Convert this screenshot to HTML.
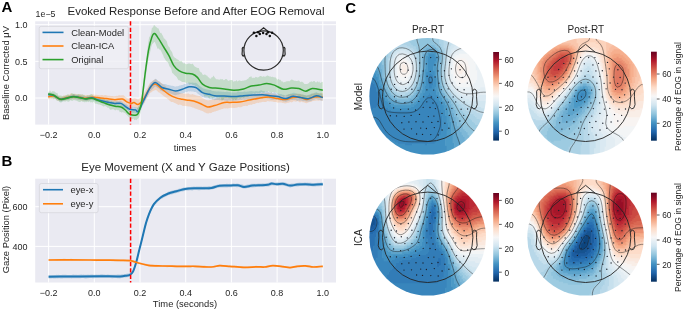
<!DOCTYPE html>
<html><head><meta charset="utf-8"><style>
html,body{margin:0;padding:0;background:#fff;width:685px;height:311px;overflow:hidden;position:relative}
svg text{font-family:"Liberation Sans", sans-serif}
</style></head><body>
<svg width="685" height="311" viewBox="0 0 685 311" style="position:absolute;left:0;top:0;will-change:transform;filter:blur(0.35px)">
<rect width="685" height="311" fill="#fff"/>
<rect x="35.2" y="21.3" width="300.8" height="103.3" fill="#EAEAF2"/>
<line x1="48.60" y1="21.3" x2="48.60" y2="124.6" stroke="#fff" stroke-width="1"/>
<line x1="94.30" y1="21.3" x2="94.30" y2="124.6" stroke="#fff" stroke-width="1"/>
<line x1="140.00" y1="21.3" x2="140.00" y2="124.6" stroke="#fff" stroke-width="1"/>
<line x1="185.70" y1="21.3" x2="185.70" y2="124.6" stroke="#fff" stroke-width="1"/>
<line x1="231.40" y1="21.3" x2="231.40" y2="124.6" stroke="#fff" stroke-width="1"/>
<line x1="277.10" y1="21.3" x2="277.10" y2="124.6" stroke="#fff" stroke-width="1"/>
<line x1="322.80" y1="21.3" x2="322.80" y2="124.6" stroke="#fff" stroke-width="1"/>
<line x1="35.2" y1="98.00" x2="336.0" y2="98.00" stroke="#fff" stroke-width="1"/>
<line x1="35.2" y1="61.35" x2="336.0" y2="61.35" stroke="#fff" stroke-width="1"/>
<line x1="35.2" y1="24.70" x2="336.0" y2="24.70" stroke="#fff" stroke-width="1"/>
<path d="M48.2,94.5 L49.1,94.3 L50.0,94.5 L51.0,94.4 L51.9,94.2 L52.8,93.9 L53.7,93.8 L54.6,94.2 L55.5,94.4 L56.5,94.9 L57.4,95.3 L58.3,95.9 L59.2,96.3 L60.1,96.4 L61.1,96.7 L62.0,96.4 L62.9,96.1 L63.8,95.7 L64.7,95.4 L65.6,95.3 L66.6,95.2 L67.5,94.9 L68.4,94.5 L69.3,94.7 L70.2,93.7 L71.2,93.2 L72.1,93.7 L73.0,94.1 L73.9,94.1 L74.8,93.6 L75.8,94.0 L76.7,94.3 L77.6,94.4 L78.5,94.0 L79.4,93.9 L80.3,94.7 L81.3,94.6 L82.2,94.6 L83.1,95.0 L84.0,95.2 L84.9,95.1 L85.9,95.2 L86.8,95.1 L87.7,95.1 L88.6,95.0 L89.5,95.1 L90.4,94.8 L91.4,94.7 L92.3,94.5 L93.2,94.3 L94.1,94.7 L95.0,94.8 L96.0,94.8 L96.9,94.7 L97.8,94.9 L98.7,94.9 L99.6,95.2 L100.5,95.2 L101.5,94.9 L102.4,95.0 L103.3,95.4 L104.2,95.3 L105.1,95.1 L106.1,95.2 L107.0,95.4 L107.9,95.8 L108.8,95.8 L109.7,95.8 L110.7,95.9 L111.6,96.1 L112.5,95.9 L113.4,96.3 L114.3,96.3 L115.2,96.3 L116.2,95.7 L117.1,95.9 L118.0,95.7 L118.9,95.3 L119.8,95.2 L120.8,95.5 L121.7,95.3 L122.6,95.3 L123.5,95.3 L124.4,96.1 L125.3,97.1 L126.3,97.5 L127.2,98.2 L128.1,98.4 L129.0,98.5 L129.9,98.5 L130.9,98.9 L131.8,98.9 L132.7,98.8 L133.6,98.4 L134.5,98.2 L135.4,98.6 L136.4,98.7 L137.3,99.2 L138.2,99.7 L139.1,98.8 L140.0,98.2 L141.0,97.3 L141.9,96.0 L142.8,94.9 L143.7,93.6 L144.6,92.4 L145.5,90.4 L146.5,89.1 L147.4,87.7 L148.3,85.8 L149.2,84.3 L150.1,82.6 L151.1,81.9 L152.0,81.3 L152.9,80.6 L153.8,80.0 L154.7,79.5 L155.7,79.0 L156.6,80.0 L157.5,80.4 L158.4,81.2 L159.3,81.4 L160.2,81.8 L161.2,83.2 L162.1,83.5 L163.0,84.6 L163.9,84.9 L164.8,85.6 L165.8,86.5 L166.7,86.9 L167.6,87.9 L168.5,88.6 L169.4,89.0 L170.3,89.5 L171.3,89.8 L172.2,90.1 L173.1,90.3 L174.0,90.9 L174.9,91.1 L175.9,91.4 L176.8,92.0 L177.7,92.3 L178.6,92.2 L179.5,92.7 L180.4,93.0 L181.4,93.2 L182.3,93.3 L183.2,93.4 L184.1,93.5 L185.0,93.7 L186.0,93.6 L186.9,93.7 L187.8,93.4 L188.7,93.5 L189.6,94.2 L190.6,94.4 L191.5,94.4 L192.4,93.9 L193.3,94.4 L194.2,94.7 L195.1,95.1 L196.1,95.4 L197.0,95.6 L197.9,96.1 L198.8,96.1 L199.7,96.0 L200.7,96.6 L201.6,97.3 L202.5,98.1 L203.4,98.4 L204.3,99.1 L205.2,99.6 L206.2,100.0 L207.1,100.1 L208.0,100.5 L208.9,100.2 L209.8,100.1 L210.8,99.9 L211.7,99.9 L212.6,99.2 L213.5,99.2 L214.4,99.5 L215.3,98.8 L216.3,98.3 L217.2,98.1 L218.1,98.3 L219.0,97.9 L219.9,97.5 L220.9,97.5 L221.8,97.1 L222.7,97.1 L223.6,96.6 L224.5,96.8 L225.5,96.5 L226.4,95.8 L227.3,96.8 L228.2,96.9 L229.1,96.5 L230.0,96.9 L231.0,96.7 L231.9,96.3 L232.8,96.3 L233.7,96.7 L234.6,96.6 L235.6,96.9 L236.5,96.5 L237.4,96.8 L238.3,96.9 L239.2,96.8 L240.1,96.7 L241.1,96.7 L242.0,96.5 L242.9,96.1 L243.8,96.1 L244.7,95.7 L245.7,95.6 L246.6,95.4 L247.5,95.5 L248.4,95.5 L249.3,95.3 L250.2,95.2 L251.2,95.1 L252.1,94.9 L253.0,94.6 L253.9,94.4 L254.8,93.9 L255.8,94.1 L256.7,93.8 L257.6,93.8 L258.5,93.6 L259.4,93.9 L260.3,93.7 L261.3,93.2 L262.2,93.1 L263.1,93.2 L264.0,93.3 L264.9,93.3 L265.9,93.0 L266.8,93.0 L267.7,92.7 L268.6,92.8 L269.5,93.2 L270.5,93.0 L271.4,93.6 L272.3,93.8 L273.2,94.0 L274.1,93.8 L275.0,94.1 L276.0,94.5 L276.9,94.7 L277.8,95.0 L278.7,95.1 L279.6,95.2 L280.6,95.4 L281.5,95.4 L282.4,95.5 L283.3,95.4 L284.2,95.8 L285.1,95.9 L286.1,95.7 L287.0,95.5 L287.9,94.8 L288.8,94.6 L289.7,94.2 L290.7,94.1 L291.6,94.1 L292.5,93.9 L293.4,93.9 L294.3,94.1 L295.2,93.9 L296.2,93.8 L297.1,93.4 L298.0,93.8 L298.9,94.1 L299.8,93.7 L300.8,93.9 L301.7,94.3 L302.6,94.4 L303.5,94.7 L304.4,95.2 L305.4,95.3 L306.3,95.9 L307.2,95.7 L308.1,95.3 L309.0,95.2 L309.9,94.9 L310.9,94.6 L311.8,93.8 L312.7,93.4 L313.6,93.1 L314.5,93.5 L315.5,93.4 L316.4,93.0 L317.3,93.2 L318.2,93.2 L319.1,93.4 L320.0,93.5 L321.0,93.1 L321.9,92.9 L322.8,93.1 L322.8,100.8 L321.9,100.9 L321.0,100.5 L320.0,100.5 L319.1,100.5 L318.2,100.7 L317.3,100.6 L316.4,100.6 L315.5,100.8 L314.5,100.7 L313.6,101.0 L312.7,101.1 L311.8,101.4 L310.9,102.0 L309.9,101.9 L309.0,102.3 L308.1,102.6 L307.2,103.1 L306.3,103.2 L305.4,102.9 L304.4,102.4 L303.5,102.2 L302.6,102.2 L301.7,101.5 L300.8,102.1 L299.8,102.4 L298.9,101.8 L298.0,101.2 L297.1,101.1 L296.2,101.8 L295.2,101.4 L294.3,101.3 L293.4,101.2 L292.5,101.9 L291.6,102.4 L290.7,101.9 L289.7,102.3 L288.8,102.7 L287.9,102.7 L287.0,102.9 L286.1,103.3 L285.1,103.5 L284.2,103.3 L283.3,103.1 L282.4,102.9 L281.5,102.5 L280.6,102.5 L279.6,102.4 L278.7,102.5 L277.8,102.7 L276.9,102.2 L276.0,102.0 L275.0,102.0 L274.1,102.0 L273.2,101.7 L272.3,101.6 L271.4,101.4 L270.5,101.3 L269.5,101.5 L268.6,101.3 L267.7,101.1 L266.8,101.4 L265.9,101.9 L264.9,102.0 L264.0,102.0 L263.1,101.8 L262.2,102.1 L261.3,102.3 L260.3,102.4 L259.4,102.5 L258.5,102.9 L257.6,102.8 L256.7,103.1 L255.8,103.3 L254.8,104.0 L253.9,103.9 L253.0,104.1 L252.1,104.6 L251.2,104.9 L250.2,104.6 L249.3,104.9 L248.4,105.1 L247.5,105.9 L246.6,105.9 L245.7,105.7 L244.7,106.1 L243.8,106.1 L242.9,106.3 L242.0,106.7 L241.1,107.2 L240.1,107.3 L239.2,107.3 L238.3,107.1 L237.4,107.4 L236.5,107.7 L235.6,107.7 L234.6,108.0 L233.7,107.9 L232.8,107.8 L231.9,108.1 L231.0,107.8 L230.0,107.8 L229.1,108.2 L228.2,108.3 L227.3,108.5 L226.4,108.2 L225.5,108.6 L224.5,108.2 L223.6,108.4 L222.7,108.9 L221.8,109.1 L220.9,109.5 L219.9,109.8 L219.0,110.1 L218.1,110.5 L217.2,110.7 L216.3,110.9 L215.3,111.5 L214.4,111.5 L213.5,112.0 L212.6,112.1 L211.7,112.8 L210.8,113.3 L209.8,112.8 L208.9,113.5 L208.0,113.2 L207.1,113.4 L206.2,113.0 L205.2,112.4 L204.3,112.2 L203.4,111.5 L202.5,111.1 L201.6,110.7 L200.7,110.4 L199.7,110.1 L198.8,109.8 L197.9,109.6 L197.0,108.9 L196.1,108.7 L195.1,108.5 L194.2,107.9 L193.3,107.5 L192.4,107.6 L191.5,107.1 L190.6,106.8 L189.6,106.6 L188.7,106.4 L187.8,106.3 L186.9,106.2 L186.0,105.9 L185.0,105.9 L184.1,105.7 L183.2,106.0 L182.3,105.8 L181.4,105.0 L180.4,104.7 L179.5,104.6 L178.6,105.0 L177.7,104.4 L176.8,104.0 L175.9,103.5 L174.9,103.0 L174.0,102.7 L173.1,102.1 L172.2,101.9 L171.3,101.9 L170.3,101.3 L169.4,100.5 L168.5,99.6 L167.6,99.0 L166.7,98.1 L165.8,97.4 L164.8,96.7 L163.9,96.3 L163.0,95.4 L162.1,94.8 L161.2,94.0 L160.2,93.3 L159.3,92.5 L158.4,92.2 L157.5,91.3 L156.6,90.2 L155.7,89.9 L154.7,90.2 L153.8,90.7 L152.9,90.9 L152.0,91.7 L151.1,92.4 L150.1,92.8 L149.2,94.5 L148.3,95.8 L147.4,97.5 L146.5,98.8 L145.5,100.6 L144.6,102.9 L143.7,103.4 L142.8,104.5 L141.9,105.8 L141.0,106.3 L140.0,107.5 L139.1,108.8 L138.2,109.4 L137.3,108.6 L136.4,108.2 L135.4,107.5 L134.5,107.5 L133.6,107.0 L132.7,107.2 L131.8,107.4 L130.9,107.6 L129.9,107.1 L129.0,106.7 L128.1,106.7 L127.2,106.2 L126.3,105.9 L125.3,105.2 L124.4,104.6 L123.5,103.7 L122.6,102.9 L121.7,102.8 L120.8,102.9 L119.8,102.8 L118.9,102.9 L118.0,103.2 L117.1,103.3 L116.2,103.6 L115.2,103.3 L114.3,103.4 L113.4,103.1 L112.5,103.0 L111.6,102.4 L110.7,102.4 L109.7,102.7 L108.8,102.5 L107.9,102.1 L107.0,101.8 L106.1,101.6 L105.1,101.6 L104.2,101.4 L103.3,101.4 L102.4,101.1 L101.5,100.7 L100.5,101.0 L99.6,100.5 L98.7,100.4 L97.8,100.3 L96.9,100.5 L96.0,100.4 L95.0,100.1 L94.1,100.0 L93.2,99.8 L92.3,99.8 L91.4,99.9 L90.4,100.0 L89.5,100.2 L88.6,100.4 L87.7,100.7 L86.8,100.6 L85.9,100.7 L84.9,100.6 L84.0,100.4 L83.1,100.7 L82.2,100.5 L81.3,100.5 L80.3,100.3 L79.4,99.8 L78.5,99.7 L77.6,99.5 L76.7,99.1 L75.8,99.2 L74.8,99.2 L73.9,99.5 L73.0,99.0 L72.1,98.9 L71.2,99.5 L70.2,99.4 L69.3,99.4 L68.4,99.7 L67.5,99.9 L66.6,99.9 L65.6,100.3 L64.7,100.2 L63.8,100.4 L62.9,100.8 L62.0,100.8 L61.1,101.1 L60.1,101.1 L59.2,101.1 L58.3,100.8 L57.4,100.4 L56.5,99.4 L55.5,99.0 L54.6,99.0 L53.7,98.4 L52.8,98.5 L51.9,98.4 L51.0,98.5 L50.0,99.0 L49.1,99.3 L48.2,99.2Z" fill="#ff7f0e" fill-opacity="0.2"/>
<path d="M48.2,92.9 L49.1,93.0 L50.0,92.6 L51.0,93.2 L51.9,93.5 L52.8,93.2 L53.7,93.5 L54.6,94.2 L55.5,94.8 L56.5,95.3 L57.4,95.9 L58.3,96.4 L59.2,96.7 L60.1,97.4 L61.1,97.4 L62.0,97.1 L62.9,97.1 L63.8,96.9 L64.7,96.5 L65.6,96.5 L66.6,96.3 L67.5,95.9 L68.4,95.8 L69.3,95.7 L70.2,95.5 L71.2,94.9 L72.1,94.8 L73.0,94.6 L73.9,93.8 L74.8,94.5 L75.8,95.0 L76.7,94.8 L77.6,95.0 L78.5,95.1 L79.4,95.4 L80.3,95.7 L81.3,95.8 L82.2,96.1 L83.1,96.2 L84.0,96.3 L84.9,96.4 L85.9,96.7 L86.8,96.8 L87.7,96.2 L88.6,96.4 L89.5,96.3 L90.4,95.8 L91.4,95.9 L92.3,96.0 L93.2,96.4 L94.1,96.6 L95.0,97.0 L96.0,97.3 L96.9,97.3 L97.8,97.4 L98.7,97.4 L99.6,97.6 L100.5,98.1 L101.5,98.6 L102.4,98.9 L103.3,99.2 L104.2,99.4 L105.1,99.6 L106.1,99.8 L107.0,100.0 L107.9,99.9 L108.8,99.5 L109.7,100.1 L110.7,100.5 L111.6,100.3 L112.5,100.7 L113.4,100.9 L114.3,101.2 L115.2,101.2 L116.2,101.1 L117.1,100.8 L118.0,101.2 L118.9,101.0 L119.8,100.7 L120.8,101.1 L121.7,101.6 L122.6,102.3 L123.5,102.9 L124.4,103.5 L125.3,103.9 L126.3,104.3 L127.2,105.1 L128.1,105.8 L129.0,106.4 L129.9,106.6 L130.9,107.0 L131.8,106.9 L132.7,106.8 L133.6,107.0 L134.5,107.0 L135.4,107.1 L136.4,107.4 L137.3,107.7 L138.2,108.1 L139.1,106.4 L140.0,104.6 L141.0,102.8 L141.9,100.9 L142.8,98.8 L143.7,96.5 L144.6,94.7 L145.5,93.0 L146.5,91.3 L147.4,89.7 L148.3,87.5 L149.2,85.8 L150.1,84.0 L151.1,82.6 L152.0,82.0 L152.9,81.0 L153.8,80.3 L154.7,79.3 L155.7,78.8 L156.6,79.3 L157.5,80.4 L158.4,81.0 L159.3,81.6 L160.2,82.4 L161.2,82.9 L162.1,83.7 L163.0,84.0 L163.9,83.9 L164.8,84.0 L165.8,84.2 L166.7,84.5 L167.6,85.1 L168.5,84.9 L169.4,85.3 L170.3,85.6 L171.3,85.8 L172.2,85.8 L173.1,86.1 L174.0,86.1 L174.9,86.8 L175.9,86.6 L176.8,86.3 L177.7,86.2 L178.6,86.1 L179.5,85.6 L180.4,85.6 L181.4,85.1 L182.3,84.9 L183.2,84.7 L184.1,84.0 L185.0,84.0 L186.0,83.8 L186.9,83.1 L187.8,82.9 L188.7,82.5 L189.6,82.6 L190.6,82.8 L191.5,82.8 L192.4,82.6 L193.3,82.8 L194.2,83.0 L195.1,82.8 L196.1,83.0 L197.0,83.5 L197.9,84.5 L198.8,85.2 L199.7,86.1 L200.7,86.8 L201.6,87.3 L202.5,88.0 L203.4,88.5 L204.3,88.7 L205.2,89.0 L206.2,89.2 L207.1,89.4 L208.0,89.6 L208.9,89.9 L209.8,90.0 L210.8,89.9 L211.7,90.8 L212.6,90.9 L213.5,91.1 L214.4,91.3 L215.3,91.2 L216.3,91.5 L217.2,91.4 L218.1,91.3 L219.0,91.4 L219.9,91.6 L220.9,91.5 L221.8,91.7 L222.7,91.8 L223.6,91.8 L224.5,92.0 L225.5,92.0 L226.4,91.8 L227.3,91.7 L228.2,92.1 L229.1,92.3 L230.0,92.1 L231.0,92.5 L231.9,92.2 L232.8,92.5 L233.7,92.6 L234.6,92.4 L235.6,92.4 L236.5,92.5 L237.4,91.8 L238.3,91.6 L239.2,92.1 L240.1,92.0 L241.1,91.9 L242.0,92.1 L242.9,91.9 L243.8,91.8 L244.7,91.6 L245.7,91.8 L246.6,91.7 L247.5,91.5 L248.4,91.5 L249.3,91.3 L250.2,91.3 L251.2,91.1 L252.1,91.3 L253.0,91.2 L253.9,91.4 L254.8,91.4 L255.8,91.1 L256.7,91.2 L257.6,91.2 L258.5,91.4 L259.4,91.1 L260.3,90.5 L261.3,90.2 L262.2,90.8 L263.1,91.2 L264.0,91.1 L264.9,91.4 L265.9,91.3 L266.8,91.6 L267.7,91.4 L268.6,91.8 L269.5,92.2 L270.5,92.4 L271.4,92.5 L272.3,92.8 L273.2,92.7 L274.1,92.3 L275.0,92.5 L276.0,93.0 L276.9,93.4 L277.8,93.3 L278.7,93.7 L279.6,93.9 L280.6,93.9 L281.5,94.1 L282.4,94.8 L283.3,94.8 L284.2,94.9 L285.1,95.4 L286.1,95.1 L287.0,94.7 L287.9,94.6 L288.8,94.1 L289.7,94.1 L290.7,93.5 L291.6,93.4 L292.5,92.9 L293.4,92.7 L294.3,92.7 L295.2,93.0 L296.2,93.4 L297.1,93.8 L298.0,93.9 L298.9,93.8 L299.8,94.0 L300.8,94.3 L301.7,94.7 L302.6,94.5 L303.5,94.7 L304.4,94.9 L305.4,95.2 L306.3,95.3 L307.2,95.2 L308.1,95.0 L309.0,94.7 L309.9,94.5 L310.9,94.1 L311.8,93.6 L312.7,93.8 L313.6,93.7 L314.5,92.7 L315.5,92.5 L316.4,92.0 L317.3,92.8 L318.2,93.0 L319.1,93.4 L320.0,93.2 L321.0,93.3 L321.9,93.9 L322.8,94.6 L322.8,100.7 L321.9,100.5 L321.0,100.7 L320.0,100.0 L319.1,99.6 L318.2,99.8 L317.3,99.3 L316.4,98.9 L315.5,99.1 L314.5,99.5 L313.6,99.7 L312.7,100.1 L311.8,100.7 L310.9,100.9 L309.9,101.2 L309.0,101.6 L308.1,101.6 L307.2,101.4 L306.3,101.6 L305.4,101.2 L304.4,101.1 L303.5,101.2 L302.6,101.0 L301.7,100.8 L300.8,100.6 L299.8,100.8 L298.9,100.5 L298.0,100.4 L297.1,100.9 L296.2,100.3 L295.2,99.8 L294.3,99.9 L293.4,99.7 L292.5,99.9 L291.6,100.0 L290.7,100.1 L289.7,100.5 L288.8,100.7 L287.9,101.0 L287.0,101.4 L286.1,101.7 L285.1,101.8 L284.2,101.3 L283.3,101.5 L282.4,101.0 L281.5,100.6 L280.6,100.8 L279.6,100.3 L278.7,100.0 L277.8,99.7 L276.9,99.7 L276.0,99.5 L275.0,99.4 L274.1,99.6 L273.2,99.7 L272.3,99.8 L271.4,99.8 L270.5,99.4 L269.5,99.0 L268.6,98.8 L267.7,98.7 L266.8,98.6 L265.9,98.5 L264.9,98.4 L264.0,98.3 L263.1,98.5 L262.2,99.1 L261.3,98.7 L260.3,98.4 L259.4,98.8 L258.5,98.6 L257.6,98.5 L256.7,98.5 L255.8,98.5 L254.8,98.7 L253.9,99.0 L253.0,98.7 L252.1,99.0 L251.2,99.3 L250.2,99.0 L249.3,99.1 L248.4,99.0 L247.5,99.1 L246.6,99.2 L245.7,99.5 L244.7,99.7 L243.8,99.6 L242.9,99.6 L242.0,99.7 L241.1,100.1 L240.1,99.8 L239.2,100.1 L238.3,100.3 L237.4,100.3 L236.5,100.4 L235.6,100.4 L234.6,100.6 L233.7,100.8 L232.8,100.9 L231.9,101.0 L231.0,100.9 L230.0,100.6 L229.1,100.4 L228.2,100.6 L227.3,100.9 L226.4,100.8 L225.5,100.5 L224.5,100.4 L223.6,100.1 L222.7,100.3 L221.8,100.2 L220.9,100.0 L219.9,100.4 L219.0,100.0 L218.1,100.1 L217.2,99.9 L216.3,100.0 L215.3,100.1 L214.4,100.3 L213.5,99.6 L212.6,99.5 L211.7,99.3 L210.8,99.0 L209.8,98.9 L208.9,98.6 L208.0,98.3 L207.1,98.3 L206.2,98.2 L205.2,98.0 L204.3,97.7 L203.4,97.1 L202.5,97.2 L201.6,96.4 L200.7,95.7 L199.7,94.9 L198.8,94.5 L197.9,93.7 L197.0,93.2 L196.1,92.0 L195.1,91.9 L194.2,91.9 L193.3,91.6 L192.4,91.4 L191.5,91.5 L190.6,91.2 L189.6,91.4 L188.7,91.3 L187.8,91.4 L186.9,92.2 L186.0,92.1 L185.0,92.3 L184.1,93.0 L183.2,93.1 L182.3,93.5 L181.4,93.6 L180.4,93.7 L179.5,94.0 L178.6,94.4 L177.7,94.6 L176.8,94.7 L175.9,95.2 L174.9,95.1 L174.0,95.0 L173.1,94.5 L172.2,94.2 L171.3,93.7 L170.3,93.5 L169.4,93.4 L168.5,93.3 L167.6,92.7 L166.7,92.5 L165.8,92.3 L164.8,92.0 L163.9,91.8 L163.0,91.6 L162.1,91.3 L161.2,90.8 L160.2,90.4 L159.3,89.1 L158.4,88.5 L157.5,87.9 L156.6,87.2 L155.7,86.6 L154.7,86.7 L153.8,87.7 L152.9,88.8 L152.0,89.6 L151.1,90.4 L150.1,91.5 L149.2,93.1 L148.3,94.8 L147.4,96.6 L146.5,98.2 L145.5,100.0 L144.6,102.1 L143.7,104.0 L142.8,105.5 L141.9,107.3 L141.0,109.3 L140.0,110.9 L139.1,113.1 L138.2,114.3 L137.3,113.7 L136.4,113.3 L135.4,112.7 L134.5,112.4 L133.6,112.9 L132.7,112.8 L131.8,112.1 L130.9,111.9 L129.9,111.8 L129.0,111.0 L128.1,110.5 L127.2,110.0 L126.3,109.5 L125.3,108.6 L124.4,108.0 L123.5,107.6 L122.6,107.0 L121.7,106.6 L120.8,105.9 L119.8,106.1 L118.9,105.9 L118.0,105.9 L117.1,105.7 L116.2,105.6 L115.2,105.9 L114.3,105.7 L113.4,105.5 L112.5,105.1 L111.6,105.3 L110.7,105.7 L109.7,105.9 L108.8,105.0 L107.9,104.5 L107.0,104.5 L106.1,104.1 L105.1,104.2 L104.2,103.7 L103.3,103.8 L102.4,103.3 L101.5,102.8 L100.5,102.5 L99.6,102.3 L98.7,101.9 L97.8,101.9 L96.9,102.1 L96.0,101.7 L95.0,101.0 L94.1,100.5 L93.2,100.4 L92.3,100.0 L91.4,99.9 L90.4,100.3 L89.5,100.5 L88.6,100.2 L87.7,100.6 L86.8,100.9 L85.9,100.7 L84.9,100.7 L84.0,100.6 L83.1,100.2 L82.2,100.2 L81.3,99.8 L80.3,99.9 L79.4,99.6 L78.5,99.6 L77.6,99.6 L76.7,99.5 L75.8,99.3 L74.8,98.8 L73.9,98.5 L73.0,98.6 L72.1,99.0 L71.2,99.2 L70.2,99.2 L69.3,99.2 L68.4,99.7 L67.5,99.8 L66.6,99.9 L65.6,100.0 L64.7,100.2 L63.8,100.5 L62.9,101.0 L62.0,101.4 L61.1,101.5 L60.1,101.6 L59.2,101.1 L58.3,100.1 L57.4,99.3 L56.5,99.4 L55.5,98.7 L54.6,98.3 L53.7,97.3 L52.8,97.3 L51.9,97.0 L51.0,97.2 L50.0,97.3 L49.1,96.7 L48.2,96.2Z" fill="#1f77b4" fill-opacity="0.2"/>
<path d="M48.2,91.4 L49.1,91.9 L50.0,90.3 L51.0,92.0 L51.9,91.8 L52.8,91.0 L53.7,91.4 L54.6,91.5 L55.5,92.6 L56.5,92.9 L57.4,93.1 L58.3,95.5 L59.2,95.5 L60.1,95.6 L61.1,95.5 L62.0,96.1 L62.9,96.5 L63.8,95.6 L64.7,95.9 L65.6,95.6 L66.6,95.0 L67.5,94.3 L68.4,94.5 L69.3,95.2 L70.2,95.0 L71.2,93.4 L72.1,93.2 L73.0,93.6 L73.9,94.1 L74.8,94.5 L75.8,94.6 L76.7,94.7 L77.6,94.2 L78.5,94.1 L79.4,94.4 L80.3,94.0 L81.3,94.8 L82.2,93.9 L83.1,94.9 L84.0,94.6 L84.9,95.9 L85.9,96.1 L86.8,95.8 L87.7,95.3 L88.6,95.4 L89.5,95.1 L90.4,94.4 L91.4,94.1 L92.3,94.5 L93.2,95.5 L94.1,96.5 L95.0,96.5 L96.0,97.1 L96.9,96.9 L97.8,97.6 L98.7,97.7 L99.6,96.5 L100.5,97.9 L101.5,98.4 L102.4,99.3 L103.3,99.2 L104.2,98.5 L105.1,100.5 L106.1,99.4 L107.0,99.8 L107.9,100.1 L108.8,101.2 L109.7,101.9 L110.7,101.4 L111.6,101.0 L112.5,102.3 L113.4,102.1 L114.3,103.1 L115.2,102.9 L116.2,102.3 L117.1,103.1 L118.0,103.5 L118.9,103.1 L119.8,102.5 L120.8,103.7 L121.7,104.0 L122.6,103.0 L123.5,103.9 L124.4,104.8 L125.3,106.4 L126.3,107.1 L127.2,107.2 L128.1,109.4 L129.0,109.9 L129.9,110.7 L130.9,109.4 L131.8,110.4 L132.7,110.4 L133.6,110.3 L134.5,108.9 L135.4,108.4 L136.4,109.9 L137.3,108.3 L138.2,106.3 L139.1,105.4 L140.0,102.7 L141.0,98.9 L141.9,94.4 L142.8,87.1 L143.7,79.5 L144.6,71.4 L145.5,64.4 L146.5,57.8 L147.4,49.4 L148.3,42.2 L149.2,37.0 L150.1,36.2 L151.1,32.4 L152.0,27.4 L152.9,27.8 L153.8,25.2 L154.7,25.3 L155.7,26.8 L156.6,27.3 L157.5,28.3 L158.4,28.2 L159.3,30.5 L160.2,33.1 L161.2,32.8 L162.1,34.5 L163.0,35.9 L163.9,38.6 L164.8,38.8 L165.8,40.3 L166.7,41.0 L167.6,44.4 L168.5,46.5 L169.4,46.9 L170.3,49.8 L171.3,51.1 L172.2,52.6 L173.1,55.6 L174.0,57.1 L174.9,57.7 L175.9,58.3 L176.8,59.2 L177.7,59.5 L178.6,59.9 L179.5,61.1 L180.4,61.2 L181.4,60.8 L182.3,61.9 L183.2,63.6 L184.1,63.0 L185.0,63.5 L186.0,64.2 L186.9,64.2 L187.8,63.8 L188.7,63.5 L189.6,63.5 L190.6,64.1 L191.5,64.2 L192.4,63.6 L193.3,64.5 L194.2,66.0 L195.1,66.7 L196.1,67.2 L197.0,67.8 L197.9,68.0 L198.8,68.0 L199.7,71.1 L200.7,72.2 L201.6,72.6 L202.5,74.6 L203.4,75.1 L204.3,74.6 L205.2,74.5 L206.2,75.4 L207.1,75.5 L208.0,76.9 L208.9,77.6 L209.8,78.4 L210.8,78.7 L211.7,77.3 L212.6,77.2 L213.5,75.5 L214.4,77.1 L215.3,78.2 L216.3,79.3 L217.2,79.2 L218.1,79.5 L219.0,79.4 L219.9,79.7 L220.9,78.7 L221.8,79.5 L222.7,78.9 L223.6,80.2 L224.5,80.1 L225.5,79.1 L226.4,78.9 L227.3,79.8 L228.2,81.1 L229.1,80.4 L230.0,80.2 L231.0,80.0 L231.9,80.1 L232.8,80.5 L233.7,82.0 L234.6,80.9 L235.6,81.2 L236.5,80.1 L237.4,81.5 L238.3,80.9 L239.2,80.3 L240.1,80.7 L241.1,81.1 L242.0,80.9 L242.9,80.4 L243.8,80.7 L244.7,80.2 L245.7,80.2 L246.6,79.8 L247.5,78.9 L248.4,78.6 L249.3,77.0 L250.2,77.1 L251.2,76.1 L252.1,78.2 L253.0,77.5 L253.9,77.9 L254.8,77.8 L255.8,76.8 L256.7,77.3 L257.6,77.5 L258.5,77.2 L259.4,76.6 L260.3,75.9 L261.3,76.0 L262.2,77.1 L263.1,76.3 L264.0,76.6 L264.9,76.7 L265.9,76.5 L266.8,75.8 L267.7,75.5 L268.6,76.1 L269.5,76.5 L270.5,76.5 L271.4,77.0 L272.3,76.8 L273.2,76.9 L274.1,77.4 L275.0,77.3 L276.0,77.7 L276.9,79.3 L277.8,79.7 L278.7,78.7 L279.6,79.9 L280.6,79.8 L281.5,81.6 L282.4,81.3 L283.3,82.4 L284.2,81.9 L285.1,82.2 L286.1,81.2 L287.0,81.5 L287.9,81.0 L288.8,81.2 L289.7,81.2 L290.7,80.1 L291.6,79.6 L292.5,79.8 L293.4,80.3 L294.3,80.7 L295.2,80.8 L296.2,80.9 L297.1,81.1 L298.0,80.7 L298.9,80.5 L299.8,81.6 L300.8,82.3 L301.7,81.6 L302.6,81.9 L303.5,82.8 L304.4,83.9 L305.4,83.9 L306.3,84.0 L307.2,83.9 L308.1,83.5 L309.0,82.9 L309.9,81.7 L310.9,81.8 L311.8,81.3 L312.7,81.9 L313.6,81.0 L314.5,81.1 L315.5,82.3 L316.4,82.4 L317.3,81.0 L318.2,82.4 L319.1,81.3 L320.0,82.7 L321.0,82.7 L321.9,81.8 L322.8,81.9 L322.8,97.1 L321.9,96.7 L321.0,98.3 L320.0,96.7 L319.1,97.0 L318.2,97.8 L317.3,97.5 L316.4,97.8 L315.5,97.0 L314.5,97.2 L313.6,97.3 L312.7,95.3 L311.8,96.1 L310.9,97.0 L309.9,97.4 L309.0,97.0 L308.1,96.8 L307.2,97.9 L306.3,97.8 L305.4,98.1 L304.4,98.1 L303.5,98.2 L302.6,97.5 L301.7,96.2 L300.8,95.8 L299.8,96.9 L298.9,96.5 L298.0,95.9 L297.1,95.2 L296.2,94.9 L295.2,94.9 L294.3,94.9 L293.4,95.4 L292.5,95.6 L291.6,95.4 L290.7,96.0 L289.7,95.5 L288.8,96.7 L287.9,96.1 L287.0,96.8 L286.1,95.8 L285.1,95.9 L284.2,96.2 L283.3,96.7 L282.4,96.0 L281.5,95.8 L280.6,95.8 L279.6,95.6 L278.7,95.0 L277.8,94.0 L276.9,92.9 L276.0,92.8 L275.0,92.2 L274.1,92.4 L273.2,91.9 L272.3,92.0 L271.4,93.3 L270.5,92.2 L269.5,91.9 L268.6,91.1 L267.7,91.4 L266.8,92.2 L265.9,90.8 L264.9,92.4 L264.0,92.6 L263.1,92.9 L262.2,92.2 L261.3,92.0 L260.3,93.1 L259.4,93.8 L258.5,93.0 L257.6,93.5 L256.7,92.9 L255.8,93.4 L254.8,94.3 L253.9,93.6 L253.0,93.5 L252.1,94.1 L251.2,95.0 L250.2,94.3 L249.3,94.9 L248.4,96.9 L247.5,96.9 L246.6,97.0 L245.7,96.5 L244.7,97.0 L243.8,98.2 L242.9,97.0 L242.0,97.7 L241.1,97.7 L240.1,99.0 L239.2,98.0 L238.3,98.0 L237.4,98.2 L236.5,99.6 L235.6,100.2 L234.6,98.7 L233.7,99.8 L232.8,99.8 L231.9,98.7 L231.0,98.3 L230.0,98.2 L229.1,98.5 L228.2,98.0 L227.3,97.8 L226.4,98.1 L225.5,97.9 L224.5,97.8 L223.6,99.5 L222.7,100.1 L221.8,100.9 L220.9,97.8 L219.9,97.7 L219.0,99.0 L218.1,97.3 L217.2,98.5 L216.3,97.2 L215.3,96.8 L214.4,97.4 L213.5,97.5 L212.6,98.7 L211.7,97.7 L210.8,96.6 L209.8,98.3 L208.9,97.9 L208.0,97.6 L207.1,95.9 L206.2,96.7 L205.2,96.3 L204.3,96.7 L203.4,94.3 L202.5,93.3 L201.6,93.4 L200.7,91.2 L199.7,90.6 L198.8,89.7 L197.9,87.3 L197.0,86.4 L196.1,86.0 L195.1,85.7 L194.2,85.1 L193.3,85.0 L192.4,84.8 L191.5,84.0 L190.6,84.1 L189.6,84.7 L188.7,83.8 L187.8,82.4 L186.9,83.2 L186.0,83.0 L185.0,82.2 L184.1,81.9 L183.2,81.9 L182.3,81.9 L181.4,81.5 L180.4,80.7 L179.5,80.3 L178.6,80.3 L177.7,79.1 L176.8,77.3 L175.9,76.2 L174.9,75.4 L174.0,74.5 L173.1,73.5 L172.2,72.9 L171.3,69.0 L170.3,67.3 L169.4,66.2 L168.5,63.6 L167.6,62.1 L166.7,61.6 L165.8,60.6 L164.8,58.7 L163.9,57.5 L163.0,55.0 L162.1,53.3 L161.2,51.2 L160.2,49.5 L159.3,49.5 L158.4,48.2 L157.5,48.8 L156.6,46.2 L155.7,44.0 L154.7,41.8 L153.8,42.6 L152.9,43.4 L152.0,44.5 L151.1,47.6 L150.1,52.2 L149.2,55.0 L148.3,59.7 L147.4,64.8 L146.5,71.2 L145.5,78.5 L144.6,85.7 L143.7,92.3 L142.8,98.5 L141.9,106.7 L141.0,110.8 L140.0,114.6 L139.1,117.3 L138.2,118.6 L137.3,118.9 L136.4,120.2 L135.4,119.6 L134.5,120.3 L133.6,118.6 L132.7,118.9 L131.8,119.1 L130.9,118.4 L129.9,117.7 L129.0,117.2 L128.1,116.6 L127.2,115.2 L126.3,114.5 L125.3,113.3 L124.4,112.7 L123.5,112.6 L122.6,112.0 L121.7,112.7 L120.8,111.7 L119.8,112.2 L118.9,109.9 L118.0,110.4 L117.1,109.8 L116.2,109.7 L115.2,110.5 L114.3,109.7 L113.4,109.2 L112.5,109.2 L111.6,109.4 L110.7,109.7 L109.7,109.2 L108.8,107.6 L107.9,107.9 L107.0,107.0 L106.1,106.4 L105.1,106.1 L104.2,106.3 L103.3,106.5 L102.4,105.7 L101.5,105.2 L100.5,105.1 L99.6,104.4 L98.7,104.5 L97.8,104.3 L96.9,103.7 L96.0,103.7 L95.0,103.5 L94.1,102.0 L93.2,101.7 L92.3,102.8 L91.4,101.9 L90.4,102.6 L89.5,101.3 L88.6,102.2 L87.7,101.5 L86.8,102.2 L85.9,101.8 L84.9,102.4 L84.0,101.8 L83.1,102.0 L82.2,101.4 L81.3,101.1 L80.3,101.9 L79.4,102.1 L78.5,101.8 L77.6,101.2 L76.7,100.8 L75.8,100.5 L74.8,100.3 L73.9,100.1 L73.0,100.6 L72.1,101.0 L71.2,100.5 L70.2,100.3 L69.3,101.6 L68.4,101.8 L67.5,101.5 L66.6,100.9 L65.6,101.4 L64.7,101.4 L63.8,101.2 L62.9,101.4 L62.0,101.8 L61.1,102.7 L60.1,102.3 L59.2,101.9 L58.3,100.5 L57.4,101.0 L56.5,100.5 L55.5,98.8 L54.6,98.3 L53.7,99.4 L52.8,97.9 L51.9,98.9 L51.0,97.4 L50.0,97.4 L49.1,98.2 L48.2,98.0Z" fill="#2ca02c" fill-opacity="0.2"/>
<path d="M48.2,96.8 C49.1,96.7 51.8,95.6 53.8,96.0 C55.8,96.4 58.1,98.8 60.3,99.0 C62.5,99.2 64.7,97.9 66.9,97.5 C69.1,97.1 71.3,96.5 73.5,96.4 C75.7,96.4 77.9,96.9 80.0,97.2 C82.1,97.5 84.0,98.2 85.9,98.2 C87.9,98.2 89.8,97.3 91.7,97.2 C93.7,97.1 95.6,97.4 97.6,97.6 C99.5,97.8 101.5,98.0 103.4,98.2 C105.3,98.4 107.3,98.8 109.2,99.0 C111.1,99.2 112.8,99.7 115.0,99.7 C117.2,99.7 120.4,98.6 122.4,99.0 C124.4,99.4 125.3,101.2 126.8,101.9 C128.2,102.6 129.9,103.3 131.1,103.4 C132.3,103.5 132.8,102.4 134.0,102.6 C135.2,102.8 136.8,105.0 138.4,104.4 C140.0,103.9 141.4,102.1 143.4,99.3 C145.4,96.5 148.2,90.0 150.2,87.5 C152.2,85.0 153.3,83.8 155.3,84.1 C157.3,84.4 159.8,87.5 162.0,89.2 C164.2,90.9 166.6,92.9 168.8,94.3 C171.1,95.7 173.2,96.8 175.5,97.6 C177.8,98.4 180.1,98.8 182.3,99.3 C184.6,99.8 186.8,99.9 189.0,100.3 C191.2,100.7 193.6,101.0 195.8,101.7 C198.1,102.4 200.5,103.7 202.5,104.6 C204.5,105.5 205.6,106.8 207.6,107.0 C209.6,107.2 211.8,106.2 214.6,105.5 C217.4,104.8 221.7,103.0 224.3,102.5 C226.9,102.0 227.4,102.5 230.0,102.4 C232.6,102.3 236.5,102.4 239.7,102.0 C242.9,101.6 246.1,100.7 249.3,100.1 C252.5,99.5 255.8,98.7 259.0,98.2 C262.2,97.7 265.5,96.9 268.6,97.0 C271.7,97.1 274.9,98.2 277.7,98.6 C280.5,99.0 282.8,99.7 285.4,99.5 C288.0,99.3 290.5,97.9 293.1,97.6 C295.7,97.3 298.6,97.3 300.9,97.6 C303.1,97.9 304.4,99.6 306.6,99.5 C308.9,99.4 311.7,97.4 314.4,97.0 C317.1,96.6 321.4,97.0 322.8,97.0" fill="none" stroke="#ff7f0e" stroke-width="1.5" stroke-linejoin="round"/>
<path d="M48.2,94.6 C49.1,94.8 51.8,94.7 53.8,95.5 C55.8,96.3 58.1,98.9 60.3,99.3 C62.5,99.7 64.7,98.5 66.9,98.0 C69.1,97.5 71.3,96.6 73.5,96.5 C75.7,96.4 77.9,97.1 80.0,97.5 C82.1,97.9 84.0,98.8 85.9,98.8 C87.9,98.8 89.8,97.6 91.7,97.8 C93.7,98.0 95.6,99.1 97.6,99.7 C99.5,100.3 101.5,100.7 103.4,101.2 C105.3,101.7 107.3,102.2 109.2,102.6 C111.1,103.0 113.0,103.3 115.0,103.4 C117.0,103.5 119.2,102.9 120.9,103.4 C122.6,103.9 123.8,105.3 125.3,106.3 C126.8,107.3 128.0,108.6 129.7,109.2 C131.4,109.8 134.1,109.5 135.5,109.9 C136.9,110.3 137.1,112.9 138.4,111.4 C139.7,109.9 141.4,105.0 143.4,101.0 C145.4,97.0 148.2,90.6 150.2,87.5 C152.2,84.4 153.3,82.4 155.3,82.4 C157.3,82.4 159.8,86.4 162.0,87.5 C164.2,88.6 166.6,88.6 168.8,89.2 C171.1,89.8 173.2,90.9 175.5,90.9 C177.8,90.9 180.1,89.9 182.3,89.2 C184.6,88.5 186.8,87.1 189.0,86.8 C191.2,86.5 193.6,86.5 195.8,87.5 C198.1,88.5 200.2,91.5 202.5,92.6 C204.8,93.7 207.3,93.8 209.3,94.3 C211.3,94.8 212.1,95.4 214.6,95.7 C217.1,96.0 221.1,95.8 224.3,96.0 C227.5,96.2 230.7,96.6 233.9,96.6 C237.1,96.5 240.4,96.0 243.6,95.7 C246.8,95.5 250.0,95.3 253.2,95.1 C256.4,94.9 260.0,94.6 262.8,94.7 C265.6,94.8 267.5,95.4 270.0,95.7 C272.5,96.0 275.1,96.1 277.7,96.6 C280.3,97.1 282.8,98.6 285.4,98.6 C288.0,98.5 290.5,96.5 293.1,96.3 C295.7,96.1 298.3,97.2 300.9,97.6 C303.5,98.0 306.0,98.9 308.6,98.6 C311.2,98.3 313.9,95.9 316.3,95.7 C318.7,95.5 321.7,97.3 322.8,97.6" fill="none" stroke="#1f77b4" stroke-width="1.5" stroke-linejoin="round"/>
<path d="M48.2,93.9 C49.1,94.1 51.8,94.4 53.8,95.3 C55.8,96.2 58.1,98.8 60.3,99.3 C62.5,99.8 64.7,98.6 66.9,98.2 C69.1,97.8 71.3,96.9 73.5,96.8 C75.7,96.7 77.9,97.4 80.0,97.8 C82.1,98.2 84.0,98.9 85.9,99.0 C87.9,99.1 89.8,98.0 91.7,98.2 C93.7,98.4 95.6,99.7 97.6,100.4 C99.5,101.1 101.5,101.9 103.4,102.6 C105.3,103.3 107.3,104.2 109.2,104.8 C111.1,105.4 113.0,105.9 115.0,106.3 C117.0,106.7 119.2,106.4 120.9,107.0 C122.6,107.6 123.8,108.8 125.3,110.0 C126.8,111.2 127.7,113.5 129.7,114.3 C131.6,115.1 135.4,115.4 137.0,114.7 C138.6,114.0 138.7,112.3 139.5,110.0 C140.3,107.7 140.9,107.0 141.8,101.0 C142.7,95.0 144.0,82.4 145.1,74.0 C146.2,65.6 147.4,56.6 148.5,50.4 C149.6,44.2 150.9,39.7 151.9,36.9 C152.9,34.1 153.5,33.2 154.6,33.5 C155.7,33.8 157.1,36.4 158.6,38.6 C160.1,40.9 162.0,44.2 163.7,47.0 C165.4,49.8 167.1,52.3 168.8,55.4 C170.5,58.5 172.1,63.1 173.8,65.6 C175.5,68.1 176.9,69.3 178.9,70.6 C180.9,71.9 183.3,72.7 185.6,73.3 C187.8,73.9 190.4,73.3 192.4,74.0 C194.4,74.7 195.7,75.7 197.4,77.4 C199.1,79.1 200.5,82.4 202.5,84.1 C204.5,85.8 207.3,86.8 209.3,87.5 C211.3,88.2 212.1,87.8 214.6,88.0 C217.1,88.2 221.1,88.5 224.3,88.9 C227.5,89.3 230.7,90.3 233.9,90.3 C237.1,90.3 240.7,89.6 243.6,88.9 C246.5,88.2 248.7,86.6 251.3,86.0 C253.9,85.4 256.4,85.5 259.0,85.1 C261.6,84.7 264.1,83.5 266.7,83.5 C269.3,83.5 271.6,84.1 274.4,85.1 C277.2,86.1 280.7,88.8 283.5,89.3 C286.3,89.8 288.6,88.1 291.2,88.0 C293.8,87.9 296.5,88.0 298.9,88.5 C301.3,89.0 303.4,91.2 305.7,91.2 C307.9,91.2 309.5,88.7 312.4,88.5 C315.2,88.3 321.1,90.0 322.8,90.3" fill="none" stroke="#2ca02c" stroke-width="1.5" stroke-linejoin="round"/>
<line x1="130.5" y1="21.3" x2="130.5" y2="124.6" stroke="#ff0000" stroke-width="1.5" stroke-dasharray="4.3 2.1"/>
<rect x="39.2" y="26.4" width="89.2" height="42.3" rx="2" fill="#EEEEF4" fill-opacity="0.85" stroke="#D5D5DC" stroke-width="0.8"/>
<line x1="42.5" y1="32.4" x2="63.5" y2="32.4" stroke="#1f77b4" stroke-width="1.6"/>
<text x="71.2" y="35.699999999999996" font-size="9.35" fill="#262626">Clean-Model</text>
<line x1="42.5" y1="46.0" x2="63.5" y2="46.0" stroke="#ff7f0e" stroke-width="1.6"/>
<text x="71.2" y="49.3" font-size="9.35" fill="#262626">Clean-ICA</text>
<line x1="42.5" y1="59.599999999999994" x2="63.5" y2="59.599999999999994" stroke="#2ca02c" stroke-width="1.6"/>
<text x="71.2" y="62.89999999999999" font-size="9.35" fill="#262626">Original</text>
<g fill="none" stroke="#2a2a2a" stroke-width="1.2">
<circle cx="263.6" cy="50.5" r="19.7"/>
<path d="M259.47,31.24 L263.60,27.85 L267.73,31.24 M244.02,48.31 L243.51,47.45 L243.19,47.41 L242.72,47.56 L242.25,48.31 L242.32,50.72 L242.05,54.17 L242.64,55.67 L243.51,55.95 L244.33,55.22 M283.18,48.31 L283.69,47.45 L284.01,47.41 L284.48,47.56 L284.95,48.31 L284.88,50.72 L285.15,54.17 L284.56,55.67 L283.69,55.95 L282.87,55.22"/>
</g>
<circle cx="253.9" cy="32.7" r="1.25" fill="#111"/>
<circle cx="256.4" cy="36.1" r="1.25" fill="#111"/>
<circle cx="258.2" cy="32.2" r="1.25" fill="#111"/>
<circle cx="259.8" cy="34.0" r="1.25" fill="#111"/>
<circle cx="263.1" cy="33.0" r="1.25" fill="#111"/>
<circle cx="266.5" cy="34.0" r="1.25" fill="#111"/>
<circle cx="268.0" cy="32.2" r="1.25" fill="#111"/>
<circle cx="269.8" cy="36.1" r="1.25" fill="#111"/>
<circle cx="272.1" cy="32.7" r="1.25" fill="#111"/>
<rect x="35.2" y="178.7" width="300.8" height="103.8" fill="#EAEAF2"/>
<line x1="48.60" y1="178.7" x2="48.60" y2="282.5" stroke="#fff" stroke-width="1"/>
<line x1="94.30" y1="178.7" x2="94.30" y2="282.5" stroke="#fff" stroke-width="1"/>
<line x1="140.00" y1="178.7" x2="140.00" y2="282.5" stroke="#fff" stroke-width="1"/>
<line x1="185.70" y1="178.7" x2="185.70" y2="282.5" stroke="#fff" stroke-width="1"/>
<line x1="231.40" y1="178.7" x2="231.40" y2="282.5" stroke="#fff" stroke-width="1"/>
<line x1="277.10" y1="178.7" x2="277.10" y2="282.5" stroke="#fff" stroke-width="1"/>
<line x1="322.80" y1="178.7" x2="322.80" y2="282.5" stroke="#fff" stroke-width="1"/>
<line x1="35.2" y1="246.40" x2="336.0" y2="246.40" stroke="#fff" stroke-width="1"/>
<line x1="35.2" y1="206.70" x2="336.0" y2="206.70" stroke="#fff" stroke-width="1"/>
<path d="M48.6,275.0 L49.5,274.9 L50.4,275.1 L51.4,275.0 L52.3,275.0 L53.2,275.1 L54.1,275.0 L55.0,275.0 L55.9,274.9 L56.9,274.8 L57.8,275.0 L58.7,274.8 L59.6,274.9 L60.5,274.9 L61.4,275.0 L62.4,274.8 L63.3,274.7 L64.2,274.8 L65.1,274.7 L66.0,274.8 L66.9,274.9 L67.9,274.9 L68.8,274.9 L69.7,274.9 L70.6,274.9 L71.5,274.9 L72.4,274.8 L73.4,274.6 L74.3,274.8 L75.2,274.7 L76.1,274.8 L77.0,274.8 L77.9,274.9 L78.9,274.8 L79.8,274.7 L80.7,274.6 L81.6,274.6 L82.5,274.7 L83.4,274.6 L84.4,274.8 L85.3,274.8 L86.2,274.8 L87.1,274.7 L88.0,274.5 L89.0,274.7 L89.9,274.7 L90.8,274.6 L91.7,274.6 L92.6,274.5 L93.5,274.7 L94.5,274.7 L95.4,274.7 L96.3,274.6 L97.2,274.7 L98.1,274.5 L99.0,274.7 L100.0,274.6 L100.9,274.3 L101.8,274.3 L102.7,274.3 L103.6,274.5 L104.5,274.6 L105.5,274.7 L106.4,274.7 L107.3,274.6 L108.2,274.6 L109.1,274.7 L110.0,274.7 L111.0,274.7 L111.9,274.8 L112.8,274.7 L113.7,274.7 L114.6,274.7 L115.5,274.8 L116.5,274.7 L117.4,274.6 L118.3,274.4 L119.2,274.6 L120.1,274.7 L121.0,274.6 L122.0,274.3 L122.9,274.3 L123.8,274.2 L124.7,274.0 L125.6,273.9 L126.5,273.7 L127.5,273.6 L128.4,273.4 L129.3,273.3 L130.2,272.8 L131.1,271.8 L132.1,270.9 L133.0,270.0 L133.9,267.1 L134.8,264.4 L135.7,261.8 L136.6,259.0 L137.6,255.3 L138.5,251.6 L139.4,247.8 L140.3,244.1 L141.2,240.5 L142.1,236.9 L143.1,233.2 L144.0,229.4 L144.9,225.6 L145.8,222.1 L146.7,219.3 L147.6,216.5 L148.6,213.7 L149.5,211.4 L150.4,209.6 L151.3,207.7 L152.2,205.8 L153.1,203.8 L154.1,202.2 L155.0,201.4 L155.9,200.5 L156.8,199.5 L157.7,198.5 L158.6,197.7 L159.6,196.8 L160.5,195.9 L161.4,195.5 L162.3,194.9 L163.2,194.4 L164.1,194.1 L165.1,193.6 L166.0,193.2 L166.9,192.7 L167.8,192.1 L168.7,191.6 L169.7,191.4 L170.6,191.1 L171.5,190.8 L172.4,190.5 L173.3,190.3 L174.2,190.1 L175.2,190.0 L176.1,189.7 L177.0,189.5 L177.9,189.2 L178.8,188.8 L179.7,188.6 L180.7,188.6 L181.6,188.3 L182.5,187.9 L183.4,187.6 L184.3,187.5 L185.2,187.4 L186.2,187.3 L187.1,187.0 L188.0,186.9 L188.9,187.1 L189.8,187.0 L190.7,186.9 L191.7,186.8 L192.6,186.8 L193.5,186.6 L194.4,186.6 L195.3,186.7 L196.2,186.5 L197.2,186.6 L198.1,186.6 L199.0,186.5 L199.9,186.5 L200.8,186.6 L201.7,186.4 L202.7,186.7 L203.6,186.6 L204.5,186.4 L205.4,186.5 L206.3,186.4 L207.3,186.5 L208.2,186.3 L209.1,186.1 L210.0,186.3 L210.9,186.3 L211.8,186.2 L212.8,185.9 L213.7,185.6 L214.6,185.1 L215.5,184.9 L216.4,184.9 L217.3,184.6 L218.3,184.4 L219.2,184.2 L220.1,184.0 L221.0,184.2 L221.9,184.0 L222.8,183.9 L223.8,184.1 L224.7,184.1 L225.6,184.1 L226.5,183.8 L227.4,183.8 L228.3,184.0 L229.3,183.8 L230.2,183.9 L231.1,183.9 L232.0,183.8 L232.9,183.5 L233.8,183.5 L234.8,183.7 L235.7,183.7 L236.6,183.6 L237.5,183.6 L238.4,183.7 L239.3,184.0 L240.3,184.2 L241.2,184.2 L242.1,184.3 L243.0,184.7 L243.9,185.0 L244.9,185.0 L245.8,184.9 L246.7,184.8 L247.6,184.6 L248.5,184.5 L249.4,184.2 L250.4,184.0 L251.3,183.8 L252.2,183.8 L253.1,183.7 L254.0,183.7 L254.9,183.7 L255.9,183.7 L256.8,183.7 L257.7,183.6 L258.6,183.4 L259.5,183.4 L260.4,183.6 L261.4,183.5 L262.3,183.3 L263.2,183.2 L264.1,183.4 L265.0,183.3 L265.9,183.2 L266.9,183.2 L267.8,183.0 L268.7,182.8 L269.6,182.4 L270.5,182.1 L271.4,182.0 L272.4,182.0 L273.3,182.0 L274.2,182.2 L275.1,182.4 L276.0,182.5 L276.9,182.3 L277.9,182.3 L278.8,182.3 L279.7,182.3 L280.6,182.2 L281.5,182.2 L282.4,182.2 L283.4,182.2 L284.3,182.3 L285.2,182.5 L286.1,182.7 L287.0,183.1 L288.0,183.4 L288.9,183.7 L289.8,183.9 L290.7,183.8 L291.6,183.6 L292.5,183.6 L293.5,183.4 L294.4,183.3 L295.3,183.2 L296.2,182.9 L297.1,183.0 L298.0,182.8 L299.0,182.8 L299.9,182.6 L300.8,182.8 L301.7,182.7 L302.6,182.7 L303.5,182.7 L304.5,182.5 L305.4,182.6 L306.3,182.7 L307.2,182.6 L308.1,182.8 L309.0,182.7 L310.0,182.8 L310.9,182.8 L311.8,183.1 L312.7,183.1 L313.6,183.1 L314.5,183.1 L315.5,183.0 L316.4,182.9 L317.3,182.7 L318.2,182.7 L319.1,182.8 L320.0,182.7 L321.0,182.6 L321.9,182.6 L322.8,182.6 L322.8,186.0 L321.9,186.1 L321.0,186.0 L320.0,186.1 L319.1,186.2 L318.2,186.2 L317.3,186.3 L316.4,186.3 L315.5,186.4 L314.5,186.6 L313.6,186.5 L312.7,186.5 L311.8,186.3 L310.9,186.3 L310.0,186.1 L309.0,186.2 L308.1,186.3 L307.2,186.1 L306.3,186.1 L305.4,186.0 L304.5,185.9 L303.5,185.9 L302.6,185.9 L301.7,186.0 L300.8,186.1 L299.9,186.1 L299.0,186.2 L298.0,186.4 L297.1,186.4 L296.2,186.6 L295.3,186.6 L294.4,186.7 L293.5,186.8 L292.5,187.0 L291.6,187.1 L290.7,187.4 L289.8,187.4 L288.9,187.1 L288.0,186.9 L287.0,186.5 L286.1,186.3 L285.2,186.0 L284.3,185.9 L283.4,185.8 L282.4,185.5 L281.5,185.6 L280.6,185.7 L279.7,185.8 L278.8,185.9 L277.9,185.8 L276.9,185.8 L276.0,185.8 L275.1,185.8 L274.2,185.6 L273.3,185.6 L272.4,185.3 L271.4,185.4 L270.5,186.0 L269.6,186.2 L268.7,186.5 L267.8,186.6 L266.9,186.5 L265.9,186.5 L265.0,186.6 L264.1,186.7 L263.2,186.8 L262.3,186.7 L261.4,186.8 L260.4,186.8 L259.5,186.9 L258.6,186.9 L257.7,187.0 L256.8,187.0 L255.9,187.0 L254.9,187.2 L254.0,187.3 L253.1,187.5 L252.2,187.4 L251.3,187.4 L250.4,187.5 L249.4,187.9 L248.5,188.0 L247.6,188.1 L246.7,188.3 L245.8,188.4 L244.9,188.6 L243.9,188.6 L243.0,188.4 L242.1,188.0 L241.2,187.8 L240.3,187.5 L239.3,187.3 L238.4,187.0 L237.5,187.2 L236.6,187.2 L235.7,187.1 L234.8,187.0 L233.8,187.1 L232.9,187.1 L232.0,187.3 L231.1,187.3 L230.2,187.3 L229.3,187.3 L228.3,187.2 L227.4,187.4 L226.5,187.5 L225.6,187.4 L224.7,187.4 L223.8,187.4 L222.8,187.4 L221.9,187.4 L221.0,187.4 L220.1,187.4 L219.2,187.6 L218.3,187.9 L217.3,188.1 L216.4,188.2 L215.5,188.5 L214.6,188.8 L213.7,189.1 L212.8,189.3 L211.8,189.5 L210.9,189.6 L210.0,189.7 L209.1,189.9 L208.2,189.9 L207.3,189.8 L206.3,189.8 L205.4,189.8 L204.5,189.9 L203.6,190.0 L202.7,190.1 L201.7,190.1 L200.8,190.1 L199.9,190.2 L199.0,190.2 L198.1,190.2 L197.2,190.0 L196.2,189.9 L195.3,190.0 L194.4,190.0 L193.5,190.1 L192.6,190.4 L191.7,190.4 L190.7,190.2 L189.8,190.3 L188.9,190.5 L188.0,190.6 L187.1,190.6 L186.2,190.6 L185.2,190.6 L184.3,191.0 L183.4,191.3 L182.5,191.4 L181.6,191.6 L180.7,191.8 L179.7,192.1 L178.8,192.4 L177.9,192.7 L177.0,192.9 L176.1,193.0 L175.2,193.4 L174.2,193.6 L173.3,193.9 L172.4,194.2 L171.5,194.4 L170.6,194.6 L169.7,195.1 L168.7,195.0 L167.8,195.5 L166.9,196.1 L166.0,196.5 L165.1,197.0 L164.1,197.3 L163.2,198.0 L162.3,198.6 L161.4,198.8 L160.5,199.3 L159.6,200.2 L158.6,201.1 L157.7,202.1 L156.8,203.2 L155.9,204.1 L155.0,204.7 L154.1,205.7 L153.1,207.3 L152.2,209.2 L151.3,211.1 L150.4,212.8 L149.5,214.8 L148.6,217.2 L147.6,219.8 L146.7,222.5 L145.8,225.4 L144.9,229.3 L144.0,233.0 L143.1,236.5 L142.1,240.4 L141.2,243.9 L140.3,247.5 L139.4,251.3 L138.5,255.2 L137.6,258.8 L136.6,262.3 L135.7,265.3 L134.8,268.0 L133.9,270.7 L133.0,273.3 L132.1,274.2 L131.1,275.2 L130.2,276.4 L129.3,277.0 L128.4,277.1 L127.5,277.2 L126.5,277.2 L125.6,277.4 L124.7,277.5 L123.8,277.6 L122.9,277.7 L122.0,278.0 L121.0,278.1 L120.1,278.4 L119.2,278.2 L118.3,278.2 L117.4,278.2 L116.5,278.1 L115.5,278.1 L114.6,278.1 L113.7,278.1 L112.8,278.2 L111.9,278.2 L111.0,278.0 L110.0,278.0 L109.1,278.1 L108.2,278.1 L107.3,278.0 L106.4,278.0 L105.5,278.0 L104.5,278.0 L103.6,278.0 L102.7,278.0 L101.8,278.1 L100.9,278.1 L100.0,278.0 L99.0,278.0 L98.1,278.1 L97.2,278.1 L96.3,277.9 L95.4,278.0 L94.5,278.2 L93.5,278.2 L92.6,278.2 L91.7,278.0 L90.8,278.1 L89.9,278.0 L89.0,278.0 L88.0,278.2 L87.1,278.2 L86.2,278.4 L85.3,278.4 L84.4,278.2 L83.4,278.1 L82.5,278.1 L81.6,278.1 L80.7,278.2 L79.8,278.2 L78.9,278.2 L77.9,278.3 L77.0,278.3 L76.1,278.2 L75.2,278.3 L74.3,278.2 L73.4,278.2 L72.4,278.3 L71.5,278.4 L70.6,278.2 L69.7,278.2 L68.8,278.2 L67.9,278.2 L66.9,278.3 L66.0,278.2 L65.1,278.2 L64.2,278.3 L63.3,278.2 L62.4,278.4 L61.4,278.4 L60.5,278.4 L59.6,278.2 L58.7,278.3 L57.8,278.4 L56.9,278.3 L55.9,278.4 L55.0,278.4 L54.1,278.5 L53.2,278.5 L52.3,278.3 L51.4,278.4 L50.4,278.5 L49.5,278.5 L48.6,278.4Z" fill="#1f77b4" fill-opacity="0.25"/>
<path d="M48.6,259.0 L49.5,259.2 L50.4,259.1 L51.4,259.1 L52.3,259.0 L53.2,259.0 L54.1,258.9 L55.0,259.0 L55.9,259.0 L56.9,259.1 L57.8,259.1 L58.7,259.0 L59.6,259.0 L60.5,259.0 L61.4,259.0 L62.4,258.9 L63.3,258.8 L64.2,258.8 L65.1,258.8 L66.0,259.0 L66.9,259.0 L67.9,258.9 L68.8,259.0 L69.7,258.9 L70.6,258.8 L71.5,258.8 L72.4,258.9 L73.4,259.0 L74.3,259.0 L75.2,258.9 L76.1,259.0 L77.0,259.0 L77.9,259.0 L78.9,259.0 L79.8,259.1 L80.7,259.1 L81.6,259.0 L82.5,259.1 L83.4,259.1 L84.4,259.1 L85.3,259.1 L86.2,259.1 L87.1,259.1 L88.0,259.2 L89.0,259.1 L89.9,259.1 L90.8,259.1 L91.7,259.2 L92.6,259.2 L93.5,259.2 L94.5,259.2 L95.4,259.1 L96.3,259.2 L97.2,259.2 L98.1,259.1 L99.0,259.1 L100.0,259.2 L100.9,259.3 L101.8,259.3 L102.7,259.3 L103.6,259.2 L104.5,259.2 L105.5,259.2 L106.4,259.3 L107.3,259.3 L108.2,259.2 L109.1,259.3 L110.0,259.3 L111.0,259.4 L111.9,259.3 L112.8,259.3 L113.7,259.3 L114.6,259.4 L115.5,259.4 L116.5,259.4 L117.4,259.4 L118.3,259.4 L119.2,259.4 L120.1,259.5 L121.0,259.5 L122.0,259.5 L122.9,259.6 L123.8,259.6 L124.7,259.6 L125.6,259.6 L126.5,259.7 L127.5,259.7 L128.4,259.8 L129.3,259.8 L130.2,259.9 L131.1,259.9 L132.1,260.3 L133.0,260.5 L133.9,260.8 L134.8,261.1 L135.7,261.2 L136.6,261.5 L137.6,261.9 L138.5,262.2 L139.4,262.4 L140.3,262.5 L141.2,262.8 L142.1,262.9 L143.1,263.2 L144.0,263.3 L144.9,263.4 L145.8,263.7 L146.7,263.8 L147.6,264.0 L148.6,264.2 L149.5,264.3 L150.4,264.4 L151.3,264.6 L152.2,264.5 L153.1,264.6 L154.1,264.7 L155.0,264.7 L155.9,264.8 L156.8,264.8 L157.7,265.0 L158.6,265.0 L159.6,265.0 L160.5,265.0 L161.4,264.9 L162.3,265.2 L163.2,265.1 L164.1,265.0 L165.1,265.1 L166.0,265.3 L166.9,265.3 L167.8,265.3 L168.7,265.2 L169.7,265.2 L170.6,265.2 L171.5,265.4 L172.4,265.3 L173.3,265.4 L174.2,265.3 L175.2,265.4 L176.1,265.3 L177.0,265.4 L177.9,265.4 L178.8,265.5 L179.7,265.5 L180.7,265.4 L181.6,265.4 L182.5,265.4 L183.4,265.4 L184.3,265.4 L185.2,265.5 L186.2,265.4 L187.1,265.4 L188.0,265.4 L188.9,265.3 L189.8,265.4 L190.7,265.4 L191.7,265.4 L192.6,265.3 L193.5,265.3 L194.4,265.4 L195.3,265.4 L196.2,265.4 L197.2,265.4 L198.1,265.6 L199.0,265.6 L199.9,265.7 L200.8,265.7 L201.7,265.7 L202.7,265.8 L203.6,265.6 L204.5,265.6 L205.4,265.7 L206.3,265.9 L207.3,266.0 L208.2,266.0 L209.1,266.0 L210.0,266.1 L210.9,266.2 L211.8,266.1 L212.8,265.9 L213.7,265.7 L214.6,265.5 L215.5,265.4 L216.4,265.2 L217.3,265.1 L218.3,265.0 L219.2,264.8 L220.1,264.8 L221.0,264.8 L221.9,264.9 L222.8,265.0 L223.8,265.0 L224.7,265.0 L225.6,265.1 L226.5,265.2 L227.4,265.2 L228.3,265.4 L229.3,265.4 L230.2,265.5 L231.1,265.5 L232.0,265.6 L232.9,265.6 L233.8,265.8 L234.8,265.8 L235.7,265.9 L236.6,265.8 L237.5,266.1 L238.4,266.1 L239.3,266.0 L240.3,266.0 L241.2,266.1 L242.1,266.2 L243.0,266.5 L243.9,266.6 L244.9,266.5 L245.8,266.5 L246.7,266.4 L247.6,266.4 L248.5,266.3 L249.4,266.3 L250.4,266.3 L251.3,266.2 L252.2,266.2 L253.1,266.1 L254.0,266.0 L254.9,265.9 L255.9,265.7 L256.8,265.8 L257.7,266.0 L258.6,266.0 L259.5,266.0 L260.4,266.0 L261.4,266.0 L262.3,266.1 L263.2,266.2 L264.1,266.1 L265.0,266.1 L265.9,266.0 L266.9,265.8 L267.8,265.6 L268.7,265.4 L269.6,265.4 L270.5,265.1 L271.4,265.0 L272.4,264.9 L273.3,264.9 L274.2,264.9 L275.1,264.8 L276.0,264.9 L276.9,265.2 L277.9,265.1 L278.8,265.2 L279.7,265.4 L280.6,265.5 L281.5,265.6 L282.4,265.7 L283.4,265.8 L284.3,266.0 L285.2,266.1 L286.1,266.2 L287.0,266.3 L288.0,266.4 L288.9,266.5 L289.8,266.7 L290.7,266.7 L291.6,266.4 L292.5,266.3 L293.5,266.1 L294.4,266.0 L295.3,265.8 L296.2,265.5 L297.1,265.5 L298.0,265.4 L299.0,265.3 L299.9,265.3 L300.8,265.3 L301.7,265.3 L302.6,265.1 L303.5,265.0 L304.5,265.0 L305.4,265.0 L306.3,265.2 L307.2,265.2 L308.1,265.4 L309.0,265.5 L310.0,265.7 L310.9,265.7 L311.8,265.9 L312.7,266.0 L313.6,265.9 L314.5,265.8 L315.5,265.9 L316.4,265.9 L317.3,265.9 L318.2,265.8 L319.1,265.7 L320.0,265.6 L321.0,265.5 L321.9,265.5 L322.8,265.4 L322.8,267.3 L321.9,267.2 L321.0,267.3 L320.0,267.4 L319.1,267.5 L318.2,267.6 L317.3,267.7 L316.4,267.7 L315.5,267.8 L314.5,267.8 L313.6,267.8 L312.7,267.8 L311.8,267.7 L310.9,267.5 L310.0,267.4 L309.0,267.3 L308.1,267.4 L307.2,267.2 L306.3,267.0 L305.4,266.7 L304.5,266.8 L303.5,266.9 L302.6,266.9 L301.7,267.0 L300.8,267.1 L299.9,267.2 L299.0,267.2 L298.0,267.1 L297.1,267.2 L296.2,267.4 L295.3,267.5 L294.4,267.7 L293.5,267.8 L292.5,268.1 L291.6,268.1 L290.7,268.3 L289.8,268.5 L288.9,268.3 L288.0,268.1 L287.0,268.0 L286.1,267.9 L285.2,267.8 L284.3,267.7 L283.4,267.5 L282.4,267.5 L281.5,267.3 L280.6,267.2 L279.7,267.1 L278.8,267.0 L277.9,266.9 L276.9,266.8 L276.0,266.9 L275.1,266.7 L274.2,266.7 L273.3,266.7 L272.4,266.8 L271.4,266.8 L270.5,266.9 L269.6,267.0 L268.7,267.2 L267.8,267.4 L266.9,267.5 L265.9,267.7 L265.0,267.8 L264.1,267.9 L263.2,267.9 L262.3,267.8 L261.4,267.8 L260.4,267.7 L259.5,267.8 L258.6,267.8 L257.7,267.7 L256.8,267.6 L255.9,267.7 L254.9,267.7 L254.0,267.8 L253.1,267.8 L252.2,267.9 L251.3,267.9 L250.4,267.9 L249.4,268.0 L248.5,268.0 L247.6,268.0 L246.7,268.1 L245.8,268.2 L244.9,268.2 L243.9,268.3 L243.0,268.1 L242.1,268.1 L241.2,268.0 L240.3,268.0 L239.3,267.9 L238.4,267.9 L237.5,267.7 L236.6,267.7 L235.7,267.8 L234.8,267.6 L233.8,267.5 L232.9,267.4 L232.0,267.3 L231.1,267.3 L230.2,267.2 L229.3,267.2 L228.3,267.1 L227.4,267.1 L226.5,267.2 L225.6,267.1 L224.7,267.1 L223.8,267.1 L222.8,267.0 L221.9,266.9 L221.0,266.7 L220.1,266.6 L219.2,266.8 L218.3,266.8 L217.3,266.9 L216.4,267.1 L215.5,267.2 L214.6,267.4 L213.7,267.4 L212.8,267.6 L211.8,267.8 L210.9,267.9 L210.0,267.9 L209.1,267.7 L208.2,267.8 L207.3,267.8 L206.3,267.7 L205.4,267.6 L204.5,267.5 L203.6,267.5 L202.7,267.5 L201.7,267.5 L200.8,267.5 L199.9,267.3 L199.0,267.4 L198.1,267.3 L197.2,267.4 L196.2,267.3 L195.3,267.3 L194.4,267.2 L193.5,267.2 L192.6,267.1 L191.7,267.1 L190.7,267.2 L189.8,267.2 L188.9,267.2 L188.0,267.2 L187.1,267.2 L186.2,267.1 L185.2,267.2 L184.3,267.2 L183.4,267.2 L182.5,267.3 L181.6,267.2 L180.7,267.2 L179.7,267.2 L178.8,267.3 L177.9,267.3 L177.0,267.2 L176.1,267.2 L175.2,267.2 L174.2,267.2 L173.3,267.1 L172.4,267.0 L171.5,267.0 L170.6,267.0 L169.7,267.0 L168.7,267.0 L167.8,267.2 L166.9,267.2 L166.0,267.1 L165.1,266.9 L164.1,266.9 L163.2,266.9 L162.3,266.9 L161.4,266.8 L160.5,266.7 L159.6,266.7 L158.6,266.6 L157.7,266.7 L156.8,266.7 L155.9,266.7 L155.0,266.6 L154.1,266.6 L153.1,266.4 L152.2,266.4 L151.3,266.4 L150.4,266.4 L149.5,266.3 L148.6,266.2 L147.6,266.1 L146.7,265.9 L145.8,265.7 L144.9,265.4 L144.0,265.2 L143.1,264.9 L142.1,264.7 L141.2,264.5 L140.3,264.3 L139.4,264.0 L138.5,263.9 L137.6,263.6 L136.6,263.4 L135.7,263.1 L134.8,263.0 L133.9,262.5 L133.0,262.3 L132.1,262.2 L131.1,262.0 L130.2,261.8 L129.3,261.7 L128.4,261.4 L127.5,261.4 L126.5,261.4 L125.6,261.3 L124.7,261.4 L123.8,261.3 L122.9,261.2 L122.0,261.2 L121.0,261.2 L120.1,261.2 L119.2,261.1 L118.3,261.2 L117.4,261.2 L116.5,261.3 L115.5,261.3 L114.6,261.3 L113.7,261.1 L112.8,261.1 L111.9,261.1 L111.0,261.1 L110.0,261.1 L109.1,261.0 L108.2,261.0 L107.3,261.1 L106.4,261.0 L105.5,261.0 L104.5,261.0 L103.6,261.0 L102.7,261.0 L101.8,260.9 L100.9,261.0 L100.0,261.0 L99.0,260.9 L98.1,260.9 L97.2,261.0 L96.3,261.2 L95.4,261.1 L94.5,260.9 L93.5,261.0 L92.6,261.0 L91.7,260.9 L90.8,260.8 L89.9,260.8 L89.0,260.9 L88.0,260.8 L87.1,260.8 L86.2,260.8 L85.3,260.8 L84.4,260.8 L83.4,260.8 L82.5,260.9 L81.6,260.8 L80.7,260.7 L79.8,260.9 L78.9,260.7 L77.9,260.7 L77.0,260.7 L76.1,260.7 L75.2,260.8 L74.3,260.7 L73.4,260.7 L72.4,260.8 L71.5,260.7 L70.6,260.6 L69.7,260.6 L68.8,260.7 L67.9,260.8 L66.9,260.7 L66.0,260.7 L65.1,260.7 L64.2,260.8 L63.3,260.7 L62.4,260.7 L61.4,260.7 L60.5,260.9 L59.6,260.8 L58.7,260.8 L57.8,261.0 L56.9,261.1 L55.9,260.9 L55.0,260.8 L54.1,260.8 L53.2,260.8 L52.3,260.8 L51.4,260.9 L50.4,260.9 L49.5,260.8 L48.6,260.9Z" fill="#ff7f0e" fill-opacity="0.25"/>
<path d="M48.6,276.8 C50.5,276.8 54.8,276.7 60.0,276.6 C65.2,276.6 73.3,276.6 80.0,276.5 C86.7,276.4 93.3,276.3 100.0,276.3 C106.7,276.3 115.8,276.5 120.0,276.4 C124.2,276.3 123.4,276.1 125.0,275.8 C126.6,275.6 128.5,275.6 129.8,274.9 C131.1,274.2 131.9,273.8 133.0,271.6 C134.1,269.5 135.2,265.8 136.3,262.0 C137.4,258.2 138.4,253.4 139.5,249.1 C140.6,244.8 141.6,240.6 142.7,236.3 C143.8,232.0 144.8,227.2 145.9,223.4 C147.0,219.7 147.8,217.0 149.1,213.8 C150.4,210.6 152.0,206.8 153.9,204.1 C155.8,201.4 158.0,199.5 160.4,197.7 C162.8,195.9 165.7,194.6 168.4,193.5 C171.1,192.4 173.6,192.1 176.4,191.3 C179.2,190.6 182.0,189.5 185.1,189.0 C188.2,188.5 192.0,188.4 195.0,188.3 C198.0,188.2 200.5,188.4 203.2,188.3 C205.9,188.2 208.7,188.3 211.4,187.9 C214.1,187.5 216.4,186.2 219.5,185.8 C222.6,185.4 226.6,185.7 229.7,185.6 C232.8,185.5 235.5,185.0 237.9,185.2 C240.3,185.4 241.6,186.8 244.0,186.9 C246.4,187.0 249.5,185.9 252.2,185.6 C254.9,185.3 257.8,185.3 260.4,185.2 C263.0,185.1 265.7,185.1 267.6,184.8 C269.5,184.5 270.1,183.7 271.6,183.6 C273.1,183.5 274.8,184.2 276.7,184.2 C278.6,184.2 280.7,183.6 282.9,183.8 C285.1,184.0 287.6,185.5 290.0,185.6 C292.4,185.7 294.6,184.8 297.2,184.6 C299.8,184.4 302.7,184.2 305.4,184.2 C308.1,184.2 310.6,184.8 313.5,184.8 C316.4,184.8 321.2,184.3 322.8,184.2" fill="none" stroke="#1f77b4" stroke-width="2.0" stroke-linejoin="round"/>
<path d="M48.6,260.0 C52.2,260.0 63.1,259.8 70.0,259.8 C76.9,259.8 83.3,259.9 90.0,260.0 C96.7,260.1 105.0,260.1 110.0,260.2 C115.0,260.2 116.6,260.2 120.0,260.3 C123.4,260.4 127.6,260.3 130.6,260.7 C133.5,261.1 134.8,262.0 137.7,262.8 C140.6,263.6 144.2,264.8 148.3,265.3 C152.4,265.8 157.8,265.8 162.5,266.0 C167.2,266.2 171.9,266.2 176.6,266.3 C181.3,266.4 187.7,266.3 190.8,266.3 C193.9,266.3 191.6,266.2 195.0,266.3 C198.4,266.4 207.3,267.1 211.4,267.0 C215.5,266.9 216.4,265.8 219.5,265.7 C222.6,265.6 225.6,266.0 229.7,266.3 C233.8,266.6 239.6,267.3 244.0,267.4 C248.4,267.5 252.9,266.9 256.3,266.8 C259.7,266.7 261.8,267.2 264.5,267.0 C267.2,266.8 270.0,265.8 272.7,265.7 C275.4,265.6 277.9,266.0 280.8,266.3 C283.7,266.6 287.3,267.6 290.0,267.6 C292.7,267.6 294.6,266.6 297.2,266.3 C299.8,266.0 302.7,265.8 305.4,265.9 C308.1,266.0 310.6,266.9 313.5,267.0 C316.4,267.1 321.2,266.4 322.8,266.3" fill="none" stroke="#ff7f0e" stroke-width="1.7" stroke-linejoin="round"/>
<line x1="130.6" y1="178.7" x2="130.6" y2="282.5" stroke="#ff0000" stroke-width="1.5" stroke-dasharray="4.3 2.1"/>
<rect x="39.4" y="183.5" width="58.7" height="29.2" rx="2" fill="#EEEEF4" fill-opacity="0.85" stroke="#D5D5DC" stroke-width="0.8"/>
<line x1="43" y1="189.7" x2="63" y2="189.7" stroke="#1f77b4" stroke-width="1.6"/>
<text x="70.5" y="193.0" font-size="9.35" fill="#262626">eye-x</text>
<line x1="43" y1="203.79999999999998" x2="63" y2="203.79999999999998" stroke="#ff7f0e" stroke-width="1.6"/>
<text x="70.5" y="207.1" font-size="9.35" fill="#262626">eye-y</text>
<text x="1.6" y="12.2" font-size="15" text-anchor="start" font-weight="bold" fill="#000">A</text>
<text x="1.4" y="165.7" font-size="15" text-anchor="start" font-weight="bold" fill="#000">B</text>
<text x="345.2" y="13.2" font-size="15" text-anchor="start" font-weight="bold" fill="#000">C</text>
<text x="196" y="15.2" font-size="11.5" text-anchor="middle" font-weight="normal" fill="#262626">Evoked Response Before and After EOG Removal</text>
<text x="185.6" y="171.4" font-size="11.5" text-anchor="middle" font-weight="normal" fill="#262626">Eye Movement (X and Y Gaze Positions)</text>
<text x="35.6" y="17.2" font-size="8.8" text-anchor="start" font-weight="normal" fill="#262626">1e−5</text>
<text x="48.6" y="138.1" font-size="9" text-anchor="middle" font-weight="normal" fill="#262626">−0.2</text>
<text x="48.6" y="296" font-size="9" text-anchor="middle" font-weight="normal" fill="#262626">−0.2</text>
<text x="94.3" y="138.1" font-size="9" text-anchor="middle" font-weight="normal" fill="#262626">0.0</text>
<text x="94.3" y="296" font-size="9" text-anchor="middle" font-weight="normal" fill="#262626">0.0</text>
<text x="140.0" y="138.1" font-size="9" text-anchor="middle" font-weight="normal" fill="#262626">0.2</text>
<text x="140.0" y="296" font-size="9" text-anchor="middle" font-weight="normal" fill="#262626">0.2</text>
<text x="185.7" y="138.1" font-size="9" text-anchor="middle" font-weight="normal" fill="#262626">0.4</text>
<text x="185.7" y="296" font-size="9" text-anchor="middle" font-weight="normal" fill="#262626">0.4</text>
<text x="231.4" y="138.1" font-size="9" text-anchor="middle" font-weight="normal" fill="#262626">0.6</text>
<text x="231.4" y="296" font-size="9" text-anchor="middle" font-weight="normal" fill="#262626">0.6</text>
<text x="277.1" y="138.1" font-size="9" text-anchor="middle" font-weight="normal" fill="#262626">0.8</text>
<text x="277.1" y="296" font-size="9" text-anchor="middle" font-weight="normal" fill="#262626">0.8</text>
<text x="322.8" y="138.1" font-size="9" text-anchor="middle" font-weight="normal" fill="#262626">1.0</text>
<text x="322.8" y="296" font-size="9" text-anchor="middle" font-weight="normal" fill="#262626">1.0</text>
<text x="185" y="150.7" font-size="9.4" text-anchor="middle" font-weight="normal" fill="#262626">times</text>
<text x="185" y="307.3" font-size="9.4" text-anchor="middle" font-weight="normal" fill="#262626">Time (seconds)</text>
<text x="27.6" y="101.2" font-size="9" text-anchor="end" font-weight="normal" fill="#262626">0.0</text>
<text x="27.6" y="64.5" font-size="9" text-anchor="end" font-weight="normal" fill="#262626">0.5</text>
<text x="27.6" y="27.9" font-size="9" text-anchor="end" font-weight="normal" fill="#262626">1.0</text>
<text x="27.6" y="249.6" font-size="9" text-anchor="end" font-weight="normal" fill="#262626">400</text>
<text x="27.6" y="209.9" font-size="9" text-anchor="end" font-weight="normal" fill="#262626">600</text>
<text x="9.0" y="73.1" font-size="9.4" text-anchor="middle" font-weight="normal" fill="#262626" transform="rotate(-90 9.0 73.1)">Baseline Corrected μV</text>
<text x="9.0" y="229.6" font-size="9.4" text-anchor="middle" font-weight="normal" fill="#262626" transform="rotate(-90 9.0 229.6)">Gaze Position (Pixel)</text>
<defs>
<clipPath id="cp0"><circle cx="427.7" cy="96.3" r="58.3"/></clipPath>
<clipPath id="cp1"><circle cx="585.6" cy="96.3" r="58.3"/></clipPath>
<clipPath id="cp2"><circle cx="427.7" cy="237.3" r="58.3"/></clipPath>
<clipPath id="cp3"><circle cx="585.6" cy="237.3" r="58.3"/></clipPath>
<filter id="tb" x="-5%" y="-5%" width="110%" height="110%"><feGaussianBlur stdDeviation="0.6"/></filter>
</defs>
<g clip-path="url(#cp0)"><g filter="url(#tb)">
<path fill="#327cb7" d="M367.1 82.2h6.6v2.1h-6.6zM367.1 83.8h8.1v2.1h-8.1zM367.1 85.2h8.1v2.1h-8.1zM367.1 86.8h9.6v2.1h-9.6zM367.1 88.2h9.6v2.1h-9.6zM367.1 89.8h9.6v2.1h-9.6zM367.1 91.2h11.1v2.1h-11.1zM367.1 92.8h11.1v2.1h-11.1zM367.1 94.2h11.1v2.1h-11.1zM367.1 95.8h11.1v2.1h-11.1zM367.1 97.2h11.1v2.1h-11.1zM367.1 98.8h11.1v2.1h-11.1zM367.1 100.2h11.1v2.1h-11.1zM367.1 101.8h11.1v2.1h-11.1zM367.1 103.2h11.1v2.1h-11.1zM367.1 104.8h11.1v2.1h-11.1zM367.1 106.2h9.6v2.1h-9.6zM367.1 107.8h6.6v2.1h-6.6z"/>
<path fill="#3885bc" d="M428.6 73.2h3.6v2.1h-3.6zM428.6 74.8h5.1v2.1h-5.1zM367.1 76.2h6.6v2.1h-6.6zM428.6 76.2h5.1v2.1h-5.1zM367.1 77.8h8.1v2.1h-8.1zM427.1 77.8h6.6v2.1h-6.6zM367.1 79.2h9.6v2.1h-9.6zM427.1 79.2h6.6v2.1h-6.6zM367.1 80.8h9.6v2.1h-9.6zM427.1 80.8h6.6v2.1h-6.6zM373.1 82.2h5.1v2.1h-5.1zM427.1 82.2h6.6v2.1h-6.6zM374.6 83.8h3.6v2.1h-3.6zM428.6 83.8h5.1v2.1h-5.1zM374.6 85.2h3.6v2.1h-3.6zM428.6 85.2h3.6v2.1h-3.6zM376.1 86.8h3.6v2.1h-3.6zM428.6 86.8h3.6v2.1h-3.6zM376.1 88.2h3.6v2.1h-3.6zM376.1 89.8h3.6v2.1h-3.6zM377.6 91.2h3.6v2.1h-3.6zM377.6 92.8h3.6v2.1h-3.6zM428.6 92.8h2.1v2.1h-2.1zM377.6 94.2h3.6v2.1h-3.6zM427.1 94.2h5.1v2.1h-5.1zM377.6 95.8h3.6v2.1h-3.6zM425.6 95.8h8.1v2.1h-8.1zM377.6 97.2h5.1v2.1h-5.1zM424.1 97.2h11.1v2.1h-11.1zM377.6 98.8h5.1v2.1h-5.1zM424.1 98.8h11.1v2.1h-11.1zM377.6 100.2h5.1v2.1h-5.1zM422.6 100.2h14.1v2.1h-14.1zM377.6 101.8h6.6v2.1h-6.6zM421.1 101.8h17.1v2.1h-17.1zM377.6 103.2h6.6v2.1h-6.6zM421.1 103.2h17.1v2.1h-17.1zM377.6 104.8h8.1v2.1h-8.1zM419.6 104.8h20.1v2.1h-20.1zM376.1 106.2h9.6v2.1h-9.6zM418.1 106.2h21.6v2.1h-21.6zM373.1 107.8h15.6v2.1h-15.6zM416.6 107.8h23.1v2.1h-23.1zM367.1 109.2h24.6v2.1h-24.6zM413.6 109.2h27.6v2.1h-27.6zM367.1 110.8h74.1v2.1h-74.1zM367.1 112.2h74.1v2.1h-74.1zM367.1 113.8h74.1v2.1h-74.1zM367.1 115.2h75.6v2.1h-75.6zM367.1 116.8h75.6v2.1h-75.6zM367.1 118.2h75.6v2.1h-75.6zM367.1 119.8h75.6v2.1h-75.6zM367.1 121.2h75.6v2.1h-75.6zM367.1 122.8h75.6v2.1h-75.6zM367.1 124.2h75.6v2.1h-75.6zM374.6 125.8h68.1v2.1h-68.1zM376.1 127.2h66.6v2.1h-66.6zM377.6 128.8h65.1v2.1h-65.1zM379.1 130.2h62.1v2.1h-62.1zM380.6 131.8h60.6v2.1h-60.6zM382.1 133.2h59.1v2.1h-59.1zM383.6 134.8h56.1v2.1h-56.1zM385.1 136.2h54.6v2.1h-54.6zM388.1 137.8h50.1v2.1h-50.1zM391.1 139.2h47.1v2.1h-47.1zM394.1 140.8h42.6v2.1h-42.6zM397.1 142.2h38.1v2.1h-38.1zM404.6 143.8h8.1v2.1h-8.1zM424.1 143.8h3.6v2.1h-3.6z"/>
<path fill="#408fc1" d="M428.6 53.8h6.6v2.1h-6.6zM428.6 55.2h6.6v2.1h-6.6zM427.1 56.8h9.6v2.1h-9.6zM427.1 58.2h9.6v2.1h-9.6zM427.1 59.8h9.6v2.1h-9.6zM427.1 61.2h8.1v2.1h-8.1zM427.1 62.8h8.1v2.1h-8.1zM427.1 64.2h8.1v2.1h-8.1zM427.1 65.8h6.6v2.1h-6.6zM427.1 67.2h6.6v2.1h-6.6zM427.1 68.8h6.6v2.1h-6.6zM427.1 70.2h8.1v2.1h-8.1zM367.1 71.8h8.1v2.1h-8.1zM425.6 71.8h9.6v2.1h-9.6zM367.1 73.2h9.6v2.1h-9.6zM425.6 73.2h3.6v2.1h-3.6zM431.6 73.2h3.6v2.1h-3.6zM367.1 74.8h9.6v2.1h-9.6zM425.6 74.8h3.6v2.1h-3.6zM433.1 74.8h2.1v2.1h-2.1zM373.1 76.2h5.1v2.1h-5.1zM425.6 76.2h3.6v2.1h-3.6zM433.1 76.2h2.1v2.1h-2.1zM374.6 77.8h3.6v2.1h-3.6zM425.6 77.8h2.1v2.1h-2.1zM433.1 77.8h3.6v2.1h-3.6zM376.1 79.2h2.1v2.1h-2.1zM425.6 79.2h2.1v2.1h-2.1zM433.1 79.2h3.6v2.1h-3.6zM376.1 80.8h3.6v2.1h-3.6zM425.6 80.8h2.1v2.1h-2.1zM433.1 80.8h3.6v2.1h-3.6zM377.6 82.2h2.1v2.1h-2.1zM425.6 82.2h2.1v2.1h-2.1zM433.1 82.2h3.6v2.1h-3.6zM377.6 83.8h2.1v2.1h-2.1zM425.6 83.8h3.6v2.1h-3.6zM433.1 83.8h3.6v2.1h-3.6zM377.6 85.2h3.6v2.1h-3.6zM424.1 85.2h5.1v2.1h-5.1zM431.6 85.2h5.1v2.1h-5.1zM379.1 86.8h2.1v2.1h-2.1zM424.1 86.8h5.1v2.1h-5.1zM431.6 86.8h3.6v2.1h-3.6zM379.1 88.2h2.1v2.1h-2.1zM424.1 88.2h11.1v2.1h-11.1zM379.1 89.8h3.6v2.1h-3.6zM424.1 89.8h12.6v2.1h-12.6zM380.6 91.2h2.1v2.1h-2.1zM424.1 91.2h12.6v2.1h-12.6zM380.6 92.8h2.1v2.1h-2.1zM422.6 92.8h6.6v2.1h-6.6zM430.1 92.8h6.6v2.1h-6.6zM380.6 94.2h3.6v2.1h-3.6zM422.6 94.2h5.1v2.1h-5.1zM431.6 94.2h6.6v2.1h-6.6zM380.6 95.8h3.6v2.1h-3.6zM421.1 95.8h5.1v2.1h-5.1zM433.1 95.8h5.1v2.1h-5.1zM382.1 97.2h3.6v2.1h-3.6zM419.6 97.2h5.1v2.1h-5.1zM434.6 97.2h5.1v2.1h-5.1zM382.1 98.8h3.6v2.1h-3.6zM419.6 98.8h5.1v2.1h-5.1zM434.6 98.8h5.1v2.1h-5.1zM382.1 100.2h5.1v2.1h-5.1zM418.1 100.2h5.1v2.1h-5.1zM436.1 100.2h5.1v2.1h-5.1zM383.6 101.8h5.1v2.1h-5.1zM416.6 101.8h5.1v2.1h-5.1zM437.6 101.8h5.1v2.1h-5.1zM383.6 103.2h6.6v2.1h-6.6zM415.1 103.2h6.6v2.1h-6.6zM437.6 103.2h5.1v2.1h-5.1zM385.1 104.8h6.6v2.1h-6.6zM413.6 104.8h6.6v2.1h-6.6zM439.1 104.8h5.1v2.1h-5.1zM385.1 106.2h11.1v2.1h-11.1zM410.6 106.2h8.1v2.1h-8.1zM439.1 106.2h5.1v2.1h-5.1zM388.1 107.8h29.1v2.1h-29.1zM439.1 107.8h5.1v2.1h-5.1zM391.1 109.2h23.1v2.1h-23.1zM440.6 109.2h5.1v2.1h-5.1zM440.6 110.8h5.1v2.1h-5.1zM440.6 112.2h5.1v2.1h-5.1zM440.6 113.8h5.1v2.1h-5.1zM442.1 115.2h5.1v2.1h-5.1zM442.1 116.8h5.1v2.1h-5.1zM442.1 118.2h5.1v2.1h-5.1zM442.1 119.8h5.1v2.1h-5.1zM442.1 121.2h5.1v2.1h-5.1zM442.1 122.8h6.6v2.1h-6.6zM442.1 124.2h6.6v2.1h-6.6zM367.1 125.8h8.1v2.1h-8.1zM442.1 125.8h6.6v2.1h-6.6zM367.1 127.2h9.6v2.1h-9.6zM442.1 127.2h6.6v2.1h-6.6zM367.1 128.8h11.1v2.1h-11.1zM442.1 128.8h6.6v2.1h-6.6zM367.1 130.2h12.6v2.1h-12.6zM440.6 130.2h6.6v2.1h-6.6zM367.1 131.8h14.1v2.1h-14.1zM440.6 131.8h6.6v2.1h-6.6zM367.1 133.2h15.6v2.1h-15.6zM440.6 133.2h6.6v2.1h-6.6zM367.1 134.8h17.1v2.1h-17.1zM439.1 134.8h8.1v2.1h-8.1zM367.1 136.2h18.6v2.1h-18.6zM439.1 136.2h8.1v2.1h-8.1zM367.1 137.8h21.6v2.1h-21.6zM437.6 137.8h8.1v2.1h-8.1zM367.1 139.2h24.6v2.1h-24.6zM437.6 139.2h8.1v2.1h-8.1zM367.1 140.8h27.6v2.1h-27.6zM436.1 140.8h9.6v2.1h-9.6zM367.1 142.2h30.6v2.1h-30.6zM434.6 142.2h11.1v2.1h-11.1zM367.1 143.8h38.1v2.1h-38.1zM412.1 143.8h12.6v2.1h-12.6zM427.1 143.8h18.6v2.1h-18.6zM367.1 145.2h80.1v2.1h-80.1zM367.1 146.8h80.1v2.1h-80.1zM367.1 148.2h80.1v2.1h-80.1zM367.1 149.8h80.1v2.1h-80.1zM367.1 151.2h14.1v2.1h-14.1zM385.1 151.2h62.1v2.1h-62.1zM367.1 152.8h14.1v2.1h-14.1zM385.1 152.8h62.1v2.1h-62.1zM367.1 154.2h14.1v2.1h-14.1zM385.1 154.2h62.1v2.1h-62.1z"/>
<path fill="#4c99c6" d="M430.1 50.8h3.6v2.1h-3.6zM427.1 52.2h9.6v2.1h-9.6zM427.1 53.8h2.1v2.1h-2.1zM434.6 53.8h2.1v2.1h-2.1zM425.6 55.2h3.6v2.1h-3.6zM434.6 55.2h3.6v2.1h-3.6zM425.6 56.8h2.1v2.1h-2.1zM436.1 56.8h2.1v2.1h-2.1zM425.6 58.2h2.1v2.1h-2.1zM436.1 58.2h2.1v2.1h-2.1zM425.6 59.8h2.1v2.1h-2.1zM436.1 59.8h2.1v2.1h-2.1zM425.6 61.2h2.1v2.1h-2.1zM434.6 61.2h3.6v2.1h-3.6zM425.6 62.8h2.1v2.1h-2.1zM434.6 62.8h2.1v2.1h-2.1zM425.6 64.2h2.1v2.1h-2.1zM434.6 64.2h2.1v2.1h-2.1zM425.6 65.8h2.1v2.1h-2.1zM433.1 65.8h3.6v2.1h-3.6zM367.1 67.2h8.1v2.1h-8.1zM425.6 67.2h2.1v2.1h-2.1zM433.1 67.2h3.6v2.1h-3.6zM367.1 68.8h9.6v2.1h-9.6zM424.1 68.8h3.6v2.1h-3.6zM433.1 68.8h3.6v2.1h-3.6zM367.1 70.2h11.1v2.1h-11.1zM424.1 70.2h3.6v2.1h-3.6zM434.6 70.2h2.1v2.1h-2.1zM374.6 71.8h3.6v2.1h-3.6zM424.1 71.8h2.1v2.1h-2.1zM434.6 71.8h2.1v2.1h-2.1zM376.1 73.2h3.6v2.1h-3.6zM424.1 73.2h2.1v2.1h-2.1zM434.6 73.2h2.1v2.1h-2.1zM376.1 74.8h3.6v2.1h-3.6zM424.1 74.8h2.1v2.1h-2.1zM434.6 74.8h2.1v2.1h-2.1zM377.6 76.2h2.1v2.1h-2.1zM424.1 76.2h2.1v2.1h-2.1zM434.6 76.2h2.1v2.1h-2.1zM377.6 77.8h2.1v2.1h-2.1zM424.1 77.8h2.1v2.1h-2.1zM436.1 77.8h2.1v2.1h-2.1zM377.6 79.2h3.6v2.1h-3.6zM424.1 79.2h2.1v2.1h-2.1zM436.1 79.2h2.1v2.1h-2.1zM379.1 80.8h2.1v2.1h-2.1zM422.6 80.8h3.6v2.1h-3.6zM436.1 80.8h2.1v2.1h-2.1zM379.1 82.2h2.1v2.1h-2.1zM422.6 82.2h3.6v2.1h-3.6zM436.1 82.2h2.1v2.1h-2.1zM379.1 83.8h3.6v2.1h-3.6zM422.6 83.8h3.6v2.1h-3.6zM436.1 83.8h2.1v2.1h-2.1zM380.6 85.2h2.1v2.1h-2.1zM422.6 85.2h2.1v2.1h-2.1zM436.1 85.2h2.1v2.1h-2.1zM380.6 86.8h2.1v2.1h-2.1zM422.6 86.8h2.1v2.1h-2.1zM434.6 86.8h3.6v2.1h-3.6zM380.6 88.2h3.6v2.1h-3.6zM422.6 88.2h2.1v2.1h-2.1zM434.6 88.2h3.6v2.1h-3.6zM382.1 89.8h2.1v2.1h-2.1zM421.1 89.8h3.6v2.1h-3.6zM436.1 89.8h2.1v2.1h-2.1zM382.1 91.2h2.1v2.1h-2.1zM421.1 91.2h3.6v2.1h-3.6zM436.1 91.2h3.6v2.1h-3.6zM382.1 92.8h3.6v2.1h-3.6zM419.6 92.8h3.6v2.1h-3.6zM436.1 92.8h3.6v2.1h-3.6zM383.6 94.2h2.1v2.1h-2.1zM419.6 94.2h3.6v2.1h-3.6zM437.6 94.2h2.1v2.1h-2.1zM383.6 95.8h3.6v2.1h-3.6zM418.1 95.8h3.6v2.1h-3.6zM437.6 95.8h3.6v2.1h-3.6zM385.1 97.2h2.1v2.1h-2.1zM418.1 97.2h2.1v2.1h-2.1zM439.1 97.2h3.6v2.1h-3.6zM385.1 98.8h3.6v2.1h-3.6zM416.6 98.8h3.6v2.1h-3.6zM439.1 98.8h3.6v2.1h-3.6zM386.6 100.2h3.6v2.1h-3.6zM415.1 100.2h3.6v2.1h-3.6zM440.6 100.2h3.6v2.1h-3.6zM388.1 101.8h3.6v2.1h-3.6zM413.6 101.8h3.6v2.1h-3.6zM442.1 101.8h3.6v2.1h-3.6zM389.6 103.2h5.1v2.1h-5.1zM410.6 103.2h5.1v2.1h-5.1zM442.1 103.2h3.6v2.1h-3.6zM391.1 104.8h23.1v2.1h-23.1zM443.6 104.8h3.6v2.1h-3.6zM395.6 106.2h15.6v2.1h-15.6zM443.6 106.2h3.6v2.1h-3.6zM443.6 107.8h3.6v2.1h-3.6zM445.1 109.2h3.6v2.1h-3.6zM445.1 110.8h3.6v2.1h-3.6zM445.1 112.2h3.6v2.1h-3.6zM445.1 113.8h3.6v2.1h-3.6zM446.6 115.2h3.6v2.1h-3.6zM446.6 116.8h3.6v2.1h-3.6zM446.6 118.2h3.6v2.1h-3.6zM446.6 119.8h3.6v2.1h-3.6zM446.6 121.2h5.1v2.1h-5.1zM448.1 122.8h3.6v2.1h-3.6zM448.1 124.2h3.6v2.1h-3.6zM448.1 125.8h3.6v2.1h-3.6zM448.1 127.2h3.6v2.1h-3.6zM448.1 128.8h3.6v2.1h-3.6zM446.6 130.2h5.1v2.1h-5.1zM446.6 131.8h5.1v2.1h-5.1zM446.6 133.2h6.6v2.1h-6.6zM446.6 134.8h6.6v2.1h-6.6zM446.6 136.2h6.6v2.1h-6.6zM445.1 137.8h8.1v2.1h-8.1zM445.1 139.2h8.1v2.1h-8.1zM445.1 140.8h8.1v2.1h-8.1zM445.1 142.2h9.6v2.1h-9.6zM445.1 143.8h9.6v2.1h-9.6zM446.6 145.2h8.1v2.1h-8.1zM446.6 146.8h8.1v2.1h-8.1zM446.6 148.2h8.1v2.1h-8.1zM446.6 149.8h8.1v2.1h-8.1zM380.6 151.2h5.1v2.1h-5.1zM446.6 151.2h9.6v2.1h-9.6zM380.6 152.8h5.1v2.1h-5.1zM446.6 152.8h9.6v2.1h-9.6zM380.6 154.2h5.1v2.1h-5.1zM446.6 154.2h9.6v2.1h-9.6z"/>
<path fill="#5ca3cb" d="M428.6 49.2h6.6v2.1h-6.6zM427.1 50.8h3.6v2.1h-3.6zM433.1 50.8h3.6v2.1h-3.6zM425.6 52.2h2.1v2.1h-2.1zM436.1 52.2h2.1v2.1h-2.1zM424.1 53.8h3.6v2.1h-3.6zM436.1 53.8h2.1v2.1h-2.1zM424.1 55.2h2.1v2.1h-2.1zM437.6 55.2h2.1v2.1h-2.1zM424.1 56.8h2.1v2.1h-2.1zM437.6 56.8h2.1v2.1h-2.1zM424.1 58.2h2.1v2.1h-2.1zM437.6 58.2h2.1v2.1h-2.1zM424.1 59.8h2.1v2.1h-2.1zM437.6 59.8h2.1v2.1h-2.1zM424.1 61.2h2.1v2.1h-2.1zM367.1 62.8h8.1v2.1h-8.1zM424.1 62.8h2.1v2.1h-2.1zM436.1 62.8h2.1v2.1h-2.1zM367.1 64.2h9.6v2.1h-9.6zM424.1 64.2h2.1v2.1h-2.1zM436.1 64.2h2.1v2.1h-2.1zM367.1 65.8h11.1v2.1h-11.1zM424.1 65.8h2.1v2.1h-2.1zM436.1 65.8h2.1v2.1h-2.1zM374.6 67.2h5.1v2.1h-5.1zM424.1 67.2h2.1v2.1h-2.1zM436.1 67.2h2.1v2.1h-2.1zM376.1 68.8h3.6v2.1h-3.6zM422.6 68.8h2.1v2.1h-2.1zM436.1 68.8h2.1v2.1h-2.1zM377.6 70.2h2.1v2.1h-2.1zM422.6 70.2h2.1v2.1h-2.1zM436.1 70.2h2.1v2.1h-2.1zM377.6 71.8h3.6v2.1h-3.6zM422.6 71.8h2.1v2.1h-2.1zM436.1 71.8h2.1v2.1h-2.1zM379.1 73.2h2.1v2.1h-2.1zM422.6 73.2h2.1v2.1h-2.1zM436.1 73.2h2.1v2.1h-2.1zM379.1 74.8h2.1v2.1h-2.1zM422.6 74.8h2.1v2.1h-2.1zM436.1 74.8h2.1v2.1h-2.1zM379.1 76.2h2.1v2.1h-2.1zM422.6 76.2h2.1v2.1h-2.1zM436.1 76.2h2.1v2.1h-2.1zM379.1 77.8h3.6v2.1h-3.6zM422.6 77.8h2.1v2.1h-2.1zM380.6 79.2h2.1v2.1h-2.1zM422.6 79.2h2.1v2.1h-2.1zM380.6 80.8h2.1v2.1h-2.1zM421.1 80.8h2.1v2.1h-2.1zM437.6 80.8h2.1v2.1h-2.1zM380.6 82.2h2.1v2.1h-2.1zM421.1 82.2h2.1v2.1h-2.1zM437.6 82.2h2.1v2.1h-2.1zM382.1 83.8h2.1v2.1h-2.1zM421.1 83.8h2.1v2.1h-2.1zM437.6 83.8h2.1v2.1h-2.1zM382.1 85.2h2.1v2.1h-2.1zM421.1 85.2h2.1v2.1h-2.1zM437.6 85.2h2.1v2.1h-2.1zM382.1 86.8h2.1v2.1h-2.1zM421.1 86.8h2.1v2.1h-2.1zM437.6 86.8h2.1v2.1h-2.1zM383.6 88.2h2.1v2.1h-2.1zM419.6 88.2h3.6v2.1h-3.6zM437.6 88.2h2.1v2.1h-2.1zM383.6 89.8h2.1v2.1h-2.1zM419.6 89.8h2.1v2.1h-2.1zM437.6 89.8h3.6v2.1h-3.6zM383.6 91.2h3.6v2.1h-3.6zM418.1 91.2h3.6v2.1h-3.6zM439.1 91.2h2.1v2.1h-2.1zM385.1 92.8h2.1v2.1h-2.1zM418.1 92.8h2.1v2.1h-2.1zM439.1 92.8h3.6v2.1h-3.6zM385.1 94.2h3.6v2.1h-3.6zM416.6 94.2h3.6v2.1h-3.6zM439.1 94.2h3.6v2.1h-3.6zM386.6 95.8h2.1v2.1h-2.1zM416.6 95.8h2.1v2.1h-2.1zM440.6 95.8h3.6v2.1h-3.6zM386.6 97.2h3.6v2.1h-3.6zM415.1 97.2h3.6v2.1h-3.6zM442.1 97.2h2.1v2.1h-2.1zM388.1 98.8h3.6v2.1h-3.6zM413.6 98.8h3.6v2.1h-3.6zM442.1 98.8h3.6v2.1h-3.6zM389.6 100.2h5.1v2.1h-5.1zM410.6 100.2h5.1v2.1h-5.1zM443.6 100.2h3.6v2.1h-3.6zM391.1 101.8h6.6v2.1h-6.6zM407.6 101.8h6.6v2.1h-6.6zM445.1 101.8h2.1v2.1h-2.1zM394.1 103.2h17.1v2.1h-17.1zM445.1 103.2h3.6v2.1h-3.6zM446.6 104.8h2.1v2.1h-2.1zM446.6 106.2h3.6v2.1h-3.6zM446.6 107.8h3.6v2.1h-3.6zM448.1 109.2h2.1v2.1h-2.1zM448.1 110.8h3.6v2.1h-3.6zM448.1 112.2h3.6v2.1h-3.6zM448.1 113.8h3.6v2.1h-3.6zM449.6 115.2h2.1v2.1h-2.1zM449.6 116.8h3.6v2.1h-3.6zM449.6 118.2h3.6v2.1h-3.6zM449.6 119.8h3.6v2.1h-3.6zM451.1 121.2h3.6v2.1h-3.6zM451.1 122.8h3.6v2.1h-3.6zM451.1 124.2h3.6v2.1h-3.6zM451.1 125.8h3.6v2.1h-3.6zM451.1 127.2h5.1v2.1h-5.1zM451.1 128.8h5.1v2.1h-5.1zM451.1 130.2h5.1v2.1h-5.1zM451.1 131.8h6.6v2.1h-6.6zM452.6 133.2h5.1v2.1h-5.1zM452.6 134.8h5.1v2.1h-5.1zM452.6 136.2h6.6v2.1h-6.6zM452.6 137.8h6.6v2.1h-6.6zM452.6 139.2h6.6v2.1h-6.6zM452.6 140.8h8.1v2.1h-8.1zM454.1 142.2h6.6v2.1h-6.6zM454.1 143.8h8.1v2.1h-8.1zM454.1 145.2h8.1v2.1h-8.1zM454.1 146.8h8.1v2.1h-8.1zM454.1 148.2h8.1v2.1h-8.1zM454.1 149.8h8.1v2.1h-8.1zM455.6 151.2h6.6v2.1h-6.6zM455.6 152.8h6.6v2.1h-6.6zM455.6 154.2h6.6v2.1h-6.6z"/>
<path fill="#6eaed2" d="M367.1 35.8h12.6v2.1h-12.6zM367.1 37.2h12.6v2.1h-12.6zM367.1 38.8h12.6v2.1h-12.6zM367.1 40.2h12.6v2.1h-12.6zM367.1 41.8h12.6v2.1h-12.6zM367.1 43.2h12.6v2.1h-12.6zM367.1 44.8h11.1v2.1h-11.1zM367.1 46.2h9.6v2.1h-9.6zM367.1 47.8h8.1v2.1h-8.1zM425.6 47.8h11.1v2.1h-11.1zM424.1 49.2h5.1v2.1h-5.1zM434.6 49.2h3.6v2.1h-3.6zM424.1 50.8h3.6v2.1h-3.6zM436.1 50.8h3.6v2.1h-3.6zM424.1 52.2h2.1v2.1h-2.1zM437.6 52.2h2.1v2.1h-2.1zM422.6 53.8h2.1v2.1h-2.1zM437.6 53.8h2.1v2.1h-2.1zM422.6 55.2h2.1v2.1h-2.1zM439.1 55.2h2.1v2.1h-2.1zM367.1 56.8h8.1v2.1h-8.1zM422.6 56.8h2.1v2.1h-2.1zM439.1 56.8h2.1v2.1h-2.1zM367.1 58.2h11.1v2.1h-11.1zM422.6 58.2h2.1v2.1h-2.1zM439.1 58.2h2.1v2.1h-2.1zM367.1 59.8h11.1v2.1h-11.1zM422.6 59.8h2.1v2.1h-2.1zM367.1 61.2h12.6v2.1h-12.6zM422.6 61.2h2.1v2.1h-2.1zM437.6 61.2h2.1v2.1h-2.1zM374.6 62.8h6.6v2.1h-6.6zM422.6 62.8h2.1v2.1h-2.1zM437.6 62.8h2.1v2.1h-2.1zM376.1 64.2h5.1v2.1h-5.1zM422.6 64.2h2.1v2.1h-2.1zM437.6 64.2h2.1v2.1h-2.1zM377.6 65.8h3.6v2.1h-3.6zM422.6 65.8h2.1v2.1h-2.1zM437.6 65.8h2.1v2.1h-2.1zM379.1 67.2h2.1v2.1h-2.1zM422.6 67.2h2.1v2.1h-2.1zM437.6 67.2h2.1v2.1h-2.1zM379.1 68.8h3.6v2.1h-3.6zM437.6 68.8h2.1v2.1h-2.1zM379.1 70.2h3.6v2.1h-3.6zM421.1 70.2h2.1v2.1h-2.1zM437.6 70.2h2.1v2.1h-2.1zM380.6 71.8h2.1v2.1h-2.1zM421.1 71.8h2.1v2.1h-2.1zM437.6 71.8h2.1v2.1h-2.1zM380.6 73.2h2.1v2.1h-2.1zM421.1 73.2h2.1v2.1h-2.1zM437.6 73.2h2.1v2.1h-2.1zM380.6 74.8h2.1v2.1h-2.1zM421.1 74.8h2.1v2.1h-2.1zM437.6 74.8h2.1v2.1h-2.1zM380.6 76.2h2.1v2.1h-2.1zM421.1 76.2h2.1v2.1h-2.1zM437.6 76.2h2.1v2.1h-2.1zM382.1 77.8h2.1v2.1h-2.1zM421.1 77.8h2.1v2.1h-2.1zM437.6 77.8h2.1v2.1h-2.1zM382.1 79.2h2.1v2.1h-2.1zM421.1 79.2h2.1v2.1h-2.1zM437.6 79.2h2.1v2.1h-2.1zM382.1 80.8h2.1v2.1h-2.1zM382.1 82.2h2.1v2.1h-2.1zM419.6 82.2h2.1v2.1h-2.1zM383.6 83.8h2.1v2.1h-2.1zM419.6 83.8h2.1v2.1h-2.1zM439.1 83.8h2.1v2.1h-2.1zM383.6 85.2h2.1v2.1h-2.1zM419.6 85.2h2.1v2.1h-2.1zM439.1 85.2h2.1v2.1h-2.1zM383.6 86.8h2.1v2.1h-2.1zM418.1 86.8h3.6v2.1h-3.6zM439.1 86.8h2.1v2.1h-2.1zM385.1 88.2h2.1v2.1h-2.1zM418.1 88.2h2.1v2.1h-2.1zM439.1 88.2h2.1v2.1h-2.1zM385.1 89.8h2.1v2.1h-2.1zM418.1 89.8h2.1v2.1h-2.1zM440.6 89.8h2.1v2.1h-2.1zM386.6 91.2h2.1v2.1h-2.1zM416.6 91.2h2.1v2.1h-2.1zM440.6 91.2h2.1v2.1h-2.1zM386.6 92.8h3.6v2.1h-3.6zM415.1 92.8h3.6v2.1h-3.6zM442.1 92.8h2.1v2.1h-2.1zM388.1 94.2h2.1v2.1h-2.1zM415.1 94.2h2.1v2.1h-2.1zM442.1 94.2h2.1v2.1h-2.1zM388.1 95.8h3.6v2.1h-3.6zM413.6 95.8h3.6v2.1h-3.6zM443.6 95.8h2.1v2.1h-2.1zM389.6 97.2h3.6v2.1h-3.6zM412.1 97.2h3.6v2.1h-3.6zM443.6 97.2h3.6v2.1h-3.6zM391.1 98.8h5.1v2.1h-5.1zM409.1 98.8h5.1v2.1h-5.1zM445.1 98.8h3.6v2.1h-3.6zM394.1 100.2h6.6v2.1h-6.6zM404.6 100.2h6.6v2.1h-6.6zM446.6 100.2h2.1v2.1h-2.1zM397.1 101.8h11.1v2.1h-11.1zM446.6 101.8h3.6v2.1h-3.6zM448.1 103.2h2.1v2.1h-2.1zM448.1 104.8h3.6v2.1h-3.6zM449.6 106.2h2.1v2.1h-2.1zM449.6 107.8h3.6v2.1h-3.6zM449.6 109.2h3.6v2.1h-3.6zM451.1 110.8h2.1v2.1h-2.1zM451.1 112.2h3.6v2.1h-3.6zM451.1 113.8h3.6v2.1h-3.6zM451.1 115.2h3.6v2.1h-3.6zM452.6 116.8h3.6v2.1h-3.6zM452.6 118.2h3.6v2.1h-3.6zM452.6 119.8h3.6v2.1h-3.6zM454.1 121.2h3.6v2.1h-3.6zM454.1 122.8h3.6v2.1h-3.6zM454.1 124.2h3.6v2.1h-3.6zM454.1 125.8h5.1v2.1h-5.1zM455.6 127.2h3.6v2.1h-3.6zM455.6 128.8h5.1v2.1h-5.1zM455.6 130.2h5.1v2.1h-5.1zM457.1 131.8h5.1v2.1h-5.1zM457.1 133.2h5.1v2.1h-5.1zM457.1 134.8h6.6v2.1h-6.6zM458.6 136.2h6.6v2.1h-6.6zM458.6 137.8h6.6v2.1h-6.6zM458.6 139.2h8.1v2.1h-8.1zM460.1 140.8h8.1v2.1h-8.1zM460.1 142.2h8.1v2.1h-8.1zM461.6 143.8h8.1v2.1h-8.1zM461.6 145.2h9.6v2.1h-9.6zM461.6 146.8h11.1v2.1h-11.1zM461.6 148.2h12.6v2.1h-12.6zM461.6 149.8h12.6v2.1h-12.6zM461.6 151.2h14.1v2.1h-14.1zM461.6 152.8h14.1v2.1h-14.1zM461.6 154.2h14.1v2.1h-14.1z"/>
<path fill="#7eb8d7" d="M379.1 35.8h8.1v2.1h-8.1zM379.1 37.2h8.1v2.1h-8.1zM379.1 38.8h8.1v2.1h-8.1zM379.1 40.2h8.1v2.1h-8.1zM379.1 41.8h8.1v2.1h-8.1zM379.1 43.2h8.1v2.1h-8.1zM377.6 44.8h8.1v2.1h-8.1zM425.6 44.8h9.6v2.1h-9.6zM376.1 46.2h9.6v2.1h-9.6zM424.1 46.2h12.6v2.1h-12.6zM374.6 47.8h9.6v2.1h-9.6zM422.6 47.8h3.6v2.1h-3.6zM436.1 47.8h2.1v2.1h-2.1zM367.1 49.2h17.1v2.1h-17.1zM422.6 49.2h2.1v2.1h-2.1zM437.6 49.2h2.1v2.1h-2.1zM367.1 50.8h15.6v2.1h-15.6zM421.1 50.8h3.6v2.1h-3.6zM439.1 50.8h2.1v2.1h-2.1zM367.1 52.2h15.6v2.1h-15.6zM421.1 52.2h3.6v2.1h-3.6zM439.1 52.2h2.1v2.1h-2.1zM367.1 53.8h15.6v2.1h-15.6zM421.1 53.8h2.1v2.1h-2.1zM439.1 53.8h2.1v2.1h-2.1zM367.1 55.2h15.6v2.1h-15.6zM421.1 55.2h2.1v2.1h-2.1zM374.6 56.8h8.1v2.1h-8.1zM421.1 56.8h2.1v2.1h-2.1zM377.6 58.2h5.1v2.1h-5.1zM421.1 58.2h2.1v2.1h-2.1zM377.6 59.8h5.1v2.1h-5.1zM421.1 59.8h2.1v2.1h-2.1zM439.1 59.8h2.1v2.1h-2.1zM379.1 61.2h3.6v2.1h-3.6zM421.1 61.2h2.1v2.1h-2.1zM439.1 61.2h2.1v2.1h-2.1zM380.6 62.8h2.1v2.1h-2.1zM421.1 62.8h2.1v2.1h-2.1zM439.1 62.8h2.1v2.1h-2.1zM380.6 64.2h3.6v2.1h-3.6zM421.1 64.2h2.1v2.1h-2.1zM439.1 64.2h2.1v2.1h-2.1zM380.6 65.8h3.6v2.1h-3.6zM421.1 65.8h2.1v2.1h-2.1zM439.1 65.8h2.1v2.1h-2.1zM380.6 67.2h3.6v2.1h-3.6zM421.1 67.2h2.1v2.1h-2.1zM439.1 67.2h2.1v2.1h-2.1zM382.1 68.8h2.1v2.1h-2.1zM421.1 68.8h2.1v2.1h-2.1zM439.1 68.8h2.1v2.1h-2.1zM382.1 70.2h2.1v2.1h-2.1zM439.1 70.2h2.1v2.1h-2.1zM382.1 71.8h2.1v2.1h-2.1zM439.1 71.8h2.1v2.1h-2.1zM382.1 73.2h2.1v2.1h-2.1zM419.6 73.2h2.1v2.1h-2.1zM439.1 73.2h2.1v2.1h-2.1zM382.1 74.8h2.1v2.1h-2.1zM419.6 74.8h2.1v2.1h-2.1zM439.1 74.8h2.1v2.1h-2.1zM382.1 76.2h2.1v2.1h-2.1zM419.6 76.2h2.1v2.1h-2.1zM439.1 76.2h2.1v2.1h-2.1zM383.6 77.8h2.1v2.1h-2.1zM419.6 77.8h2.1v2.1h-2.1zM439.1 77.8h2.1v2.1h-2.1zM383.6 79.2h2.1v2.1h-2.1zM419.6 79.2h2.1v2.1h-2.1zM439.1 79.2h2.1v2.1h-2.1zM383.6 80.8h2.1v2.1h-2.1zM419.6 80.8h2.1v2.1h-2.1zM439.1 80.8h2.1v2.1h-2.1zM383.6 82.2h2.1v2.1h-2.1zM418.1 82.2h2.1v2.1h-2.1zM439.1 82.2h2.1v2.1h-2.1zM385.1 83.8h2.1v2.1h-2.1zM418.1 83.8h2.1v2.1h-2.1zM385.1 85.2h2.1v2.1h-2.1zM418.1 85.2h2.1v2.1h-2.1zM440.6 85.2h2.1v2.1h-2.1zM385.1 86.8h3.6v2.1h-3.6zM416.6 86.8h2.1v2.1h-2.1zM440.6 86.8h2.1v2.1h-2.1zM386.6 88.2h2.1v2.1h-2.1zM416.6 88.2h2.1v2.1h-2.1zM440.6 88.2h2.1v2.1h-2.1zM386.6 89.8h3.6v2.1h-3.6zM415.1 89.8h3.6v2.1h-3.6zM442.1 89.8h2.1v2.1h-2.1zM388.1 91.2h2.1v2.1h-2.1zM415.1 91.2h2.1v2.1h-2.1zM442.1 91.2h2.1v2.1h-2.1zM389.6 92.8h2.1v2.1h-2.1zM413.6 92.8h2.1v2.1h-2.1zM443.6 92.8h2.1v2.1h-2.1zM389.6 94.2h3.6v2.1h-3.6zM412.1 94.2h3.6v2.1h-3.6zM443.6 94.2h3.6v2.1h-3.6zM391.1 95.8h3.6v2.1h-3.6zM410.6 95.8h3.6v2.1h-3.6zM445.1 95.8h2.1v2.1h-2.1zM392.6 97.2h5.1v2.1h-5.1zM407.6 97.2h5.1v2.1h-5.1zM446.6 97.2h2.1v2.1h-2.1zM395.6 98.8h14.1v2.1h-14.1zM448.1 98.8h2.1v2.1h-2.1zM400.1 100.2h5.1v2.1h-5.1zM448.1 100.2h3.6v2.1h-3.6zM449.6 101.8h2.1v2.1h-2.1zM449.6 103.2h3.6v2.1h-3.6zM451.1 104.8h2.1v2.1h-2.1zM451.1 106.2h3.6v2.1h-3.6zM452.6 107.8h2.1v2.1h-2.1zM452.6 109.2h3.6v2.1h-3.6zM452.6 110.8h3.6v2.1h-3.6zM454.1 112.2h2.1v2.1h-2.1zM454.1 113.8h3.6v2.1h-3.6zM454.1 115.2h3.6v2.1h-3.6zM455.6 116.8h3.6v2.1h-3.6zM455.6 118.2h3.6v2.1h-3.6zM455.6 119.8h5.1v2.1h-5.1zM457.1 121.2h3.6v2.1h-3.6zM457.1 122.8h5.1v2.1h-5.1zM457.1 124.2h5.1v2.1h-5.1zM458.6 125.8h5.1v2.1h-5.1zM458.6 127.2h5.1v2.1h-5.1zM460.1 128.8h5.1v2.1h-5.1zM460.1 130.2h6.6v2.1h-6.6zM461.6 131.8h6.6v2.1h-6.6zM461.6 133.2h6.6v2.1h-6.6zM463.1 134.8h6.6v2.1h-6.6zM464.6 136.2h6.6v2.1h-6.6zM464.6 137.8h9.6v2.1h-9.6zM466.1 139.2h9.6v2.1h-9.6zM467.6 140.8h12.6v2.1h-12.6zM467.6 142.2h20.1v2.1h-20.1zM469.1 143.8h18.6v2.1h-18.6zM470.6 145.2h17.1v2.1h-17.1zM472.1 146.8h15.6v2.1h-15.6zM473.6 148.2h14.1v2.1h-14.1zM473.6 149.8h14.1v2.1h-14.1zM475.1 151.2h12.6v2.1h-12.6zM475.1 152.8h12.6v2.1h-12.6zM475.1 154.2h12.6v2.1h-12.6z"/>
<path fill="#90c4dd" d="M386.6 35.8h5.1v2.1h-5.1zM418.1 35.8h15.6v2.1h-15.6zM386.6 37.2h5.1v2.1h-5.1zM416.6 37.2h15.6v2.1h-15.6zM386.6 38.8h5.1v2.1h-5.1zM416.6 38.8h15.6v2.1h-15.6zM386.6 40.2h5.1v2.1h-5.1zM418.1 40.2h15.6v2.1h-15.6zM386.6 41.8h5.1v2.1h-5.1zM418.1 41.8h17.1v2.1h-17.1zM386.6 43.2h3.6v2.1h-3.6zM418.1 43.2h18.6v2.1h-18.6zM385.1 44.8h5.1v2.1h-5.1zM418.1 44.8h8.1v2.1h-8.1zM434.6 44.8h3.6v2.1h-3.6zM385.1 46.2h3.6v2.1h-3.6zM419.6 46.2h5.1v2.1h-5.1zM436.1 46.2h3.6v2.1h-3.6zM383.6 47.8h5.1v2.1h-5.1zM419.6 47.8h3.6v2.1h-3.6zM437.6 47.8h3.6v2.1h-3.6zM383.6 49.2h3.6v2.1h-3.6zM419.6 49.2h3.6v2.1h-3.6zM439.1 49.2h2.1v2.1h-2.1zM382.1 50.8h5.1v2.1h-5.1zM419.6 50.8h2.1v2.1h-2.1zM440.6 50.8h2.1v2.1h-2.1zM382.1 52.2h5.1v2.1h-5.1zM419.6 52.2h2.1v2.1h-2.1zM440.6 52.2h2.1v2.1h-2.1zM382.1 53.8h3.6v2.1h-3.6zM419.6 53.8h2.1v2.1h-2.1zM440.6 53.8h2.1v2.1h-2.1zM382.1 55.2h3.6v2.1h-3.6zM419.6 55.2h2.1v2.1h-2.1zM440.6 55.2h2.1v2.1h-2.1zM382.1 56.8h3.6v2.1h-3.6zM419.6 56.8h2.1v2.1h-2.1zM440.6 56.8h2.1v2.1h-2.1zM382.1 58.2h3.6v2.1h-3.6zM419.6 58.2h2.1v2.1h-2.1zM440.6 58.2h2.1v2.1h-2.1zM382.1 59.8h3.6v2.1h-3.6zM419.6 59.8h2.1v2.1h-2.1zM440.6 59.8h2.1v2.1h-2.1zM382.1 61.2h3.6v2.1h-3.6zM419.6 61.2h2.1v2.1h-2.1zM440.6 61.2h2.1v2.1h-2.1zM382.1 62.8h3.6v2.1h-3.6zM419.6 62.8h2.1v2.1h-2.1zM440.6 62.8h2.1v2.1h-2.1zM383.6 64.2h2.1v2.1h-2.1zM419.6 64.2h2.1v2.1h-2.1zM440.6 64.2h2.1v2.1h-2.1zM383.6 65.8h2.1v2.1h-2.1zM419.6 65.8h2.1v2.1h-2.1zM440.6 65.8h2.1v2.1h-2.1zM383.6 67.2h2.1v2.1h-2.1zM419.6 67.2h2.1v2.1h-2.1zM383.6 68.8h2.1v2.1h-2.1zM419.6 68.8h2.1v2.1h-2.1zM383.6 70.2h2.1v2.1h-2.1zM419.6 70.2h2.1v2.1h-2.1zM383.6 71.8h2.1v2.1h-2.1zM419.6 71.8h2.1v2.1h-2.1zM383.6 73.2h2.1v2.1h-2.1zM383.6 74.8h2.1v2.1h-2.1zM383.6 76.2h2.1v2.1h-2.1zM418.1 76.2h2.1v2.1h-2.1zM385.1 77.8h2.1v2.1h-2.1zM418.1 77.8h2.1v2.1h-2.1zM440.6 77.8h2.1v2.1h-2.1zM385.1 79.2h2.1v2.1h-2.1zM418.1 79.2h2.1v2.1h-2.1zM440.6 79.2h2.1v2.1h-2.1zM385.1 80.8h2.1v2.1h-2.1zM418.1 80.8h2.1v2.1h-2.1zM440.6 80.8h2.1v2.1h-2.1zM385.1 82.2h2.1v2.1h-2.1zM440.6 82.2h2.1v2.1h-2.1zM386.6 83.8h2.1v2.1h-2.1zM416.6 83.8h2.1v2.1h-2.1zM440.6 83.8h2.1v2.1h-2.1zM386.6 85.2h2.1v2.1h-2.1zM416.6 85.2h2.1v2.1h-2.1zM442.1 85.2h2.1v2.1h-2.1zM388.1 86.8h2.1v2.1h-2.1zM415.1 86.8h2.1v2.1h-2.1zM442.1 86.8h2.1v2.1h-2.1zM388.1 88.2h2.1v2.1h-2.1zM415.1 88.2h2.1v2.1h-2.1zM442.1 88.2h2.1v2.1h-2.1zM389.6 89.8h2.1v2.1h-2.1zM413.6 89.8h2.1v2.1h-2.1zM443.6 89.8h2.1v2.1h-2.1zM389.6 91.2h2.1v2.1h-2.1zM412.1 91.2h3.6v2.1h-3.6zM443.6 91.2h3.6v2.1h-3.6zM391.1 92.8h2.1v2.1h-2.1zM412.1 92.8h2.1v2.1h-2.1zM445.1 92.8h2.1v2.1h-2.1zM392.6 94.2h2.1v2.1h-2.1zM409.1 94.2h3.6v2.1h-3.6zM446.6 94.2h2.1v2.1h-2.1zM394.1 95.8h3.6v2.1h-3.6zM407.6 95.8h3.6v2.1h-3.6zM446.6 95.8h3.6v2.1h-3.6zM397.1 97.2h11.1v2.1h-11.1zM448.1 97.2h2.1v2.1h-2.1zM449.6 98.8h2.1v2.1h-2.1zM451.1 100.2h2.1v2.1h-2.1zM451.1 101.8h3.6v2.1h-3.6zM452.6 103.2h2.1v2.1h-2.1zM452.6 104.8h3.6v2.1h-3.6zM454.1 106.2h2.1v2.1h-2.1zM454.1 107.8h3.6v2.1h-3.6zM455.6 109.2h3.6v2.1h-3.6zM455.6 110.8h3.6v2.1h-3.6zM455.6 112.2h5.1v2.1h-5.1zM457.1 113.8h3.6v2.1h-3.6zM457.1 115.2h5.1v2.1h-5.1zM458.6 116.8h5.1v2.1h-5.1zM458.6 118.2h5.1v2.1h-5.1zM460.1 119.8h5.1v2.1h-5.1zM460.1 121.2h6.6v2.1h-6.6zM461.6 122.8h5.1v2.1h-5.1zM461.6 124.2h6.6v2.1h-6.6zM463.1 125.8h6.6v2.1h-6.6zM463.1 127.2h8.1v2.1h-8.1zM464.6 128.8h8.1v2.1h-8.1zM466.1 130.2h8.1v2.1h-8.1zM467.6 131.8h9.6v2.1h-9.6zM467.6 133.2h14.1v2.1h-14.1zM469.1 134.8h18.6v2.1h-18.6zM470.6 136.2h17.1v2.1h-17.1zM473.6 137.8h14.1v2.1h-14.1zM475.1 139.2h12.6v2.1h-12.6zM479.6 140.8h8.1v2.1h-8.1z"/>
<path fill="#9dcbe1" d="M391.1 35.8h6.6v2.1h-6.6zM407.6 35.8h11.1v2.1h-11.1zM433.1 35.8h6.6v2.1h-6.6zM391.1 37.2h8.1v2.1h-8.1zM406.1 37.2h11.1v2.1h-11.1zM431.6 37.2h8.1v2.1h-8.1zM391.1 38.8h8.1v2.1h-8.1zM406.1 38.8h11.1v2.1h-11.1zM431.6 38.8h8.1v2.1h-8.1zM391.1 40.2h6.6v2.1h-6.6zM407.6 40.2h11.1v2.1h-11.1zM433.1 40.2h6.6v2.1h-6.6zM391.1 41.8h5.1v2.1h-5.1zM409.1 41.8h9.6v2.1h-9.6zM434.6 41.8h5.1v2.1h-5.1zM389.6 43.2h5.1v2.1h-5.1zM410.6 43.2h8.1v2.1h-8.1zM436.1 43.2h5.1v2.1h-5.1zM389.6 44.8h3.6v2.1h-3.6zM412.1 44.8h6.6v2.1h-6.6zM437.6 44.8h3.6v2.1h-3.6zM388.1 46.2h3.6v2.1h-3.6zM415.1 46.2h5.1v2.1h-5.1zM439.1 46.2h3.6v2.1h-3.6zM388.1 47.8h3.6v2.1h-3.6zM415.1 47.8h5.1v2.1h-5.1zM440.6 47.8h2.1v2.1h-2.1zM386.6 49.2h3.6v2.1h-3.6zM416.6 49.2h3.6v2.1h-3.6zM440.6 49.2h3.6v2.1h-3.6zM386.6 50.8h3.6v2.1h-3.6zM416.6 50.8h3.6v2.1h-3.6zM442.1 50.8h2.1v2.1h-2.1zM386.6 52.2h2.1v2.1h-2.1zM418.1 52.2h2.1v2.1h-2.1zM442.1 52.2h2.1v2.1h-2.1zM385.1 53.8h3.6v2.1h-3.6zM418.1 53.8h2.1v2.1h-2.1zM442.1 53.8h2.1v2.1h-2.1zM385.1 55.2h3.6v2.1h-3.6zM418.1 55.2h2.1v2.1h-2.1zM442.1 55.2h2.1v2.1h-2.1zM385.1 56.8h2.1v2.1h-2.1zM418.1 56.8h2.1v2.1h-2.1zM442.1 56.8h2.1v2.1h-2.1zM385.1 58.2h2.1v2.1h-2.1zM418.1 58.2h2.1v2.1h-2.1zM442.1 58.2h2.1v2.1h-2.1zM385.1 59.8h2.1v2.1h-2.1zM418.1 59.8h2.1v2.1h-2.1zM442.1 59.8h2.1v2.1h-2.1zM385.1 61.2h2.1v2.1h-2.1zM418.1 61.2h2.1v2.1h-2.1zM442.1 61.2h2.1v2.1h-2.1zM385.1 62.8h2.1v2.1h-2.1zM418.1 62.8h2.1v2.1h-2.1zM442.1 62.8h2.1v2.1h-2.1zM385.1 64.2h2.1v2.1h-2.1zM418.1 64.2h2.1v2.1h-2.1zM385.1 65.8h2.1v2.1h-2.1zM418.1 65.8h2.1v2.1h-2.1zM385.1 67.2h2.1v2.1h-2.1zM418.1 67.2h2.1v2.1h-2.1zM440.6 67.2h2.1v2.1h-2.1zM385.1 68.8h2.1v2.1h-2.1zM418.1 68.8h2.1v2.1h-2.1zM440.6 68.8h2.1v2.1h-2.1zM385.1 70.2h2.1v2.1h-2.1zM418.1 70.2h2.1v2.1h-2.1zM440.6 70.2h2.1v2.1h-2.1zM385.1 71.8h2.1v2.1h-2.1zM418.1 71.8h2.1v2.1h-2.1zM440.6 71.8h2.1v2.1h-2.1zM385.1 73.2h2.1v2.1h-2.1zM418.1 73.2h2.1v2.1h-2.1zM440.6 73.2h2.1v2.1h-2.1zM385.1 74.8h2.1v2.1h-2.1zM418.1 74.8h2.1v2.1h-2.1zM440.6 74.8h2.1v2.1h-2.1zM385.1 76.2h2.1v2.1h-2.1zM440.6 76.2h2.1v2.1h-2.1zM386.6 79.2h2.1v2.1h-2.1zM416.6 79.2h2.1v2.1h-2.1zM386.6 80.8h2.1v2.1h-2.1zM416.6 80.8h2.1v2.1h-2.1zM442.1 80.8h2.1v2.1h-2.1zM386.6 82.2h2.1v2.1h-2.1zM416.6 82.2h2.1v2.1h-2.1zM442.1 82.2h2.1v2.1h-2.1zM388.1 83.8h2.1v2.1h-2.1zM415.1 83.8h2.1v2.1h-2.1zM442.1 83.8h2.1v2.1h-2.1zM388.1 85.2h2.1v2.1h-2.1zM415.1 85.2h2.1v2.1h-2.1zM443.6 85.2h2.1v2.1h-2.1zM389.6 86.8h2.1v2.1h-2.1zM413.6 86.8h2.1v2.1h-2.1zM443.6 86.8h2.1v2.1h-2.1zM389.6 88.2h2.1v2.1h-2.1zM413.6 88.2h2.1v2.1h-2.1zM443.6 88.2h2.1v2.1h-2.1zM391.1 89.8h2.1v2.1h-2.1zM412.1 89.8h2.1v2.1h-2.1zM445.1 89.8h2.1v2.1h-2.1zM391.1 91.2h3.6v2.1h-3.6zM410.6 91.2h2.1v2.1h-2.1zM446.6 91.2h2.1v2.1h-2.1zM392.6 92.8h3.6v2.1h-3.6zM409.1 92.8h3.6v2.1h-3.6zM446.6 92.8h2.1v2.1h-2.1zM394.1 94.2h5.1v2.1h-5.1zM406.1 94.2h3.6v2.1h-3.6zM448.1 94.2h2.1v2.1h-2.1zM397.1 95.8h11.1v2.1h-11.1zM449.6 95.8h2.1v2.1h-2.1zM449.6 97.2h3.6v2.1h-3.6zM451.1 98.8h3.6v2.1h-3.6zM452.6 100.2h2.1v2.1h-2.1zM454.1 101.8h2.1v2.1h-2.1zM454.1 103.2h3.6v2.1h-3.6zM455.6 104.8h3.6v2.1h-3.6zM455.6 106.2h3.6v2.1h-3.6zM457.1 107.8h3.6v2.1h-3.6zM458.6 109.2h3.6v2.1h-3.6zM458.6 110.8h5.1v2.1h-5.1zM460.1 112.2h5.1v2.1h-5.1zM460.1 113.8h6.6v2.1h-6.6zM461.6 115.2h6.6v2.1h-6.6zM463.1 116.8h6.6v2.1h-6.6zM463.1 118.2h8.1v2.1h-8.1zM464.6 119.8h8.1v2.1h-8.1zM466.1 121.2h8.1v2.1h-8.1zM466.1 122.8h9.6v2.1h-9.6zM467.6 124.2h11.1v2.1h-11.1zM469.1 125.8h18.6v2.1h-18.6zM470.6 127.2h17.1v2.1h-17.1zM472.1 128.8h15.6v2.1h-15.6zM473.6 130.2h14.1v2.1h-14.1zM476.6 131.8h11.1v2.1h-11.1zM481.1 133.2h6.6v2.1h-6.6z"/>
<path fill="#acd2e5" d="M397.1 35.8h11.1v2.1h-11.1zM439.1 35.8h5.1v2.1h-5.1zM398.6 37.2h8.1v2.1h-8.1zM439.1 37.2h5.1v2.1h-5.1zM398.6 38.8h8.1v2.1h-8.1zM439.1 38.8h5.1v2.1h-5.1zM397.1 40.2h11.1v2.1h-11.1zM439.1 40.2h5.1v2.1h-5.1zM395.6 41.8h14.1v2.1h-14.1zM439.1 41.8h5.1v2.1h-5.1zM394.1 43.2h17.1v2.1h-17.1zM440.6 43.2h3.6v2.1h-3.6zM392.6 44.8h6.6v2.1h-6.6zM406.1 44.8h6.6v2.1h-6.6zM440.6 44.8h3.6v2.1h-3.6zM391.1 46.2h5.1v2.1h-5.1zM409.1 46.2h6.6v2.1h-6.6zM442.1 46.2h2.1v2.1h-2.1zM391.1 47.8h3.6v2.1h-3.6zM412.1 47.8h3.6v2.1h-3.6zM442.1 47.8h3.6v2.1h-3.6zM389.6 49.2h3.6v2.1h-3.6zM413.6 49.2h3.6v2.1h-3.6zM443.6 49.2h2.1v2.1h-2.1zM389.6 50.8h2.1v2.1h-2.1zM415.1 50.8h2.1v2.1h-2.1zM443.6 50.8h2.1v2.1h-2.1zM388.1 52.2h3.6v2.1h-3.6zM415.1 52.2h3.6v2.1h-3.6zM443.6 52.2h2.1v2.1h-2.1zM388.1 53.8h2.1v2.1h-2.1zM416.6 53.8h2.1v2.1h-2.1zM443.6 53.8h2.1v2.1h-2.1zM388.1 55.2h2.1v2.1h-2.1zM416.6 55.2h2.1v2.1h-2.1zM443.6 55.2h2.1v2.1h-2.1zM386.6 56.8h3.6v2.1h-3.6zM416.6 56.8h2.1v2.1h-2.1zM443.6 56.8h2.1v2.1h-2.1zM386.6 58.2h2.1v2.1h-2.1zM416.6 58.2h2.1v2.1h-2.1zM443.6 58.2h2.1v2.1h-2.1zM386.6 59.8h2.1v2.1h-2.1zM416.6 59.8h2.1v2.1h-2.1zM386.6 61.2h2.1v2.1h-2.1zM386.6 62.8h2.1v2.1h-2.1zM386.6 64.2h2.1v2.1h-2.1zM442.1 64.2h2.1v2.1h-2.1zM386.6 65.8h2.1v2.1h-2.1zM442.1 65.8h2.1v2.1h-2.1zM386.6 67.2h2.1v2.1h-2.1zM442.1 67.2h2.1v2.1h-2.1zM386.6 68.8h2.1v2.1h-2.1zM442.1 68.8h2.1v2.1h-2.1zM386.6 70.2h2.1v2.1h-2.1zM442.1 70.2h2.1v2.1h-2.1zM386.6 71.8h2.1v2.1h-2.1zM416.6 71.8h2.1v2.1h-2.1zM442.1 71.8h2.1v2.1h-2.1zM386.6 73.2h2.1v2.1h-2.1zM416.6 73.2h2.1v2.1h-2.1zM442.1 73.2h2.1v2.1h-2.1zM386.6 74.8h2.1v2.1h-2.1zM416.6 74.8h2.1v2.1h-2.1zM442.1 74.8h2.1v2.1h-2.1zM386.6 76.2h2.1v2.1h-2.1zM416.6 76.2h2.1v2.1h-2.1zM442.1 76.2h2.1v2.1h-2.1zM386.6 77.8h2.1v2.1h-2.1zM416.6 77.8h2.1v2.1h-2.1zM442.1 77.8h2.1v2.1h-2.1zM388.1 79.2h2.1v2.1h-2.1zM442.1 79.2h2.1v2.1h-2.1zM388.1 80.8h2.1v2.1h-2.1zM415.1 80.8h2.1v2.1h-2.1zM388.1 82.2h2.1v2.1h-2.1zM415.1 82.2h2.1v2.1h-2.1zM443.6 82.2h2.1v2.1h-2.1zM389.6 83.8h2.1v2.1h-2.1zM413.6 83.8h2.1v2.1h-2.1zM443.6 83.8h2.1v2.1h-2.1zM389.6 85.2h2.1v2.1h-2.1zM413.6 85.2h2.1v2.1h-2.1zM391.1 86.8h2.1v2.1h-2.1zM412.1 86.8h2.1v2.1h-2.1zM445.1 86.8h2.1v2.1h-2.1zM391.1 88.2h2.1v2.1h-2.1zM410.6 88.2h3.6v2.1h-3.6zM445.1 88.2h3.6v2.1h-3.6zM392.6 89.8h2.1v2.1h-2.1zM410.6 89.8h2.1v2.1h-2.1zM446.6 89.8h2.1v2.1h-2.1zM394.1 91.2h3.6v2.1h-3.6zM407.6 91.2h3.6v2.1h-3.6zM448.1 91.2h2.1v2.1h-2.1zM395.6 92.8h5.1v2.1h-5.1zM404.6 92.8h5.1v2.1h-5.1zM448.1 92.8h3.6v2.1h-3.6zM398.6 94.2h8.1v2.1h-8.1zM449.6 94.2h2.1v2.1h-2.1zM451.1 95.8h2.1v2.1h-2.1zM452.6 97.2h2.1v2.1h-2.1zM454.1 98.8h2.1v2.1h-2.1zM454.1 100.2h3.6v2.1h-3.6zM455.6 101.8h3.6v2.1h-3.6zM457.1 103.2h3.6v2.1h-3.6zM458.6 104.8h3.6v2.1h-3.6zM458.6 106.2h5.1v2.1h-5.1zM460.1 107.8h5.1v2.1h-5.1zM461.6 109.2h5.1v2.1h-5.1zM463.1 110.8h6.6v2.1h-6.6zM464.6 112.2h6.6v2.1h-6.6zM466.1 113.8h8.1v2.1h-8.1zM467.6 115.2h8.1v2.1h-8.1zM469.1 116.8h8.1v2.1h-8.1zM470.6 118.2h9.6v2.1h-9.6zM472.1 119.8h15.6v2.1h-15.6zM473.6 121.2h14.1v2.1h-14.1zM475.1 122.8h12.6v2.1h-12.6zM478.1 124.2h9.6v2.1h-9.6z"/>
<path fill="#b8d8e9" d="M443.6 35.8h5.1v2.1h-5.1zM443.6 37.2h5.1v2.1h-5.1zM443.6 38.8h5.1v2.1h-5.1zM443.6 40.2h5.1v2.1h-5.1zM443.6 41.8h5.1v2.1h-5.1zM443.6 43.2h5.1v2.1h-5.1zM398.6 44.8h8.1v2.1h-8.1zM443.6 44.8h3.6v2.1h-3.6zM395.6 46.2h14.1v2.1h-14.1zM443.6 46.2h3.6v2.1h-3.6zM394.1 47.8h3.6v2.1h-3.6zM407.6 47.8h5.1v2.1h-5.1zM445.1 47.8h2.1v2.1h-2.1zM392.6 49.2h2.1v2.1h-2.1zM410.6 49.2h3.6v2.1h-3.6zM445.1 49.2h2.1v2.1h-2.1zM391.1 50.8h2.1v2.1h-2.1zM412.1 50.8h3.6v2.1h-3.6zM445.1 50.8h2.1v2.1h-2.1zM391.1 52.2h2.1v2.1h-2.1zM413.6 52.2h2.1v2.1h-2.1zM445.1 52.2h2.1v2.1h-2.1zM389.6 53.8h2.1v2.1h-2.1zM413.6 53.8h3.6v2.1h-3.6zM445.1 53.8h2.1v2.1h-2.1zM389.6 55.2h2.1v2.1h-2.1zM415.1 55.2h2.1v2.1h-2.1zM445.1 55.2h2.1v2.1h-2.1zM389.6 56.8h2.1v2.1h-2.1zM415.1 56.8h2.1v2.1h-2.1zM388.1 58.2h2.1v2.1h-2.1zM415.1 58.2h2.1v2.1h-2.1zM388.1 59.8h2.1v2.1h-2.1zM443.6 59.8h2.1v2.1h-2.1zM388.1 61.2h2.1v2.1h-2.1zM416.6 61.2h2.1v2.1h-2.1zM443.6 61.2h2.1v2.1h-2.1zM388.1 62.8h2.1v2.1h-2.1zM416.6 62.8h2.1v2.1h-2.1zM443.6 62.8h2.1v2.1h-2.1zM388.1 64.2h2.1v2.1h-2.1zM416.6 64.2h2.1v2.1h-2.1zM443.6 64.2h2.1v2.1h-2.1zM388.1 65.8h2.1v2.1h-2.1zM416.6 65.8h2.1v2.1h-2.1zM443.6 65.8h2.1v2.1h-2.1zM388.1 67.2h2.1v2.1h-2.1zM416.6 67.2h2.1v2.1h-2.1zM443.6 67.2h2.1v2.1h-2.1zM388.1 68.8h2.1v2.1h-2.1zM416.6 68.8h2.1v2.1h-2.1zM443.6 68.8h2.1v2.1h-2.1zM388.1 70.2h2.1v2.1h-2.1zM416.6 70.2h2.1v2.1h-2.1zM443.6 70.2h2.1v2.1h-2.1zM388.1 71.8h2.1v2.1h-2.1zM443.6 71.8h2.1v2.1h-2.1zM388.1 73.2h2.1v2.1h-2.1zM443.6 73.2h2.1v2.1h-2.1zM388.1 74.8h2.1v2.1h-2.1zM415.1 74.8h2.1v2.1h-2.1zM443.6 74.8h2.1v2.1h-2.1zM388.1 76.2h2.1v2.1h-2.1zM415.1 76.2h2.1v2.1h-2.1zM443.6 76.2h2.1v2.1h-2.1zM388.1 77.8h2.1v2.1h-2.1zM415.1 77.8h2.1v2.1h-2.1zM443.6 77.8h2.1v2.1h-2.1zM389.6 79.2h2.1v2.1h-2.1zM415.1 79.2h2.1v2.1h-2.1zM443.6 79.2h2.1v2.1h-2.1zM389.6 80.8h2.1v2.1h-2.1zM413.6 80.8h2.1v2.1h-2.1zM443.6 80.8h2.1v2.1h-2.1zM389.6 82.2h2.1v2.1h-2.1zM413.6 82.2h2.1v2.1h-2.1zM445.1 82.2h2.1v2.1h-2.1zM391.1 83.8h2.1v2.1h-2.1zM412.1 83.8h2.1v2.1h-2.1zM445.1 83.8h2.1v2.1h-2.1zM391.1 85.2h2.1v2.1h-2.1zM412.1 85.2h2.1v2.1h-2.1zM445.1 85.2h2.1v2.1h-2.1zM392.6 86.8h2.1v2.1h-2.1zM410.6 86.8h2.1v2.1h-2.1zM446.6 86.8h2.1v2.1h-2.1zM392.6 88.2h3.6v2.1h-3.6zM409.1 88.2h2.1v2.1h-2.1zM448.1 88.2h2.1v2.1h-2.1zM394.1 89.8h3.6v2.1h-3.6zM407.6 89.8h3.6v2.1h-3.6zM448.1 89.8h2.1v2.1h-2.1zM397.1 91.2h11.1v2.1h-11.1zM449.6 91.2h2.1v2.1h-2.1zM400.1 92.8h5.1v2.1h-5.1zM451.1 92.8h2.1v2.1h-2.1zM451.1 94.2h3.6v2.1h-3.6zM452.6 95.8h3.6v2.1h-3.6zM454.1 97.2h3.6v2.1h-3.6zM455.6 98.8h3.6v2.1h-3.6zM457.1 100.2h3.6v2.1h-3.6zM458.6 101.8h3.6v2.1h-3.6zM460.1 103.2h5.1v2.1h-5.1zM461.6 104.8h5.1v2.1h-5.1zM463.1 106.2h6.6v2.1h-6.6zM464.6 107.8h6.6v2.1h-6.6zM466.1 109.2h8.1v2.1h-8.1zM469.1 110.8h8.1v2.1h-8.1zM470.6 112.2h9.6v2.1h-9.6zM473.6 113.8h14.1v2.1h-14.1zM475.1 115.2h12.6v2.1h-12.6zM476.6 116.8h11.1v2.1h-11.1zM479.6 118.2h8.1v2.1h-8.1z"/>
<path fill="#c7e0ed" d="M448.1 35.8h6.6v2.1h-6.6zM448.1 37.2h6.6v2.1h-6.6zM448.1 38.8h6.6v2.1h-6.6zM448.1 40.2h6.6v2.1h-6.6zM448.1 41.8h5.1v2.1h-5.1zM448.1 43.2h5.1v2.1h-5.1zM446.6 44.8h5.1v2.1h-5.1zM446.6 46.2h3.6v2.1h-3.6zM397.1 47.8h11.1v2.1h-11.1zM446.6 47.8h3.6v2.1h-3.6zM394.1 49.2h5.1v2.1h-5.1zM406.1 49.2h5.1v2.1h-5.1zM446.6 49.2h2.1v2.1h-2.1zM392.6 50.8h3.6v2.1h-3.6zM409.1 50.8h3.6v2.1h-3.6zM446.6 50.8h2.1v2.1h-2.1zM392.6 52.2h2.1v2.1h-2.1zM410.6 52.2h3.6v2.1h-3.6zM446.6 52.2h2.1v2.1h-2.1zM391.1 53.8h2.1v2.1h-2.1zM412.1 53.8h2.1v2.1h-2.1zM446.6 53.8h2.1v2.1h-2.1zM391.1 55.2h2.1v2.1h-2.1zM413.6 55.2h2.1v2.1h-2.1zM391.1 56.8h2.1v2.1h-2.1zM413.6 56.8h2.1v2.1h-2.1zM445.1 56.8h2.1v2.1h-2.1zM389.6 58.2h2.1v2.1h-2.1zM445.1 58.2h2.1v2.1h-2.1zM389.6 59.8h2.1v2.1h-2.1zM415.1 59.8h2.1v2.1h-2.1zM445.1 59.8h2.1v2.1h-2.1zM389.6 61.2h2.1v2.1h-2.1zM415.1 61.2h2.1v2.1h-2.1zM445.1 61.2h2.1v2.1h-2.1zM389.6 62.8h2.1v2.1h-2.1zM415.1 62.8h2.1v2.1h-2.1zM445.1 62.8h2.1v2.1h-2.1zM389.6 64.2h2.1v2.1h-2.1zM415.1 64.2h2.1v2.1h-2.1zM445.1 64.2h2.1v2.1h-2.1zM389.6 65.8h2.1v2.1h-2.1zM415.1 65.8h2.1v2.1h-2.1zM445.1 65.8h2.1v2.1h-2.1zM389.6 67.2h2.1v2.1h-2.1zM415.1 67.2h2.1v2.1h-2.1zM445.1 67.2h2.1v2.1h-2.1zM389.6 68.8h2.1v2.1h-2.1zM415.1 68.8h2.1v2.1h-2.1zM389.6 70.2h2.1v2.1h-2.1zM415.1 70.2h2.1v2.1h-2.1zM389.6 71.8h2.1v2.1h-2.1zM415.1 71.8h2.1v2.1h-2.1zM389.6 73.2h2.1v2.1h-2.1zM415.1 73.2h2.1v2.1h-2.1zM389.6 74.8h2.1v2.1h-2.1zM389.6 76.2h2.1v2.1h-2.1zM389.6 77.8h2.1v2.1h-2.1zM413.6 77.8h2.1v2.1h-2.1zM445.1 77.8h2.1v2.1h-2.1zM391.1 79.2h2.1v2.1h-2.1zM413.6 79.2h2.1v2.1h-2.1zM445.1 79.2h2.1v2.1h-2.1zM391.1 80.8h2.1v2.1h-2.1zM412.1 80.8h2.1v2.1h-2.1zM445.1 80.8h2.1v2.1h-2.1zM391.1 82.2h2.1v2.1h-2.1zM412.1 82.2h2.1v2.1h-2.1zM446.6 82.2h2.1v2.1h-2.1zM392.6 83.8h2.1v2.1h-2.1zM410.6 83.8h2.1v2.1h-2.1zM446.6 83.8h2.1v2.1h-2.1zM392.6 85.2h3.6v2.1h-3.6zM409.1 85.2h3.6v2.1h-3.6zM446.6 85.2h3.6v2.1h-3.6zM394.1 86.8h3.6v2.1h-3.6zM407.6 86.8h3.6v2.1h-3.6zM448.1 86.8h2.1v2.1h-2.1zM395.6 88.2h3.6v2.1h-3.6zM406.1 88.2h3.6v2.1h-3.6zM449.6 88.2h2.1v2.1h-2.1zM397.1 89.8h11.1v2.1h-11.1zM449.6 89.8h3.6v2.1h-3.6zM451.1 91.2h2.1v2.1h-2.1zM452.6 92.8h2.1v2.1h-2.1zM454.1 94.2h2.1v2.1h-2.1zM455.6 95.8h2.1v2.1h-2.1zM457.1 97.2h3.6v2.1h-3.6zM458.6 98.8h3.6v2.1h-3.6zM460.1 100.2h5.1v2.1h-5.1zM461.6 101.8h6.6v2.1h-6.6zM464.6 103.2h6.6v2.1h-6.6zM466.1 104.8h9.6v2.1h-9.6zM469.1 106.2h12.6v2.1h-12.6zM470.6 107.8h17.1v2.1h-17.1zM473.6 109.2h14.1v2.1h-14.1zM476.6 110.8h11.1v2.1h-11.1zM479.6 112.2h8.1v2.1h-8.1z"/>
<path fill="#d2e6f0" d="M454.1 35.8h8.1v2.1h-8.1zM454.1 37.2h8.1v2.1h-8.1zM454.1 38.8h8.1v2.1h-8.1zM454.1 40.2h8.1v2.1h-8.1zM452.6 41.8h8.1v2.1h-8.1zM452.6 43.2h6.6v2.1h-6.6zM451.1 44.8h5.1v2.1h-5.1zM449.6 46.2h5.1v2.1h-5.1zM449.6 47.8h3.6v2.1h-3.6zM398.6 49.2h8.1v2.1h-8.1zM448.1 49.2h3.6v2.1h-3.6zM395.6 50.8h5.1v2.1h-5.1zM404.6 50.8h5.1v2.1h-5.1zM448.1 50.8h3.6v2.1h-3.6zM394.1 52.2h3.6v2.1h-3.6zM407.6 52.2h3.6v2.1h-3.6zM448.1 52.2h2.1v2.1h-2.1zM392.6 53.8h3.6v2.1h-3.6zM409.1 53.8h3.6v2.1h-3.6zM448.1 53.8h2.1v2.1h-2.1zM392.6 55.2h2.1v2.1h-2.1zM410.6 55.2h3.6v2.1h-3.6zM446.6 55.2h3.6v2.1h-3.6zM392.6 56.8h2.1v2.1h-2.1zM412.1 56.8h2.1v2.1h-2.1zM446.6 56.8h2.1v2.1h-2.1zM391.1 58.2h2.1v2.1h-2.1zM413.6 58.2h2.1v2.1h-2.1zM446.6 58.2h2.1v2.1h-2.1zM391.1 59.8h2.1v2.1h-2.1zM413.6 59.8h2.1v2.1h-2.1zM446.6 59.8h2.1v2.1h-2.1zM391.1 61.2h2.1v2.1h-2.1zM413.6 61.2h2.1v2.1h-2.1zM446.6 61.2h2.1v2.1h-2.1zM391.1 62.8h2.1v2.1h-2.1zM413.6 62.8h2.1v2.1h-2.1zM446.6 62.8h2.1v2.1h-2.1zM391.1 64.2h2.1v2.1h-2.1zM446.6 64.2h2.1v2.1h-2.1zM391.1 65.8h2.1v2.1h-2.1zM391.1 67.2h2.1v2.1h-2.1zM391.1 68.8h2.1v2.1h-2.1zM445.1 68.8h2.1v2.1h-2.1zM391.1 70.2h2.1v2.1h-2.1zM445.1 70.2h2.1v2.1h-2.1zM391.1 71.8h2.1v2.1h-2.1zM413.6 71.8h2.1v2.1h-2.1zM445.1 71.8h2.1v2.1h-2.1zM391.1 73.2h2.1v2.1h-2.1zM413.6 73.2h2.1v2.1h-2.1zM445.1 73.2h2.1v2.1h-2.1zM391.1 74.8h2.1v2.1h-2.1zM413.6 74.8h2.1v2.1h-2.1zM445.1 74.8h2.1v2.1h-2.1zM391.1 76.2h2.1v2.1h-2.1zM413.6 76.2h2.1v2.1h-2.1zM445.1 76.2h2.1v2.1h-2.1zM391.1 77.8h2.1v2.1h-2.1zM412.1 77.8h2.1v2.1h-2.1zM446.6 77.8h2.1v2.1h-2.1zM392.6 79.2h2.1v2.1h-2.1zM412.1 79.2h2.1v2.1h-2.1zM446.6 79.2h2.1v2.1h-2.1zM392.6 80.8h2.1v2.1h-2.1zM410.6 80.8h2.1v2.1h-2.1zM446.6 80.8h2.1v2.1h-2.1zM392.6 82.2h3.6v2.1h-3.6zM410.6 82.2h2.1v2.1h-2.1zM448.1 82.2h2.1v2.1h-2.1zM394.1 83.8h2.1v2.1h-2.1zM409.1 83.8h2.1v2.1h-2.1zM448.1 83.8h2.1v2.1h-2.1zM395.6 85.2h2.1v2.1h-2.1zM407.6 85.2h2.1v2.1h-2.1zM449.6 85.2h2.1v2.1h-2.1zM397.1 86.8h3.6v2.1h-3.6zM404.6 86.8h3.6v2.1h-3.6zM449.6 86.8h2.1v2.1h-2.1zM398.6 88.2h8.1v2.1h-8.1zM451.1 88.2h2.1v2.1h-2.1zM452.6 89.8h2.1v2.1h-2.1zM452.6 91.2h3.6v2.1h-3.6zM454.1 92.8h3.6v2.1h-3.6zM455.6 94.2h3.6v2.1h-3.6zM457.1 95.8h5.1v2.1h-5.1zM460.1 97.2h5.1v2.1h-5.1zM461.6 98.8h8.1v2.1h-8.1zM464.6 100.2h23.1v2.1h-23.1zM467.6 101.8h20.1v2.1h-20.1zM470.6 103.2h17.1v2.1h-17.1zM475.1 104.8h12.6v2.1h-12.6zM481.1 106.2h6.6v2.1h-6.6z"/>
<path fill="#dae9f2" d="M461.6 35.8h26.1v2.1h-26.1zM461.6 37.2h26.1v2.1h-26.1zM461.6 38.8h26.1v2.1h-26.1zM461.6 40.2h26.1v2.1h-26.1zM460.1 41.8h27.6v2.1h-27.6zM458.6 43.2h29.1v2.1h-29.1zM455.6 44.8h32.1v2.1h-32.1zM454.1 46.2h8.1v2.1h-8.1zM452.6 47.8h5.1v2.1h-5.1zM451.1 49.2h5.1v2.1h-5.1zM400.1 50.8h5.1v2.1h-5.1zM451.1 50.8h2.1v2.1h-2.1zM397.1 52.2h11.1v2.1h-11.1zM449.6 52.2h3.6v2.1h-3.6zM395.6 53.8h2.1v2.1h-2.1zM406.1 53.8h3.6v2.1h-3.6zM449.6 53.8h2.1v2.1h-2.1zM394.1 55.2h2.1v2.1h-2.1zM409.1 55.2h2.1v2.1h-2.1zM449.6 55.2h2.1v2.1h-2.1zM394.1 56.8h2.1v2.1h-2.1zM410.6 56.8h2.1v2.1h-2.1zM448.1 56.8h2.1v2.1h-2.1zM392.6 58.2h2.1v2.1h-2.1zM410.6 58.2h3.6v2.1h-3.6zM448.1 58.2h2.1v2.1h-2.1zM392.6 59.8h2.1v2.1h-2.1zM412.1 59.8h2.1v2.1h-2.1zM448.1 59.8h2.1v2.1h-2.1zM392.6 61.2h2.1v2.1h-2.1zM412.1 61.2h2.1v2.1h-2.1zM448.1 61.2h2.1v2.1h-2.1zM392.6 62.8h2.1v2.1h-2.1zM448.1 62.8h2.1v2.1h-2.1zM392.6 64.2h2.1v2.1h-2.1zM413.6 64.2h2.1v2.1h-2.1zM448.1 64.2h2.1v2.1h-2.1zM392.6 65.8h2.1v2.1h-2.1zM413.6 65.8h2.1v2.1h-2.1zM446.6 65.8h2.1v2.1h-2.1zM392.6 67.2h2.1v2.1h-2.1zM413.6 67.2h2.1v2.1h-2.1zM446.6 67.2h2.1v2.1h-2.1zM392.6 68.8h2.1v2.1h-2.1zM413.6 68.8h2.1v2.1h-2.1zM446.6 68.8h2.1v2.1h-2.1zM392.6 70.2h2.1v2.1h-2.1zM413.6 70.2h2.1v2.1h-2.1zM446.6 70.2h2.1v2.1h-2.1zM392.6 71.8h2.1v2.1h-2.1zM446.6 71.8h2.1v2.1h-2.1zM392.6 73.2h2.1v2.1h-2.1zM412.1 73.2h2.1v2.1h-2.1zM446.6 73.2h2.1v2.1h-2.1zM392.6 74.8h2.1v2.1h-2.1zM412.1 74.8h2.1v2.1h-2.1zM446.6 74.8h2.1v2.1h-2.1zM392.6 76.2h2.1v2.1h-2.1zM412.1 76.2h2.1v2.1h-2.1zM446.6 76.2h2.1v2.1h-2.1zM392.6 77.8h3.6v2.1h-3.6zM410.6 77.8h2.1v2.1h-2.1zM448.1 77.8h2.1v2.1h-2.1zM394.1 79.2h2.1v2.1h-2.1zM410.6 79.2h2.1v2.1h-2.1zM448.1 79.2h2.1v2.1h-2.1zM394.1 80.8h2.1v2.1h-2.1zM409.1 80.8h2.1v2.1h-2.1zM448.1 80.8h2.1v2.1h-2.1zM395.6 82.2h2.1v2.1h-2.1zM407.6 82.2h3.6v2.1h-3.6zM449.6 82.2h2.1v2.1h-2.1zM395.6 83.8h3.6v2.1h-3.6zM406.1 83.8h3.6v2.1h-3.6zM449.6 83.8h2.1v2.1h-2.1zM397.1 85.2h11.1v2.1h-11.1zM451.1 85.2h2.1v2.1h-2.1zM400.1 86.8h5.1v2.1h-5.1zM451.1 86.8h3.6v2.1h-3.6zM452.6 88.2h3.6v2.1h-3.6zM454.1 89.8h3.6v2.1h-3.6zM455.6 91.2h3.6v2.1h-3.6zM457.1 92.8h5.1v2.1h-5.1zM458.6 94.2h8.1v2.1h-8.1zM478.1 94.2h9.6v2.1h-9.6zM461.6 95.8h26.1v2.1h-26.1zM464.6 97.2h23.1v2.1h-23.1zM469.1 98.8h18.6v2.1h-18.6z"/>
<path fill="#e3edf3" d="M461.6 46.2h26.1v2.1h-26.1zM457.1 47.8h30.6v2.1h-30.6zM455.6 49.2h32.1v2.1h-32.1zM452.6 50.8h6.6v2.1h-6.6zM473.6 50.8h14.1v2.1h-14.1zM452.6 52.2h3.6v2.1h-3.6zM476.6 52.2h11.1v2.1h-11.1zM397.1 53.8h9.6v2.1h-9.6zM451.1 53.8h3.6v2.1h-3.6zM481.1 53.8h6.6v2.1h-6.6zM395.6 55.2h3.6v2.1h-3.6zM406.1 55.2h3.6v2.1h-3.6zM451.1 55.2h2.1v2.1h-2.1zM395.6 56.8h2.1v2.1h-2.1zM407.6 56.8h3.6v2.1h-3.6zM449.6 56.8h3.6v2.1h-3.6zM394.1 58.2h3.6v2.1h-3.6zM409.1 58.2h2.1v2.1h-2.1zM449.6 58.2h2.1v2.1h-2.1zM394.1 59.8h2.1v2.1h-2.1zM410.6 59.8h2.1v2.1h-2.1zM449.6 59.8h2.1v2.1h-2.1zM394.1 61.2h2.1v2.1h-2.1zM410.6 61.2h2.1v2.1h-2.1zM449.6 61.2h2.1v2.1h-2.1zM394.1 62.8h2.1v2.1h-2.1zM412.1 62.8h2.1v2.1h-2.1zM449.6 62.8h2.1v2.1h-2.1zM394.1 64.2h2.1v2.1h-2.1zM412.1 64.2h2.1v2.1h-2.1zM449.6 64.2h2.1v2.1h-2.1zM394.1 65.8h2.1v2.1h-2.1zM412.1 65.8h2.1v2.1h-2.1zM448.1 65.8h2.1v2.1h-2.1zM394.1 67.2h2.1v2.1h-2.1zM412.1 67.2h2.1v2.1h-2.1zM448.1 67.2h2.1v2.1h-2.1zM394.1 68.8h2.1v2.1h-2.1zM412.1 68.8h2.1v2.1h-2.1zM448.1 68.8h2.1v2.1h-2.1zM394.1 70.2h2.1v2.1h-2.1zM412.1 70.2h2.1v2.1h-2.1zM448.1 70.2h2.1v2.1h-2.1zM394.1 71.8h2.1v2.1h-2.1zM412.1 71.8h2.1v2.1h-2.1zM448.1 71.8h2.1v2.1h-2.1zM394.1 73.2h2.1v2.1h-2.1zM448.1 73.2h2.1v2.1h-2.1zM394.1 74.8h2.1v2.1h-2.1zM410.6 74.8h2.1v2.1h-2.1zM448.1 74.8h2.1v2.1h-2.1zM394.1 76.2h2.1v2.1h-2.1zM410.6 76.2h2.1v2.1h-2.1zM448.1 76.2h3.6v2.1h-3.6zM395.6 77.8h2.1v2.1h-2.1zM409.1 77.8h2.1v2.1h-2.1zM449.6 77.8h2.1v2.1h-2.1zM395.6 79.2h2.1v2.1h-2.1zM409.1 79.2h2.1v2.1h-2.1zM449.6 79.2h2.1v2.1h-2.1zM395.6 80.8h3.6v2.1h-3.6zM406.1 80.8h3.6v2.1h-3.6zM449.6 80.8h3.6v2.1h-3.6zM397.1 82.2h11.1v2.1h-11.1zM451.1 82.2h2.1v2.1h-2.1zM398.6 83.8h8.1v2.1h-8.1zM451.1 83.8h3.6v2.1h-3.6zM452.6 85.2h3.6v2.1h-3.6zM454.1 86.8h3.6v2.1h-3.6zM479.6 86.8h8.1v2.1h-8.1zM455.6 88.2h3.6v2.1h-3.6zM476.6 88.2h11.1v2.1h-11.1zM457.1 89.8h5.1v2.1h-5.1zM470.6 89.8h17.1v2.1h-17.1zM458.6 91.2h29.1v2.1h-29.1zM461.6 92.8h26.1v2.1h-26.1zM466.1 94.2h12.6v2.1h-12.6z"/>
<path fill="#eaf1f5" d="M458.6 50.8h15.6v2.1h-15.6zM455.6 52.2h21.6v2.1h-21.6zM454.1 53.8h5.1v2.1h-5.1zM467.6 53.8h14.1v2.1h-14.1zM398.6 55.2h8.1v2.1h-8.1zM452.6 55.2h3.6v2.1h-3.6zM470.6 55.2h17.1v2.1h-17.1zM397.1 56.8h5.1v2.1h-5.1zM403.1 56.8h5.1v2.1h-5.1zM452.6 56.8h2.1v2.1h-2.1zM472.1 56.8h15.6v2.1h-15.6zM397.1 58.2h2.1v2.1h-2.1zM406.1 58.2h3.6v2.1h-3.6zM451.1 58.2h3.6v2.1h-3.6zM472.1 58.2h15.6v2.1h-15.6zM395.6 59.8h3.6v2.1h-3.6zM407.6 59.8h3.6v2.1h-3.6zM451.1 59.8h2.1v2.1h-2.1zM473.6 59.8h14.1v2.1h-14.1zM395.6 61.2h2.1v2.1h-2.1zM409.1 61.2h2.1v2.1h-2.1zM451.1 61.2h2.1v2.1h-2.1zM473.6 61.2h14.1v2.1h-14.1zM395.6 62.8h2.1v2.1h-2.1zM410.6 62.8h2.1v2.1h-2.1zM451.1 62.8h2.1v2.1h-2.1zM475.1 62.8h12.6v2.1h-12.6zM395.6 64.2h2.1v2.1h-2.1zM410.6 64.2h2.1v2.1h-2.1zM451.1 64.2h2.1v2.1h-2.1zM475.1 64.2h12.6v2.1h-12.6zM395.6 65.8h2.1v2.1h-2.1zM410.6 65.8h2.1v2.1h-2.1zM449.6 65.8h3.6v2.1h-3.6zM475.1 65.8h12.6v2.1h-12.6zM395.6 67.2h2.1v2.1h-2.1zM410.6 67.2h2.1v2.1h-2.1zM449.6 67.2h2.1v2.1h-2.1zM475.1 67.2h12.6v2.1h-12.6zM395.6 68.8h2.1v2.1h-2.1zM410.6 68.8h2.1v2.1h-2.1zM449.6 68.8h2.1v2.1h-2.1zM475.1 68.8h12.6v2.1h-12.6zM395.6 70.2h2.1v2.1h-2.1zM410.6 70.2h2.1v2.1h-2.1zM449.6 70.2h2.1v2.1h-2.1zM476.6 70.2h11.1v2.1h-11.1zM395.6 71.8h2.1v2.1h-2.1zM410.6 71.8h2.1v2.1h-2.1zM449.6 71.8h2.1v2.1h-2.1zM476.6 71.8h11.1v2.1h-11.1zM395.6 73.2h2.1v2.1h-2.1zM410.6 73.2h2.1v2.1h-2.1zM449.6 73.2h3.6v2.1h-3.6zM476.6 73.2h11.1v2.1h-11.1zM395.6 74.8h2.1v2.1h-2.1zM409.1 74.8h2.1v2.1h-2.1zM449.6 74.8h3.6v2.1h-3.6zM476.6 74.8h11.1v2.1h-11.1zM395.6 76.2h3.6v2.1h-3.6zM407.6 76.2h3.6v2.1h-3.6zM451.1 76.2h2.1v2.1h-2.1zM476.6 76.2h11.1v2.1h-11.1zM397.1 77.8h3.6v2.1h-3.6zM407.6 77.8h2.1v2.1h-2.1zM451.1 77.8h2.1v2.1h-2.1zM476.6 77.8h11.1v2.1h-11.1zM397.1 79.2h5.1v2.1h-5.1zM404.6 79.2h5.1v2.1h-5.1zM451.1 79.2h3.6v2.1h-3.6zM475.1 79.2h12.6v2.1h-12.6zM398.6 80.8h8.1v2.1h-8.1zM452.6 80.8h3.6v2.1h-3.6zM475.1 80.8h12.6v2.1h-12.6zM452.6 82.2h3.6v2.1h-3.6zM473.6 82.2h14.1v2.1h-14.1zM454.1 83.8h3.6v2.1h-3.6zM472.1 83.8h15.6v2.1h-15.6zM455.6 85.2h5.1v2.1h-5.1zM469.1 85.2h18.6v2.1h-18.6zM457.1 86.8h23.1v2.1h-23.1zM458.6 88.2h18.6v2.1h-18.6zM461.6 89.8h9.6v2.1h-9.6z"/>
<path fill="#f3f5f6" d="M458.6 53.8h9.6v2.1h-9.6zM455.6 55.2h15.6v2.1h-15.6zM401.6 56.8h2.1v2.1h-2.1zM454.1 56.8h18.6v2.1h-18.6zM398.6 58.2h8.1v2.1h-8.1zM454.1 58.2h3.6v2.1h-3.6zM464.6 58.2h8.1v2.1h-8.1zM398.6 59.8h3.6v2.1h-3.6zM404.6 59.8h3.6v2.1h-3.6zM452.6 59.8h3.6v2.1h-3.6zM466.1 59.8h8.1v2.1h-8.1zM397.1 61.2h3.6v2.1h-3.6zM406.1 61.2h3.6v2.1h-3.6zM452.6 61.2h3.6v2.1h-3.6zM467.6 61.2h6.6v2.1h-6.6zM397.1 62.8h2.1v2.1h-2.1zM407.6 62.8h3.6v2.1h-3.6zM452.6 62.8h2.1v2.1h-2.1zM467.6 62.8h8.1v2.1h-8.1zM397.1 64.2h2.1v2.1h-2.1zM409.1 64.2h2.1v2.1h-2.1zM452.6 64.2h2.1v2.1h-2.1zM467.6 64.2h8.1v2.1h-8.1zM397.1 65.8h2.1v2.1h-2.1zM409.1 65.8h2.1v2.1h-2.1zM452.6 65.8h2.1v2.1h-2.1zM469.1 65.8h6.6v2.1h-6.6zM397.1 67.2h2.1v2.1h-2.1zM409.1 67.2h2.1v2.1h-2.1zM451.1 67.2h3.6v2.1h-3.6zM469.1 67.2h6.6v2.1h-6.6zM397.1 68.8h2.1v2.1h-2.1zM409.1 68.8h2.1v2.1h-2.1zM451.1 68.8h3.6v2.1h-3.6zM469.1 68.8h6.6v2.1h-6.6zM397.1 70.2h2.1v2.1h-2.1zM409.1 70.2h2.1v2.1h-2.1zM451.1 70.2h3.6v2.1h-3.6zM469.1 70.2h8.1v2.1h-8.1zM397.1 71.8h2.1v2.1h-2.1zM409.1 71.8h2.1v2.1h-2.1zM451.1 71.8h3.6v2.1h-3.6zM469.1 71.8h8.1v2.1h-8.1zM397.1 73.2h3.6v2.1h-3.6zM407.6 73.2h3.6v2.1h-3.6zM452.6 73.2h2.1v2.1h-2.1zM469.1 73.2h8.1v2.1h-8.1zM397.1 74.8h3.6v2.1h-3.6zM406.1 74.8h3.6v2.1h-3.6zM452.6 74.8h3.6v2.1h-3.6zM469.1 74.8h8.1v2.1h-8.1zM398.6 76.2h9.6v2.1h-9.6zM452.6 76.2h3.6v2.1h-3.6zM469.1 76.2h8.1v2.1h-8.1zM400.1 77.8h8.1v2.1h-8.1zM452.6 77.8h5.1v2.1h-5.1zM469.1 77.8h8.1v2.1h-8.1zM401.6 79.2h3.6v2.1h-3.6zM454.1 79.2h5.1v2.1h-5.1zM467.6 79.2h8.1v2.1h-8.1zM455.6 80.8h5.1v2.1h-5.1zM464.6 80.8h11.1v2.1h-11.1zM455.6 82.2h18.6v2.1h-18.6zM457.1 83.8h15.6v2.1h-15.6zM460.1 85.2h9.6v2.1h-9.6z"/>
<path fill="#f8f4f2" d="M457.1 58.2h8.1v2.1h-8.1zM401.6 59.8h3.6v2.1h-3.6zM455.6 59.8h11.1v2.1h-11.1zM400.1 61.2h6.6v2.1h-6.6zM455.6 61.2h12.6v2.1h-12.6zM398.6 62.8h9.6v2.1h-9.6zM454.1 62.8h14.1v2.1h-14.1zM398.6 64.2h3.6v2.1h-3.6zM404.6 64.2h5.1v2.1h-5.1zM454.1 64.2h5.1v2.1h-5.1zM461.6 64.2h6.6v2.1h-6.6zM398.6 65.8h3.6v2.1h-3.6zM406.1 65.8h3.6v2.1h-3.6zM454.1 65.8h3.6v2.1h-3.6zM463.1 65.8h6.6v2.1h-6.6zM398.6 67.2h3.6v2.1h-3.6zM406.1 67.2h3.6v2.1h-3.6zM454.1 67.2h3.6v2.1h-3.6zM463.1 67.2h6.6v2.1h-6.6zM398.6 68.8h3.6v2.1h-3.6zM406.1 68.8h3.6v2.1h-3.6zM454.1 68.8h3.6v2.1h-3.6zM463.1 68.8h6.6v2.1h-6.6zM398.6 70.2h3.6v2.1h-3.6zM406.1 70.2h3.6v2.1h-3.6zM454.1 70.2h5.1v2.1h-5.1zM463.1 70.2h6.6v2.1h-6.6zM398.6 71.8h11.1v2.1h-11.1zM454.1 71.8h5.1v2.1h-5.1zM461.6 71.8h8.1v2.1h-8.1zM400.1 73.2h8.1v2.1h-8.1zM454.1 73.2h15.6v2.1h-15.6zM400.1 74.8h6.6v2.1h-6.6zM455.6 74.8h14.1v2.1h-14.1zM455.6 76.2h14.1v2.1h-14.1zM457.1 77.8h12.6v2.1h-12.6zM458.6 79.2h9.6v2.1h-9.6zM460.1 80.8h5.1v2.1h-5.1z"/>
<path fill="#f9eee7" d="M401.6 64.2h3.6v2.1h-3.6zM458.6 64.2h3.6v2.1h-3.6zM401.6 65.8h5.1v2.1h-5.1zM457.1 65.8h6.6v2.1h-6.6zM401.6 67.2h5.1v2.1h-5.1zM457.1 67.2h6.6v2.1h-6.6zM401.6 68.8h5.1v2.1h-5.1zM457.1 68.8h6.6v2.1h-6.6zM401.6 70.2h5.1v2.1h-5.1zM458.6 70.2h5.1v2.1h-5.1zM458.6 71.8h3.6v2.1h-3.6z"/>
</g>
<g fill="none" stroke="#1a1a1a" stroke-width="0.55" stroke-opacity="0.85">
<path d="M431.5,83.0 L432.4,80.1 L432.4,79.9 L431.5,77.0 L429.6,77.0 L429.0,78.5 L429.0,81.5 L429.4,83.1 L431.5,83.0"/>
<path d="M367.9,117.0 L370.9,116.9 L373.9,117.2 L375.4,117.5 L378.0,119.0 L379.3,120.5 L380.3,122.0 L381.4,123.9 L382.9,126.5 L383.8,128.0 L384.8,129.5 L385.9,131.0 L387.4,132.8 L388.9,134.2 L390.6,135.5 L392.8,137.0 L394.9,138.2 L396.4,138.9 L398.9,140.0 L400.9,140.7 L403.9,141.3 L405.4,141.5 L408.4,141.7 L411.4,141.8 L414.4,141.8 L417.4,141.8 L420.4,141.7 L423.4,141.7 L426.4,141.7 L428.5,141.5 L430.9,141.0 L433.0,140.0 L434.8,138.5 L435.9,137.0 L436.9,135.3 L438.1,132.5 L438.7,131.0 L439.8,128.0 L440.2,126.5 L440.5,123.5 L440.3,120.5 L439.9,117.7 L439.5,116.0 L438.9,113.0 L438.4,110.6 L437.8,108.5 L436.9,105.7 L436.1,104.0 L435.2,102.5 L433.9,100.6 L432.4,98.9 L430.9,97.8 L427.9,97.8 L426.4,98.9 L424.9,100.5 L423.4,102.5 L422.5,104.0 L421.5,105.5 L420.4,107.0 L418.9,108.8 L417.4,110.0 L414.7,111.5 L412.9,112.1 L409.9,112.7 L406.9,112.9 L403.9,112.9 L400.9,112.9 L397.9,112.8 L394.9,112.6 L391.9,112.3 L388.9,111.8 L387.4,111.3 L385.2,110.0 L383.9,108.5 L382.9,106.3 L382.2,104.0 L381.4,101.0 L381.1,99.5 L380.3,96.5 L379.9,94.7 L379.2,92.0 L378.4,89.2 L377.8,87.5 L376.9,84.7 L376.2,83.0 L375.4,81.3 L373.9,79.2 L372.4,78.0 L369.4,77.7"/>
<path d="M461.2,155.0 L461.2,152.0 L460.9,149.0 L460.7,147.5 L459.9,144.5 L459.4,142.8 L458.4,140.0 L457.8,138.5 L456.7,135.5 L456.2,134.0 L455.4,131.0 L454.9,129.3 L454.2,126.5 L453.4,123.5 L453.0,122.0 L452.2,119.0 L451.8,117.5 L450.9,114.5 L450.4,112.4 L449.8,110.0 L448.9,107.3 L448.2,105.5 L447.4,103.8 L445.9,101.1 L444.9,99.5 L443.9,98.0 L442.9,96.5 L441.4,94.1 L440.3,92.0 L439.7,90.5 L438.9,87.5 L438.5,84.5 L438.4,83.0 L438.1,80.0 L437.8,77.0 L437.5,74.0 L437.3,71.0 L437.2,68.0 L437.6,65.0 L438.1,62.0 L438.4,60.4 L438.6,57.5 L438.4,55.8 L437.4,53.0 L436.3,51.5 L434.1,50.0 L432.4,49.5 L429.4,49.8 L427.9,50.6 L426.4,52.0 L425.1,54.5 L424.6,56.0 L424.2,59.0 L424.0,62.0 L423.9,65.0 L423.7,68.0 L423.4,70.5 L423.2,72.5 L422.8,75.5 L422.5,78.5 L422.1,81.5 L421.8,83.0 L421.2,86.0 L420.4,88.7 L419.7,90.5 L418.9,92.2 L417.4,94.9 L416.3,96.5 L415.1,98.0 L413.7,99.5 L411.8,101.0 L409.9,102.1 L408.4,102.7 L405.4,103.3 L402.4,103.5 L399.4,103.2 L396.6,102.5 L394.9,101.9 L393.2,101.0 L391.1,99.5 L389.6,98.0 L388.5,96.5 L387.4,94.9 L385.9,92.0 L385.2,90.5 L384.4,88.4 L383.5,86.0 L382.9,84.2 L382.1,81.5 L381.4,79.0 L380.9,77.0 L380.2,74.0 L379.8,72.5 L378.8,69.5 L378.2,68.0 L376.9,66.1 L375.4,64.8 L372.4,63.7 L369.4,63.6"/>
<path d="M417.1,36.5 L416.9,39.5 L417.4,41.8 L418.1,44.0 L418.9,46.6 L419.2,48.5 L419.5,51.5 L419.7,54.5 L419.8,57.5 L419.8,60.5 L419.8,63.5 L419.8,66.5 L419.6,69.5 L419.4,72.5 L419.1,75.5 L418.8,77.0 L418.3,80.0 L417.5,83.0 L417.0,84.5 L415.9,87.1 L414.9,89.0 L413.9,90.5 L412.8,92.0 L411.4,93.5 L409.6,95.0 L406.9,96.5 L405.4,96.9 L402.4,97.3 L399.4,97.0 L397.7,96.5 L394.9,95.0 L393.4,93.7 L391.9,92.1 L390.8,90.5 L389.9,89.0 L388.9,87.2 L387.7,84.5 L387.2,83.0 L386.3,80.0 L385.9,77.9 L385.5,75.5 L385.3,72.5 L385.2,69.5 L385.1,66.5 L385.0,63.5 L385.0,60.5 L385.1,57.5 L385.6,54.5 L386.0,53.0 L387.2,50.0 L387.9,48.5 L388.9,46.6 L390.4,44.1 L391.2,42.5 L391.9,39.9 L391.9,38.0 L391.7,36.5"/>
<path d="M486.4,134.2 L483.4,134.2 L481.7,134.0 L478.9,133.3 L477.0,132.5 L474.4,131.1 L472.9,130.0 L471.4,128.8 L469.9,127.3 L468.4,125.6 L466.9,123.5 L465.9,122.0 L464.9,120.5 L463.9,119.0 L462.4,116.9 L460.9,114.7 L459.8,113.0 L458.9,111.5 L457.9,109.8 L456.4,107.0 L455.6,105.5 L454.7,104.0 L453.4,102.0 L451.9,100.0 L450.4,98.0 L449.3,96.5 L448.2,95.0 L447.1,93.5 L445.9,91.7 L444.4,89.0 L443.7,87.5 L442.9,85.3 L442.3,83.0 L441.7,80.0 L441.4,77.1 L441.3,75.5 L441.2,72.5 L441.2,69.5 L441.4,66.8 L441.6,65.0 L442.0,62.0 L442.3,59.0 L442.3,56.0 L442.1,53.0 L441.4,50.5 L440.5,48.5 L439.6,47.0 L438.2,45.5 L436.5,44.0 L434.6,42.5 L433.1,41.0 L432.6,38.0"/>
<path d="M486.4,112.6 L483.4,112.5 L480.4,111.9 L478.9,111.4 L476.0,110.0 L474.4,109.2 L472.9,108.5 L470.0,107.0 L468.4,106.2 L466.9,105.3 L464.9,104.0 L462.9,102.5 L461.0,101.0 L459.4,99.7 L457.9,98.5 L456.4,97.1 L454.9,95.7 L453.4,94.1 L451.9,92.4 L450.5,90.5 L449.4,89.0 L448.5,87.5 L447.4,85.6 L446.3,83.0 L445.8,81.5 L445.1,78.5 L444.8,75.5 L444.7,72.5 L444.9,69.5 L445.1,66.5 L445.5,63.5 L445.8,60.5 L445.9,59.0 L446.3,56.0 L446.6,53.0 L447.0,50.0 L447.4,47.6 L447.9,45.5 L448.7,42.5 L448.9,41.0 L449.0,38.0"/>
<path d="M405.4,90.9 L402.4,91.5 L399.4,91.1 L397.9,90.4 L396.0,89.0 L394.6,87.5 L393.4,85.8 L391.9,83.0 L391.3,81.5 L390.5,78.5 L390.2,77.0 L389.8,74.0 L389.7,71.0 L389.8,68.0 L389.9,65.0 L390.1,62.0 L390.4,60.0 L390.9,57.5 L391.9,54.5 L392.7,53.0 L393.8,51.5 L395.3,50.0 L397.8,48.5 L399.4,48.0 L402.4,47.8 L405.4,48.3 L406.9,48.8 L409.3,50.0 L411.4,51.5 L412.8,53.0 L413.8,54.5 L414.6,56.0 L415.6,59.0 L415.9,60.5 L416.3,63.5 L416.4,66.5 L416.4,69.5 L416.1,72.5 L415.9,74.2 L415.3,77.0 L414.5,80.0 L413.9,81.5 L412.9,83.6 L411.4,86.0 L410.2,87.5 L408.6,89.0 L406.9,90.2 L405.4,90.9"/>
<path d="M486.4,92.2 L483.4,92.2 L480.4,92.4 L477.4,92.9 L474.4,93.4 L472.9,93.6 L469.9,93.8 L466.9,93.7 L465.2,93.5 L462.4,92.8 L460.4,92.0 L457.9,90.6 L456.4,89.3 L454.9,87.7 L453.6,86.0 L452.5,84.5 L451.6,83.0 L450.4,80.6 L449.7,78.5 L449.1,75.5 L448.9,72.5 L449.0,69.5 L449.3,66.5 L449.7,63.5 L450.2,60.5 L450.5,59.0 L451.5,56.0 L452.2,54.5 L453.4,52.8 L454.9,51.4 L457.0,50.0 L459.4,48.9 L460.9,48.5 L463.9,47.8 L466.9,47.5 L469.9,47.6 L472.9,47.9 L475.9,48.5 L477.4,48.8 L480.4,49.4 L483.4,49.8 L486.4,49.8"/>
<path d="M402.4,84.6 L400.9,84.3 L398.6,83.0 L397.3,81.5 L396.3,80.0 L395.1,77.0 L394.7,75.5 L394.3,72.5 L394.1,69.5 L394.2,66.5 L394.4,63.5 L394.9,60.7 L395.4,59.0 L396.4,57.0 L397.9,55.3 L399.4,54.3 L402.4,53.9 L405.2,54.5 L406.9,55.3 L408.4,56.4 L409.9,57.9 L411.4,60.3 L412.1,62.0 L412.8,65.0 L413.0,66.5 L413.0,69.5 L412.9,71.0 L412.3,74.0 L411.4,76.9 L410.6,78.5 L409.8,80.0 L408.4,81.8 L406.9,83.1 L403.9,84.5 L402.4,84.6"/>
<path d="M463.9,77.3 L460.9,77.7 L459.3,77.0 L457.6,75.5 L456.4,73.5 L455.7,71.0 L455.5,68.0 L456.0,65.0 L456.5,63.5 L457.9,61.5 L459.6,60.5 L461.6,60.5 L463.9,62.0 L464.8,63.5 L465.4,65.1 L466.0,68.0 L466.3,71.0 L466.0,74.0 L465.4,75.8 L463.9,77.3"/>
<path d="M405.4,74.2 L402.4,74.2 L400.9,72.5 L400.4,71.0 L399.9,68.0 L400.3,65.0 L400.9,63.5 L403.9,62.2 L406.1,63.5 L407.2,65.0 L408.0,68.0 L407.6,71.0 L406.9,72.6 L405.4,74.2"/>
</g></g>
<g fill="none" stroke="#222" stroke-width="0.9">
<circle cx="427.7" cy="96.3" r="45.2"/>
<path d="M418.24,52.10 L427.70,44.32 L437.16,52.10 M382.77,91.28 L381.60,89.29 L380.87,89.22 L379.80,89.56 L378.71,91.28 L378.88,96.80 L378.25,104.73 L379.61,108.17 L381.60,108.81 L383.49,107.14 M472.63,91.28 L473.80,89.29 L474.53,89.22 L475.60,89.56 L476.69,91.28 L476.52,96.80 L477.15,104.73 L475.79,108.17 L473.80,108.81 L471.91,107.14"/>
</g>
<path fill="none" stroke="#1a1f2a" stroke-width="1.35" stroke-linecap="round" d="M415.8 58.2h.01M422.7 57.4h.01M430.7 57.6h.01M437.0 57.6h.01M405.9 63.4h.01M412.3 63.6h.01M419.6 63.0h.01M426.4 63.8h.01M435.0 64.9h.01M440.6 63.3h.01M449.6 62.4h.01M400.8 69.5h.01M408.4 70.1h.01M416.7 70.9h.01M423.2 70.9h.01M430.3 71.3h.01M438.0 70.9h.01M444.4 70.7h.01M451.4 68.8h.01M460.0 69.7h.01M390.1 77.2h.01M397.2 76.7h.01M405.3 77.3h.01M411.3 76.8h.01M419.5 76.0h.01M427.1 76.2h.01M435.1 77.0h.01M441.8 76.4h.01M449.0 75.3h.01M455.6 77.1h.01M462.2 77.5h.01M394.6 84.4h.01M400.9 83.1h.01M408.3 82.5h.01M416.7 82.9h.01M423.2 82.7h.01M430.1 82.3h.01M439.0 83.2h.01M446.2 83.3h.01M452.2 83.0h.01M459.8 83.3h.01M467.3 83.1h.01M391.2 89.2h.01M396.5 90.0h.01M405.8 88.6h.01M411.9 89.2h.01M418.1 90.3h.01M426.9 89.8h.01M433.7 90.1h.01M441.3 89.6h.01M448.2 88.8h.01M457.6 89.3h.01M464.1 89.7h.01M386.1 96.2h.01M394.5 96.7h.01M401.3 95.7h.01M407.3 96.9h.01M416.6 96.1h.01M423.6 96.8h.01M431.3 96.9h.01M437.6 97.4h.01M444.4 96.9h.01M453.2 96.9h.01M461.7 97.4h.01M466.7 94.8h.01M389.9 103.3h.01M396.0 100.9h.01M404.9 102.6h.01M411.9 102.6h.01M418.8 101.4h.01M426.8 101.8h.01M433.0 103.0h.01M441.7 102.9h.01M448.3 102.1h.01M455.7 101.9h.01M464.1 102.0h.01M393.6 107.9h.01M400.6 109.6h.01M408.3 109.1h.01M415.6 110.0h.01M423.2 107.3h.01M430.0 107.5h.01M435.4 108.6h.01M446.5 109.1h.01M451.9 108.3h.01M461.1 109.2h.01M467.6 109.0h.01M390.3 115.7h.01M396.5 115.9h.01M404.2 116.4h.01M411.1 115.4h.01M419.5 114.4h.01M428.3 116.6h.01M433.9 116.1h.01M442.0 113.4h.01M449.3 115.4h.01M456.6 114.6h.01M463.7 115.3h.01M401.8 122.7h.01M408.9 122.0h.01M416.0 121.7h.01M423.0 122.0h.01M431.8 122.4h.01M438.0 121.5h.01M444.9 123.2h.01M453.2 122.0h.01M459.9 121.0h.01M404.0 129.1h.01M411.5 128.8h.01M420.7 128.1h.01M426.4 128.5h.01M434.3 127.6h.01M442.1 130.0h.01M448.9 128.2h.01M416.6 134.0h.01M422.5 134.4h.01M430.8 134.6h.01M438.2 135.0h.01"/>
<g clip-path="url(#cp1)"><g filter="url(#tb)">
<path fill="#3885bc" d="M580.6 92.8h3.6v2.1h-3.6zM579.1 94.2h5.1v2.1h-5.1zM579.1 95.8h3.6v2.1h-3.6z"/>
<path fill="#408fc1" d="M579.1 89.8h8.1v2.1h-8.1zM579.1 91.2h8.1v2.1h-8.1zM577.6 92.8h3.6v2.1h-3.6zM583.6 92.8h3.6v2.1h-3.6zM577.6 94.2h2.1v2.1h-2.1zM583.6 94.2h3.6v2.1h-3.6zM576.1 95.8h3.6v2.1h-3.6zM582.1 95.8h5.1v2.1h-5.1zM576.1 97.2h9.6v2.1h-9.6zM576.1 98.8h8.1v2.1h-8.1zM576.1 100.2h6.6v2.1h-6.6zM577.6 101.8h2.1v2.1h-2.1z"/>
<path fill="#4c99c6" d="M582.1 86.8h3.6v2.1h-3.6zM579.1 88.2h9.6v2.1h-9.6zM577.6 89.8h2.1v2.1h-2.1zM586.6 89.8h2.1v2.1h-2.1zM576.1 91.2h3.6v2.1h-3.6zM586.6 91.2h3.6v2.1h-3.6zM576.1 92.8h2.1v2.1h-2.1zM586.6 92.8h3.6v2.1h-3.6zM574.6 94.2h3.6v2.1h-3.6zM586.6 94.2h2.1v2.1h-2.1zM574.6 95.8h2.1v2.1h-2.1zM586.6 95.8h2.1v2.1h-2.1zM574.6 97.2h2.1v2.1h-2.1zM585.1 97.2h3.6v2.1h-3.6zM573.1 98.8h3.6v2.1h-3.6zM583.6 98.8h3.6v2.1h-3.6zM573.1 100.2h3.6v2.1h-3.6zM582.1 100.2h3.6v2.1h-3.6zM573.1 101.8h5.1v2.1h-5.1zM579.1 101.8h5.1v2.1h-5.1zM573.1 103.2h9.6v2.1h-9.6zM573.1 104.8h8.1v2.1h-8.1zM573.1 106.2h5.1v2.1h-5.1z"/>
<path fill="#5ca3cb" d="M582.1 85.2h5.1v2.1h-5.1zM579.1 86.8h3.6v2.1h-3.6zM585.1 86.8h3.6v2.1h-3.6zM577.6 88.2h2.1v2.1h-2.1zM588.1 88.2h2.1v2.1h-2.1zM576.1 89.8h2.1v2.1h-2.1zM588.1 89.8h2.1v2.1h-2.1zM574.6 91.2h2.1v2.1h-2.1zM589.6 91.2h2.1v2.1h-2.1zM574.6 92.8h2.1v2.1h-2.1zM589.6 92.8h2.1v2.1h-2.1zM573.1 94.2h2.1v2.1h-2.1zM588.1 94.2h2.1v2.1h-2.1zM573.1 95.8h2.1v2.1h-2.1zM588.1 95.8h2.1v2.1h-2.1zM571.6 97.2h3.6v2.1h-3.6zM588.1 97.2h2.1v2.1h-2.1zM571.6 98.8h2.1v2.1h-2.1zM586.6 98.8h2.1v2.1h-2.1zM571.6 100.2h2.1v2.1h-2.1zM585.1 100.2h3.6v2.1h-3.6zM570.1 101.8h3.6v2.1h-3.6zM583.6 101.8h3.6v2.1h-3.6zM570.1 103.2h3.6v2.1h-3.6zM582.1 103.2h3.6v2.1h-3.6zM568.6 104.8h5.1v2.1h-5.1zM580.6 104.8h3.6v2.1h-3.6zM568.6 106.2h5.1v2.1h-5.1zM577.6 106.2h5.1v2.1h-5.1zM567.1 107.8h14.1v2.1h-14.1zM567.1 109.2h12.6v2.1h-12.6zM567.1 110.8h11.1v2.1h-11.1zM565.6 112.2h9.6v2.1h-9.6zM567.1 113.8h6.6v2.1h-6.6z"/>
<path fill="#6eaed2" d="M582.1 83.8h5.1v2.1h-5.1zM579.1 85.2h3.6v2.1h-3.6zM586.6 85.2h3.6v2.1h-3.6zM577.6 86.8h2.1v2.1h-2.1zM588.1 86.8h3.6v2.1h-3.6zM576.1 88.2h2.1v2.1h-2.1zM589.6 88.2h2.1v2.1h-2.1zM574.6 89.8h2.1v2.1h-2.1zM589.6 89.8h2.1v2.1h-2.1zM591.1 91.2h2.1v2.1h-2.1zM573.1 92.8h2.1v2.1h-2.1zM591.1 92.8h2.1v2.1h-2.1zM571.6 94.2h2.1v2.1h-2.1zM589.6 94.2h2.1v2.1h-2.1zM571.6 95.8h2.1v2.1h-2.1zM589.6 95.8h2.1v2.1h-2.1zM570.1 97.2h2.1v2.1h-2.1zM589.6 97.2h2.1v2.1h-2.1zM570.1 98.8h2.1v2.1h-2.1zM588.1 98.8h2.1v2.1h-2.1zM568.6 100.2h3.6v2.1h-3.6zM588.1 100.2h2.1v2.1h-2.1zM568.6 101.8h2.1v2.1h-2.1zM586.6 101.8h2.1v2.1h-2.1zM567.1 103.2h3.6v2.1h-3.6zM585.1 103.2h3.6v2.1h-3.6zM567.1 104.8h2.1v2.1h-2.1zM583.6 104.8h3.6v2.1h-3.6zM565.6 106.2h3.6v2.1h-3.6zM582.1 106.2h3.6v2.1h-3.6zM564.1 107.8h3.6v2.1h-3.6zM580.6 107.8h3.6v2.1h-3.6zM564.1 109.2h3.6v2.1h-3.6zM579.1 109.2h3.6v2.1h-3.6zM562.6 110.8h5.1v2.1h-5.1zM577.6 110.8h5.1v2.1h-5.1zM562.6 112.2h3.6v2.1h-3.6zM574.6 112.2h6.6v2.1h-6.6zM561.1 113.8h6.6v2.1h-6.6zM573.1 113.8h6.6v2.1h-6.6zM561.1 115.2h17.1v2.1h-17.1zM561.1 116.8h15.6v2.1h-15.6zM561.1 118.2h12.6v2.1h-12.6zM561.1 119.8h11.1v2.1h-11.1zM561.1 121.2h8.1v2.1h-8.1z"/>
<path fill="#7eb8d7" d="M582.1 82.2h5.1v2.1h-5.1zM579.1 83.8h3.6v2.1h-3.6zM586.6 83.8h3.6v2.1h-3.6zM577.6 85.2h2.1v2.1h-2.1zM589.6 85.2h2.1v2.1h-2.1zM576.1 86.8h2.1v2.1h-2.1zM591.1 86.8h2.1v2.1h-2.1zM574.6 88.2h2.1v2.1h-2.1zM591.1 88.2h2.1v2.1h-2.1zM573.1 89.8h2.1v2.1h-2.1zM591.1 89.8h2.1v2.1h-2.1zM573.1 91.2h2.1v2.1h-2.1zM571.6 92.8h2.1v2.1h-2.1zM591.1 94.2h2.1v2.1h-2.1zM570.1 95.8h2.1v2.1h-2.1zM591.1 95.8h2.1v2.1h-2.1zM568.6 97.2h2.1v2.1h-2.1zM591.1 97.2h2.1v2.1h-2.1zM568.6 98.8h2.1v2.1h-2.1zM589.6 98.8h2.1v2.1h-2.1zM567.1 100.2h2.1v2.1h-2.1zM589.6 100.2h2.1v2.1h-2.1zM567.1 101.8h2.1v2.1h-2.1zM588.1 101.8h2.1v2.1h-2.1zM565.6 103.2h2.1v2.1h-2.1zM588.1 103.2h2.1v2.1h-2.1zM564.1 104.8h3.6v2.1h-3.6zM586.6 104.8h2.1v2.1h-2.1zM562.6 106.2h3.6v2.1h-3.6zM585.1 106.2h3.6v2.1h-3.6zM562.6 107.8h2.1v2.1h-2.1zM583.6 107.8h3.6v2.1h-3.6zM561.1 109.2h3.6v2.1h-3.6zM582.1 109.2h3.6v2.1h-3.6zM559.6 110.8h3.6v2.1h-3.6zM582.1 110.8h3.6v2.1h-3.6zM559.6 112.2h3.6v2.1h-3.6zM580.6 112.2h3.6v2.1h-3.6zM558.1 113.8h3.6v2.1h-3.6zM579.1 113.8h3.6v2.1h-3.6zM558.1 115.2h3.6v2.1h-3.6zM577.6 115.2h3.6v2.1h-3.6zM556.6 116.8h5.1v2.1h-5.1zM576.1 116.8h3.6v2.1h-3.6zM556.6 118.2h5.1v2.1h-5.1zM573.1 118.2h5.1v2.1h-5.1zM555.1 119.8h6.6v2.1h-6.6zM571.6 119.8h6.6v2.1h-6.6zM555.1 121.2h6.6v2.1h-6.6zM568.6 121.2h8.1v2.1h-8.1zM555.1 122.8h20.1v2.1h-20.1zM555.1 124.2h17.1v2.1h-17.1zM553.6 125.8h17.1v2.1h-17.1zM553.6 127.2h14.1v2.1h-14.1zM555.1 128.8h11.1v2.1h-11.1zM555.1 130.2h8.1v2.1h-8.1z"/>
<path fill="#90c4dd" d="M582.1 80.8h5.1v2.1h-5.1zM579.1 82.2h3.6v2.1h-3.6zM586.6 82.2h3.6v2.1h-3.6zM577.6 83.8h2.1v2.1h-2.1zM589.6 83.8h2.1v2.1h-2.1zM576.1 85.2h2.1v2.1h-2.1zM591.1 85.2h2.1v2.1h-2.1zM574.6 86.8h2.1v2.1h-2.1zM592.6 86.8h2.1v2.1h-2.1zM573.1 88.2h2.1v2.1h-2.1zM592.6 88.2h2.1v2.1h-2.1zM592.6 89.8h2.1v2.1h-2.1zM571.6 91.2h2.1v2.1h-2.1zM592.6 91.2h2.1v2.1h-2.1zM570.1 92.8h2.1v2.1h-2.1zM592.6 92.8h2.1v2.1h-2.1zM570.1 94.2h2.1v2.1h-2.1zM592.6 94.2h2.1v2.1h-2.1zM568.6 95.8h2.1v2.1h-2.1zM592.6 95.8h2.1v2.1h-2.1zM567.1 97.2h2.1v2.1h-2.1zM592.6 97.2h2.1v2.1h-2.1zM567.1 98.8h2.1v2.1h-2.1zM591.1 98.8h2.1v2.1h-2.1zM565.6 100.2h2.1v2.1h-2.1zM591.1 100.2h2.1v2.1h-2.1zM564.1 101.8h3.6v2.1h-3.6zM589.6 101.8h3.6v2.1h-3.6zM564.1 103.2h2.1v2.1h-2.1zM589.6 103.2h2.1v2.1h-2.1zM562.6 104.8h2.1v2.1h-2.1zM588.1 104.8h3.6v2.1h-3.6zM561.1 106.2h2.1v2.1h-2.1zM588.1 106.2h2.1v2.1h-2.1zM559.6 107.8h3.6v2.1h-3.6zM586.6 107.8h3.6v2.1h-3.6zM559.6 109.2h2.1v2.1h-2.1zM585.1 109.2h3.6v2.1h-3.6zM558.1 110.8h2.1v2.1h-2.1zM585.1 110.8h2.1v2.1h-2.1zM556.6 112.2h3.6v2.1h-3.6zM583.6 112.2h3.6v2.1h-3.6zM556.6 113.8h2.1v2.1h-2.1zM582.1 113.8h3.6v2.1h-3.6zM555.1 115.2h3.6v2.1h-3.6zM580.6 115.2h3.6v2.1h-3.6zM555.1 116.8h2.1v2.1h-2.1zM579.1 116.8h3.6v2.1h-3.6zM553.6 118.2h3.6v2.1h-3.6zM577.6 118.2h5.1v2.1h-5.1zM552.1 119.8h3.6v2.1h-3.6zM577.6 119.8h3.6v2.1h-3.6zM552.1 121.2h3.6v2.1h-3.6zM576.1 121.2h3.6v2.1h-3.6zM550.6 122.8h5.1v2.1h-5.1zM574.6 122.8h5.1v2.1h-5.1zM549.1 124.2h6.6v2.1h-6.6zM571.6 124.2h6.6v2.1h-6.6zM549.1 125.8h5.1v2.1h-5.1zM570.1 125.8h8.1v2.1h-8.1zM547.6 127.2h6.6v2.1h-6.6zM567.1 127.2h9.6v2.1h-9.6zM547.6 128.8h8.1v2.1h-8.1zM565.6 128.8h9.6v2.1h-9.6zM546.1 130.2h9.6v2.1h-9.6zM562.6 130.2h11.1v2.1h-11.1zM546.1 131.8h26.1v2.1h-26.1zM546.1 133.2h24.6v2.1h-24.6zM544.6 134.8h24.6v2.1h-24.6zM546.1 136.2h21.6v2.1h-21.6zM546.1 137.8h20.1v2.1h-20.1zM547.6 139.2h14.1v2.1h-14.1zM550.6 140.8h3.6v2.1h-3.6z"/>
<path fill="#9dcbe1" d="M582.1 79.2h6.6v2.1h-6.6zM580.6 80.8h2.1v2.1h-2.1zM586.6 80.8h5.1v2.1h-5.1zM577.6 82.2h2.1v2.1h-2.1zM589.6 82.2h3.6v2.1h-3.6zM576.1 83.8h2.1v2.1h-2.1zM591.1 83.8h3.6v2.1h-3.6zM574.6 85.2h2.1v2.1h-2.1zM592.6 85.2h2.1v2.1h-2.1zM573.1 86.8h2.1v2.1h-2.1zM594.1 88.2h2.1v2.1h-2.1zM571.6 89.8h2.1v2.1h-2.1zM594.1 89.8h2.1v2.1h-2.1zM570.1 91.2h2.1v2.1h-2.1zM594.1 91.2h2.1v2.1h-2.1zM594.1 92.8h2.1v2.1h-2.1zM568.6 94.2h2.1v2.1h-2.1zM594.1 94.2h2.1v2.1h-2.1zM567.1 95.8h2.1v2.1h-2.1zM594.1 95.8h2.1v2.1h-2.1zM594.1 97.2h2.1v2.1h-2.1zM565.6 98.8h2.1v2.1h-2.1zM592.6 98.8h2.1v2.1h-2.1zM564.1 100.2h2.1v2.1h-2.1zM592.6 100.2h2.1v2.1h-2.1zM562.6 101.8h2.1v2.1h-2.1zM592.6 101.8h2.1v2.1h-2.1zM561.1 103.2h3.6v2.1h-3.6zM591.1 103.2h2.1v2.1h-2.1zM561.1 104.8h2.1v2.1h-2.1zM591.1 104.8h2.1v2.1h-2.1zM559.6 106.2h2.1v2.1h-2.1zM589.6 106.2h2.1v2.1h-2.1zM558.1 107.8h2.1v2.1h-2.1zM589.6 107.8h2.1v2.1h-2.1zM556.6 109.2h3.6v2.1h-3.6zM588.1 109.2h2.1v2.1h-2.1zM556.6 110.8h2.1v2.1h-2.1zM586.6 110.8h3.6v2.1h-3.6zM555.1 112.2h2.1v2.1h-2.1zM586.6 112.2h2.1v2.1h-2.1zM553.6 113.8h3.6v2.1h-3.6zM585.1 113.8h3.6v2.1h-3.6zM553.6 115.2h2.1v2.1h-2.1zM583.6 115.2h3.6v2.1h-3.6zM552.1 116.8h3.6v2.1h-3.6zM582.1 116.8h3.6v2.1h-3.6zM550.6 118.2h3.6v2.1h-3.6zM582.1 118.2h3.6v2.1h-3.6zM549.1 119.8h3.6v2.1h-3.6zM580.6 119.8h3.6v2.1h-3.6zM549.1 121.2h3.6v2.1h-3.6zM579.1 121.2h5.1v2.1h-5.1zM547.6 122.8h3.6v2.1h-3.6zM579.1 122.8h3.6v2.1h-3.6zM546.1 124.2h3.6v2.1h-3.6zM577.6 124.2h5.1v2.1h-5.1zM543.1 125.8h6.6v2.1h-6.6zM577.6 125.8h3.6v2.1h-3.6zM543.1 127.2h5.1v2.1h-5.1zM576.1 127.2h5.1v2.1h-5.1zM541.6 128.8h6.6v2.1h-6.6zM574.6 128.8h6.6v2.1h-6.6zM540.1 130.2h6.6v2.1h-6.6zM573.1 130.2h6.6v2.1h-6.6zM540.1 131.8h6.6v2.1h-6.6zM571.6 131.8h8.1v2.1h-8.1zM538.6 133.2h8.1v2.1h-8.1zM570.1 133.2h8.1v2.1h-8.1zM538.6 134.8h6.6v2.1h-6.6zM568.6 134.8h9.6v2.1h-9.6zM537.1 136.2h9.6v2.1h-9.6zM567.1 136.2h9.6v2.1h-9.6zM537.1 137.8h9.6v2.1h-9.6zM565.6 137.8h11.1v2.1h-11.1zM537.1 139.2h11.1v2.1h-11.1zM561.1 139.2h14.1v2.1h-14.1zM535.6 140.8h15.6v2.1h-15.6zM553.6 140.8h20.1v2.1h-20.1zM535.6 142.2h38.1v2.1h-38.1zM535.6 143.8h36.6v2.1h-36.6zM534.1 145.2h36.6v2.1h-36.6zM534.1 146.8h35.1v2.1h-35.1zM532.6 148.2h36.6v2.1h-36.6zM532.6 149.8h35.1v2.1h-35.1zM532.6 151.2h35.1v2.1h-35.1zM532.6 152.8h35.1v2.1h-35.1zM532.6 154.2h35.1v2.1h-35.1z"/>
<path fill="#acd2e5" d="M582.1 77.8h8.1v2.1h-8.1zM580.6 79.2h2.1v2.1h-2.1zM588.1 79.2h3.6v2.1h-3.6zM577.6 80.8h3.6v2.1h-3.6zM591.1 80.8h2.1v2.1h-2.1zM576.1 82.2h2.1v2.1h-2.1zM592.6 82.2h2.1v2.1h-2.1zM574.6 83.8h2.1v2.1h-2.1zM594.1 83.8h2.1v2.1h-2.1zM594.1 85.2h2.1v2.1h-2.1zM594.1 86.8h2.1v2.1h-2.1zM571.6 88.2h2.1v2.1h-2.1zM570.1 89.8h2.1v2.1h-2.1zM595.6 89.8h2.1v2.1h-2.1zM595.6 91.2h2.1v2.1h-2.1zM568.6 92.8h2.1v2.1h-2.1zM595.6 92.8h2.1v2.1h-2.1zM567.1 94.2h2.1v2.1h-2.1zM595.6 94.2h2.1v2.1h-2.1zM565.6 95.8h2.1v2.1h-2.1zM595.6 95.8h2.1v2.1h-2.1zM565.6 97.2h2.1v2.1h-2.1zM564.1 98.8h2.1v2.1h-2.1zM594.1 98.8h2.1v2.1h-2.1zM562.6 100.2h2.1v2.1h-2.1zM594.1 100.2h2.1v2.1h-2.1zM561.1 101.8h2.1v2.1h-2.1zM594.1 101.8h2.1v2.1h-2.1zM559.6 103.2h2.1v2.1h-2.1zM592.6 103.2h3.6v2.1h-3.6zM559.6 104.8h2.1v2.1h-2.1zM592.6 104.8h2.1v2.1h-2.1zM558.1 106.2h2.1v2.1h-2.1zM591.1 106.2h3.6v2.1h-3.6zM556.6 107.8h2.1v2.1h-2.1zM591.1 107.8h2.1v2.1h-2.1zM555.1 109.2h2.1v2.1h-2.1zM589.6 109.2h3.6v2.1h-3.6zM555.1 110.8h2.1v2.1h-2.1zM589.6 110.8h2.1v2.1h-2.1zM553.6 112.2h2.1v2.1h-2.1zM588.1 112.2h3.6v2.1h-3.6zM552.1 113.8h2.1v2.1h-2.1zM588.1 113.8h2.1v2.1h-2.1zM550.6 115.2h3.6v2.1h-3.6zM586.6 115.2h3.6v2.1h-3.6zM549.1 116.8h3.6v2.1h-3.6zM585.1 116.8h3.6v2.1h-3.6zM547.6 118.2h3.6v2.1h-3.6zM585.1 118.2h2.1v2.1h-2.1zM546.1 119.8h3.6v2.1h-3.6zM583.6 119.8h3.6v2.1h-3.6zM544.6 121.2h5.1v2.1h-5.1zM583.6 121.2h2.1v2.1h-2.1zM541.6 122.8h6.6v2.1h-6.6zM582.1 122.8h3.6v2.1h-3.6zM538.6 124.2h8.1v2.1h-8.1zM582.1 124.2h3.6v2.1h-3.6zM537.1 125.8h6.6v2.1h-6.6zM580.6 125.8h5.1v2.1h-5.1zM535.6 127.2h8.1v2.1h-8.1zM580.6 127.2h3.6v2.1h-3.6zM534.1 128.8h8.1v2.1h-8.1zM580.6 128.8h3.6v2.1h-3.6zM532.6 130.2h8.1v2.1h-8.1zM579.1 130.2h5.1v2.1h-5.1zM525.1 131.8h3.6v2.1h-3.6zM529.6 131.8h11.1v2.1h-11.1zM579.1 131.8h5.1v2.1h-5.1zM525.1 133.2h14.1v2.1h-14.1zM577.6 133.2h6.6v2.1h-6.6zM525.1 134.8h14.1v2.1h-14.1zM577.6 134.8h6.6v2.1h-6.6zM525.1 136.2h12.6v2.1h-12.6zM576.1 136.2h8.1v2.1h-8.1zM525.1 137.8h12.6v2.1h-12.6zM576.1 137.8h8.1v2.1h-8.1zM525.1 139.2h12.6v2.1h-12.6zM574.6 139.2h9.6v2.1h-9.6zM525.1 140.8h11.1v2.1h-11.1zM573.1 140.8h9.6v2.1h-9.6zM525.1 142.2h11.1v2.1h-11.1zM573.1 142.2h9.6v2.1h-9.6zM525.1 143.8h11.1v2.1h-11.1zM571.6 143.8h11.1v2.1h-11.1zM525.1 145.2h9.6v2.1h-9.6zM570.1 145.2h11.1v2.1h-11.1zM525.1 146.8h9.6v2.1h-9.6zM568.6 146.8h12.6v2.1h-12.6zM525.1 148.2h8.1v2.1h-8.1zM568.6 148.2h12.6v2.1h-12.6zM525.1 149.8h8.1v2.1h-8.1zM567.1 149.8h14.1v2.1h-14.1zM525.1 151.2h8.1v2.1h-8.1zM567.1 151.2h14.1v2.1h-14.1zM525.1 152.8h8.1v2.1h-8.1zM567.1 152.8h14.1v2.1h-14.1zM525.1 154.2h8.1v2.1h-8.1zM567.1 154.2h14.1v2.1h-14.1z"/>
<path fill="#b8d8e9" d="M585.1 73.2h5.1v2.1h-5.1zM583.6 74.8h8.1v2.1h-8.1zM582.1 76.2h9.6v2.1h-9.6zM580.6 77.8h2.1v2.1h-2.1zM589.6 77.8h3.6v2.1h-3.6zM579.1 79.2h2.1v2.1h-2.1zM591.1 79.2h3.6v2.1h-3.6zM592.6 80.8h3.6v2.1h-3.6zM594.1 82.2h2.1v2.1h-2.1zM573.1 85.2h2.1v2.1h-2.1zM595.6 85.2h2.1v2.1h-2.1zM571.6 86.8h2.1v2.1h-2.1zM595.6 86.8h2.1v2.1h-2.1zM570.1 88.2h2.1v2.1h-2.1zM595.6 88.2h2.1v2.1h-2.1zM568.6 91.2h2.1v2.1h-2.1zM567.1 92.8h2.1v2.1h-2.1zM565.6 94.2h2.1v2.1h-2.1zM564.1 97.2h2.1v2.1h-2.1zM595.6 97.2h2.1v2.1h-2.1zM562.6 98.8h2.1v2.1h-2.1zM595.6 98.8h2.1v2.1h-2.1zM561.1 100.2h2.1v2.1h-2.1zM595.6 100.2h2.1v2.1h-2.1zM559.6 101.8h2.1v2.1h-2.1zM595.6 101.8h2.1v2.1h-2.1zM558.1 103.2h2.1v2.1h-2.1zM595.6 103.2h2.1v2.1h-2.1zM558.1 104.8h2.1v2.1h-2.1zM594.1 104.8h2.1v2.1h-2.1zM556.6 106.2h2.1v2.1h-2.1zM594.1 106.2h2.1v2.1h-2.1zM555.1 107.8h2.1v2.1h-2.1zM592.6 107.8h3.6v2.1h-3.6zM553.6 109.2h2.1v2.1h-2.1zM592.6 109.2h2.1v2.1h-2.1zM553.6 110.8h2.1v2.1h-2.1zM591.1 110.8h3.6v2.1h-3.6zM552.1 112.2h2.1v2.1h-2.1zM591.1 112.2h3.6v2.1h-3.6zM528.1 113.8h2.1v2.1h-2.1zM550.6 113.8h2.1v2.1h-2.1zM589.6 113.8h3.6v2.1h-3.6zM525.1 115.2h6.6v2.1h-6.6zM549.1 115.2h2.1v2.1h-2.1zM589.6 115.2h2.1v2.1h-2.1zM525.1 116.8h8.1v2.1h-8.1zM547.6 116.8h2.1v2.1h-2.1zM588.1 116.8h3.6v2.1h-3.6zM525.1 118.2h11.1v2.1h-11.1zM544.6 118.2h3.6v2.1h-3.6zM586.6 118.2h3.6v2.1h-3.6zM525.1 119.8h21.6v2.1h-21.6zM586.6 119.8h3.6v2.1h-3.6zM525.1 121.2h20.1v2.1h-20.1zM585.1 121.2h3.6v2.1h-3.6zM525.1 122.8h17.1v2.1h-17.1zM585.1 122.8h3.6v2.1h-3.6zM525.1 124.2h14.1v2.1h-14.1zM585.1 124.2h3.6v2.1h-3.6zM525.1 125.8h12.6v2.1h-12.6zM585.1 125.8h3.6v2.1h-3.6zM525.1 127.2h11.1v2.1h-11.1zM583.6 127.2h5.1v2.1h-5.1zM525.1 128.8h9.6v2.1h-9.6zM583.6 128.8h5.1v2.1h-5.1zM525.1 130.2h8.1v2.1h-8.1zM583.6 130.2h5.1v2.1h-5.1zM528.1 131.8h2.1v2.1h-2.1zM583.6 131.8h5.1v2.1h-5.1zM583.6 133.2h5.1v2.1h-5.1zM583.6 134.8h6.6v2.1h-6.6zM583.6 136.2h6.6v2.1h-6.6zM583.6 137.8h6.6v2.1h-6.6zM583.6 139.2h6.6v2.1h-6.6zM582.1 140.8h8.1v2.1h-8.1zM582.1 142.2h8.1v2.1h-8.1zM582.1 143.8h8.1v2.1h-8.1zM580.6 145.2h9.6v2.1h-9.6zM580.6 146.8h9.6v2.1h-9.6zM580.6 148.2h9.6v2.1h-9.6zM580.6 149.8h9.6v2.1h-9.6zM580.6 151.2h9.6v2.1h-9.6zM580.6 152.8h9.6v2.1h-9.6zM580.6 154.2h9.6v2.1h-9.6z"/>
<path fill="#c7e0ed" d="M586.6 65.8h3.6v2.1h-3.6zM585.1 67.2h6.6v2.1h-6.6zM583.6 68.8h8.1v2.1h-8.1zM583.6 70.2h9.6v2.1h-9.6zM582.1 71.8h11.1v2.1h-11.1zM582.1 73.2h3.6v2.1h-3.6zM589.6 73.2h3.6v2.1h-3.6zM580.6 74.8h3.6v2.1h-3.6zM591.1 74.8h3.6v2.1h-3.6zM579.1 76.2h3.6v2.1h-3.6zM591.1 76.2h3.6v2.1h-3.6zM577.6 77.8h3.6v2.1h-3.6zM592.6 77.8h3.6v2.1h-3.6zM577.6 79.2h2.1v2.1h-2.1zM594.1 79.2h2.1v2.1h-2.1zM576.1 80.8h2.1v2.1h-2.1zM595.6 80.8h2.1v2.1h-2.1zM574.6 82.2h2.1v2.1h-2.1zM595.6 82.2h2.1v2.1h-2.1zM573.1 83.8h2.1v2.1h-2.1zM595.6 83.8h2.1v2.1h-2.1zM571.6 85.2h2.1v2.1h-2.1zM597.1 85.2h2.1v2.1h-2.1zM570.1 86.8h2.1v2.1h-2.1zM597.1 86.8h2.1v2.1h-2.1zM597.1 88.2h2.1v2.1h-2.1zM568.6 89.8h2.1v2.1h-2.1zM597.1 89.8h2.1v2.1h-2.1zM567.1 91.2h2.1v2.1h-2.1zM597.1 91.2h2.1v2.1h-2.1zM565.6 92.8h2.1v2.1h-2.1zM597.1 92.8h2.1v2.1h-2.1zM597.1 94.2h2.1v2.1h-2.1zM564.1 95.8h2.1v2.1h-2.1zM597.1 95.8h2.1v2.1h-2.1zM562.6 97.2h2.1v2.1h-2.1zM597.1 97.2h2.1v2.1h-2.1zM561.1 98.8h2.1v2.1h-2.1zM597.1 98.8h2.1v2.1h-2.1zM559.6 100.2h2.1v2.1h-2.1zM597.1 100.2h2.1v2.1h-2.1zM558.1 101.8h2.1v2.1h-2.1zM597.1 101.8h2.1v2.1h-2.1zM556.6 103.2h2.1v2.1h-2.1zM597.1 103.2h2.1v2.1h-2.1zM556.6 104.8h2.1v2.1h-2.1zM595.6 104.8h3.6v2.1h-3.6zM555.1 106.2h2.1v2.1h-2.1zM595.6 106.2h2.1v2.1h-2.1zM525.1 107.8h6.6v2.1h-6.6zM553.6 107.8h2.1v2.1h-2.1zM595.6 107.8h2.1v2.1h-2.1zM525.1 109.2h8.1v2.1h-8.1zM552.1 109.2h2.1v2.1h-2.1zM594.1 109.2h3.6v2.1h-3.6zM525.1 110.8h9.6v2.1h-9.6zM550.6 110.8h3.6v2.1h-3.6zM594.1 110.8h3.6v2.1h-3.6zM525.1 112.2h11.1v2.1h-11.1zM549.1 112.2h3.6v2.1h-3.6zM594.1 112.2h2.1v2.1h-2.1zM525.1 113.8h3.6v2.1h-3.6zM529.6 113.8h8.1v2.1h-8.1zM547.6 113.8h3.6v2.1h-3.6zM592.6 113.8h3.6v2.1h-3.6zM531.1 115.2h8.1v2.1h-8.1zM546.1 115.2h3.6v2.1h-3.6zM591.1 115.2h3.6v2.1h-3.6zM532.6 116.8h15.6v2.1h-15.6zM591.1 116.8h3.6v2.1h-3.6zM535.6 118.2h9.6v2.1h-9.6zM589.6 118.2h3.6v2.1h-3.6zM589.6 119.8h3.6v2.1h-3.6zM588.1 121.2h3.6v2.1h-3.6zM588.1 122.8h3.6v2.1h-3.6zM588.1 124.2h3.6v2.1h-3.6zM588.1 125.8h3.6v2.1h-3.6zM588.1 127.2h3.6v2.1h-3.6zM588.1 128.8h3.6v2.1h-3.6zM588.1 130.2h3.6v2.1h-3.6zM588.1 131.8h5.1v2.1h-5.1zM588.1 133.2h5.1v2.1h-5.1zM589.6 134.8h5.1v2.1h-5.1zM589.6 136.2h5.1v2.1h-5.1zM589.6 137.8h6.6v2.1h-6.6zM589.6 139.2h6.6v2.1h-6.6zM589.6 140.8h6.6v2.1h-6.6zM589.6 142.2h6.6v2.1h-6.6zM589.6 143.8h6.6v2.1h-6.6zM589.6 145.2h6.6v2.1h-6.6zM589.6 146.8h6.6v2.1h-6.6zM589.6 148.2h5.1v2.1h-5.1zM589.6 149.8h5.1v2.1h-5.1zM589.6 151.2h5.1v2.1h-5.1zM589.6 152.8h5.1v2.1h-5.1zM589.6 154.2h5.1v2.1h-5.1z"/>
<path fill="#d2e6f0" d="M585.1 62.8h6.6v2.1h-6.6zM583.6 64.2h9.6v2.1h-9.6zM583.6 65.8h3.6v2.1h-3.6zM589.6 65.8h3.6v2.1h-3.6zM582.1 67.2h3.6v2.1h-3.6zM591.1 67.2h3.6v2.1h-3.6zM582.1 68.8h2.1v2.1h-2.1zM591.1 68.8h3.6v2.1h-3.6zM580.6 70.2h3.6v2.1h-3.6zM592.6 70.2h2.1v2.1h-2.1zM580.6 71.8h2.1v2.1h-2.1zM592.6 71.8h3.6v2.1h-3.6zM580.6 73.2h2.1v2.1h-2.1zM592.6 73.2h3.6v2.1h-3.6zM579.1 74.8h2.1v2.1h-2.1zM594.1 74.8h2.1v2.1h-2.1zM577.6 76.2h2.1v2.1h-2.1zM594.1 76.2h2.1v2.1h-2.1zM595.6 77.8h2.1v2.1h-2.1zM576.1 79.2h2.1v2.1h-2.1zM595.6 79.2h2.1v2.1h-2.1zM574.6 80.8h2.1v2.1h-2.1zM597.1 80.8h2.1v2.1h-2.1zM573.1 82.2h2.1v2.1h-2.1zM597.1 82.2h2.1v2.1h-2.1zM571.6 83.8h2.1v2.1h-2.1zM597.1 83.8h2.1v2.1h-2.1zM568.6 88.2h2.1v2.1h-2.1zM598.6 88.2h2.1v2.1h-2.1zM567.1 89.8h2.1v2.1h-2.1zM598.6 89.8h2.1v2.1h-2.1zM565.6 91.2h2.1v2.1h-2.1zM598.6 91.2h2.1v2.1h-2.1zM598.6 92.8h2.1v2.1h-2.1zM564.1 94.2h2.1v2.1h-2.1zM598.6 94.2h2.1v2.1h-2.1zM562.6 95.8h2.1v2.1h-2.1zM598.6 95.8h2.1v2.1h-2.1zM561.1 97.2h2.1v2.1h-2.1zM598.6 97.2h2.1v2.1h-2.1zM559.6 98.8h2.1v2.1h-2.1zM598.6 98.8h2.1v2.1h-2.1zM558.1 100.2h2.1v2.1h-2.1zM598.6 100.2h2.1v2.1h-2.1zM526.6 101.8h3.6v2.1h-3.6zM556.6 101.8h2.1v2.1h-2.1zM598.6 101.8h2.1v2.1h-2.1zM525.1 103.2h6.6v2.1h-6.6zM598.6 103.2h2.1v2.1h-2.1zM525.1 104.8h8.1v2.1h-8.1zM555.1 104.8h2.1v2.1h-2.1zM598.6 104.8h2.1v2.1h-2.1zM525.1 106.2h9.6v2.1h-9.6zM553.6 106.2h2.1v2.1h-2.1zM597.1 106.2h3.6v2.1h-3.6zM531.1 107.8h5.1v2.1h-5.1zM552.1 107.8h2.1v2.1h-2.1zM597.1 107.8h3.6v2.1h-3.6zM532.6 109.2h3.6v2.1h-3.6zM550.6 109.2h2.1v2.1h-2.1zM597.1 109.2h3.6v2.1h-3.6zM534.1 110.8h3.6v2.1h-3.6zM549.1 110.8h2.1v2.1h-2.1zM597.1 110.8h2.1v2.1h-2.1zM535.6 112.2h3.6v2.1h-3.6zM547.6 112.2h2.1v2.1h-2.1zM595.6 112.2h3.6v2.1h-3.6zM537.1 113.8h11.1v2.1h-11.1zM595.6 113.8h3.6v2.1h-3.6zM538.6 115.2h8.1v2.1h-8.1zM594.1 115.2h3.6v2.1h-3.6zM594.1 116.8h3.6v2.1h-3.6zM592.6 118.2h3.6v2.1h-3.6zM592.6 119.8h3.6v2.1h-3.6zM591.1 121.2h3.6v2.1h-3.6zM591.1 122.8h3.6v2.1h-3.6zM591.1 124.2h3.6v2.1h-3.6zM591.1 125.8h3.6v2.1h-3.6zM591.1 127.2h3.6v2.1h-3.6zM591.1 128.8h5.1v2.1h-5.1zM591.1 130.2h5.1v2.1h-5.1zM592.6 131.8h5.1v2.1h-5.1zM592.6 133.2h5.1v2.1h-5.1zM594.1 134.8h5.1v2.1h-5.1zM594.1 136.2h5.1v2.1h-5.1zM595.6 137.8h5.1v2.1h-5.1zM595.6 139.2h5.1v2.1h-5.1zM595.6 140.8h5.1v2.1h-5.1zM595.6 142.2h5.1v2.1h-5.1zM595.6 143.8h5.1v2.1h-5.1zM595.6 145.2h5.1v2.1h-5.1zM595.6 146.8h5.1v2.1h-5.1zM594.1 148.2h6.6v2.1h-6.6zM594.1 149.8h6.6v2.1h-6.6zM594.1 151.2h6.6v2.1h-6.6zM594.1 152.8h6.6v2.1h-6.6zM594.1 154.2h6.6v2.1h-6.6z"/>
<path fill="#dae9f2" d="M586.6 59.8h5.1v2.1h-5.1zM583.6 61.2h9.6v2.1h-9.6zM583.6 62.8h2.1v2.1h-2.1zM591.1 62.8h3.6v2.1h-3.6zM582.1 64.2h2.1v2.1h-2.1zM592.6 64.2h2.1v2.1h-2.1zM582.1 65.8h2.1v2.1h-2.1zM592.6 65.8h3.6v2.1h-3.6zM580.6 67.2h2.1v2.1h-2.1zM594.1 67.2h2.1v2.1h-2.1zM580.6 68.8h2.1v2.1h-2.1zM594.1 68.8h2.1v2.1h-2.1zM579.1 70.2h2.1v2.1h-2.1zM594.1 70.2h3.6v2.1h-3.6zM579.1 71.8h2.1v2.1h-2.1zM595.6 71.8h2.1v2.1h-2.1zM579.1 73.2h2.1v2.1h-2.1zM595.6 73.2h2.1v2.1h-2.1zM577.6 74.8h2.1v2.1h-2.1zM595.6 74.8h2.1v2.1h-2.1zM595.6 76.2h3.6v2.1h-3.6zM576.1 77.8h2.1v2.1h-2.1zM597.1 77.8h2.1v2.1h-2.1zM574.6 79.2h2.1v2.1h-2.1zM597.1 79.2h2.1v2.1h-2.1zM573.1 80.8h2.1v2.1h-2.1zM598.6 82.2h2.1v2.1h-2.1zM598.6 83.8h2.1v2.1h-2.1zM570.1 85.2h2.1v2.1h-2.1zM598.6 85.2h2.1v2.1h-2.1zM568.6 86.8h2.1v2.1h-2.1zM598.6 86.8h2.1v2.1h-2.1zM567.1 88.2h2.1v2.1h-2.1zM565.6 89.8h2.1v2.1h-2.1zM564.1 92.8h2.1v2.1h-2.1zM562.6 94.2h2.1v2.1h-2.1zM600.1 94.2h2.1v2.1h-2.1zM561.1 95.8h2.1v2.1h-2.1zM600.1 95.8h2.1v2.1h-2.1zM526.6 97.2h3.6v2.1h-3.6zM559.6 97.2h2.1v2.1h-2.1zM600.1 97.2h2.1v2.1h-2.1zM525.1 98.8h6.6v2.1h-6.6zM558.1 98.8h2.1v2.1h-2.1zM600.1 98.8h2.1v2.1h-2.1zM525.1 100.2h8.1v2.1h-8.1zM556.6 100.2h2.1v2.1h-2.1zM600.1 100.2h2.1v2.1h-2.1zM525.1 101.8h2.1v2.1h-2.1zM529.6 101.8h5.1v2.1h-5.1zM555.1 101.8h2.1v2.1h-2.1zM600.1 101.8h2.1v2.1h-2.1zM531.1 103.2h3.6v2.1h-3.6zM555.1 103.2h2.1v2.1h-2.1zM600.1 103.2h2.1v2.1h-2.1zM532.6 104.8h3.6v2.1h-3.6zM553.6 104.8h2.1v2.1h-2.1zM600.1 104.8h2.1v2.1h-2.1zM534.1 106.2h3.6v2.1h-3.6zM552.1 106.2h2.1v2.1h-2.1zM600.1 106.2h2.1v2.1h-2.1zM535.6 107.8h2.1v2.1h-2.1zM550.6 107.8h2.1v2.1h-2.1zM600.1 107.8h2.1v2.1h-2.1zM535.6 109.2h3.6v2.1h-3.6zM549.1 109.2h2.1v2.1h-2.1zM600.1 109.2h2.1v2.1h-2.1zM537.1 110.8h3.6v2.1h-3.6zM546.1 110.8h3.6v2.1h-3.6zM598.6 110.8h3.6v2.1h-3.6zM538.6 112.2h9.6v2.1h-9.6zM598.6 112.2h3.6v2.1h-3.6zM598.6 113.8h3.6v2.1h-3.6zM597.1 115.2h3.6v2.1h-3.6zM597.1 116.8h3.6v2.1h-3.6zM595.6 118.2h5.1v2.1h-5.1zM595.6 119.8h3.6v2.1h-3.6zM594.1 121.2h5.1v2.1h-5.1zM594.1 122.8h5.1v2.1h-5.1zM594.1 124.2h5.1v2.1h-5.1zM594.1 125.8h5.1v2.1h-5.1zM594.1 127.2h5.1v2.1h-5.1zM595.6 128.8h5.1v2.1h-5.1zM595.6 130.2h5.1v2.1h-5.1zM597.1 131.8h5.1v2.1h-5.1zM597.1 133.2h6.6v2.1h-6.6zM598.6 134.8h5.1v2.1h-5.1zM598.6 136.2h6.6v2.1h-6.6zM600.1 137.8h6.6v2.1h-6.6zM600.1 139.2h6.6v2.1h-6.6zM600.1 140.8h6.6v2.1h-6.6zM600.1 142.2h6.6v2.1h-6.6zM600.1 143.8h6.6v2.1h-6.6zM600.1 145.2h6.6v2.1h-6.6zM600.1 146.8h5.1v2.1h-5.1zM600.1 148.2h5.1v2.1h-5.1zM600.1 149.8h5.1v2.1h-5.1zM600.1 151.2h5.1v2.1h-5.1zM600.1 152.8h5.1v2.1h-5.1zM600.1 154.2h5.1v2.1h-5.1z"/>
<path fill="#e3edf3" d="M586.6 56.8h5.1v2.1h-5.1zM585.1 58.2h8.1v2.1h-8.1zM583.6 59.8h3.6v2.1h-3.6zM591.1 59.8h3.6v2.1h-3.6zM582.1 61.2h2.1v2.1h-2.1zM592.6 61.2h3.6v2.1h-3.6zM582.1 62.8h2.1v2.1h-2.1zM594.1 62.8h2.1v2.1h-2.1zM580.6 64.2h2.1v2.1h-2.1zM594.1 64.2h3.6v2.1h-3.6zM580.6 65.8h2.1v2.1h-2.1zM595.6 65.8h2.1v2.1h-2.1zM579.1 67.2h2.1v2.1h-2.1zM595.6 67.2h2.1v2.1h-2.1zM579.1 68.8h2.1v2.1h-2.1zM595.6 68.8h2.1v2.1h-2.1zM597.1 70.2h2.1v2.1h-2.1zM577.6 71.8h2.1v2.1h-2.1zM597.1 71.8h2.1v2.1h-2.1zM577.6 73.2h2.1v2.1h-2.1zM597.1 73.2h2.1v2.1h-2.1zM576.1 74.8h2.1v2.1h-2.1zM597.1 74.8h2.1v2.1h-2.1zM576.1 76.2h2.1v2.1h-2.1zM598.6 76.2h2.1v2.1h-2.1zM574.6 77.8h2.1v2.1h-2.1zM598.6 77.8h2.1v2.1h-2.1zM573.1 79.2h2.1v2.1h-2.1zM598.6 79.2h2.1v2.1h-2.1zM598.6 80.8h2.1v2.1h-2.1zM571.6 82.2h2.1v2.1h-2.1zM570.1 83.8h2.1v2.1h-2.1zM568.6 85.2h2.1v2.1h-2.1zM600.1 85.2h2.1v2.1h-2.1zM567.1 86.8h2.1v2.1h-2.1zM600.1 86.8h2.1v2.1h-2.1zM600.1 88.2h2.1v2.1h-2.1zM600.1 89.8h2.1v2.1h-2.1zM564.1 91.2h2.1v2.1h-2.1zM600.1 91.2h2.1v2.1h-2.1zM562.6 92.8h2.1v2.1h-2.1zM600.1 92.8h2.1v2.1h-2.1zM525.1 94.2h6.6v2.1h-6.6zM561.1 94.2h2.1v2.1h-2.1zM525.1 95.8h8.1v2.1h-8.1zM559.6 95.8h2.1v2.1h-2.1zM525.1 97.2h2.1v2.1h-2.1zM529.6 97.2h5.1v2.1h-5.1zM558.1 97.2h2.1v2.1h-2.1zM531.1 98.8h3.6v2.1h-3.6zM556.6 98.8h2.1v2.1h-2.1zM601.6 98.8h2.1v2.1h-2.1zM532.6 100.2h3.6v2.1h-3.6zM555.1 100.2h2.1v2.1h-2.1zM601.6 100.2h2.1v2.1h-2.1zM534.1 101.8h2.1v2.1h-2.1zM601.6 101.8h2.1v2.1h-2.1zM534.1 103.2h3.6v2.1h-3.6zM553.6 103.2h2.1v2.1h-2.1zM601.6 103.2h2.1v2.1h-2.1zM535.6 104.8h2.1v2.1h-2.1zM552.1 104.8h2.1v2.1h-2.1zM601.6 104.8h2.1v2.1h-2.1zM537.1 106.2h2.1v2.1h-2.1zM550.6 106.2h2.1v2.1h-2.1zM601.6 106.2h3.6v2.1h-3.6zM537.1 107.8h3.6v2.1h-3.6zM549.1 107.8h2.1v2.1h-2.1zM601.6 107.8h3.6v2.1h-3.6zM538.6 109.2h3.6v2.1h-3.6zM546.1 109.2h3.6v2.1h-3.6zM601.6 109.2h3.6v2.1h-3.6zM540.1 110.8h6.6v2.1h-6.6zM601.6 110.8h3.6v2.1h-3.6zM601.6 112.2h3.6v2.1h-3.6zM601.6 113.8h3.6v2.1h-3.6zM600.1 115.2h5.1v2.1h-5.1zM600.1 116.8h3.6v2.1h-3.6zM600.1 118.2h3.6v2.1h-3.6zM598.6 119.8h5.1v2.1h-5.1zM598.6 121.2h5.1v2.1h-5.1zM598.6 122.8h5.1v2.1h-5.1zM598.6 124.2h5.1v2.1h-5.1zM598.6 125.8h5.1v2.1h-5.1zM598.6 127.2h5.1v2.1h-5.1zM600.1 128.8h5.1v2.1h-5.1zM600.1 130.2h6.6v2.1h-6.6zM601.6 131.8h6.6v2.1h-6.6zM603.1 133.2h6.6v2.1h-6.6zM603.1 134.8h9.6v2.1h-9.6zM604.6 136.2h9.6v2.1h-9.6zM606.1 137.8h9.6v2.1h-9.6zM606.1 139.2h9.6v2.1h-9.6zM606.1 140.8h9.6v2.1h-9.6zM606.1 142.2h9.6v2.1h-9.6zM606.1 143.8h9.6v2.1h-9.6zM606.1 145.2h9.6v2.1h-9.6zM604.6 146.8h9.6v2.1h-9.6zM604.6 148.2h9.6v2.1h-9.6zM604.6 149.8h9.6v2.1h-9.6zM604.6 151.2h8.1v2.1h-8.1zM604.6 152.8h8.1v2.1h-8.1zM604.6 154.2h8.1v2.1h-8.1z"/>
<path fill="#eaf1f5" d="M586.6 55.2h6.6v2.1h-6.6zM583.6 56.8h3.6v2.1h-3.6zM591.1 56.8h3.6v2.1h-3.6zM582.1 58.2h3.6v2.1h-3.6zM592.6 58.2h3.6v2.1h-3.6zM582.1 59.8h2.1v2.1h-2.1zM594.1 59.8h2.1v2.1h-2.1zM580.6 61.2h2.1v2.1h-2.1zM595.6 61.2h2.1v2.1h-2.1zM580.6 62.8h2.1v2.1h-2.1zM595.6 62.8h2.1v2.1h-2.1zM579.1 64.2h2.1v2.1h-2.1zM597.1 64.2h2.1v2.1h-2.1zM579.1 65.8h2.1v2.1h-2.1zM597.1 65.8h2.1v2.1h-2.1zM597.1 67.2h2.1v2.1h-2.1zM577.6 68.8h2.1v2.1h-2.1zM597.1 68.8h2.1v2.1h-2.1zM577.6 70.2h2.1v2.1h-2.1zM598.6 70.2h2.1v2.1h-2.1zM598.6 71.8h2.1v2.1h-2.1zM576.1 73.2h2.1v2.1h-2.1zM598.6 73.2h2.1v2.1h-2.1zM598.6 74.8h2.1v2.1h-2.1zM574.6 76.2h2.1v2.1h-2.1zM573.1 77.8h2.1v2.1h-2.1zM600.1 77.8h2.1v2.1h-2.1zM600.1 79.2h2.1v2.1h-2.1zM571.6 80.8h2.1v2.1h-2.1zM600.1 80.8h2.1v2.1h-2.1zM570.1 82.2h2.1v2.1h-2.1zM600.1 82.2h2.1v2.1h-2.1zM568.6 83.8h2.1v2.1h-2.1zM600.1 83.8h2.1v2.1h-2.1zM565.6 88.2h2.1v2.1h-2.1zM564.1 89.8h2.1v2.1h-2.1zM525.1 91.2h6.6v2.1h-6.6zM562.6 91.2h2.1v2.1h-2.1zM601.6 91.2h2.1v2.1h-2.1zM525.1 92.8h8.1v2.1h-8.1zM561.1 92.8h2.1v2.1h-2.1zM601.6 92.8h2.1v2.1h-2.1zM531.1 94.2h3.6v2.1h-3.6zM559.6 94.2h2.1v2.1h-2.1zM601.6 94.2h2.1v2.1h-2.1zM532.6 95.8h2.1v2.1h-2.1zM558.1 95.8h2.1v2.1h-2.1zM601.6 95.8h2.1v2.1h-2.1zM534.1 97.2h2.1v2.1h-2.1zM556.6 97.2h2.1v2.1h-2.1zM601.6 97.2h2.1v2.1h-2.1zM534.1 98.8h2.1v2.1h-2.1zM555.1 98.8h2.1v2.1h-2.1zM535.6 100.2h2.1v2.1h-2.1zM553.6 100.2h2.1v2.1h-2.1zM603.1 100.2h2.1v2.1h-2.1zM535.6 101.8h2.1v2.1h-2.1zM553.6 101.8h2.1v2.1h-2.1zM603.1 101.8h2.1v2.1h-2.1zM537.1 103.2h2.1v2.1h-2.1zM552.1 103.2h2.1v2.1h-2.1zM603.1 103.2h2.1v2.1h-2.1zM537.1 104.8h3.6v2.1h-3.6zM550.6 104.8h2.1v2.1h-2.1zM603.1 104.8h3.6v2.1h-3.6zM538.6 106.2h3.6v2.1h-3.6zM547.6 106.2h3.6v2.1h-3.6zM604.6 106.2h2.1v2.1h-2.1zM540.1 107.8h9.6v2.1h-9.6zM604.6 107.8h2.1v2.1h-2.1zM541.6 109.2h5.1v2.1h-5.1zM604.6 109.2h3.6v2.1h-3.6zM604.6 110.8h3.6v2.1h-3.6zM604.6 112.2h3.6v2.1h-3.6zM604.6 113.8h3.6v2.1h-3.6zM604.6 115.2h3.6v2.1h-3.6zM603.1 116.8h5.1v2.1h-5.1zM603.1 118.2h5.1v2.1h-5.1zM603.1 119.8h5.1v2.1h-5.1zM603.1 121.2h5.1v2.1h-5.1zM603.1 122.8h5.1v2.1h-5.1zM603.1 124.2h5.1v2.1h-5.1zM603.1 125.8h5.1v2.1h-5.1zM603.1 127.2h6.6v2.1h-6.6zM604.6 128.8h6.6v2.1h-6.6zM606.1 130.2h8.1v2.1h-8.1zM607.6 131.8h9.6v2.1h-9.6zM609.1 133.2h11.1v2.1h-11.1zM612.1 134.8h11.1v2.1h-11.1zM613.6 136.2h12.6v2.1h-12.6zM615.1 137.8h12.6v2.1h-12.6zM637.6 137.8h8.1v2.1h-8.1zM615.1 139.2h30.6v2.1h-30.6zM615.1 140.8h30.6v2.1h-30.6zM615.1 142.2h30.6v2.1h-30.6zM615.1 143.8h30.6v2.1h-30.6zM615.1 145.2h30.6v2.1h-30.6zM613.6 146.8h32.1v2.1h-32.1zM613.6 148.2h32.1v2.1h-32.1zM613.6 149.8h32.1v2.1h-32.1zM612.1 151.2h33.6v2.1h-33.6zM612.1 152.8h33.6v2.1h-33.6zM612.1 154.2h33.6v2.1h-33.6z"/>
<path fill="#f3f5f6" d="M585.1 53.8h9.6v2.1h-9.6zM583.6 55.2h3.6v2.1h-3.6zM592.6 55.2h3.6v2.1h-3.6zM582.1 56.8h2.1v2.1h-2.1zM594.1 56.8h2.1v2.1h-2.1zM595.6 58.2h2.1v2.1h-2.1zM580.6 59.8h2.1v2.1h-2.1zM595.6 59.8h2.1v2.1h-2.1zM597.1 61.2h2.1v2.1h-2.1zM579.1 62.8h2.1v2.1h-2.1zM597.1 62.8h2.1v2.1h-2.1zM577.6 65.8h2.1v2.1h-2.1zM598.6 65.8h2.1v2.1h-2.1zM577.6 67.2h2.1v2.1h-2.1zM598.6 67.2h2.1v2.1h-2.1zM598.6 68.8h2.1v2.1h-2.1zM576.1 70.2h2.1v2.1h-2.1zM576.1 71.8h2.1v2.1h-2.1zM600.1 71.8h2.1v2.1h-2.1zM574.6 73.2h2.1v2.1h-2.1zM600.1 73.2h2.1v2.1h-2.1zM574.6 74.8h2.1v2.1h-2.1zM600.1 74.8h2.1v2.1h-2.1zM573.1 76.2h2.1v2.1h-2.1zM600.1 76.2h2.1v2.1h-2.1zM571.6 79.2h2.1v2.1h-2.1zM570.1 80.8h2.1v2.1h-2.1zM601.6 80.8h2.1v2.1h-2.1zM601.6 82.2h2.1v2.1h-2.1zM601.6 83.8h2.1v2.1h-2.1zM567.1 85.2h2.1v2.1h-2.1zM601.6 85.2h2.1v2.1h-2.1zM565.6 86.8h2.1v2.1h-2.1zM601.6 86.8h2.1v2.1h-2.1zM525.1 88.2h6.6v2.1h-6.6zM564.1 88.2h2.1v2.1h-2.1zM601.6 88.2h2.1v2.1h-2.1zM525.1 89.8h8.1v2.1h-8.1zM562.6 89.8h2.1v2.1h-2.1zM601.6 89.8h2.1v2.1h-2.1zM531.1 91.2h3.6v2.1h-3.6zM561.1 91.2h2.1v2.1h-2.1zM532.6 92.8h3.6v2.1h-3.6zM559.6 92.8h2.1v2.1h-2.1zM534.1 94.2h2.1v2.1h-2.1zM558.1 94.2h2.1v2.1h-2.1zM603.1 94.2h2.1v2.1h-2.1zM534.1 95.8h2.1v2.1h-2.1zM556.6 95.8h2.1v2.1h-2.1zM603.1 95.8h2.1v2.1h-2.1zM535.6 97.2h2.1v2.1h-2.1zM555.1 97.2h2.1v2.1h-2.1zM603.1 97.2h2.1v2.1h-2.1zM535.6 98.8h2.1v2.1h-2.1zM553.6 98.8h2.1v2.1h-2.1zM603.1 98.8h2.1v2.1h-2.1zM537.1 100.2h2.1v2.1h-2.1zM552.1 100.2h2.1v2.1h-2.1zM604.6 100.2h2.1v2.1h-2.1zM537.1 101.8h2.1v2.1h-2.1zM552.1 101.8h2.1v2.1h-2.1zM604.6 101.8h2.1v2.1h-2.1zM538.6 103.2h2.1v2.1h-2.1zM549.1 103.2h3.6v2.1h-3.6zM604.6 103.2h2.1v2.1h-2.1zM540.1 104.8h2.1v2.1h-2.1zM547.6 104.8h3.6v2.1h-3.6zM606.1 104.8h2.1v2.1h-2.1zM541.6 106.2h6.6v2.1h-6.6zM606.1 106.2h2.1v2.1h-2.1zM606.1 107.8h3.6v2.1h-3.6zM607.6 109.2h2.1v2.1h-2.1zM607.6 110.8h3.6v2.1h-3.6zM607.6 112.2h5.1v2.1h-5.1zM607.6 113.8h5.1v2.1h-5.1zM607.6 115.2h6.6v2.1h-6.6zM607.6 116.8h6.6v2.1h-6.6zM607.6 118.2h6.6v2.1h-6.6zM607.6 119.8h6.6v2.1h-6.6zM607.6 121.2h6.6v2.1h-6.6zM607.6 122.8h6.6v2.1h-6.6zM607.6 124.2h8.1v2.1h-8.1zM607.6 125.8h9.6v2.1h-9.6zM622.6 125.8h23.1v2.1h-23.1zM609.1 127.2h36.6v2.1h-36.6zM610.6 128.8h35.1v2.1h-35.1zM613.6 130.2h32.1v2.1h-32.1zM616.6 131.8h29.1v2.1h-29.1zM619.6 133.2h26.1v2.1h-26.1zM622.6 134.8h23.1v2.1h-23.1zM625.6 136.2h20.1v2.1h-20.1zM627.1 137.8h11.1v2.1h-11.1z"/>
<path fill="#f8f4f2" d="M585.1 52.2h9.6v2.1h-9.6zM583.6 53.8h2.1v2.1h-2.1zM594.1 53.8h2.1v2.1h-2.1zM582.1 55.2h2.1v2.1h-2.1zM595.6 55.2h2.1v2.1h-2.1zM580.6 56.8h2.1v2.1h-2.1zM595.6 56.8h3.6v2.1h-3.6zM580.6 58.2h2.1v2.1h-2.1zM597.1 58.2h2.1v2.1h-2.1zM579.1 59.8h2.1v2.1h-2.1zM597.1 59.8h2.1v2.1h-2.1zM579.1 61.2h2.1v2.1h-2.1zM598.6 61.2h2.1v2.1h-2.1zM577.6 62.8h2.1v2.1h-2.1zM598.6 62.8h2.1v2.1h-2.1zM577.6 64.2h2.1v2.1h-2.1zM598.6 64.2h2.1v2.1h-2.1zM600.1 65.8h2.1v2.1h-2.1zM576.1 67.2h2.1v2.1h-2.1zM600.1 67.2h2.1v2.1h-2.1zM576.1 68.8h2.1v2.1h-2.1zM600.1 68.8h2.1v2.1h-2.1zM600.1 70.2h2.1v2.1h-2.1zM574.6 71.8h2.1v2.1h-2.1zM601.6 73.2h2.1v2.1h-2.1zM573.1 74.8h2.1v2.1h-2.1zM601.6 74.8h2.1v2.1h-2.1zM601.6 76.2h2.1v2.1h-2.1zM571.6 77.8h2.1v2.1h-2.1zM601.6 77.8h2.1v2.1h-2.1zM570.1 79.2h2.1v2.1h-2.1zM601.6 79.2h2.1v2.1h-2.1zM568.6 82.2h2.1v2.1h-2.1zM567.1 83.8h2.1v2.1h-2.1zM565.6 85.2h2.1v2.1h-2.1zM525.1 86.8h8.1v2.1h-8.1zM564.1 86.8h2.1v2.1h-2.1zM531.1 88.2h3.6v2.1h-3.6zM562.6 88.2h2.1v2.1h-2.1zM603.1 88.2h2.1v2.1h-2.1zM532.6 89.8h2.1v2.1h-2.1zM561.1 89.8h2.1v2.1h-2.1zM603.1 89.8h2.1v2.1h-2.1zM534.1 91.2h2.1v2.1h-2.1zM559.6 91.2h2.1v2.1h-2.1zM603.1 91.2h2.1v2.1h-2.1zM535.6 92.8h2.1v2.1h-2.1zM558.1 92.8h2.1v2.1h-2.1zM603.1 92.8h2.1v2.1h-2.1zM535.6 94.2h2.1v2.1h-2.1zM556.6 94.2h2.1v2.1h-2.1zM535.6 95.8h2.1v2.1h-2.1zM555.1 95.8h2.1v2.1h-2.1zM537.1 97.2h2.1v2.1h-2.1zM553.6 97.2h2.1v2.1h-2.1zM604.6 97.2h2.1v2.1h-2.1zM537.1 98.8h2.1v2.1h-2.1zM552.1 98.8h2.1v2.1h-2.1zM604.6 98.8h2.1v2.1h-2.1zM538.6 100.2h2.1v2.1h-2.1zM550.6 100.2h2.1v2.1h-2.1zM606.1 100.2h2.1v2.1h-2.1zM538.6 101.8h3.6v2.1h-3.6zM549.1 101.8h3.6v2.1h-3.6zM606.1 101.8h2.1v2.1h-2.1zM540.1 103.2h3.6v2.1h-3.6zM547.6 103.2h2.1v2.1h-2.1zM606.1 103.2h3.6v2.1h-3.6zM541.6 104.8h6.6v2.1h-6.6zM607.6 104.8h2.1v2.1h-2.1zM607.6 106.2h3.6v2.1h-3.6zM609.1 107.8h3.6v2.1h-3.6zM609.1 109.2h5.1v2.1h-5.1zM610.6 110.8h5.1v2.1h-5.1zM612.1 112.2h6.6v2.1h-6.6zM612.1 113.8h9.6v2.1h-9.6zM613.6 115.2h12.6v2.1h-12.6zM613.6 116.8h32.1v2.1h-32.1zM613.6 118.2h32.1v2.1h-32.1zM613.6 119.8h32.1v2.1h-32.1zM613.6 121.2h32.1v2.1h-32.1zM613.6 122.8h32.1v2.1h-32.1zM615.1 124.2h30.6v2.1h-30.6zM616.6 125.8h6.6v2.1h-6.6z"/>
<path fill="#f9eee7" d="M588.1 49.2h3.6v2.1h-3.6zM583.6 50.8h12.6v2.1h-12.6zM582.1 52.2h3.6v2.1h-3.6zM594.1 52.2h3.6v2.1h-3.6zM580.6 53.8h3.6v2.1h-3.6zM595.6 53.8h3.6v2.1h-3.6zM580.6 55.2h2.1v2.1h-2.1zM597.1 55.2h2.1v2.1h-2.1zM579.1 56.8h2.1v2.1h-2.1zM598.6 56.8h2.1v2.1h-2.1zM579.1 58.2h2.1v2.1h-2.1zM598.6 58.2h2.1v2.1h-2.1zM598.6 59.8h2.1v2.1h-2.1zM577.6 61.2h2.1v2.1h-2.1zM600.1 61.2h2.1v2.1h-2.1zM600.1 62.8h2.1v2.1h-2.1zM576.1 64.2h2.1v2.1h-2.1zM600.1 64.2h2.1v2.1h-2.1zM576.1 65.8h2.1v2.1h-2.1zM601.6 67.2h2.1v2.1h-2.1zM574.6 68.8h2.1v2.1h-2.1zM601.6 68.8h2.1v2.1h-2.1zM574.6 70.2h2.1v2.1h-2.1zM601.6 70.2h2.1v2.1h-2.1zM601.6 71.8h2.1v2.1h-2.1zM573.1 73.2h2.1v2.1h-2.1zM571.6 76.2h2.1v2.1h-2.1zM603.1 76.2h2.1v2.1h-2.1zM603.1 77.8h2.1v2.1h-2.1zM603.1 79.2h2.1v2.1h-2.1zM568.6 80.8h2.1v2.1h-2.1zM603.1 80.8h2.1v2.1h-2.1zM567.1 82.2h2.1v2.1h-2.1zM603.1 82.2h2.1v2.1h-2.1zM525.1 83.8h6.6v2.1h-6.6zM565.6 83.8h2.1v2.1h-2.1zM603.1 83.8h2.1v2.1h-2.1zM525.1 85.2h8.1v2.1h-8.1zM564.1 85.2h2.1v2.1h-2.1zM603.1 85.2h2.1v2.1h-2.1zM532.6 86.8h2.1v2.1h-2.1zM562.6 86.8h2.1v2.1h-2.1zM603.1 86.8h2.1v2.1h-2.1zM534.1 88.2h2.1v2.1h-2.1zM561.1 88.2h2.1v2.1h-2.1zM534.1 89.8h3.6v2.1h-3.6zM559.6 89.8h2.1v2.1h-2.1zM535.6 91.2h2.1v2.1h-2.1zM558.1 91.2h2.1v2.1h-2.1zM556.6 92.8h2.1v2.1h-2.1zM604.6 92.8h2.1v2.1h-2.1zM537.1 94.2h2.1v2.1h-2.1zM555.1 94.2h2.1v2.1h-2.1zM604.6 94.2h2.1v2.1h-2.1zM537.1 95.8h2.1v2.1h-2.1zM553.6 95.8h2.1v2.1h-2.1zM604.6 95.8h2.1v2.1h-2.1zM538.6 97.2h2.1v2.1h-2.1zM552.1 97.2h2.1v2.1h-2.1zM606.1 97.2h2.1v2.1h-2.1zM538.6 98.8h2.1v2.1h-2.1zM550.6 98.8h2.1v2.1h-2.1zM606.1 98.8h2.1v2.1h-2.1zM540.1 100.2h2.1v2.1h-2.1zM549.1 100.2h2.1v2.1h-2.1zM607.6 100.2h2.1v2.1h-2.1zM541.6 101.8h3.6v2.1h-3.6zM546.1 101.8h3.6v2.1h-3.6zM607.6 101.8h2.1v2.1h-2.1zM543.1 103.2h5.1v2.1h-5.1zM609.1 103.2h2.1v2.1h-2.1zM609.1 104.8h3.6v2.1h-3.6zM610.6 106.2h3.6v2.1h-3.6zM612.1 107.8h3.6v2.1h-3.6zM639.1 107.8h6.6v2.1h-6.6zM613.6 109.2h6.6v2.1h-6.6zM634.6 109.2h11.1v2.1h-11.1zM615.1 110.8h30.6v2.1h-30.6zM618.1 112.2h27.6v2.1h-27.6zM621.1 113.8h24.6v2.1h-24.6zM625.6 115.2h20.1v2.1h-20.1z"/>
<path fill="#fae8de" d="M586.6 47.8h8.1v2.1h-8.1zM583.6 49.2h5.1v2.1h-5.1zM591.1 49.2h6.6v2.1h-6.6zM582.1 50.8h2.1v2.1h-2.1zM595.6 50.8h3.6v2.1h-3.6zM580.6 52.2h2.1v2.1h-2.1zM597.1 52.2h2.1v2.1h-2.1zM598.6 53.8h2.1v2.1h-2.1zM579.1 55.2h2.1v2.1h-2.1zM598.6 55.2h2.1v2.1h-2.1zM600.1 56.8h2.1v2.1h-2.1zM577.6 58.2h2.1v2.1h-2.1zM600.1 58.2h2.1v2.1h-2.1zM577.6 59.8h2.1v2.1h-2.1zM600.1 59.8h2.1v2.1h-2.1zM576.1 62.8h2.1v2.1h-2.1zM601.6 62.8h2.1v2.1h-2.1zM601.6 64.2h2.1v2.1h-2.1zM601.6 65.8h2.1v2.1h-2.1zM574.6 67.2h2.1v2.1h-2.1zM603.1 68.8h2.1v2.1h-2.1zM573.1 70.2h2.1v2.1h-2.1zM603.1 70.2h2.1v2.1h-2.1zM573.1 71.8h2.1v2.1h-2.1zM603.1 71.8h2.1v2.1h-2.1zM603.1 73.2h2.1v2.1h-2.1zM571.6 74.8h2.1v2.1h-2.1zM603.1 74.8h2.1v2.1h-2.1zM570.1 77.8h2.1v2.1h-2.1zM568.6 79.2h2.1v2.1h-2.1zM567.1 80.8h2.1v2.1h-2.1zM525.1 82.2h8.1v2.1h-8.1zM531.1 83.8h3.6v2.1h-3.6zM604.6 83.8h2.1v2.1h-2.1zM532.6 85.2h3.6v2.1h-3.6zM604.6 85.2h2.1v2.1h-2.1zM534.1 86.8h2.1v2.1h-2.1zM604.6 86.8h2.1v2.1h-2.1zM535.6 88.2h2.1v2.1h-2.1zM604.6 88.2h2.1v2.1h-2.1zM604.6 89.8h2.1v2.1h-2.1zM537.1 91.2h2.1v2.1h-2.1zM556.6 91.2h2.1v2.1h-2.1zM604.6 91.2h2.1v2.1h-2.1zM537.1 92.8h2.1v2.1h-2.1zM555.1 92.8h2.1v2.1h-2.1zM538.6 94.2h2.1v2.1h-2.1zM553.6 94.2h2.1v2.1h-2.1zM606.1 94.2h2.1v2.1h-2.1zM538.6 95.8h2.1v2.1h-2.1zM552.1 95.8h2.1v2.1h-2.1zM606.1 95.8h2.1v2.1h-2.1zM540.1 97.2h2.1v2.1h-2.1zM550.6 97.2h2.1v2.1h-2.1zM540.1 98.8h3.6v2.1h-3.6zM549.1 98.8h2.1v2.1h-2.1zM607.6 98.8h2.1v2.1h-2.1zM541.6 100.2h8.1v2.1h-8.1zM609.1 100.2h2.1v2.1h-2.1zM637.6 100.2h8.1v2.1h-8.1zM544.6 101.8h2.1v2.1h-2.1zM609.1 101.8h2.1v2.1h-2.1zM636.1 101.8h9.6v2.1h-9.6zM610.6 103.2h2.1v2.1h-2.1zM634.6 103.2h11.1v2.1h-11.1zM612.1 104.8h3.6v2.1h-3.6zM631.6 104.8h14.1v2.1h-14.1zM613.6 106.2h5.1v2.1h-5.1zM628.6 106.2h17.1v2.1h-17.1zM615.1 107.8h24.6v2.1h-24.6zM619.6 109.2h15.6v2.1h-15.6z"/>
<path fill="#fce2d2" d="M585.1 46.2h11.1v2.1h-11.1zM582.1 47.8h5.1v2.1h-5.1zM594.1 47.8h5.1v2.1h-5.1zM580.6 49.2h3.6v2.1h-3.6zM597.1 49.2h3.6v2.1h-3.6zM580.6 50.8h2.1v2.1h-2.1zM598.6 50.8h2.1v2.1h-2.1zM579.1 52.2h2.1v2.1h-2.1zM598.6 52.2h3.6v2.1h-3.6zM579.1 53.8h2.1v2.1h-2.1zM600.1 53.8h2.1v2.1h-2.1zM600.1 55.2h2.1v2.1h-2.1zM577.6 56.8h2.1v2.1h-2.1zM601.6 56.8h2.1v2.1h-2.1zM601.6 58.2h2.1v2.1h-2.1zM601.6 59.8h2.1v2.1h-2.1zM576.1 61.2h2.1v2.1h-2.1zM601.6 61.2h2.1v2.1h-2.1zM603.1 62.8h2.1v2.1h-2.1zM574.6 64.2h2.1v2.1h-2.1zM603.1 64.2h2.1v2.1h-2.1zM574.6 65.8h2.1v2.1h-2.1zM603.1 65.8h2.1v2.1h-2.1zM603.1 67.2h2.1v2.1h-2.1zM573.1 68.8h2.1v2.1h-2.1zM571.6 71.8h2.1v2.1h-2.1zM604.6 71.8h2.1v2.1h-2.1zM571.6 73.2h2.1v2.1h-2.1zM604.6 73.2h2.1v2.1h-2.1zM570.1 74.8h2.1v2.1h-2.1zM604.6 74.8h2.1v2.1h-2.1zM570.1 76.2h2.1v2.1h-2.1zM604.6 76.2h2.1v2.1h-2.1zM568.6 77.8h2.1v2.1h-2.1zM604.6 77.8h2.1v2.1h-2.1zM525.1 79.2h6.6v2.1h-6.6zM567.1 79.2h2.1v2.1h-2.1zM604.6 79.2h2.1v2.1h-2.1zM525.1 80.8h9.6v2.1h-9.6zM604.6 80.8h2.1v2.1h-2.1zM532.6 82.2h2.1v2.1h-2.1zM565.6 82.2h2.1v2.1h-2.1zM604.6 82.2h2.1v2.1h-2.1zM534.1 83.8h2.1v2.1h-2.1zM564.1 83.8h2.1v2.1h-2.1zM535.6 85.2h2.1v2.1h-2.1zM562.6 85.2h2.1v2.1h-2.1zM535.6 86.8h2.1v2.1h-2.1zM561.1 86.8h2.1v2.1h-2.1zM537.1 88.2h2.1v2.1h-2.1zM559.6 88.2h2.1v2.1h-2.1zM537.1 89.8h2.1v2.1h-2.1zM558.1 89.8h2.1v2.1h-2.1zM606.1 89.8h2.1v2.1h-2.1zM538.6 91.2h2.1v2.1h-2.1zM555.1 91.2h2.1v2.1h-2.1zM606.1 91.2h2.1v2.1h-2.1zM538.6 92.8h2.1v2.1h-2.1zM553.6 92.8h2.1v2.1h-2.1zM606.1 92.8h2.1v2.1h-2.1zM640.6 92.8h5.1v2.1h-5.1zM540.1 94.2h2.1v2.1h-2.1zM552.1 94.2h2.1v2.1h-2.1zM637.6 94.2h8.1v2.1h-8.1zM540.1 95.8h2.1v2.1h-2.1zM550.6 95.8h2.1v2.1h-2.1zM607.6 95.8h2.1v2.1h-2.1zM636.1 95.8h9.6v2.1h-9.6zM541.6 97.2h2.1v2.1h-2.1zM549.1 97.2h2.1v2.1h-2.1zM607.6 97.2h2.1v2.1h-2.1zM634.6 97.2h11.1v2.1h-11.1zM543.1 98.8h6.6v2.1h-6.6zM609.1 98.8h2.1v2.1h-2.1zM633.1 98.8h12.6v2.1h-12.6zM610.6 100.2h2.1v2.1h-2.1zM631.6 100.2h6.6v2.1h-6.6zM610.6 101.8h3.6v2.1h-3.6zM630.1 101.8h6.6v2.1h-6.6zM612.1 103.2h3.6v2.1h-3.6zM627.1 103.2h8.1v2.1h-8.1zM615.1 104.8h17.1v2.1h-17.1zM618.1 106.2h11.1v2.1h-11.1z"/>
<path fill="#fddcc9" d="M588.1 41.8h8.1v2.1h-8.1zM583.6 43.2h15.6v2.1h-15.6zM582.1 44.8h18.6v2.1h-18.6zM580.6 46.2h5.1v2.1h-5.1zM595.6 46.2h6.6v2.1h-6.6zM579.1 47.8h3.6v2.1h-3.6zM598.6 47.8h3.6v2.1h-3.6zM579.1 49.2h2.1v2.1h-2.1zM600.1 49.2h3.6v2.1h-3.6zM579.1 50.8h2.1v2.1h-2.1zM600.1 50.8h3.6v2.1h-3.6zM577.6 52.2h2.1v2.1h-2.1zM601.6 52.2h2.1v2.1h-2.1zM577.6 53.8h2.1v2.1h-2.1zM601.6 53.8h2.1v2.1h-2.1zM577.6 55.2h2.1v2.1h-2.1zM601.6 55.2h3.6v2.1h-3.6zM603.1 56.8h2.1v2.1h-2.1zM576.1 58.2h2.1v2.1h-2.1zM603.1 58.2h2.1v2.1h-2.1zM576.1 59.8h2.1v2.1h-2.1zM603.1 59.8h2.1v2.1h-2.1zM603.1 61.2h2.1v2.1h-2.1zM574.6 62.8h2.1v2.1h-2.1zM573.1 65.8h2.1v2.1h-2.1zM604.6 65.8h2.1v2.1h-2.1zM573.1 67.2h2.1v2.1h-2.1zM604.6 67.2h2.1v2.1h-2.1zM604.6 68.8h2.1v2.1h-2.1zM571.6 70.2h2.1v2.1h-2.1zM604.6 70.2h2.1v2.1h-2.1zM570.1 73.2h2.1v2.1h-2.1zM525.1 74.8h6.6v2.1h-6.6zM525.1 76.2h8.1v2.1h-8.1zM568.6 76.2h2.1v2.1h-2.1zM525.1 77.8h9.6v2.1h-9.6zM606.1 77.8h2.1v2.1h-2.1zM531.1 79.2h3.6v2.1h-3.6zM606.1 79.2h2.1v2.1h-2.1zM534.1 80.8h2.1v2.1h-2.1zM565.6 80.8h2.1v2.1h-2.1zM606.1 80.8h2.1v2.1h-2.1zM534.1 82.2h3.6v2.1h-3.6zM564.1 82.2h2.1v2.1h-2.1zM606.1 82.2h2.1v2.1h-2.1zM535.6 83.8h2.1v2.1h-2.1zM562.6 83.8h2.1v2.1h-2.1zM606.1 83.8h2.1v2.1h-2.1zM537.1 85.2h2.1v2.1h-2.1zM561.1 85.2h2.1v2.1h-2.1zM606.1 85.2h2.1v2.1h-2.1zM537.1 86.8h2.1v2.1h-2.1zM559.6 86.8h2.1v2.1h-2.1zM606.1 86.8h2.1v2.1h-2.1zM639.1 86.8h6.6v2.1h-6.6zM538.6 88.2h2.1v2.1h-2.1zM558.1 88.2h2.1v2.1h-2.1zM606.1 88.2h2.1v2.1h-2.1zM637.6 88.2h8.1v2.1h-8.1zM538.6 89.8h2.1v2.1h-2.1zM555.1 89.8h3.6v2.1h-3.6zM636.1 89.8h9.6v2.1h-9.6zM540.1 91.2h2.1v2.1h-2.1zM553.6 91.2h2.1v2.1h-2.1zM636.1 91.2h9.6v2.1h-9.6zM540.1 92.8h2.1v2.1h-2.1zM552.1 92.8h2.1v2.1h-2.1zM607.6 92.8h2.1v2.1h-2.1zM634.6 92.8h6.6v2.1h-6.6zM541.6 94.2h2.1v2.1h-2.1zM550.6 94.2h2.1v2.1h-2.1zM607.6 94.2h2.1v2.1h-2.1zM633.1 94.2h5.1v2.1h-5.1zM541.6 95.8h3.6v2.1h-3.6zM547.6 95.8h3.6v2.1h-3.6zM609.1 95.8h2.1v2.1h-2.1zM631.6 95.8h5.1v2.1h-5.1zM543.1 97.2h6.6v2.1h-6.6zM609.1 97.2h2.1v2.1h-2.1zM630.1 97.2h5.1v2.1h-5.1zM610.6 98.8h2.1v2.1h-2.1zM628.6 98.8h5.1v2.1h-5.1zM612.1 100.2h2.1v2.1h-2.1zM627.1 100.2h5.1v2.1h-5.1zM613.6 101.8h3.6v2.1h-3.6zM624.1 101.8h6.6v2.1h-6.6zM615.1 103.2h12.6v2.1h-12.6z"/>
<path fill="#fcd3bc" d="M576.1 35.8h30.6v2.1h-30.6zM576.1 37.2h30.6v2.1h-30.6zM576.1 38.8h30.6v2.1h-30.6zM576.1 40.2h30.6v2.1h-30.6zM576.1 41.8h12.6v2.1h-12.6zM595.6 41.8h11.1v2.1h-11.1zM577.6 43.2h6.6v2.1h-6.6zM598.6 43.2h8.1v2.1h-8.1zM577.6 44.8h5.1v2.1h-5.1zM600.1 44.8h6.6v2.1h-6.6zM577.6 46.2h3.6v2.1h-3.6zM601.6 46.2h5.1v2.1h-5.1zM577.6 47.8h2.1v2.1h-2.1zM601.6 47.8h5.1v2.1h-5.1zM577.6 49.2h2.1v2.1h-2.1zM603.1 49.2h3.6v2.1h-3.6zM577.6 50.8h2.1v2.1h-2.1zM603.1 50.8h3.6v2.1h-3.6zM603.1 52.2h3.6v2.1h-3.6zM576.1 53.8h2.1v2.1h-2.1zM603.1 53.8h3.6v2.1h-3.6zM576.1 55.2h2.1v2.1h-2.1zM604.6 55.2h2.1v2.1h-2.1zM576.1 56.8h2.1v2.1h-2.1zM604.6 56.8h2.1v2.1h-2.1zM604.6 58.2h2.1v2.1h-2.1zM574.6 59.8h2.1v2.1h-2.1zM604.6 59.8h2.1v2.1h-2.1zM574.6 61.2h2.1v2.1h-2.1zM604.6 61.2h2.1v2.1h-2.1zM604.6 62.8h2.1v2.1h-2.1zM573.1 64.2h2.1v2.1h-2.1zM604.6 64.2h2.1v2.1h-2.1zM528.1 67.2h2.1v2.1h-2.1zM525.1 68.8h6.6v2.1h-6.6zM571.6 68.8h2.1v2.1h-2.1zM606.1 68.8h2.1v2.1h-2.1zM525.1 70.2h8.1v2.1h-8.1zM606.1 70.2h2.1v2.1h-2.1zM525.1 71.8h8.1v2.1h-8.1zM570.1 71.8h2.1v2.1h-2.1zM606.1 71.8h2.1v2.1h-2.1zM525.1 73.2h9.6v2.1h-9.6zM606.1 73.2h2.1v2.1h-2.1zM531.1 74.8h3.6v2.1h-3.6zM568.6 74.8h2.1v2.1h-2.1zM606.1 74.8h2.1v2.1h-2.1zM642.1 74.8h2.1v2.1h-2.1zM532.6 76.2h3.6v2.1h-3.6zM606.1 76.2h2.1v2.1h-2.1zM640.6 76.2h5.1v2.1h-5.1zM534.1 77.8h2.1v2.1h-2.1zM567.1 77.8h2.1v2.1h-2.1zM639.1 77.8h6.6v2.1h-6.6zM534.1 79.2h3.6v2.1h-3.6zM565.6 79.2h2.1v2.1h-2.1zM639.1 79.2h6.6v2.1h-6.6zM535.6 80.8h2.1v2.1h-2.1zM564.1 80.8h2.1v2.1h-2.1zM637.6 80.8h8.1v2.1h-8.1zM537.1 82.2h2.1v2.1h-2.1zM562.6 82.2h2.1v2.1h-2.1zM637.6 82.2h8.1v2.1h-8.1zM537.1 83.8h2.1v2.1h-2.1zM561.1 83.8h2.1v2.1h-2.1zM636.1 83.8h9.6v2.1h-9.6zM538.6 85.2h2.1v2.1h-2.1zM559.6 85.2h2.1v2.1h-2.1zM636.1 85.2h9.6v2.1h-9.6zM538.6 86.8h2.1v2.1h-2.1zM558.1 86.8h2.1v2.1h-2.1zM634.6 86.8h5.1v2.1h-5.1zM540.1 88.2h2.1v2.1h-2.1zM556.6 88.2h2.1v2.1h-2.1zM607.6 88.2h2.1v2.1h-2.1zM633.1 88.2h5.1v2.1h-5.1zM540.1 89.8h2.1v2.1h-2.1zM553.6 89.8h2.1v2.1h-2.1zM607.6 89.8h2.1v2.1h-2.1zM633.1 89.8h3.6v2.1h-3.6zM541.6 91.2h2.1v2.1h-2.1zM552.1 91.2h2.1v2.1h-2.1zM607.6 91.2h2.1v2.1h-2.1zM631.6 91.2h5.1v2.1h-5.1zM541.6 92.8h3.6v2.1h-3.6zM550.6 92.8h2.1v2.1h-2.1zM609.1 92.8h2.1v2.1h-2.1zM631.6 92.8h3.6v2.1h-3.6zM543.1 94.2h8.1v2.1h-8.1zM609.1 94.2h2.1v2.1h-2.1zM630.1 94.2h3.6v2.1h-3.6zM544.6 95.8h3.6v2.1h-3.6zM610.6 95.8h2.1v2.1h-2.1zM628.6 95.8h3.6v2.1h-3.6zM610.6 97.2h3.6v2.1h-3.6zM627.1 97.2h3.6v2.1h-3.6zM612.1 98.8h3.6v2.1h-3.6zM624.1 98.8h5.1v2.1h-5.1zM613.6 100.2h14.1v2.1h-14.1zM616.6 101.8h8.1v2.1h-8.1z"/>
<path fill="#f9c6ac" d="M525.1 35.8h9.6v2.1h-9.6zM558.1 35.8h18.6v2.1h-18.6zM606.1 35.8h11.1v2.1h-11.1zM627.1 35.8h18.6v2.1h-18.6zM525.1 37.2h11.1v2.1h-11.1zM556.6 37.2h20.1v2.1h-20.1zM606.1 37.2h11.1v2.1h-11.1zM627.1 37.2h18.6v2.1h-18.6zM525.1 38.8h11.1v2.1h-11.1zM556.6 38.8h20.1v2.1h-20.1zM606.1 38.8h12.6v2.1h-12.6zM627.1 38.8h18.6v2.1h-18.6zM525.1 40.2h9.6v2.1h-9.6zM558.1 40.2h18.6v2.1h-18.6zM606.1 40.2h11.1v2.1h-11.1zM627.1 40.2h18.6v2.1h-18.6zM525.1 41.8h8.1v2.1h-8.1zM562.6 41.8h14.1v2.1h-14.1zM606.1 41.8h9.6v2.1h-9.6zM627.1 41.8h18.6v2.1h-18.6zM570.1 43.2h8.1v2.1h-8.1zM606.1 43.2h8.1v2.1h-8.1zM628.6 43.2h17.1v2.1h-17.1zM573.1 44.8h5.1v2.1h-5.1zM606.1 44.8h6.6v2.1h-6.6zM628.6 44.8h17.1v2.1h-17.1zM574.6 46.2h3.6v2.1h-3.6zM606.1 46.2h5.1v2.1h-5.1zM628.6 46.2h17.1v2.1h-17.1zM576.1 47.8h2.1v2.1h-2.1zM606.1 47.8h3.6v2.1h-3.6zM630.1 47.8h15.6v2.1h-15.6zM576.1 49.2h2.1v2.1h-2.1zM606.1 49.2h3.6v2.1h-3.6zM630.1 49.2h15.6v2.1h-15.6zM576.1 50.8h2.1v2.1h-2.1zM606.1 50.8h2.1v2.1h-2.1zM631.6 50.8h14.1v2.1h-14.1zM576.1 52.2h2.1v2.1h-2.1zM606.1 52.2h2.1v2.1h-2.1zM631.6 52.2h14.1v2.1h-14.1zM606.1 53.8h2.1v2.1h-2.1zM633.1 53.8h12.6v2.1h-12.6zM606.1 55.2h2.1v2.1h-2.1zM633.1 55.2h12.6v2.1h-12.6zM574.6 56.8h2.1v2.1h-2.1zM606.1 56.8h2.1v2.1h-2.1zM634.6 56.8h11.1v2.1h-11.1zM574.6 58.2h2.1v2.1h-2.1zM606.1 58.2h2.1v2.1h-2.1zM634.6 58.2h11.1v2.1h-11.1zM606.1 59.8h2.1v2.1h-2.1zM634.6 59.8h11.1v2.1h-11.1zM606.1 61.2h2.1v2.1h-2.1zM636.1 61.2h9.6v2.1h-9.6zM525.1 62.8h8.1v2.1h-8.1zM573.1 62.8h2.1v2.1h-2.1zM606.1 62.8h2.1v2.1h-2.1zM636.1 62.8h9.6v2.1h-9.6zM525.1 64.2h9.6v2.1h-9.6zM606.1 64.2h2.1v2.1h-2.1zM636.1 64.2h9.6v2.1h-9.6zM525.1 65.8h9.6v2.1h-9.6zM571.6 65.8h2.1v2.1h-2.1zM606.1 65.8h2.1v2.1h-2.1zM636.1 65.8h9.6v2.1h-9.6zM525.1 67.2h3.6v2.1h-3.6zM529.6 67.2h5.1v2.1h-5.1zM571.6 67.2h2.1v2.1h-2.1zM606.1 67.2h2.1v2.1h-2.1zM636.1 67.2h9.6v2.1h-9.6zM531.1 68.8h5.1v2.1h-5.1zM636.1 68.8h9.6v2.1h-9.6zM532.6 70.2h3.6v2.1h-3.6zM570.1 70.2h2.1v2.1h-2.1zM636.1 70.2h9.6v2.1h-9.6zM532.6 71.8h3.6v2.1h-3.6zM636.1 71.8h9.6v2.1h-9.6zM534.1 73.2h2.1v2.1h-2.1zM568.6 73.2h2.1v2.1h-2.1zM607.6 73.2h2.1v2.1h-2.1zM636.1 73.2h9.6v2.1h-9.6zM534.1 74.8h3.6v2.1h-3.6zM607.6 74.8h2.1v2.1h-2.1zM636.1 74.8h6.6v2.1h-6.6zM643.6 74.8h2.1v2.1h-2.1zM535.6 76.2h2.1v2.1h-2.1zM567.1 76.2h2.1v2.1h-2.1zM607.6 76.2h2.1v2.1h-2.1zM634.6 76.2h6.6v2.1h-6.6zM535.6 77.8h2.1v2.1h-2.1zM565.6 77.8h2.1v2.1h-2.1zM607.6 77.8h2.1v2.1h-2.1zM634.6 77.8h5.1v2.1h-5.1zM537.1 79.2h2.1v2.1h-2.1zM564.1 79.2h2.1v2.1h-2.1zM607.6 79.2h2.1v2.1h-2.1zM634.6 79.2h5.1v2.1h-5.1zM537.1 80.8h2.1v2.1h-2.1zM562.6 80.8h2.1v2.1h-2.1zM607.6 80.8h2.1v2.1h-2.1zM634.6 80.8h3.6v2.1h-3.6zM538.6 82.2h2.1v2.1h-2.1zM561.1 82.2h2.1v2.1h-2.1zM607.6 82.2h2.1v2.1h-2.1zM633.1 82.2h5.1v2.1h-5.1zM538.6 83.8h2.1v2.1h-2.1zM559.6 83.8h2.1v2.1h-2.1zM607.6 83.8h2.1v2.1h-2.1zM633.1 83.8h3.6v2.1h-3.6zM540.1 85.2h2.1v2.1h-2.1zM558.1 85.2h2.1v2.1h-2.1zM607.6 85.2h2.1v2.1h-2.1zM631.6 85.2h5.1v2.1h-5.1zM540.1 86.8h2.1v2.1h-2.1zM556.6 86.8h2.1v2.1h-2.1zM607.6 86.8h2.1v2.1h-2.1zM631.6 86.8h3.6v2.1h-3.6zM541.6 88.2h2.1v2.1h-2.1zM553.6 88.2h3.6v2.1h-3.6zM631.6 88.2h2.1v2.1h-2.1zM541.6 89.8h2.1v2.1h-2.1zM552.1 89.8h2.1v2.1h-2.1zM609.1 89.8h2.1v2.1h-2.1zM630.1 89.8h3.6v2.1h-3.6zM543.1 91.2h2.1v2.1h-2.1zM549.1 91.2h3.6v2.1h-3.6zM609.1 91.2h2.1v2.1h-2.1zM628.6 91.2h3.6v2.1h-3.6zM544.6 92.8h6.6v2.1h-6.6zM628.6 92.8h3.6v2.1h-3.6zM610.6 94.2h2.1v2.1h-2.1zM627.1 94.2h3.6v2.1h-3.6zM612.1 95.8h2.1v2.1h-2.1zM625.6 95.8h3.6v2.1h-3.6zM613.6 97.2h2.1v2.1h-2.1zM622.6 97.2h5.1v2.1h-5.1zM615.1 98.8h9.6v2.1h-9.6z"/>
<path fill="#f8bb9e" d="M534.1 35.8h24.6v2.1h-24.6zM616.6 35.8h11.1v2.1h-11.1zM535.6 37.2h21.6v2.1h-21.6zM616.6 37.2h11.1v2.1h-11.1zM535.6 38.8h21.6v2.1h-21.6zM618.1 38.8h9.6v2.1h-9.6zM534.1 40.2h24.6v2.1h-24.6zM616.6 40.2h11.1v2.1h-11.1zM532.6 41.8h30.6v2.1h-30.6zM615.1 41.8h12.6v2.1h-12.6zM525.1 43.2h45.6v2.1h-45.6zM613.6 43.2h15.6v2.1h-15.6zM525.1 44.8h29.1v2.1h-29.1zM568.6 44.8h5.1v2.1h-5.1zM612.1 44.8h17.1v2.1h-17.1zM525.1 46.2h23.1v2.1h-23.1zM571.6 46.2h3.6v2.1h-3.6zM610.6 46.2h18.6v2.1h-18.6zM525.1 47.8h20.1v2.1h-20.1zM573.1 47.8h3.6v2.1h-3.6zM609.1 47.8h21.6v2.1h-21.6zM525.1 49.2h17.1v2.1h-17.1zM574.6 49.2h2.1v2.1h-2.1zM609.1 49.2h5.1v2.1h-5.1zM621.1 49.2h9.6v2.1h-9.6zM525.1 50.8h14.1v2.1h-14.1zM574.6 50.8h2.1v2.1h-2.1zM607.6 50.8h5.1v2.1h-5.1zM622.6 50.8h9.6v2.1h-9.6zM525.1 52.2h11.1v2.1h-11.1zM574.6 52.2h2.1v2.1h-2.1zM607.6 52.2h3.6v2.1h-3.6zM624.1 52.2h8.1v2.1h-8.1zM525.1 53.8h9.6v2.1h-9.6zM574.6 53.8h2.1v2.1h-2.1zM607.6 53.8h3.6v2.1h-3.6zM625.6 53.8h8.1v2.1h-8.1zM525.1 55.2h9.6v2.1h-9.6zM574.6 55.2h2.1v2.1h-2.1zM607.6 55.2h2.1v2.1h-2.1zM627.1 55.2h6.6v2.1h-6.6zM525.1 56.8h9.6v2.1h-9.6zM607.6 56.8h2.1v2.1h-2.1zM628.6 56.8h6.6v2.1h-6.6zM525.1 58.2h11.1v2.1h-11.1zM607.6 58.2h2.1v2.1h-2.1zM630.1 58.2h5.1v2.1h-5.1zM525.1 59.8h11.1v2.1h-11.1zM573.1 59.8h2.1v2.1h-2.1zM607.6 59.8h2.1v2.1h-2.1zM630.1 59.8h5.1v2.1h-5.1zM525.1 61.2h11.1v2.1h-11.1zM573.1 61.2h2.1v2.1h-2.1zM607.6 61.2h2.1v2.1h-2.1zM631.6 61.2h5.1v2.1h-5.1zM532.6 62.8h5.1v2.1h-5.1zM607.6 62.8h2.1v2.1h-2.1zM631.6 62.8h5.1v2.1h-5.1zM534.1 64.2h3.6v2.1h-3.6zM571.6 64.2h2.1v2.1h-2.1zM607.6 64.2h2.1v2.1h-2.1zM633.1 64.2h3.6v2.1h-3.6zM534.1 65.8h3.6v2.1h-3.6zM607.6 65.8h2.1v2.1h-2.1zM633.1 65.8h3.6v2.1h-3.6zM534.1 67.2h3.6v2.1h-3.6zM570.1 67.2h2.1v2.1h-2.1zM607.6 67.2h2.1v2.1h-2.1zM633.1 67.2h3.6v2.1h-3.6zM535.6 68.8h2.1v2.1h-2.1zM570.1 68.8h2.1v2.1h-2.1zM607.6 68.8h2.1v2.1h-2.1zM633.1 68.8h3.6v2.1h-3.6zM535.6 70.2h2.1v2.1h-2.1zM568.6 70.2h2.1v2.1h-2.1zM607.6 70.2h2.1v2.1h-2.1zM633.1 70.2h3.6v2.1h-3.6zM535.6 71.8h2.1v2.1h-2.1zM568.6 71.8h2.1v2.1h-2.1zM607.6 71.8h2.1v2.1h-2.1zM633.1 71.8h3.6v2.1h-3.6zM535.6 73.2h3.6v2.1h-3.6zM567.1 73.2h2.1v2.1h-2.1zM633.1 73.2h3.6v2.1h-3.6zM537.1 74.8h2.1v2.1h-2.1zM567.1 74.8h2.1v2.1h-2.1zM633.1 74.8h3.6v2.1h-3.6zM537.1 76.2h2.1v2.1h-2.1zM565.6 76.2h2.1v2.1h-2.1zM631.6 76.2h3.6v2.1h-3.6zM537.1 77.8h2.1v2.1h-2.1zM564.1 77.8h2.1v2.1h-2.1zM631.6 77.8h3.6v2.1h-3.6zM538.6 79.2h2.1v2.1h-2.1zM562.6 79.2h2.1v2.1h-2.1zM631.6 79.2h3.6v2.1h-3.6zM538.6 80.8h2.1v2.1h-2.1zM561.1 80.8h2.1v2.1h-2.1zM631.6 80.8h3.6v2.1h-3.6zM540.1 82.2h2.1v2.1h-2.1zM559.6 82.2h2.1v2.1h-2.1zM609.1 82.2h2.1v2.1h-2.1zM630.1 82.2h3.6v2.1h-3.6zM540.1 83.8h2.1v2.1h-2.1zM558.1 83.8h2.1v2.1h-2.1zM609.1 83.8h2.1v2.1h-2.1zM630.1 83.8h3.6v2.1h-3.6zM541.6 85.2h2.1v2.1h-2.1zM556.6 85.2h2.1v2.1h-2.1zM609.1 85.2h2.1v2.1h-2.1zM630.1 85.2h2.1v2.1h-2.1zM541.6 86.8h2.1v2.1h-2.1zM553.6 86.8h3.6v2.1h-3.6zM609.1 86.8h2.1v2.1h-2.1zM628.6 86.8h3.6v2.1h-3.6zM543.1 88.2h2.1v2.1h-2.1zM552.1 88.2h2.1v2.1h-2.1zM609.1 88.2h2.1v2.1h-2.1zM628.6 88.2h3.6v2.1h-3.6zM543.1 89.8h9.6v2.1h-9.6zM627.1 89.8h3.6v2.1h-3.6zM544.6 91.2h5.1v2.1h-5.1zM610.6 91.2h2.1v2.1h-2.1zM627.1 91.2h2.1v2.1h-2.1zM610.6 92.8h2.1v2.1h-2.1zM625.6 92.8h3.6v2.1h-3.6zM612.1 94.2h2.1v2.1h-2.1zM624.1 94.2h3.6v2.1h-3.6zM613.6 95.8h3.6v2.1h-3.6zM621.1 95.8h5.1v2.1h-5.1zM615.1 97.2h8.1v2.1h-8.1z"/>
<path fill="#f6af8e" d="M553.6 44.8h15.6v2.1h-15.6zM547.6 46.2h12.6v2.1h-12.6zM567.1 46.2h5.1v2.1h-5.1zM544.6 47.8h9.6v2.1h-9.6zM571.6 47.8h2.1v2.1h-2.1zM541.6 49.2h9.6v2.1h-9.6zM573.1 49.2h2.1v2.1h-2.1zM613.6 49.2h8.1v2.1h-8.1zM538.6 50.8h9.6v2.1h-9.6zM573.1 50.8h2.1v2.1h-2.1zM612.1 50.8h11.1v2.1h-11.1zM535.6 52.2h11.1v2.1h-11.1zM573.1 52.2h2.1v2.1h-2.1zM610.6 52.2h14.1v2.1h-14.1zM534.1 53.8h9.6v2.1h-9.6zM610.6 53.8h3.6v2.1h-3.6zM619.6 53.8h6.6v2.1h-6.6zM534.1 55.2h8.1v2.1h-8.1zM573.1 55.2h2.1v2.1h-2.1zM609.1 55.2h3.6v2.1h-3.6zM622.6 55.2h5.1v2.1h-5.1zM534.1 56.8h6.6v2.1h-6.6zM573.1 56.8h2.1v2.1h-2.1zM609.1 56.8h3.6v2.1h-3.6zM624.1 56.8h5.1v2.1h-5.1zM535.6 58.2h5.1v2.1h-5.1zM573.1 58.2h2.1v2.1h-2.1zM609.1 58.2h2.1v2.1h-2.1zM625.6 58.2h5.1v2.1h-5.1zM535.6 59.8h5.1v2.1h-5.1zM609.1 59.8h2.1v2.1h-2.1zM627.1 59.8h3.6v2.1h-3.6zM535.6 61.2h3.6v2.1h-3.6zM571.6 61.2h2.1v2.1h-2.1zM609.1 61.2h2.1v2.1h-2.1zM628.6 61.2h3.6v2.1h-3.6zM537.1 62.8h2.1v2.1h-2.1zM571.6 62.8h2.1v2.1h-2.1zM609.1 62.8h2.1v2.1h-2.1zM628.6 62.8h3.6v2.1h-3.6zM537.1 64.2h2.1v2.1h-2.1zM609.1 64.2h2.1v2.1h-2.1zM630.1 64.2h3.6v2.1h-3.6zM537.1 65.8h2.1v2.1h-2.1zM570.1 65.8h2.1v2.1h-2.1zM609.1 65.8h2.1v2.1h-2.1zM630.1 65.8h3.6v2.1h-3.6zM537.1 67.2h2.1v2.1h-2.1zM609.1 67.2h2.1v2.1h-2.1zM630.1 67.2h3.6v2.1h-3.6zM537.1 68.8h2.1v2.1h-2.1zM568.6 68.8h2.1v2.1h-2.1zM609.1 68.8h2.1v2.1h-2.1zM630.1 68.8h3.6v2.1h-3.6zM537.1 70.2h2.1v2.1h-2.1zM609.1 70.2h2.1v2.1h-2.1zM630.1 70.2h3.6v2.1h-3.6zM537.1 71.8h3.6v2.1h-3.6zM567.1 71.8h2.1v2.1h-2.1zM609.1 71.8h2.1v2.1h-2.1zM630.1 71.8h3.6v2.1h-3.6zM538.6 73.2h2.1v2.1h-2.1zM609.1 73.2h2.1v2.1h-2.1zM630.1 73.2h3.6v2.1h-3.6zM538.6 74.8h2.1v2.1h-2.1zM565.6 74.8h2.1v2.1h-2.1zM609.1 74.8h2.1v2.1h-2.1zM630.1 74.8h3.6v2.1h-3.6zM538.6 76.2h2.1v2.1h-2.1zM564.1 76.2h2.1v2.1h-2.1zM609.1 76.2h2.1v2.1h-2.1zM630.1 76.2h2.1v2.1h-2.1zM538.6 77.8h2.1v2.1h-2.1zM609.1 77.8h2.1v2.1h-2.1zM630.1 77.8h2.1v2.1h-2.1zM540.1 79.2h2.1v2.1h-2.1zM609.1 79.2h2.1v2.1h-2.1zM628.6 79.2h3.6v2.1h-3.6zM540.1 80.8h2.1v2.1h-2.1zM559.6 80.8h2.1v2.1h-2.1zM609.1 80.8h2.1v2.1h-2.1zM628.6 80.8h3.6v2.1h-3.6zM541.6 82.2h2.1v2.1h-2.1zM558.1 82.2h2.1v2.1h-2.1zM628.6 82.2h2.1v2.1h-2.1zM541.6 83.8h2.1v2.1h-2.1zM556.6 83.8h2.1v2.1h-2.1zM628.6 83.8h2.1v2.1h-2.1zM543.1 85.2h2.1v2.1h-2.1zM553.6 85.2h3.6v2.1h-3.6zM627.1 85.2h3.6v2.1h-3.6zM543.1 86.8h3.6v2.1h-3.6zM550.6 86.8h3.6v2.1h-3.6zM610.6 86.8h2.1v2.1h-2.1zM627.1 86.8h2.1v2.1h-2.1zM544.6 88.2h8.1v2.1h-8.1zM610.6 88.2h2.1v2.1h-2.1zM625.6 88.2h3.6v2.1h-3.6zM610.6 89.8h2.1v2.1h-2.1zM625.6 89.8h2.1v2.1h-2.1zM612.1 91.2h2.1v2.1h-2.1zM624.1 91.2h3.6v2.1h-3.6zM612.1 92.8h3.6v2.1h-3.6zM622.6 92.8h3.6v2.1h-3.6zM613.6 94.2h11.1v2.1h-11.1zM616.6 95.8h5.1v2.1h-5.1z"/>
<path fill="#f3a481" d="M559.6 46.2h8.1v2.1h-8.1zM553.6 47.8h6.6v2.1h-6.6zM568.6 47.8h3.6v2.1h-3.6zM550.6 49.2h5.1v2.1h-5.1zM570.1 49.2h3.6v2.1h-3.6zM547.6 50.8h5.1v2.1h-5.1zM571.6 50.8h2.1v2.1h-2.1zM546.1 52.2h5.1v2.1h-5.1zM543.1 53.8h5.1v2.1h-5.1zM573.1 53.8h2.1v2.1h-2.1zM613.6 53.8h6.6v2.1h-6.6zM541.6 55.2h5.1v2.1h-5.1zM612.1 55.2h11.1v2.1h-11.1zM540.1 56.8h5.1v2.1h-5.1zM612.1 56.8h5.1v2.1h-5.1zM618.1 56.8h6.6v2.1h-6.6zM540.1 58.2h3.6v2.1h-3.6zM610.6 58.2h3.6v2.1h-3.6zM621.1 58.2h5.1v2.1h-5.1zM540.1 59.8h3.6v2.1h-3.6zM571.6 59.8h2.1v2.1h-2.1zM610.6 59.8h3.6v2.1h-3.6zM622.6 59.8h5.1v2.1h-5.1zM538.6 61.2h3.6v2.1h-3.6zM610.6 61.2h2.1v2.1h-2.1zM624.1 61.2h5.1v2.1h-5.1zM538.6 62.8h3.6v2.1h-3.6zM610.6 62.8h2.1v2.1h-2.1zM625.6 62.8h3.6v2.1h-3.6zM538.6 64.2h3.6v2.1h-3.6zM570.1 64.2h2.1v2.1h-2.1zM610.6 64.2h2.1v2.1h-2.1zM627.1 64.2h3.6v2.1h-3.6zM538.6 65.8h3.6v2.1h-3.6zM610.6 65.8h2.1v2.1h-2.1zM627.1 65.8h3.6v2.1h-3.6zM538.6 67.2h2.1v2.1h-2.1zM568.6 67.2h2.1v2.1h-2.1zM610.6 67.2h2.1v2.1h-2.1zM627.1 67.2h3.6v2.1h-3.6zM538.6 68.8h2.1v2.1h-2.1zM610.6 68.8h2.1v2.1h-2.1zM628.6 68.8h2.1v2.1h-2.1zM538.6 70.2h2.1v2.1h-2.1zM567.1 70.2h2.1v2.1h-2.1zM610.6 70.2h2.1v2.1h-2.1zM628.6 70.2h2.1v2.1h-2.1zM540.1 71.8h2.1v2.1h-2.1zM610.6 71.8h2.1v2.1h-2.1zM628.6 71.8h2.1v2.1h-2.1zM540.1 73.2h2.1v2.1h-2.1zM565.6 73.2h2.1v2.1h-2.1zM610.6 73.2h2.1v2.1h-2.1zM628.6 73.2h2.1v2.1h-2.1zM540.1 74.8h2.1v2.1h-2.1zM564.1 74.8h2.1v2.1h-2.1zM610.6 74.8h2.1v2.1h-2.1zM628.6 74.8h2.1v2.1h-2.1zM540.1 76.2h2.1v2.1h-2.1zM610.6 76.2h2.1v2.1h-2.1zM627.1 76.2h3.6v2.1h-3.6zM540.1 77.8h3.6v2.1h-3.6zM562.6 77.8h2.1v2.1h-2.1zM610.6 77.8h2.1v2.1h-2.1zM627.1 77.8h3.6v2.1h-3.6zM541.6 79.2h2.1v2.1h-2.1zM561.1 79.2h2.1v2.1h-2.1zM610.6 79.2h2.1v2.1h-2.1zM627.1 79.2h2.1v2.1h-2.1zM541.6 80.8h2.1v2.1h-2.1zM558.1 80.8h2.1v2.1h-2.1zM610.6 80.8h2.1v2.1h-2.1zM627.1 80.8h2.1v2.1h-2.1zM543.1 82.2h2.1v2.1h-2.1zM556.6 82.2h2.1v2.1h-2.1zM610.6 82.2h2.1v2.1h-2.1zM625.6 82.2h3.6v2.1h-3.6zM543.1 83.8h3.6v2.1h-3.6zM553.6 83.8h3.6v2.1h-3.6zM610.6 83.8h2.1v2.1h-2.1zM625.6 83.8h3.6v2.1h-3.6zM544.6 85.2h9.6v2.1h-9.6zM610.6 85.2h2.1v2.1h-2.1zM625.6 85.2h2.1v2.1h-2.1zM546.1 86.8h5.1v2.1h-5.1zM624.1 86.8h3.6v2.1h-3.6zM612.1 88.2h2.1v2.1h-2.1zM624.1 88.2h2.1v2.1h-2.1zM612.1 89.8h2.1v2.1h-2.1zM622.6 89.8h3.6v2.1h-3.6zM613.6 91.2h3.6v2.1h-3.6zM621.1 91.2h3.6v2.1h-3.6zM615.1 92.8h8.1v2.1h-8.1z"/>
<path fill="#ec9374" d="M559.6 47.8h9.6v2.1h-9.6zM555.1 49.2h5.1v2.1h-5.1zM568.6 49.2h2.1v2.1h-2.1zM552.1 50.8h5.1v2.1h-5.1zM570.1 50.8h2.1v2.1h-2.1zM550.6 52.2h3.6v2.1h-3.6zM571.6 52.2h2.1v2.1h-2.1zM547.6 53.8h5.1v2.1h-5.1zM571.6 53.8h2.1v2.1h-2.1zM546.1 55.2h3.6v2.1h-3.6zM571.6 55.2h2.1v2.1h-2.1zM544.6 56.8h3.6v2.1h-3.6zM571.6 56.8h2.1v2.1h-2.1zM616.6 56.8h2.1v2.1h-2.1zM543.1 58.2h3.6v2.1h-3.6zM571.6 58.2h2.1v2.1h-2.1zM613.6 58.2h8.1v2.1h-8.1zM543.1 59.8h2.1v2.1h-2.1zM613.6 59.8h9.6v2.1h-9.6zM541.6 61.2h3.6v2.1h-3.6zM570.1 61.2h2.1v2.1h-2.1zM612.1 61.2h3.6v2.1h-3.6zM621.1 61.2h3.6v2.1h-3.6zM541.6 62.8h2.1v2.1h-2.1zM570.1 62.8h2.1v2.1h-2.1zM612.1 62.8h3.6v2.1h-3.6zM622.6 62.8h3.6v2.1h-3.6zM541.6 64.2h2.1v2.1h-2.1zM568.6 64.2h2.1v2.1h-2.1zM612.1 64.2h2.1v2.1h-2.1zM624.1 64.2h3.6v2.1h-3.6zM541.6 65.8h2.1v2.1h-2.1zM568.6 65.8h2.1v2.1h-2.1zM612.1 65.8h2.1v2.1h-2.1zM624.1 65.8h3.6v2.1h-3.6zM540.1 67.2h3.6v2.1h-3.6zM612.1 67.2h2.1v2.1h-2.1zM625.6 67.2h2.1v2.1h-2.1zM540.1 68.8h3.6v2.1h-3.6zM567.1 68.8h2.1v2.1h-2.1zM612.1 68.8h2.1v2.1h-2.1zM625.6 68.8h3.6v2.1h-3.6zM540.1 70.2h3.6v2.1h-3.6zM565.6 70.2h2.1v2.1h-2.1zM612.1 70.2h2.1v2.1h-2.1zM625.6 70.2h3.6v2.1h-3.6zM541.6 71.8h2.1v2.1h-2.1zM565.6 71.8h2.1v2.1h-2.1zM612.1 71.8h2.1v2.1h-2.1zM625.6 71.8h3.6v2.1h-3.6zM541.6 73.2h2.1v2.1h-2.1zM564.1 73.2h2.1v2.1h-2.1zM612.1 73.2h2.1v2.1h-2.1zM625.6 73.2h3.6v2.1h-3.6zM541.6 74.8h2.1v2.1h-2.1zM562.6 74.8h2.1v2.1h-2.1zM612.1 74.8h2.1v2.1h-2.1zM625.6 74.8h3.6v2.1h-3.6zM541.6 76.2h2.1v2.1h-2.1zM562.6 76.2h2.1v2.1h-2.1zM612.1 76.2h2.1v2.1h-2.1zM625.6 76.2h2.1v2.1h-2.1zM543.1 77.8h2.1v2.1h-2.1zM561.1 77.8h2.1v2.1h-2.1zM612.1 77.8h2.1v2.1h-2.1zM625.6 77.8h2.1v2.1h-2.1zM543.1 79.2h2.1v2.1h-2.1zM558.1 79.2h3.6v2.1h-3.6zM612.1 79.2h2.1v2.1h-2.1zM625.6 79.2h2.1v2.1h-2.1zM543.1 80.8h3.6v2.1h-3.6zM556.6 80.8h2.1v2.1h-2.1zM612.1 80.8h2.1v2.1h-2.1zM624.1 80.8h3.6v2.1h-3.6zM544.6 82.2h3.6v2.1h-3.6zM553.6 82.2h3.6v2.1h-3.6zM612.1 82.2h2.1v2.1h-2.1zM624.1 82.2h2.1v2.1h-2.1zM546.1 83.8h8.1v2.1h-8.1zM612.1 83.8h2.1v2.1h-2.1zM624.1 83.8h2.1v2.1h-2.1zM612.1 85.2h2.1v2.1h-2.1zM622.6 85.2h3.6v2.1h-3.6zM612.1 86.8h3.6v2.1h-3.6zM622.6 86.8h2.1v2.1h-2.1zM613.6 88.2h2.1v2.1h-2.1zM621.1 88.2h3.6v2.1h-3.6zM613.6 89.8h9.6v2.1h-9.6zM616.6 91.2h5.1v2.1h-5.1z"/>
<path fill="#e6866a" d="M559.6 49.2h9.6v2.1h-9.6zM556.6 50.8h3.6v2.1h-3.6zM568.6 50.8h2.1v2.1h-2.1zM553.6 52.2h3.6v2.1h-3.6zM570.1 52.2h2.1v2.1h-2.1zM552.1 53.8h3.6v2.1h-3.6zM570.1 53.8h2.1v2.1h-2.1zM549.1 55.2h3.6v2.1h-3.6zM547.6 56.8h3.6v2.1h-3.6zM546.1 58.2h3.6v2.1h-3.6zM570.1 58.2h2.1v2.1h-2.1zM544.6 59.8h3.6v2.1h-3.6zM570.1 59.8h2.1v2.1h-2.1zM544.6 61.2h2.1v2.1h-2.1zM615.1 61.2h6.6v2.1h-6.6zM543.1 62.8h3.6v2.1h-3.6zM568.6 62.8h2.1v2.1h-2.1zM615.1 62.8h8.1v2.1h-8.1zM543.1 64.2h2.1v2.1h-2.1zM613.6 64.2h11.1v2.1h-11.1zM543.1 65.8h2.1v2.1h-2.1zM567.1 65.8h2.1v2.1h-2.1zM613.6 65.8h3.6v2.1h-3.6zM621.1 65.8h3.6v2.1h-3.6zM543.1 67.2h2.1v2.1h-2.1zM567.1 67.2h2.1v2.1h-2.1zM613.6 67.2h2.1v2.1h-2.1zM622.6 67.2h3.6v2.1h-3.6zM543.1 68.8h2.1v2.1h-2.1zM565.6 68.8h2.1v2.1h-2.1zM613.6 68.8h2.1v2.1h-2.1zM622.6 68.8h3.6v2.1h-3.6zM543.1 70.2h2.1v2.1h-2.1zM613.6 70.2h2.1v2.1h-2.1zM622.6 70.2h3.6v2.1h-3.6zM543.1 71.8h2.1v2.1h-2.1zM564.1 71.8h2.1v2.1h-2.1zM613.6 71.8h2.1v2.1h-2.1zM622.6 71.8h3.6v2.1h-3.6zM543.1 73.2h2.1v2.1h-2.1zM562.6 73.2h2.1v2.1h-2.1zM613.6 73.2h2.1v2.1h-2.1zM622.6 73.2h3.6v2.1h-3.6zM543.1 74.8h2.1v2.1h-2.1zM561.1 74.8h2.1v2.1h-2.1zM613.6 74.8h2.1v2.1h-2.1zM622.6 74.8h3.6v2.1h-3.6zM543.1 76.2h3.6v2.1h-3.6zM559.6 76.2h3.6v2.1h-3.6zM613.6 76.2h2.1v2.1h-2.1zM622.6 76.2h3.6v2.1h-3.6zM544.6 77.8h2.1v2.1h-2.1zM558.1 77.8h3.6v2.1h-3.6zM613.6 77.8h2.1v2.1h-2.1zM622.6 77.8h3.6v2.1h-3.6zM544.6 79.2h3.6v2.1h-3.6zM556.6 79.2h2.1v2.1h-2.1zM613.6 79.2h2.1v2.1h-2.1zM622.6 79.2h3.6v2.1h-3.6zM546.1 80.8h5.1v2.1h-5.1zM552.1 80.8h5.1v2.1h-5.1zM613.6 80.8h2.1v2.1h-2.1zM622.6 80.8h2.1v2.1h-2.1zM547.6 82.2h6.6v2.1h-6.6zM613.6 82.2h2.1v2.1h-2.1zM621.1 82.2h3.6v2.1h-3.6zM613.6 83.8h2.1v2.1h-2.1zM621.1 83.8h3.6v2.1h-3.6zM613.6 85.2h3.6v2.1h-3.6zM619.6 85.2h3.6v2.1h-3.6zM615.1 86.8h8.1v2.1h-8.1zM615.1 88.2h6.6v2.1h-6.6z"/>
<path fill="#df765e" d="M559.6 50.8h9.6v2.1h-9.6zM556.6 52.2h3.6v2.1h-3.6zM568.6 52.2h2.1v2.1h-2.1zM555.1 53.8h2.1v2.1h-2.1zM568.6 53.8h2.1v2.1h-2.1zM552.1 55.2h3.6v2.1h-3.6zM570.1 55.2h2.1v2.1h-2.1zM550.6 56.8h3.6v2.1h-3.6zM570.1 56.8h2.1v2.1h-2.1zM549.1 58.2h3.6v2.1h-3.6zM547.6 59.8h3.6v2.1h-3.6zM568.6 59.8h2.1v2.1h-2.1zM546.1 61.2h3.6v2.1h-3.6zM568.6 61.2h2.1v2.1h-2.1zM546.1 62.8h2.1v2.1h-2.1zM544.6 64.2h3.6v2.1h-3.6zM567.1 64.2h2.1v2.1h-2.1zM544.6 65.8h2.1v2.1h-2.1zM616.6 65.8h5.1v2.1h-5.1zM544.6 67.2h2.1v2.1h-2.1zM565.6 67.2h2.1v2.1h-2.1zM615.1 67.2h8.1v2.1h-8.1zM544.6 68.8h2.1v2.1h-2.1zM564.1 68.8h2.1v2.1h-2.1zM615.1 68.8h8.1v2.1h-8.1zM544.6 70.2h2.1v2.1h-2.1zM564.1 70.2h2.1v2.1h-2.1zM615.1 70.2h8.1v2.1h-8.1zM544.6 71.8h2.1v2.1h-2.1zM562.6 71.8h2.1v2.1h-2.1zM615.1 71.8h8.1v2.1h-8.1zM544.6 73.2h2.1v2.1h-2.1zM561.1 73.2h2.1v2.1h-2.1zM615.1 73.2h8.1v2.1h-8.1zM544.6 74.8h3.6v2.1h-3.6zM559.6 74.8h2.1v2.1h-2.1zM615.1 74.8h8.1v2.1h-8.1zM546.1 76.2h2.1v2.1h-2.1zM558.1 76.2h2.1v2.1h-2.1zM615.1 76.2h8.1v2.1h-8.1zM546.1 77.8h3.6v2.1h-3.6zM555.1 77.8h3.6v2.1h-3.6zM615.1 77.8h8.1v2.1h-8.1zM547.6 79.2h9.6v2.1h-9.6zM615.1 79.2h8.1v2.1h-8.1zM550.6 80.8h2.1v2.1h-2.1zM615.1 80.8h8.1v2.1h-8.1zM615.1 82.2h6.6v2.1h-6.6zM615.1 83.8h6.6v2.1h-6.6zM616.6 85.2h3.6v2.1h-3.6z"/>
<path fill="#da6853" d="M559.6 52.2h9.6v2.1h-9.6zM556.6 53.8h3.6v2.1h-3.6zM567.1 53.8h2.1v2.1h-2.1zM555.1 55.2h3.6v2.1h-3.6zM568.6 55.2h2.1v2.1h-2.1zM553.6 56.8h3.6v2.1h-3.6zM568.6 56.8h2.1v2.1h-2.1zM552.1 58.2h2.1v2.1h-2.1zM568.6 58.2h2.1v2.1h-2.1zM550.6 59.8h2.1v2.1h-2.1zM549.1 61.2h2.1v2.1h-2.1zM567.1 61.2h2.1v2.1h-2.1zM547.6 62.8h3.6v2.1h-3.6zM567.1 62.8h2.1v2.1h-2.1zM547.6 64.2h2.1v2.1h-2.1zM565.6 64.2h2.1v2.1h-2.1zM546.1 65.8h2.1v2.1h-2.1zM565.6 65.8h2.1v2.1h-2.1zM546.1 67.2h2.1v2.1h-2.1zM564.1 67.2h2.1v2.1h-2.1zM546.1 68.8h2.1v2.1h-2.1zM562.6 68.8h2.1v2.1h-2.1zM546.1 70.2h2.1v2.1h-2.1zM562.6 70.2h2.1v2.1h-2.1zM546.1 71.8h2.1v2.1h-2.1zM561.1 71.8h2.1v2.1h-2.1zM546.1 73.2h3.6v2.1h-3.6zM559.6 73.2h2.1v2.1h-2.1zM547.6 74.8h2.1v2.1h-2.1zM558.1 74.8h2.1v2.1h-2.1zM547.6 76.2h11.1v2.1h-11.1zM549.1 77.8h6.6v2.1h-6.6z"/>
<path fill="#d35a4a" d="M559.6 53.8h8.1v2.1h-8.1zM558.1 55.2h3.6v2.1h-3.6zM565.6 55.2h3.6v2.1h-3.6zM556.6 56.8h2.1v2.1h-2.1zM567.1 56.8h2.1v2.1h-2.1zM553.6 58.2h3.6v2.1h-3.6zM567.1 58.2h2.1v2.1h-2.1zM552.1 59.8h3.6v2.1h-3.6zM567.1 59.8h2.1v2.1h-2.1zM550.6 61.2h3.6v2.1h-3.6zM565.6 61.2h2.1v2.1h-2.1zM550.6 62.8h2.1v2.1h-2.1zM565.6 62.8h2.1v2.1h-2.1zM549.1 64.2h3.6v2.1h-3.6zM564.1 64.2h2.1v2.1h-2.1zM547.6 65.8h3.6v2.1h-3.6zM562.6 65.8h3.6v2.1h-3.6zM547.6 67.2h3.6v2.1h-3.6zM562.6 67.2h2.1v2.1h-2.1zM547.6 68.8h3.6v2.1h-3.6zM561.1 68.8h2.1v2.1h-2.1zM547.6 70.2h3.6v2.1h-3.6zM559.6 70.2h3.6v2.1h-3.6zM547.6 71.8h3.6v2.1h-3.6zM558.1 71.8h3.6v2.1h-3.6zM549.1 73.2h3.6v2.1h-3.6zM555.1 73.2h5.1v2.1h-5.1zM549.1 74.8h9.6v2.1h-9.6z"/>
<path fill="#cb4942" d="M561.1 55.2h5.1v2.1h-5.1zM558.1 56.8h9.6v2.1h-9.6zM556.6 58.2h5.1v2.1h-5.1zM564.1 58.2h3.6v2.1h-3.6zM555.1 59.8h5.1v2.1h-5.1zM564.1 59.8h3.6v2.1h-3.6zM553.6 61.2h5.1v2.1h-5.1zM562.6 61.2h3.6v2.1h-3.6zM552.1 62.8h5.1v2.1h-5.1zM562.6 62.8h3.6v2.1h-3.6zM552.1 64.2h3.6v2.1h-3.6zM561.1 64.2h3.6v2.1h-3.6zM550.6 65.8h3.6v2.1h-3.6zM561.1 65.8h2.1v2.1h-2.1zM550.6 67.2h3.6v2.1h-3.6zM559.6 67.2h3.6v2.1h-3.6zM550.6 68.8h3.6v2.1h-3.6zM558.1 68.8h3.6v2.1h-3.6zM550.6 70.2h9.6v2.1h-9.6zM550.6 71.8h8.1v2.1h-8.1zM552.1 73.2h3.6v2.1h-3.6z"/>
<path fill="#c43b3c" d="M561.1 58.2h3.6v2.1h-3.6zM559.6 59.8h5.1v2.1h-5.1zM558.1 61.2h5.1v2.1h-5.1zM556.6 62.8h6.6v2.1h-6.6zM555.1 64.2h6.6v2.1h-6.6zM553.6 65.8h8.1v2.1h-8.1zM553.6 67.2h6.6v2.1h-6.6zM553.6 68.8h5.1v2.1h-5.1z"/>
</g>
<g fill="none" stroke="#1a1a1a" stroke-width="0.55" stroke-opacity="0.85">
<path d="M582.5,99.5 L584.1,98.0 L585.1,96.5 L585.8,95.0 L585.9,92.0 L584.7,90.5 L582.8,90.0 L581.1,90.5 L579.3,92.0 L578.3,93.5 L577.4,96.5 L577.6,99.5 L579.8,100.8 L582.5,99.5"/>
<path d="M569.4,155.0 L569.5,152.0 L570.4,149.0 L571.2,147.5 L572.3,145.8 L573.8,143.6 L575.1,141.5 L576.0,140.0 L576.9,138.5 L578.3,135.6 L579.0,134.0 L579.8,131.8 L580.6,129.5 L581.3,127.4 L582.1,125.0 L582.8,123.4 L584.2,120.5 L585.0,119.0 L585.9,117.5 L587.3,115.3 L588.8,113.0 L589.7,111.5 L590.6,110.0 L591.8,107.6 L592.7,105.5 L593.3,104.0 L594.4,101.0 L594.9,99.5 L595.5,96.5 L595.7,93.5 L595.6,90.5 L594.9,87.5 L594.4,86.0 L593.3,84.0 L591.8,82.1 L590.3,80.8 L588.8,79.9 L585.8,79.1 L582.8,79.6 L581.3,80.4 L579.6,81.5 L577.8,83.0 L576.2,84.5 L574.8,86.0 L573.5,87.5 L572.3,89.1 L570.8,91.2 L569.3,93.5 L568.3,95.0 L567.2,96.5 L566.2,98.0 L564.8,99.8 L563.3,101.8 L561.8,103.7 L560.3,105.5 L559.2,107.0 L558.1,108.5 L557.0,110.0 L555.8,111.7 L554.3,113.9 L552.8,116.0 L551.7,117.5 L550.6,119.0 L549.3,120.5 L547.8,122.0 L546.2,123.5 L544.5,125.0 L542.8,126.5 L541.4,128.0 L540.2,129.5 L539.3,131.0 L537.8,133.8 L537.0,135.5 L536.3,137.0 L534.8,140.0 L533.9,141.5 L532.8,143.0 L530.8,144.5 L528.8,145.1 L525.8,144.8"/>
<path d="M644.3,144.6 L641.3,144.6 L638.3,145.0 L635.3,145.6 L633.1,146.0 L630.8,146.2 L629.3,146.0 L626.5,144.5 L625.1,143.0 L624.1,141.5 L623.1,140.0 L621.8,138.3 L620.3,136.8 L618.6,135.5 L615.9,134.0 L614.3,133.2 L612.8,132.4 L610.6,131.0 L608.7,129.5 L607.4,128.0 L606.5,126.5 L605.7,123.5 L606.0,120.5 L606.5,117.5 L606.7,114.5 L606.3,111.5 L605.6,108.5 L605.2,107.0 L604.4,104.0 L603.8,101.4 L603.4,99.5 L602.8,96.5 L602.3,93.5 L602.1,92.0 L601.8,89.0 L601.6,86.0 L601.3,83.0 L600.9,80.0 L600.6,78.5 L600.0,75.5 L599.4,72.5 L599.0,71.0 L598.2,68.0 L597.8,66.3 L596.9,63.5 L596.3,62.0 L594.8,59.2 L593.4,57.5 L591.8,56.4 L590.3,55.9 L587.3,56.0 L585.8,56.7 L584.3,57.9 L582.8,59.7 L581.4,62.0 L580.7,63.5 L579.8,65.5 L578.9,68.0 L578.3,69.5 L577.2,72.5 L576.5,74.0 L575.3,76.4 L574.0,78.5 L573.0,80.0 L571.8,81.5 L570.7,83.0 L569.3,84.7 L567.8,86.5 L566.3,88.2 L564.8,89.9 L563.3,91.6 L561.8,93.2 L560.3,94.8 L558.8,96.4 L557.3,98.0 L555.9,99.5 L554.6,101.0 L553.3,102.5 L551.9,104.0 L550.5,105.5 L548.8,107.0 L546.8,108.3 L545.3,108.8 L542.3,108.6 L540.8,107.6 L539.3,106.1 L537.8,104.0 L537.0,102.5 L536.2,101.0 L534.8,98.0 L534.1,96.5 L533.2,95.0 L531.8,93.2 L529.4,92.0 L527.3,91.9 L525.8,92.2"/>
<path d="M588.3,36.5 L589.7,38.0 L588.8,40.5 L587.3,41.4 L585.2,42.5 L582.8,43.7 L581.3,44.8 L579.8,46.6 L579.0,48.5 L578.3,50.9 L577.8,53.0 L577.1,56.0 L576.7,57.5 L575.8,60.5 L575.3,62.0 L574.2,65.0 L573.6,66.5 L572.4,69.5 L571.8,71.0 L570.8,73.1 L569.6,75.5 L568.7,77.0 L567.7,78.5 L566.3,80.2 L564.8,82.0 L563.3,83.5 L561.8,85.0 L560.3,86.3 L558.8,87.6 L557.2,89.0 L555.4,90.5 L553.6,92.0 L551.8,93.5 L549.8,95.0 L548.3,95.8 L545.3,96.1 L543.6,95.0 L542.3,93.4 L540.8,90.8 L539.9,89.0 L539.2,87.5 L537.8,84.7 L536.9,83.0 L536.0,81.5 L534.8,79.5 L533.3,77.3 L531.9,75.5 L530.3,74.1 L528.8,73.6 L526.2,74.0"/>
<path d="M644.3,84.6 L641.3,84.7 L639.3,86.0 L637.9,87.5 L636.7,89.0 L635.3,91.0 L633.8,93.2 L632.5,95.0 L631.3,96.5 L629.9,98.0 L628.2,99.5 L626.3,100.8 L624.8,101.5 L621.8,102.4 L618.8,102.4 L615.8,101.6 L614.3,100.7 L612.8,99.5 L611.3,97.8 L609.8,95.5 L608.9,93.5 L608.3,91.7 L607.7,89.0 L607.4,86.0 L607.2,83.0 L607.1,80.0 L607.0,77.0 L606.8,75.2 L606.5,72.5 L606.1,69.5 L605.7,66.5 L605.3,63.6 L605.1,62.0 L604.6,59.0 L604.2,56.0 L603.8,53.7 L603.4,51.5 L602.6,48.5 L602.0,47.0 L600.8,44.8 L599.3,42.9 L597.8,41.5 L596.3,39.9 L596.2,38.0 L597.1,36.5"/>
<path d="M552.8,81.8 L549.8,82.0 L548.3,81.5 L546.6,80.0 L545.3,77.9 L544.4,75.5 L543.8,72.6 L543.6,71.0 L543.7,68.0 L544.0,66.5 L545.0,63.5 L545.8,62.0 L546.9,60.5 L548.3,59.0 L549.9,57.5 L551.7,56.0 L553.6,54.5 L555.8,53.1 L557.3,52.2 L558.8,51.5 L561.8,50.6 L564.8,50.3 L567.8,50.9 L569.3,51.9 L570.8,54.3 L571.1,56.0 L570.8,59.0 L570.4,60.5 L569.3,63.4 L568.5,65.0 L567.8,66.5 L566.3,69.3 L565.3,71.0 L564.3,72.5 L563.3,74.0 L561.8,75.8 L560.3,77.3 L558.8,78.6 L556.7,80.0 L554.3,81.3 L552.8,81.8"/>
<path d="M620.3,86.1 L617.3,87.2 L615.8,86.0 L614.7,83.0 L614.3,80.9 L614.1,78.5 L614.0,75.5 L614.1,72.5 L614.3,70.1 L614.8,68.0 L615.8,65.6 L617.3,64.5 L620.1,65.0 L621.8,66.5 L622.7,68.0 L623.3,69.5 L623.8,72.5 L623.8,75.5 L623.4,78.5 L623.1,80.0 L622.1,83.0 L621.4,84.5 L620.3,86.1"/>
</g></g>
<g fill="none" stroke="#222" stroke-width="0.9">
<circle cx="585.6" cy="96.3" r="45.2"/>
<path d="M576.14,52.10 L585.60,44.32 L595.06,52.10 M540.67,91.28 L539.50,89.29 L538.77,89.22 L537.70,89.56 L536.61,91.28 L536.78,96.80 L536.15,104.73 L537.51,108.17 L539.50,108.81 L541.39,107.14 M630.53,91.28 L631.70,89.29 L632.43,89.22 L633.50,89.56 L634.59,91.28 L634.42,96.80 L635.05,104.73 L633.69,108.17 L631.70,108.81 L629.81,107.14"/>
</g>
<path fill="none" stroke="#1a1f2a" stroke-width="1.35" stroke-linecap="round" d="M573.7 58.2h.01M580.6 57.4h.01M588.6 57.6h.01M594.9 57.6h.01M563.8 63.4h.01M570.2 63.6h.01M577.5 63.0h.01M584.3 63.8h.01M592.9 64.9h.01M598.5 63.3h.01M607.5 62.4h.01M558.7 69.5h.01M566.3 70.1h.01M574.6 70.9h.01M581.1 70.9h.01M588.2 71.3h.01M595.9 70.9h.01M602.3 70.7h.01M609.3 68.8h.01M617.9 69.7h.01M548.0 77.2h.01M555.1 76.7h.01M563.2 77.3h.01M569.2 76.8h.01M577.4 76.0h.01M585.0 76.2h.01M593.0 77.0h.01M599.7 76.4h.01M606.9 75.3h.01M613.5 77.1h.01M620.1 77.5h.01M552.5 84.4h.01M558.8 83.1h.01M566.2 82.5h.01M574.6 82.9h.01M581.1 82.7h.01M588.0 82.3h.01M596.9 83.2h.01M604.1 83.3h.01M610.1 83.0h.01M617.7 83.3h.01M625.2 83.1h.01M549.1 89.2h.01M554.4 90.0h.01M563.7 88.6h.01M569.8 89.2h.01M576.0 90.3h.01M584.8 89.8h.01M591.6 90.1h.01M599.2 89.6h.01M606.1 88.8h.01M615.5 89.3h.01M622.0 89.7h.01M544.0 96.2h.01M552.4 96.7h.01M559.2 95.7h.01M565.2 96.9h.01M574.5 96.1h.01M581.5 96.8h.01M589.2 96.9h.01M595.5 97.4h.01M602.3 96.9h.01M611.1 96.9h.01M619.6 97.4h.01M624.6 94.8h.01M547.8 103.3h.01M553.9 100.9h.01M562.8 102.6h.01M569.8 102.6h.01M576.7 101.4h.01M584.7 101.8h.01M590.9 103.0h.01M599.6 102.9h.01M606.2 102.1h.01M613.6 101.9h.01M622.0 102.0h.01M551.5 107.9h.01M558.5 109.6h.01M566.2 109.1h.01M573.5 110.0h.01M581.1 107.3h.01M587.9 107.5h.01M593.3 108.6h.01M604.4 109.1h.01M609.8 108.3h.01M619.0 109.2h.01M625.5 109.0h.01M548.2 115.7h.01M554.4 115.9h.01M562.1 116.4h.01M569.0 115.4h.01M577.4 114.4h.01M586.2 116.6h.01M591.8 116.1h.01M599.9 113.4h.01M607.2 115.4h.01M614.5 114.6h.01M621.6 115.3h.01M559.7 122.7h.01M566.8 122.0h.01M573.9 121.7h.01M580.9 122.0h.01M589.7 122.4h.01M595.9 121.5h.01M602.8 123.2h.01M611.1 122.0h.01M617.8 121.0h.01M561.9 129.1h.01M569.4 128.8h.01M578.6 128.1h.01M584.3 128.5h.01M592.2 127.6h.01M600.0 130.0h.01M606.8 128.2h.01M574.5 134.0h.01M580.4 134.4h.01M588.7 134.6h.01M596.1 135.0h.01"/>
<g clip-path="url(#cp2)"><g filter="url(#tb)">
<path fill="#10457e" d="M368.6 220.2h3.6v2.1h-3.6zM368.6 221.8h3.6v2.1h-3.6z"/>
<path fill="#175290" d="M368.6 217.2h3.6v2.1h-3.6zM367.1 218.8h8.1v2.1h-8.1zM367.1 220.2h2.1v2.1h-2.1zM371.6 220.2h3.6v2.1h-3.6zM367.1 221.8h2.1v2.1h-2.1zM371.6 221.8h3.6v2.1h-3.6zM367.1 223.2h8.1v2.1h-8.1zM367.1 224.8h6.6v2.1h-6.6zM368.6 226.2h3.6v2.1h-3.6z"/>
<path fill="#1c5c9f" d="M367.1 215.8h6.6v2.1h-6.6zM367.1 217.2h2.1v2.1h-2.1zM371.6 217.2h3.6v2.1h-3.6zM374.6 218.8h2.1v2.1h-2.1zM374.6 220.2h2.1v2.1h-2.1zM374.6 221.8h2.1v2.1h-2.1zM374.6 223.2h2.1v2.1h-2.1zM373.1 224.8h3.6v2.1h-3.6zM367.1 226.2h2.1v2.1h-2.1zM371.6 226.2h3.6v2.1h-3.6zM367.1 227.8h8.1v2.1h-8.1zM370.1 229.2h2.1v2.1h-2.1z"/>
<path fill="#2369ad" d="M431.6 209.8h2.1v2.1h-2.1zM431.6 211.2h3.6v2.1h-3.6zM431.6 212.8h3.6v2.1h-3.6zM368.6 214.2h3.6v2.1h-3.6zM430.1 214.2h5.1v2.1h-5.1zM373.1 215.8h2.1v2.1h-2.1zM430.1 215.8h3.6v2.1h-3.6zM374.6 217.2h2.1v2.1h-2.1zM430.1 217.2h3.6v2.1h-3.6zM376.1 218.8h2.1v2.1h-2.1zM431.6 218.8h2.1v2.1h-2.1zM376.1 220.2h2.1v2.1h-2.1zM376.1 221.8h2.1v2.1h-2.1zM376.1 223.2h2.1v2.1h-2.1zM376.1 224.8h2.1v2.1h-2.1zM374.6 226.2h2.1v2.1h-2.1zM374.6 227.8h2.1v2.1h-2.1zM367.1 229.2h3.6v2.1h-3.6zM371.6 229.2h5.1v2.1h-5.1zM367.1 230.8h8.1v2.1h-8.1zM367.1 232.2h6.6v2.1h-6.6z"/>
<path fill="#2a71b2" d="M431.6 205.2h2.1v2.1h-2.1zM431.6 206.8h3.6v2.1h-3.6zM430.1 208.2h5.1v2.1h-5.1zM430.1 209.8h2.1v2.1h-2.1zM433.1 209.8h2.1v2.1h-2.1zM430.1 211.2h2.1v2.1h-2.1zM434.6 211.2h2.1v2.1h-2.1zM430.1 212.8h2.1v2.1h-2.1zM434.6 212.8h2.1v2.1h-2.1zM367.1 214.2h2.1v2.1h-2.1zM371.6 214.2h5.1v2.1h-5.1zM428.6 214.2h2.1v2.1h-2.1zM374.6 215.8h2.1v2.1h-2.1zM428.6 215.8h2.1v2.1h-2.1zM433.1 215.8h2.1v2.1h-2.1zM376.1 217.2h2.1v2.1h-2.1zM428.6 217.2h2.1v2.1h-2.1zM433.1 217.2h2.1v2.1h-2.1zM428.6 218.8h3.6v2.1h-3.6zM433.1 218.8h2.1v2.1h-2.1zM428.6 220.2h6.6v2.1h-6.6zM377.6 221.8h2.1v2.1h-2.1zM428.6 221.8h6.6v2.1h-6.6zM377.6 223.2h2.1v2.1h-2.1zM428.6 223.2h5.1v2.1h-5.1zM428.6 224.8h5.1v2.1h-5.1zM376.1 226.2h2.1v2.1h-2.1zM428.6 226.2h5.1v2.1h-5.1zM376.1 227.8h2.1v2.1h-2.1zM428.6 227.8h5.1v2.1h-5.1zM376.1 229.2h2.1v2.1h-2.1zM428.6 229.2h5.1v2.1h-5.1zM374.6 230.8h3.6v2.1h-3.6zM428.6 230.8h3.6v2.1h-3.6zM373.1 232.2h3.6v2.1h-3.6zM428.6 232.2h3.6v2.1h-3.6zM367.1 233.8h9.6v2.1h-9.6zM428.6 233.8h3.6v2.1h-3.6zM367.1 235.2h9.6v2.1h-9.6zM367.1 236.8h8.1v2.1h-8.1zM367.1 238.2h8.1v2.1h-8.1zM367.1 239.8h8.1v2.1h-8.1zM367.1 241.2h8.1v2.1h-8.1zM367.1 242.8h8.1v2.1h-8.1zM367.1 244.2h8.1v2.1h-8.1zM367.1 245.8h6.6v2.1h-6.6zM367.1 247.2h6.6v2.1h-6.6zM367.1 248.8h6.6v2.1h-6.6zM437.6 257.8h3.6v2.1h-3.6zM437.6 259.2h3.6v2.1h-3.6zM436.1 260.8h5.1v2.1h-5.1zM436.1 262.2h5.1v2.1h-5.1zM436.1 263.8h5.1v2.1h-5.1zM436.1 265.2h3.6v2.1h-3.6z"/>
<path fill="#327cb7" d="M431.6 203.8h3.6v2.1h-3.6zM430.1 205.2h2.1v2.1h-2.1zM433.1 205.2h2.1v2.1h-2.1zM430.1 206.8h2.1v2.1h-2.1zM434.6 206.8h2.1v2.1h-2.1zM428.6 208.2h2.1v2.1h-2.1zM434.6 208.2h2.1v2.1h-2.1zM428.6 209.8h2.1v2.1h-2.1zM434.6 209.8h2.1v2.1h-2.1zM428.6 211.2h2.1v2.1h-2.1zM367.1 212.8h8.1v2.1h-8.1zM428.6 212.8h2.1v2.1h-2.1zM376.1 214.2h2.1v2.1h-2.1zM434.6 214.2h2.1v2.1h-2.1zM376.1 215.8h2.1v2.1h-2.1zM434.6 215.8h2.1v2.1h-2.1zM377.6 217.2h2.1v2.1h-2.1zM427.1 217.2h2.1v2.1h-2.1zM434.6 217.2h2.1v2.1h-2.1zM377.6 218.8h2.1v2.1h-2.1zM427.1 218.8h2.1v2.1h-2.1zM434.6 218.8h2.1v2.1h-2.1zM377.6 220.2h2.1v2.1h-2.1zM427.1 220.2h2.1v2.1h-2.1zM434.6 220.2h2.1v2.1h-2.1zM427.1 221.8h2.1v2.1h-2.1zM427.1 223.2h2.1v2.1h-2.1zM433.1 223.2h2.1v2.1h-2.1zM377.6 224.8h2.1v2.1h-2.1zM427.1 224.8h2.1v2.1h-2.1zM433.1 224.8h2.1v2.1h-2.1zM377.6 226.2h2.1v2.1h-2.1zM427.1 226.2h2.1v2.1h-2.1zM433.1 226.2h2.1v2.1h-2.1zM377.6 227.8h2.1v2.1h-2.1zM425.6 227.8h3.6v2.1h-3.6zM433.1 227.8h2.1v2.1h-2.1zM377.6 229.2h2.1v2.1h-2.1zM425.6 229.2h3.6v2.1h-3.6zM433.1 229.2h2.1v2.1h-2.1zM377.6 230.8h2.1v2.1h-2.1zM425.6 230.8h3.6v2.1h-3.6zM431.6 230.8h3.6v2.1h-3.6zM376.1 232.2h3.6v2.1h-3.6zM425.6 232.2h3.6v2.1h-3.6zM431.6 232.2h3.6v2.1h-3.6zM376.1 233.8h2.1v2.1h-2.1zM425.6 233.8h3.6v2.1h-3.6zM431.6 233.8h3.6v2.1h-3.6zM376.1 235.2h2.1v2.1h-2.1zM425.6 235.2h9.6v2.1h-9.6zM374.6 236.8h3.6v2.1h-3.6zM425.6 236.8h9.6v2.1h-9.6zM374.6 238.2h3.6v2.1h-3.6zM427.1 238.2h8.1v2.1h-8.1zM374.6 239.8h3.6v2.1h-3.6zM427.1 239.8h8.1v2.1h-8.1zM374.6 241.2h3.6v2.1h-3.6zM427.1 241.2h8.1v2.1h-8.1zM374.6 242.8h5.1v2.1h-5.1zM427.1 242.8h9.6v2.1h-9.6zM374.6 244.2h5.1v2.1h-5.1zM428.6 244.2h8.1v2.1h-8.1zM373.1 245.8h6.6v2.1h-6.6zM428.6 245.8h8.1v2.1h-8.1zM373.1 247.2h6.6v2.1h-6.6zM428.6 247.2h9.6v2.1h-9.6zM373.1 248.8h6.6v2.1h-6.6zM428.6 248.8h11.1v2.1h-11.1zM367.1 250.2h11.1v2.1h-11.1zM428.6 250.2h12.6v2.1h-12.6zM367.1 251.8h11.1v2.1h-11.1zM427.1 251.8h15.6v2.1h-15.6zM367.1 253.2h11.1v2.1h-11.1zM425.6 253.2h17.1v2.1h-17.1zM367.1 254.8h11.1v2.1h-11.1zM419.6 254.8h24.6v2.1h-24.6zM367.1 256.2h11.1v2.1h-11.1zM415.1 256.2h29.1v2.1h-29.1zM367.1 257.8h9.6v2.1h-9.6zM410.6 257.8h27.6v2.1h-27.6zM440.6 257.8h5.1v2.1h-5.1zM367.1 259.2h8.1v2.1h-8.1zM401.6 259.2h36.6v2.1h-36.6zM440.6 259.2h5.1v2.1h-5.1zM398.6 260.8h38.1v2.1h-38.1zM440.6 260.8h5.1v2.1h-5.1zM395.6 262.2h41.1v2.1h-41.1zM440.6 262.2h5.1v2.1h-5.1zM395.6 263.8h41.1v2.1h-41.1zM440.6 263.8h5.1v2.1h-5.1zM394.1 265.2h42.6v2.1h-42.6zM439.1 265.2h6.6v2.1h-6.6zM392.6 266.8h53.1v2.1h-53.1zM391.1 268.2h54.6v2.1h-54.6zM389.6 269.8h56.1v2.1h-56.1zM388.1 271.2h56.1v2.1h-56.1zM388.1 272.8h56.1v2.1h-56.1zM386.6 274.2h57.6v2.1h-57.6zM386.6 275.8h57.6v2.1h-57.6zM386.6 277.2h56.1v2.1h-56.1zM388.1 278.8h53.1v2.1h-53.1zM389.6 280.2h50.1v2.1h-50.1zM392.6 281.8h45.6v2.1h-45.6z"/>
<path fill="#3885bc" d="M431.6 200.8h2.1v2.1h-2.1zM430.1 202.2h5.1v2.1h-5.1zM430.1 203.8h2.1v2.1h-2.1zM434.6 203.8h2.1v2.1h-2.1zM428.6 205.2h2.1v2.1h-2.1zM434.6 205.2h2.1v2.1h-2.1zM428.6 206.8h2.1v2.1h-2.1zM436.1 209.8h2.1v2.1h-2.1zM367.1 211.2h8.1v2.1h-8.1zM427.1 211.2h2.1v2.1h-2.1zM436.1 211.2h2.1v2.1h-2.1zM374.6 212.8h3.6v2.1h-3.6zM427.1 212.8h2.1v2.1h-2.1zM436.1 212.8h2.1v2.1h-2.1zM377.6 214.2h2.1v2.1h-2.1zM427.1 214.2h2.1v2.1h-2.1zM436.1 214.2h2.1v2.1h-2.1zM377.6 215.8h2.1v2.1h-2.1zM427.1 215.8h2.1v2.1h-2.1zM436.1 215.8h2.1v2.1h-2.1zM379.1 220.2h2.1v2.1h-2.1zM425.6 220.2h2.1v2.1h-2.1zM379.1 221.8h2.1v2.1h-2.1zM425.6 221.8h2.1v2.1h-2.1zM434.6 221.8h2.1v2.1h-2.1zM379.1 223.2h2.1v2.1h-2.1zM425.6 223.2h2.1v2.1h-2.1zM434.6 223.2h2.1v2.1h-2.1zM379.1 224.8h2.1v2.1h-2.1zM425.6 224.8h2.1v2.1h-2.1zM434.6 224.8h2.1v2.1h-2.1zM379.1 226.2h2.1v2.1h-2.1zM425.6 226.2h2.1v2.1h-2.1zM434.6 226.2h2.1v2.1h-2.1zM379.1 227.8h2.1v2.1h-2.1zM424.1 227.8h2.1v2.1h-2.1zM434.6 227.8h2.1v2.1h-2.1zM379.1 229.2h2.1v2.1h-2.1zM424.1 229.2h2.1v2.1h-2.1zM434.6 229.2h2.1v2.1h-2.1zM379.1 230.8h2.1v2.1h-2.1zM424.1 230.8h2.1v2.1h-2.1zM379.1 232.2h2.1v2.1h-2.1zM424.1 232.2h2.1v2.1h-2.1zM434.6 232.2h2.1v2.1h-2.1zM377.6 233.8h3.6v2.1h-3.6zM424.1 233.8h2.1v2.1h-2.1zM434.6 233.8h2.1v2.1h-2.1zM377.6 235.2h3.6v2.1h-3.6zM424.1 235.2h2.1v2.1h-2.1zM434.6 235.2h2.1v2.1h-2.1zM377.6 236.8h3.6v2.1h-3.6zM424.1 236.8h2.1v2.1h-2.1zM434.6 236.8h2.1v2.1h-2.1zM377.6 238.2h3.6v2.1h-3.6zM424.1 238.2h3.6v2.1h-3.6zM434.6 238.2h2.1v2.1h-2.1zM377.6 239.8h3.6v2.1h-3.6zM424.1 239.8h3.6v2.1h-3.6zM434.6 239.8h2.1v2.1h-2.1zM377.6 241.2h3.6v2.1h-3.6zM424.1 241.2h3.6v2.1h-3.6zM434.6 241.2h3.6v2.1h-3.6zM379.1 242.8h2.1v2.1h-2.1zM424.1 242.8h3.6v2.1h-3.6zM436.1 242.8h2.1v2.1h-2.1zM379.1 244.2h2.1v2.1h-2.1zM424.1 244.2h5.1v2.1h-5.1zM436.1 244.2h3.6v2.1h-3.6zM379.1 245.8h2.1v2.1h-2.1zM424.1 245.8h5.1v2.1h-5.1zM436.1 245.8h3.6v2.1h-3.6zM379.1 247.2h3.6v2.1h-3.6zM422.6 247.2h6.6v2.1h-6.6zM437.6 247.2h3.6v2.1h-3.6zM379.1 248.8h3.6v2.1h-3.6zM421.1 248.8h8.1v2.1h-8.1zM439.1 248.8h3.6v2.1h-3.6zM377.6 250.2h5.1v2.1h-5.1zM419.6 250.2h9.6v2.1h-9.6zM440.6 250.2h3.6v2.1h-3.6zM377.6 251.8h5.1v2.1h-5.1zM416.6 251.8h11.1v2.1h-11.1zM442.1 251.8h2.1v2.1h-2.1zM377.6 253.2h5.1v2.1h-5.1zM412.1 253.2h14.1v2.1h-14.1zM442.1 253.2h3.6v2.1h-3.6zM377.6 254.8h5.1v2.1h-5.1zM407.6 254.8h12.6v2.1h-12.6zM443.6 254.8h2.1v2.1h-2.1zM377.6 256.2h5.1v2.1h-5.1zM398.6 256.2h17.1v2.1h-17.1zM443.6 256.2h3.6v2.1h-3.6zM376.1 257.8h8.1v2.1h-8.1zM394.1 257.8h17.1v2.1h-17.1zM445.1 257.8h2.1v2.1h-2.1zM374.6 259.2h9.6v2.1h-9.6zM391.1 259.2h11.1v2.1h-11.1zM445.1 259.2h2.1v2.1h-2.1zM367.1 260.8h32.1v2.1h-32.1zM445.1 260.8h2.1v2.1h-2.1zM367.1 262.2h29.1v2.1h-29.1zM445.1 262.2h2.1v2.1h-2.1zM367.1 263.8h29.1v2.1h-29.1zM445.1 263.8h2.1v2.1h-2.1zM367.1 265.2h27.6v2.1h-27.6zM445.1 265.2h3.6v2.1h-3.6zM367.1 266.8h26.1v2.1h-26.1zM445.1 266.8h3.6v2.1h-3.6zM367.1 268.2h24.6v2.1h-24.6zM445.1 268.2h3.6v2.1h-3.6zM367.1 269.8h23.1v2.1h-23.1zM445.1 269.8h3.6v2.1h-3.6zM367.1 271.2h21.6v2.1h-21.6zM443.6 271.2h5.1v2.1h-5.1zM367.1 272.8h21.6v2.1h-21.6zM443.6 272.8h5.1v2.1h-5.1zM367.1 274.2h20.1v2.1h-20.1zM443.6 274.2h5.1v2.1h-5.1zM367.1 275.8h20.1v2.1h-20.1zM443.6 275.8h5.1v2.1h-5.1zM367.1 277.2h20.1v2.1h-20.1zM442.1 277.2h5.1v2.1h-5.1zM367.1 278.8h21.6v2.1h-21.6zM440.6 278.8h6.6v2.1h-6.6zM367.1 280.2h23.1v2.1h-23.1zM439.1 280.2h8.1v2.1h-8.1zM367.1 281.8h26.1v2.1h-26.1zM437.6 281.8h9.6v2.1h-9.6zM367.1 283.2h80.1v2.1h-80.1zM367.1 284.8h80.1v2.1h-80.1zM367.1 286.2h80.1v2.1h-80.1zM367.1 287.8h78.6v2.1h-78.6zM367.1 289.2h78.6v2.1h-78.6zM367.1 290.8h78.6v2.1h-78.6zM367.1 292.2h78.6v2.1h-78.6zM367.1 293.8h78.6v2.1h-78.6zM367.1 295.2h78.6v2.1h-78.6z"/>
<path fill="#408fc1" d="M431.6 199.2h2.1v2.1h-2.1zM430.1 200.8h2.1v2.1h-2.1zM433.1 200.8h2.1v2.1h-2.1zM428.6 202.2h2.1v2.1h-2.1zM434.6 202.2h2.1v2.1h-2.1zM428.6 203.8h2.1v2.1h-2.1zM436.1 205.2h2.1v2.1h-2.1zM427.1 206.8h2.1v2.1h-2.1zM436.1 206.8h2.1v2.1h-2.1zM427.1 208.2h2.1v2.1h-2.1zM436.1 208.2h2.1v2.1h-2.1zM367.1 209.8h6.6v2.1h-6.6zM427.1 209.8h2.1v2.1h-2.1zM374.6 211.2h3.6v2.1h-3.6zM377.6 212.8h2.1v2.1h-2.1zM379.1 215.8h2.1v2.1h-2.1zM425.6 215.8h2.1v2.1h-2.1zM379.1 217.2h2.1v2.1h-2.1zM425.6 217.2h2.1v2.1h-2.1zM436.1 217.2h2.1v2.1h-2.1zM379.1 218.8h2.1v2.1h-2.1zM425.6 218.8h2.1v2.1h-2.1zM436.1 218.8h2.1v2.1h-2.1zM436.1 220.2h2.1v2.1h-2.1zM436.1 221.8h2.1v2.1h-2.1zM424.1 223.2h2.1v2.1h-2.1zM424.1 224.8h2.1v2.1h-2.1zM424.1 226.2h2.1v2.1h-2.1zM422.6 229.2h2.1v2.1h-2.1zM422.6 230.8h2.1v2.1h-2.1zM434.6 230.8h2.1v2.1h-2.1zM422.6 232.2h2.1v2.1h-2.1zM380.6 233.8h2.1v2.1h-2.1zM422.6 233.8h2.1v2.1h-2.1zM380.6 235.2h2.1v2.1h-2.1zM422.6 235.2h2.1v2.1h-2.1zM436.1 235.2h2.1v2.1h-2.1zM380.6 236.8h2.1v2.1h-2.1zM422.6 236.8h2.1v2.1h-2.1zM436.1 236.8h2.1v2.1h-2.1zM380.6 238.2h2.1v2.1h-2.1zM422.6 238.2h2.1v2.1h-2.1zM436.1 238.2h2.1v2.1h-2.1zM380.6 239.8h2.1v2.1h-2.1zM422.6 239.8h2.1v2.1h-2.1zM436.1 239.8h2.1v2.1h-2.1zM380.6 241.2h2.1v2.1h-2.1zM421.1 241.2h3.6v2.1h-3.6zM437.6 241.2h2.1v2.1h-2.1zM380.6 242.8h3.6v2.1h-3.6zM421.1 242.8h3.6v2.1h-3.6zM437.6 242.8h2.1v2.1h-2.1zM380.6 244.2h3.6v2.1h-3.6zM421.1 244.2h3.6v2.1h-3.6zM439.1 244.2h2.1v2.1h-2.1zM380.6 245.8h3.6v2.1h-3.6zM419.6 245.8h5.1v2.1h-5.1zM439.1 245.8h3.6v2.1h-3.6zM382.1 247.2h2.1v2.1h-2.1zM418.1 247.2h5.1v2.1h-5.1zM440.6 247.2h2.1v2.1h-2.1zM382.1 248.8h2.1v2.1h-2.1zM415.1 248.8h6.6v2.1h-6.6zM442.1 248.8h2.1v2.1h-2.1zM382.1 250.2h3.6v2.1h-3.6zM412.1 250.2h8.1v2.1h-8.1zM443.6 250.2h2.1v2.1h-2.1zM382.1 251.8h3.6v2.1h-3.6zM409.1 251.8h8.1v2.1h-8.1zM443.6 251.8h2.1v2.1h-2.1zM382.1 253.2h5.1v2.1h-5.1zM403.1 253.2h9.6v2.1h-9.6zM445.1 253.2h2.1v2.1h-2.1zM382.1 254.8h8.1v2.1h-8.1zM392.6 254.8h15.6v2.1h-15.6zM445.1 254.8h2.1v2.1h-2.1zM382.1 256.2h17.1v2.1h-17.1zM383.6 257.8h11.1v2.1h-11.1zM446.6 257.8h2.1v2.1h-2.1zM383.6 259.2h8.1v2.1h-8.1zM446.6 259.2h2.1v2.1h-2.1zM446.6 260.8h2.1v2.1h-2.1zM446.6 262.2h2.1v2.1h-2.1zM446.6 263.8h3.6v2.1h-3.6zM448.1 265.2h2.1v2.1h-2.1zM448.1 266.8h2.1v2.1h-2.1zM448.1 268.2h2.1v2.1h-2.1zM448.1 269.8h2.1v2.1h-2.1zM448.1 271.2h2.1v2.1h-2.1zM448.1 272.8h2.1v2.1h-2.1zM448.1 274.2h3.6v2.1h-3.6zM448.1 275.8h3.6v2.1h-3.6zM446.6 277.2h5.1v2.1h-5.1zM446.6 278.8h5.1v2.1h-5.1zM446.6 280.2h5.1v2.1h-5.1zM446.6 281.8h5.1v2.1h-5.1zM446.6 283.2h5.1v2.1h-5.1zM446.6 284.8h5.1v2.1h-5.1zM446.6 286.2h6.6v2.1h-6.6zM445.1 287.8h8.1v2.1h-8.1zM445.1 289.2h8.1v2.1h-8.1zM445.1 290.8h8.1v2.1h-8.1zM445.1 292.2h8.1v2.1h-8.1zM445.1 293.8h8.1v2.1h-8.1zM445.1 295.2h8.1v2.1h-8.1z"/>
<path fill="#4c99c6" d="M430.1 197.8h3.6v2.1h-3.6zM430.1 199.2h2.1v2.1h-2.1zM433.1 199.2h2.1v2.1h-2.1zM428.6 200.8h2.1v2.1h-2.1zM434.6 200.8h2.1v2.1h-2.1zM427.1 203.8h2.1v2.1h-2.1zM436.1 203.8h2.1v2.1h-2.1zM427.1 205.2h2.1v2.1h-2.1zM373.1 209.8h5.1v2.1h-5.1zM377.6 211.2h2.1v2.1h-2.1zM425.6 211.2h2.1v2.1h-2.1zM379.1 212.8h2.1v2.1h-2.1zM425.6 212.8h2.1v2.1h-2.1zM379.1 214.2h2.1v2.1h-2.1zM425.6 214.2h2.1v2.1h-2.1zM424.1 218.8h2.1v2.1h-2.1zM380.6 220.2h2.1v2.1h-2.1zM424.1 220.2h2.1v2.1h-2.1zM380.6 221.8h2.1v2.1h-2.1zM424.1 221.8h2.1v2.1h-2.1zM380.6 223.2h2.1v2.1h-2.1zM436.1 223.2h2.1v2.1h-2.1zM380.6 224.8h2.1v2.1h-2.1zM422.6 224.8h2.1v2.1h-2.1zM436.1 224.8h2.1v2.1h-2.1zM380.6 226.2h2.1v2.1h-2.1zM422.6 226.2h2.1v2.1h-2.1zM436.1 226.2h2.1v2.1h-2.1zM380.6 227.8h2.1v2.1h-2.1zM422.6 227.8h2.1v2.1h-2.1zM436.1 227.8h2.1v2.1h-2.1zM380.6 229.2h2.1v2.1h-2.1zM436.1 229.2h2.1v2.1h-2.1zM380.6 230.8h2.1v2.1h-2.1zM421.1 230.8h2.1v2.1h-2.1zM436.1 230.8h2.1v2.1h-2.1zM380.6 232.2h2.1v2.1h-2.1zM421.1 232.2h2.1v2.1h-2.1zM436.1 232.2h2.1v2.1h-2.1zM421.1 233.8h2.1v2.1h-2.1zM436.1 233.8h2.1v2.1h-2.1zM382.1 235.2h2.1v2.1h-2.1zM421.1 235.2h2.1v2.1h-2.1zM382.1 236.8h2.1v2.1h-2.1zM421.1 236.8h2.1v2.1h-2.1zM437.6 236.8h2.1v2.1h-2.1zM382.1 238.2h2.1v2.1h-2.1zM419.6 238.2h3.6v2.1h-3.6zM437.6 238.2h2.1v2.1h-2.1zM382.1 239.8h2.1v2.1h-2.1zM419.6 239.8h3.6v2.1h-3.6zM437.6 239.8h2.1v2.1h-2.1zM382.1 241.2h3.6v2.1h-3.6zM419.6 241.2h2.1v2.1h-2.1zM439.1 241.2h2.1v2.1h-2.1zM383.6 242.8h2.1v2.1h-2.1zM418.1 242.8h3.6v2.1h-3.6zM439.1 242.8h2.1v2.1h-2.1zM383.6 244.2h2.1v2.1h-2.1zM418.1 244.2h3.6v2.1h-3.6zM440.6 244.2h2.1v2.1h-2.1zM383.6 245.8h2.1v2.1h-2.1zM415.1 245.8h5.1v2.1h-5.1zM442.1 245.8h2.1v2.1h-2.1zM383.6 247.2h3.6v2.1h-3.6zM413.6 247.2h5.1v2.1h-5.1zM442.1 247.2h2.1v2.1h-2.1zM383.6 248.8h3.6v2.1h-3.6zM410.6 248.8h5.1v2.1h-5.1zM443.6 248.8h2.1v2.1h-2.1zM385.1 250.2h3.6v2.1h-3.6zM407.6 250.2h5.1v2.1h-5.1zM445.1 250.2h2.1v2.1h-2.1zM385.1 251.8h6.6v2.1h-6.6zM401.6 251.8h8.1v2.1h-8.1zM445.1 251.8h2.1v2.1h-2.1zM386.6 253.2h17.1v2.1h-17.1zM389.6 254.8h3.6v2.1h-3.6zM446.6 254.8h2.1v2.1h-2.1zM446.6 256.2h2.1v2.1h-2.1zM448.1 259.2h2.1v2.1h-2.1zM448.1 260.8h2.1v2.1h-2.1zM448.1 262.2h2.1v2.1h-2.1zM449.6 263.8h2.1v2.1h-2.1zM449.6 265.2h2.1v2.1h-2.1zM449.6 266.8h2.1v2.1h-2.1zM449.6 268.2h2.1v2.1h-2.1zM449.6 269.8h3.6v2.1h-3.6zM449.6 271.2h3.6v2.1h-3.6zM449.6 272.8h3.6v2.1h-3.6zM451.1 274.2h2.1v2.1h-2.1zM451.1 275.8h2.1v2.1h-2.1zM451.1 277.2h3.6v2.1h-3.6zM451.1 278.8h3.6v2.1h-3.6zM451.1 280.2h3.6v2.1h-3.6zM451.1 281.8h3.6v2.1h-3.6zM451.1 283.2h5.1v2.1h-5.1zM451.1 284.8h5.1v2.1h-5.1zM452.6 286.2h5.1v2.1h-5.1zM452.6 287.8h5.1v2.1h-5.1zM452.6 289.2h5.1v2.1h-5.1zM452.6 290.8h6.6v2.1h-6.6zM452.6 292.2h6.6v2.1h-6.6zM452.6 293.8h6.6v2.1h-6.6zM452.6 295.2h6.6v2.1h-6.6z"/>
<path fill="#5ca3cb" d="M430.1 196.2h3.6v2.1h-3.6zM428.6 197.8h2.1v2.1h-2.1zM433.1 197.8h2.1v2.1h-2.1zM428.6 199.2h2.1v2.1h-2.1zM434.6 199.2h2.1v2.1h-2.1zM427.1 200.8h2.1v2.1h-2.1zM427.1 202.2h2.1v2.1h-2.1zM436.1 202.2h2.1v2.1h-2.1zM437.6 206.8h2.1v2.1h-2.1zM367.1 208.2h11.1v2.1h-11.1zM425.6 208.2h2.1v2.1h-2.1zM437.6 208.2h2.1v2.1h-2.1zM377.6 209.8h2.1v2.1h-2.1zM425.6 209.8h2.1v2.1h-2.1zM437.6 209.8h2.1v2.1h-2.1zM379.1 211.2h2.1v2.1h-2.1zM437.6 211.2h2.1v2.1h-2.1zM437.6 212.8h2.1v2.1h-2.1zM437.6 214.2h2.1v2.1h-2.1zM380.6 215.8h2.1v2.1h-2.1zM424.1 215.8h2.1v2.1h-2.1zM437.6 215.8h2.1v2.1h-2.1zM380.6 217.2h2.1v2.1h-2.1zM424.1 217.2h2.1v2.1h-2.1zM437.6 217.2h2.1v2.1h-2.1zM380.6 218.8h2.1v2.1h-2.1zM437.6 218.8h2.1v2.1h-2.1zM437.6 220.2h2.1v2.1h-2.1zM422.6 221.8h2.1v2.1h-2.1zM437.6 221.8h2.1v2.1h-2.1zM422.6 223.2h2.1v2.1h-2.1zM421.1 226.2h2.1v2.1h-2.1zM382.1 227.8h2.1v2.1h-2.1zM421.1 227.8h2.1v2.1h-2.1zM382.1 229.2h2.1v2.1h-2.1zM421.1 229.2h2.1v2.1h-2.1zM382.1 230.8h2.1v2.1h-2.1zM382.1 232.2h2.1v2.1h-2.1zM419.6 232.2h2.1v2.1h-2.1zM382.1 233.8h2.1v2.1h-2.1zM419.6 233.8h2.1v2.1h-2.1zM437.6 233.8h2.1v2.1h-2.1zM419.6 235.2h2.1v2.1h-2.1zM437.6 235.2h2.1v2.1h-2.1zM383.6 236.8h2.1v2.1h-2.1zM419.6 236.8h2.1v2.1h-2.1zM383.6 238.2h2.1v2.1h-2.1zM418.1 238.2h2.1v2.1h-2.1zM439.1 238.2h2.1v2.1h-2.1zM383.6 239.8h2.1v2.1h-2.1zM418.1 239.8h2.1v2.1h-2.1zM439.1 239.8h2.1v2.1h-2.1zM385.1 241.2h2.1v2.1h-2.1zM416.6 241.2h3.6v2.1h-3.6zM440.6 241.2h2.1v2.1h-2.1zM385.1 242.8h2.1v2.1h-2.1zM416.6 242.8h2.1v2.1h-2.1zM440.6 242.8h2.1v2.1h-2.1zM385.1 244.2h2.1v2.1h-2.1zM413.6 244.2h5.1v2.1h-5.1zM442.1 244.2h2.1v2.1h-2.1zM385.1 245.8h3.6v2.1h-3.6zM412.1 245.8h3.6v2.1h-3.6zM443.6 245.8h2.1v2.1h-2.1zM386.6 247.2h2.1v2.1h-2.1zM409.1 247.2h5.1v2.1h-5.1zM443.6 247.2h2.1v2.1h-2.1zM386.6 248.8h3.6v2.1h-3.6zM406.1 248.8h5.1v2.1h-5.1zM445.1 248.8h2.1v2.1h-2.1zM388.1 250.2h6.6v2.1h-6.6zM401.6 250.2h6.6v2.1h-6.6zM391.1 251.8h11.1v2.1h-11.1zM446.6 251.8h2.1v2.1h-2.1zM446.6 253.2h2.1v2.1h-2.1zM448.1 254.8h2.1v2.1h-2.1zM448.1 256.2h2.1v2.1h-2.1zM448.1 257.8h2.1v2.1h-2.1zM449.6 259.2h2.1v2.1h-2.1zM449.6 260.8h2.1v2.1h-2.1zM449.6 262.2h2.1v2.1h-2.1zM451.1 263.8h2.1v2.1h-2.1zM451.1 265.2h2.1v2.1h-2.1zM451.1 266.8h2.1v2.1h-2.1zM451.1 268.2h3.6v2.1h-3.6zM452.6 269.8h2.1v2.1h-2.1zM452.6 271.2h2.1v2.1h-2.1zM452.6 272.8h2.1v2.1h-2.1zM452.6 274.2h3.6v2.1h-3.6zM452.6 275.8h3.6v2.1h-3.6zM454.1 277.2h2.1v2.1h-2.1zM454.1 278.8h3.6v2.1h-3.6zM454.1 280.2h3.6v2.1h-3.6zM454.1 281.8h5.1v2.1h-5.1zM455.6 283.2h3.6v2.1h-3.6zM455.6 284.8h5.1v2.1h-5.1zM457.1 286.2h3.6v2.1h-3.6zM457.1 287.8h5.1v2.1h-5.1zM457.1 289.2h5.1v2.1h-5.1zM458.6 290.8h3.6v2.1h-3.6zM458.6 292.2h3.6v2.1h-3.6zM458.6 293.8h5.1v2.1h-5.1zM458.6 295.2h5.1v2.1h-5.1z"/>
<path fill="#6eaed2" d="M430.1 194.8h3.6v2.1h-3.6zM428.6 196.2h2.1v2.1h-2.1zM433.1 196.2h2.1v2.1h-2.1zM434.6 197.8h2.1v2.1h-2.1zM427.1 199.2h2.1v2.1h-2.1zM436.1 200.8h2.1v2.1h-2.1zM425.6 203.8h2.1v2.1h-2.1zM425.6 205.2h2.1v2.1h-2.1zM437.6 205.2h2.1v2.1h-2.1zM367.1 206.8h11.1v2.1h-11.1zM425.6 206.8h2.1v2.1h-2.1zM377.6 208.2h3.6v2.1h-3.6zM379.1 209.8h2.1v2.1h-2.1zM380.6 211.2h2.1v2.1h-2.1zM380.6 212.8h2.1v2.1h-2.1zM424.1 212.8h2.1v2.1h-2.1zM380.6 214.2h2.1v2.1h-2.1zM424.1 214.2h2.1v2.1h-2.1zM422.6 218.8h2.1v2.1h-2.1zM422.6 220.2h2.1v2.1h-2.1zM382.1 221.8h2.1v2.1h-2.1zM382.1 223.2h2.1v2.1h-2.1zM421.1 223.2h2.1v2.1h-2.1zM437.6 223.2h2.1v2.1h-2.1zM382.1 224.8h2.1v2.1h-2.1zM421.1 224.8h2.1v2.1h-2.1zM437.6 224.8h2.1v2.1h-2.1zM382.1 226.2h2.1v2.1h-2.1zM437.6 226.2h2.1v2.1h-2.1zM419.6 227.8h2.1v2.1h-2.1zM437.6 227.8h2.1v2.1h-2.1zM419.6 229.2h2.1v2.1h-2.1zM437.6 229.2h2.1v2.1h-2.1zM419.6 230.8h2.1v2.1h-2.1zM437.6 230.8h2.1v2.1h-2.1zM383.6 232.2h2.1v2.1h-2.1zM437.6 232.2h2.1v2.1h-2.1zM383.6 233.8h2.1v2.1h-2.1zM418.1 233.8h2.1v2.1h-2.1zM383.6 235.2h2.1v2.1h-2.1zM418.1 235.2h2.1v2.1h-2.1zM385.1 236.8h2.1v2.1h-2.1zM418.1 236.8h2.1v2.1h-2.1zM439.1 236.8h2.1v2.1h-2.1zM385.1 238.2h2.1v2.1h-2.1zM416.6 238.2h2.1v2.1h-2.1zM385.1 239.8h2.1v2.1h-2.1zM416.6 239.8h2.1v2.1h-2.1zM440.6 239.8h2.1v2.1h-2.1zM415.1 241.2h2.1v2.1h-2.1zM386.6 242.8h2.1v2.1h-2.1zM413.6 242.8h3.6v2.1h-3.6zM442.1 242.8h2.1v2.1h-2.1zM386.6 244.2h2.1v2.1h-2.1zM412.1 244.2h2.1v2.1h-2.1zM443.6 244.2h2.1v2.1h-2.1zM388.1 245.8h2.1v2.1h-2.1zM409.1 245.8h3.6v2.1h-3.6zM388.1 247.2h3.6v2.1h-3.6zM406.1 247.2h3.6v2.1h-3.6zM445.1 247.2h2.1v2.1h-2.1zM389.6 248.8h5.1v2.1h-5.1zM401.6 248.8h5.1v2.1h-5.1zM394.1 250.2h8.1v2.1h-8.1zM446.6 250.2h2.1v2.1h-2.1zM448.1 253.2h2.1v2.1h-2.1zM449.6 256.2h2.1v2.1h-2.1zM449.6 257.8h2.1v2.1h-2.1zM451.1 260.8h2.1v2.1h-2.1zM451.1 262.2h2.1v2.1h-2.1zM452.6 263.8h2.1v2.1h-2.1zM452.6 265.2h2.1v2.1h-2.1zM452.6 266.8h2.1v2.1h-2.1zM454.1 268.2h2.1v2.1h-2.1zM454.1 269.8h2.1v2.1h-2.1zM454.1 271.2h3.6v2.1h-3.6zM454.1 272.8h3.6v2.1h-3.6zM455.6 274.2h2.1v2.1h-2.1zM455.6 275.8h3.6v2.1h-3.6zM455.6 277.2h3.6v2.1h-3.6zM457.1 278.8h3.6v2.1h-3.6zM457.1 280.2h3.6v2.1h-3.6zM458.6 281.8h3.6v2.1h-3.6zM458.6 283.2h5.1v2.1h-5.1zM460.1 284.8h3.6v2.1h-3.6zM460.1 286.2h5.1v2.1h-5.1zM461.6 287.8h3.6v2.1h-3.6zM461.6 289.2h5.1v2.1h-5.1zM461.6 290.8h5.1v2.1h-5.1zM461.6 292.2h5.1v2.1h-5.1zM463.1 293.8h3.6v2.1h-3.6zM463.1 295.2h3.6v2.1h-3.6z"/>
<path fill="#7eb8d7" d="M430.1 193.2h3.6v2.1h-3.6zM428.6 194.8h2.1v2.1h-2.1zM433.1 194.8h2.1v2.1h-2.1zM427.1 196.2h2.1v2.1h-2.1zM434.6 196.2h2.1v2.1h-2.1zM427.1 197.8h2.1v2.1h-2.1zM436.1 199.2h2.1v2.1h-2.1zM425.6 200.8h2.1v2.1h-2.1zM425.6 202.2h2.1v2.1h-2.1zM437.6 202.2h2.1v2.1h-2.1zM437.6 203.8h2.1v2.1h-2.1zM367.1 205.2h12.6v2.1h-12.6zM377.6 206.8h3.6v2.1h-3.6zM380.6 208.2h2.1v2.1h-2.1zM380.6 209.8h2.1v2.1h-2.1zM424.1 209.8h2.1v2.1h-2.1zM424.1 211.2h2.1v2.1h-2.1zM439.1 211.2h2.1v2.1h-2.1zM439.1 212.8h2.1v2.1h-2.1zM439.1 214.2h2.1v2.1h-2.1zM382.1 215.8h2.1v2.1h-2.1zM422.6 215.8h2.1v2.1h-2.1zM439.1 215.8h2.1v2.1h-2.1zM382.1 217.2h2.1v2.1h-2.1zM422.6 217.2h2.1v2.1h-2.1zM439.1 217.2h2.1v2.1h-2.1zM382.1 218.8h2.1v2.1h-2.1zM382.1 220.2h2.1v2.1h-2.1zM421.1 221.8h2.1v2.1h-2.1zM419.6 224.8h2.1v2.1h-2.1zM419.6 226.2h2.1v2.1h-2.1zM383.6 227.8h2.1v2.1h-2.1zM383.6 229.2h2.1v2.1h-2.1zM418.1 229.2h2.1v2.1h-2.1zM383.6 230.8h2.1v2.1h-2.1zM418.1 230.8h2.1v2.1h-2.1zM418.1 232.2h2.1v2.1h-2.1zM439.1 232.2h2.1v2.1h-2.1zM385.1 233.8h2.1v2.1h-2.1zM416.6 233.8h2.1v2.1h-2.1zM439.1 233.8h2.1v2.1h-2.1zM385.1 235.2h2.1v2.1h-2.1zM416.6 235.2h2.1v2.1h-2.1zM439.1 235.2h2.1v2.1h-2.1zM416.6 236.8h2.1v2.1h-2.1zM386.6 238.2h2.1v2.1h-2.1zM415.1 238.2h2.1v2.1h-2.1zM440.6 238.2h2.1v2.1h-2.1zM386.6 239.8h2.1v2.1h-2.1zM413.6 239.8h3.6v2.1h-3.6zM442.1 239.8h2.1v2.1h-2.1zM386.6 241.2h2.1v2.1h-2.1zM412.1 241.2h3.6v2.1h-3.6zM442.1 241.2h2.1v2.1h-2.1zM388.1 242.8h2.1v2.1h-2.1zM410.6 242.8h3.6v2.1h-3.6zM443.6 242.8h2.1v2.1h-2.1zM388.1 244.2h3.6v2.1h-3.6zM409.1 244.2h3.6v2.1h-3.6zM389.6 245.8h3.6v2.1h-3.6zM406.1 245.8h3.6v2.1h-3.6zM445.1 245.8h2.1v2.1h-2.1zM391.1 247.2h3.6v2.1h-3.6zM403.1 247.2h3.6v2.1h-3.6zM446.6 247.2h2.1v2.1h-2.1zM394.1 248.8h8.1v2.1h-8.1zM446.6 248.8h2.1v2.1h-2.1zM448.1 250.2h2.1v2.1h-2.1zM448.1 251.8h2.1v2.1h-2.1zM449.6 254.8h2.1v2.1h-2.1zM451.1 257.8h2.1v2.1h-2.1zM451.1 259.2h2.1v2.1h-2.1zM452.6 260.8h2.1v2.1h-2.1zM452.6 262.2h2.1v2.1h-2.1zM454.1 265.2h2.1v2.1h-2.1zM454.1 266.8h3.6v2.1h-3.6zM455.6 268.2h2.1v2.1h-2.1zM455.6 269.8h2.1v2.1h-2.1zM457.1 271.2h2.1v2.1h-2.1zM457.1 272.8h2.1v2.1h-2.1zM457.1 274.2h3.6v2.1h-3.6zM458.6 275.8h3.6v2.1h-3.6zM458.6 277.2h3.6v2.1h-3.6zM460.1 278.8h3.6v2.1h-3.6zM460.1 280.2h5.1v2.1h-5.1zM461.6 281.8h3.6v2.1h-3.6zM463.1 283.2h3.6v2.1h-3.6zM463.1 284.8h5.1v2.1h-5.1zM464.6 286.2h5.1v2.1h-5.1zM464.6 287.8h5.1v2.1h-5.1zM466.1 289.2h5.1v2.1h-5.1zM466.1 290.8h5.1v2.1h-5.1zM466.1 292.2h5.1v2.1h-5.1zM466.1 293.8h5.1v2.1h-5.1zM466.1 295.2h5.1v2.1h-5.1z"/>
<path fill="#90c4dd" d="M428.6 191.8h6.6v2.1h-6.6zM427.1 193.2h3.6v2.1h-3.6zM433.1 193.2h2.1v2.1h-2.1zM427.1 194.8h2.1v2.1h-2.1zM434.6 194.8h2.1v2.1h-2.1zM436.1 196.2h2.1v2.1h-2.1zM425.6 197.8h2.1v2.1h-2.1zM436.1 197.8h2.1v2.1h-2.1zM425.6 199.2h2.1v2.1h-2.1zM437.6 200.8h2.1v2.1h-2.1zM367.1 203.8h14.1v2.1h-14.1zM379.1 205.2h3.6v2.1h-3.6zM424.1 205.2h2.1v2.1h-2.1zM380.6 206.8h2.1v2.1h-2.1zM424.1 206.8h2.1v2.1h-2.1zM439.1 206.8h2.1v2.1h-2.1zM424.1 208.2h2.1v2.1h-2.1zM439.1 208.2h2.1v2.1h-2.1zM382.1 209.8h2.1v2.1h-2.1zM439.1 209.8h2.1v2.1h-2.1zM382.1 211.2h2.1v2.1h-2.1zM382.1 212.8h2.1v2.1h-2.1zM422.6 212.8h2.1v2.1h-2.1zM382.1 214.2h2.1v2.1h-2.1zM422.6 214.2h2.1v2.1h-2.1zM421.1 218.8h2.1v2.1h-2.1zM439.1 218.8h2.1v2.1h-2.1zM421.1 220.2h2.1v2.1h-2.1zM439.1 220.2h2.1v2.1h-2.1zM439.1 221.8h2.1v2.1h-2.1zM383.6 223.2h2.1v2.1h-2.1zM419.6 223.2h2.1v2.1h-2.1zM439.1 223.2h2.1v2.1h-2.1zM383.6 224.8h2.1v2.1h-2.1zM439.1 224.8h2.1v2.1h-2.1zM383.6 226.2h2.1v2.1h-2.1zM439.1 226.2h2.1v2.1h-2.1zM418.1 227.8h2.1v2.1h-2.1zM439.1 227.8h2.1v2.1h-2.1zM439.1 229.2h2.1v2.1h-2.1zM385.1 230.8h2.1v2.1h-2.1zM416.6 230.8h2.1v2.1h-2.1zM439.1 230.8h2.1v2.1h-2.1zM385.1 232.2h2.1v2.1h-2.1zM416.6 232.2h2.1v2.1h-2.1zM386.6 235.2h2.1v2.1h-2.1zM415.1 235.2h2.1v2.1h-2.1zM440.6 235.2h2.1v2.1h-2.1zM386.6 236.8h2.1v2.1h-2.1zM415.1 236.8h2.1v2.1h-2.1zM440.6 236.8h2.1v2.1h-2.1zM413.6 238.2h2.1v2.1h-2.1zM442.1 238.2h2.1v2.1h-2.1zM388.1 239.8h2.1v2.1h-2.1zM412.1 239.8h2.1v2.1h-2.1zM388.1 241.2h2.1v2.1h-2.1zM410.6 241.2h2.1v2.1h-2.1zM443.6 241.2h2.1v2.1h-2.1zM389.6 242.8h2.1v2.1h-2.1zM409.1 242.8h2.1v2.1h-2.1zM391.1 244.2h2.1v2.1h-2.1zM406.1 244.2h3.6v2.1h-3.6zM445.1 244.2h2.1v2.1h-2.1zM392.6 245.8h2.1v2.1h-2.1zM403.1 245.8h3.6v2.1h-3.6zM446.6 245.8h2.1v2.1h-2.1zM394.1 247.2h9.6v2.1h-9.6zM448.1 248.8h2.1v2.1h-2.1zM449.6 251.8h2.1v2.1h-2.1zM449.6 253.2h2.1v2.1h-2.1zM451.1 256.2h2.1v2.1h-2.1zM452.6 259.2h2.1v2.1h-2.1zM454.1 262.2h2.1v2.1h-2.1zM454.1 263.8h2.1v2.1h-2.1zM455.6 265.2h2.1v2.1h-2.1zM457.1 266.8h2.1v2.1h-2.1zM457.1 268.2h2.1v2.1h-2.1zM457.1 269.8h3.6v2.1h-3.6zM458.6 271.2h2.1v2.1h-2.1zM458.6 272.8h3.6v2.1h-3.6zM460.1 274.2h3.6v2.1h-3.6zM461.6 275.8h2.1v2.1h-2.1zM461.6 277.2h3.6v2.1h-3.6zM463.1 278.8h3.6v2.1h-3.6zM464.6 280.2h3.6v2.1h-3.6zM464.6 281.8h5.1v2.1h-5.1zM466.1 283.2h5.1v2.1h-5.1zM467.6 284.8h5.1v2.1h-5.1zM469.1 286.2h5.1v2.1h-5.1zM469.1 287.8h5.1v2.1h-5.1zM470.6 289.2h5.1v2.1h-5.1zM470.6 290.8h6.6v2.1h-6.6zM470.6 292.2h6.6v2.1h-6.6zM470.6 293.8h6.6v2.1h-6.6zM470.6 295.2h6.6v2.1h-6.6z"/>
<path fill="#9dcbe1" d="M428.6 190.2h6.6v2.1h-6.6zM427.1 191.8h2.1v2.1h-2.1zM434.6 191.8h2.1v2.1h-2.1zM434.6 193.2h2.1v2.1h-2.1zM425.6 194.8h2.1v2.1h-2.1zM436.1 194.8h2.1v2.1h-2.1zM425.6 196.2h2.1v2.1h-2.1zM437.6 199.2h2.1v2.1h-2.1zM377.6 200.8h2.1v2.1h-2.1zM367.1 202.2h15.6v2.1h-15.6zM424.1 202.2h2.1v2.1h-2.1zM380.6 203.8h2.1v2.1h-2.1zM424.1 203.8h2.1v2.1h-2.1zM439.1 203.8h2.1v2.1h-2.1zM382.1 205.2h2.1v2.1h-2.1zM439.1 205.2h2.1v2.1h-2.1zM382.1 206.8h2.1v2.1h-2.1zM382.1 208.2h2.1v2.1h-2.1zM422.6 209.8h2.1v2.1h-2.1zM422.6 211.2h2.1v2.1h-2.1zM383.6 215.8h2.1v2.1h-2.1zM421.1 215.8h2.1v2.1h-2.1zM383.6 217.2h2.1v2.1h-2.1zM421.1 217.2h2.1v2.1h-2.1zM383.6 218.8h2.1v2.1h-2.1zM383.6 220.2h2.1v2.1h-2.1zM419.6 220.2h2.1v2.1h-2.1zM383.6 221.8h2.1v2.1h-2.1zM419.6 221.8h2.1v2.1h-2.1zM418.1 224.8h2.1v2.1h-2.1zM385.1 226.2h2.1v2.1h-2.1zM418.1 226.2h2.1v2.1h-2.1zM385.1 227.8h2.1v2.1h-2.1zM385.1 229.2h2.1v2.1h-2.1zM416.6 229.2h2.1v2.1h-2.1zM386.6 232.2h2.1v2.1h-2.1zM415.1 232.2h2.1v2.1h-2.1zM440.6 232.2h2.1v2.1h-2.1zM386.6 233.8h2.1v2.1h-2.1zM415.1 233.8h2.1v2.1h-2.1zM440.6 233.8h2.1v2.1h-2.1zM413.6 235.2h2.1v2.1h-2.1zM388.1 236.8h2.1v2.1h-2.1zM413.6 236.8h2.1v2.1h-2.1zM442.1 236.8h2.1v2.1h-2.1zM388.1 238.2h2.1v2.1h-2.1zM412.1 238.2h2.1v2.1h-2.1zM389.6 239.8h2.1v2.1h-2.1zM410.6 239.8h2.1v2.1h-2.1zM443.6 239.8h2.1v2.1h-2.1zM389.6 241.2h2.1v2.1h-2.1zM409.1 241.2h2.1v2.1h-2.1zM391.1 242.8h2.1v2.1h-2.1zM406.1 242.8h3.6v2.1h-3.6zM445.1 242.8h2.1v2.1h-2.1zM392.6 244.2h2.1v2.1h-2.1zM404.6 244.2h2.1v2.1h-2.1zM446.6 244.2h2.1v2.1h-2.1zM394.1 245.8h9.6v2.1h-9.6zM448.1 247.2h2.1v2.1h-2.1zM449.6 250.2h2.1v2.1h-2.1zM451.1 253.2h2.1v2.1h-2.1zM451.1 254.8h2.1v2.1h-2.1zM452.6 256.2h2.1v2.1h-2.1zM452.6 257.8h2.1v2.1h-2.1zM454.1 259.2h2.1v2.1h-2.1zM454.1 260.8h2.1v2.1h-2.1zM455.6 262.2h2.1v2.1h-2.1zM455.6 263.8h3.6v2.1h-3.6zM457.1 265.2h2.1v2.1h-2.1zM458.6 266.8h2.1v2.1h-2.1zM458.6 268.2h3.6v2.1h-3.6zM460.1 269.8h2.1v2.1h-2.1zM460.1 271.2h3.6v2.1h-3.6zM461.6 272.8h3.6v2.1h-3.6zM463.1 274.2h3.6v2.1h-3.6zM463.1 275.8h5.1v2.1h-5.1zM464.6 277.2h3.6v2.1h-3.6zM466.1 278.8h3.6v2.1h-3.6zM467.6 280.2h3.6v2.1h-3.6zM469.1 281.8h5.1v2.1h-5.1zM470.6 283.2h5.1v2.1h-5.1zM472.1 284.8h5.1v2.1h-5.1zM473.6 286.2h6.6v2.1h-6.6zM473.6 287.8h14.1v2.1h-14.1zM475.1 289.2h12.6v2.1h-12.6zM476.6 290.8h11.1v2.1h-11.1zM476.6 292.2h11.1v2.1h-11.1zM476.6 293.8h11.1v2.1h-11.1zM476.6 295.2h11.1v2.1h-11.1z"/>
<path fill="#acd2e5" d="M428.6 187.2h5.1v2.1h-5.1zM427.1 188.8h8.1v2.1h-8.1zM427.1 190.2h2.1v2.1h-2.1zM434.6 190.2h2.1v2.1h-2.1zM425.6 191.8h2.1v2.1h-2.1zM425.6 193.2h2.1v2.1h-2.1zM436.1 193.2h2.1v2.1h-2.1zM437.6 196.2h2.1v2.1h-2.1zM424.1 197.8h2.1v2.1h-2.1zM437.6 197.8h2.1v2.1h-2.1zM374.6 199.2h8.1v2.1h-8.1zM424.1 199.2h2.1v2.1h-2.1zM367.1 200.8h11.1v2.1h-11.1zM379.1 200.8h5.1v2.1h-5.1zM424.1 200.8h2.1v2.1h-2.1zM382.1 202.2h2.1v2.1h-2.1zM439.1 202.2h2.1v2.1h-2.1zM382.1 203.8h2.1v2.1h-2.1zM422.6 206.8h2.1v2.1h-2.1zM383.6 208.2h2.1v2.1h-2.1zM422.6 208.2h2.1v2.1h-2.1zM383.6 209.8h2.1v2.1h-2.1zM383.6 211.2h2.1v2.1h-2.1zM440.6 211.2h2.1v2.1h-2.1zM383.6 212.8h2.1v2.1h-2.1zM440.6 212.8h2.1v2.1h-2.1zM383.6 214.2h2.1v2.1h-2.1zM421.1 214.2h2.1v2.1h-2.1zM440.6 214.2h2.1v2.1h-2.1zM440.6 215.8h2.1v2.1h-2.1zM440.6 217.2h2.1v2.1h-2.1zM419.6 218.8h2.1v2.1h-2.1zM440.6 218.8h2.1v2.1h-2.1zM440.6 220.2h2.1v2.1h-2.1zM418.1 221.8h2.1v2.1h-2.1zM440.6 221.8h2.1v2.1h-2.1zM385.1 223.2h2.1v2.1h-2.1zM418.1 223.2h2.1v2.1h-2.1zM440.6 223.2h2.1v2.1h-2.1zM385.1 224.8h2.1v2.1h-2.1zM416.6 226.2h2.1v2.1h-2.1zM440.6 226.2h2.1v2.1h-2.1zM416.6 227.8h2.1v2.1h-2.1zM440.6 227.8h2.1v2.1h-2.1zM386.6 229.2h2.1v2.1h-2.1zM415.1 229.2h2.1v2.1h-2.1zM440.6 229.2h2.1v2.1h-2.1zM386.6 230.8h2.1v2.1h-2.1zM415.1 230.8h2.1v2.1h-2.1zM440.6 230.8h2.1v2.1h-2.1zM388.1 233.8h2.1v2.1h-2.1zM413.6 233.8h2.1v2.1h-2.1zM388.1 235.2h2.1v2.1h-2.1zM412.1 235.2h2.1v2.1h-2.1zM442.1 235.2h2.1v2.1h-2.1zM412.1 236.8h2.1v2.1h-2.1zM389.6 238.2h2.1v2.1h-2.1zM410.6 238.2h2.1v2.1h-2.1zM443.6 238.2h2.1v2.1h-2.1zM391.1 239.8h2.1v2.1h-2.1zM409.1 239.8h2.1v2.1h-2.1zM391.1 241.2h2.1v2.1h-2.1zM406.1 241.2h3.6v2.1h-3.6zM445.1 241.2h2.1v2.1h-2.1zM392.6 242.8h2.1v2.1h-2.1zM404.6 242.8h2.1v2.1h-2.1zM446.6 242.8h2.1v2.1h-2.1zM394.1 244.2h11.1v2.1h-11.1zM448.1 245.8h2.1v2.1h-2.1zM449.6 248.8h2.1v2.1h-2.1zM451.1 251.8h2.1v2.1h-2.1zM452.6 254.8h2.1v2.1h-2.1zM454.1 257.8h2.1v2.1h-2.1zM455.6 260.8h2.1v2.1h-2.1zM457.1 262.2h2.1v2.1h-2.1zM458.6 263.8h2.1v2.1h-2.1zM458.6 265.2h3.6v2.1h-3.6zM460.1 266.8h3.6v2.1h-3.6zM461.6 268.2h2.1v2.1h-2.1zM461.6 269.8h3.6v2.1h-3.6zM463.1 271.2h3.6v2.1h-3.6zM464.6 272.8h3.6v2.1h-3.6zM466.1 274.2h3.6v2.1h-3.6zM467.6 275.8h3.6v2.1h-3.6zM467.6 277.2h5.1v2.1h-5.1zM469.1 278.8h5.1v2.1h-5.1zM470.6 280.2h5.1v2.1h-5.1zM473.6 281.8h5.1v2.1h-5.1zM475.1 283.2h12.6v2.1h-12.6zM476.6 284.8h11.1v2.1h-11.1zM479.6 286.2h8.1v2.1h-8.1z"/>
<path fill="#b8d8e9" d="M428.6 184.2h5.1v2.1h-5.1zM427.1 185.8h8.1v2.1h-8.1zM425.6 187.2h3.6v2.1h-3.6zM433.1 187.2h2.1v2.1h-2.1zM425.6 188.8h2.1v2.1h-2.1zM434.6 188.8h2.1v2.1h-2.1zM425.6 190.2h2.1v2.1h-2.1zM436.1 191.8h2.1v2.1h-2.1zM424.1 193.2h2.1v2.1h-2.1zM424.1 194.8h2.1v2.1h-2.1zM437.6 194.8h2.1v2.1h-2.1zM376.1 196.2h8.1v2.1h-8.1zM424.1 196.2h2.1v2.1h-2.1zM367.1 197.8h17.1v2.1h-17.1zM367.1 199.2h8.1v2.1h-8.1zM382.1 199.2h2.1v2.1h-2.1zM439.1 199.2h2.1v2.1h-2.1zM383.6 200.8h2.1v2.1h-2.1zM439.1 200.8h2.1v2.1h-2.1zM383.6 202.2h2.1v2.1h-2.1zM383.6 203.8h2.1v2.1h-2.1zM422.6 203.8h2.1v2.1h-2.1zM383.6 205.2h2.1v2.1h-2.1zM422.6 205.2h2.1v2.1h-2.1zM383.6 206.8h2.1v2.1h-2.1zM440.6 206.8h2.1v2.1h-2.1zM440.6 208.2h2.1v2.1h-2.1zM440.6 209.8h2.1v2.1h-2.1zM421.1 211.2h2.1v2.1h-2.1zM421.1 212.8h2.1v2.1h-2.1zM419.6 215.8h2.1v2.1h-2.1zM419.6 217.2h2.1v2.1h-2.1zM385.1 218.8h2.1v2.1h-2.1zM385.1 220.2h2.1v2.1h-2.1zM418.1 220.2h2.1v2.1h-2.1zM385.1 221.8h2.1v2.1h-2.1zM416.6 223.2h2.1v2.1h-2.1zM416.6 224.8h2.1v2.1h-2.1zM440.6 224.8h2.1v2.1h-2.1zM386.6 226.2h2.1v2.1h-2.1zM386.6 227.8h2.1v2.1h-2.1zM415.1 227.8h2.1v2.1h-2.1zM388.1 230.8h2.1v2.1h-2.1zM413.6 230.8h2.1v2.1h-2.1zM388.1 232.2h2.1v2.1h-2.1zM413.6 232.2h2.1v2.1h-2.1zM442.1 232.2h2.1v2.1h-2.1zM412.1 233.8h2.1v2.1h-2.1zM442.1 233.8h2.1v2.1h-2.1zM389.6 235.2h2.1v2.1h-2.1zM410.6 235.2h2.1v2.1h-2.1zM389.6 236.8h2.1v2.1h-2.1zM410.6 236.8h2.1v2.1h-2.1zM443.6 236.8h2.1v2.1h-2.1zM391.1 238.2h2.1v2.1h-2.1zM409.1 238.2h2.1v2.1h-2.1zM407.6 239.8h2.1v2.1h-2.1zM445.1 239.8h2.1v2.1h-2.1zM392.6 241.2h2.1v2.1h-2.1zM404.6 241.2h2.1v2.1h-2.1zM446.6 241.2h2.1v2.1h-2.1zM394.1 242.8h5.1v2.1h-5.1zM400.1 242.8h5.1v2.1h-5.1zM448.1 244.2h2.1v2.1h-2.1zM449.6 247.2h2.1v2.1h-2.1zM451.1 250.2h2.1v2.1h-2.1zM452.6 253.2h2.1v2.1h-2.1zM454.1 256.2h2.1v2.1h-2.1zM455.6 257.8h2.1v2.1h-2.1zM455.6 259.2h2.1v2.1h-2.1zM457.1 260.8h2.1v2.1h-2.1zM458.6 262.2h2.1v2.1h-2.1zM460.1 263.8h2.1v2.1h-2.1zM461.6 265.2h2.1v2.1h-2.1zM463.1 266.8h2.1v2.1h-2.1zM463.1 268.2h3.6v2.1h-3.6zM464.6 269.8h3.6v2.1h-3.6zM466.1 271.2h3.6v2.1h-3.6zM467.6 272.8h3.6v2.1h-3.6zM469.1 274.2h5.1v2.1h-5.1zM470.6 275.8h5.1v2.1h-5.1zM472.1 277.2h5.1v2.1h-5.1zM473.6 278.8h6.6v2.1h-6.6zM475.1 280.2h12.6v2.1h-12.6zM478.1 281.8h9.6v2.1h-9.6z"/>
<path fill="#c7e0ed" d="M425.6 176.8h9.6v2.1h-9.6zM425.6 178.2h9.6v2.1h-9.6zM425.6 179.8h8.1v2.1h-8.1zM425.6 181.2h9.6v2.1h-9.6zM425.6 182.8h9.6v2.1h-9.6zM425.6 184.2h3.6v2.1h-3.6zM433.1 184.2h2.1v2.1h-2.1zM424.1 185.8h3.6v2.1h-3.6zM434.6 185.8h2.1v2.1h-2.1zM424.1 187.2h2.1v2.1h-2.1zM434.6 187.2h2.1v2.1h-2.1zM424.1 188.8h2.1v2.1h-2.1zM436.1 188.8h2.1v2.1h-2.1zM424.1 190.2h2.1v2.1h-2.1zM436.1 190.2h2.1v2.1h-2.1zM377.6 191.8h6.6v2.1h-6.6zM424.1 191.8h2.1v2.1h-2.1zM374.6 193.2h9.6v2.1h-9.6zM437.6 193.2h2.1v2.1h-2.1zM367.1 194.8h18.6v2.1h-18.6zM367.1 196.2h9.6v2.1h-9.6zM383.6 196.2h2.1v2.1h-2.1zM383.6 197.8h2.1v2.1h-2.1zM439.1 197.8h2.1v2.1h-2.1zM383.6 199.2h2.1v2.1h-2.1zM422.6 199.2h2.1v2.1h-2.1zM422.6 200.8h2.1v2.1h-2.1zM422.6 202.2h2.1v2.1h-2.1zM440.6 203.8h2.1v2.1h-2.1zM440.6 205.2h2.1v2.1h-2.1zM385.1 206.8h2.1v2.1h-2.1zM385.1 208.2h2.1v2.1h-2.1zM421.1 208.2h2.1v2.1h-2.1zM385.1 209.8h2.1v2.1h-2.1zM421.1 209.8h2.1v2.1h-2.1zM385.1 211.2h2.1v2.1h-2.1zM385.1 212.8h2.1v2.1h-2.1zM385.1 214.2h2.1v2.1h-2.1zM419.6 214.2h2.1v2.1h-2.1zM385.1 215.8h2.1v2.1h-2.1zM385.1 217.2h2.1v2.1h-2.1zM418.1 217.2h2.1v2.1h-2.1zM418.1 218.8h2.1v2.1h-2.1zM416.6 221.8h2.1v2.1h-2.1zM386.6 224.8h2.1v2.1h-2.1zM415.1 224.8h2.1v2.1h-2.1zM415.1 226.2h2.1v2.1h-2.1zM388.1 229.2h2.1v2.1h-2.1zM413.6 229.2h2.1v2.1h-2.1zM442.1 229.2h2.1v2.1h-2.1zM442.1 230.8h2.1v2.1h-2.1zM412.1 232.2h2.1v2.1h-2.1zM389.6 233.8h2.1v2.1h-2.1zM410.6 233.8h2.1v2.1h-2.1zM443.6 235.2h2.1v2.1h-2.1zM391.1 236.8h2.1v2.1h-2.1zM409.1 236.8h2.1v2.1h-2.1zM392.6 238.2h2.1v2.1h-2.1zM407.6 238.2h2.1v2.1h-2.1zM445.1 238.2h2.1v2.1h-2.1zM392.6 239.8h3.6v2.1h-3.6zM404.6 239.8h3.6v2.1h-3.6zM446.6 239.8h2.1v2.1h-2.1zM394.1 241.2h3.6v2.1h-3.6zM401.6 241.2h3.6v2.1h-3.6zM398.6 242.8h2.1v2.1h-2.1zM448.1 242.8h2.1v2.1h-2.1zM449.6 245.8h2.1v2.1h-2.1zM451.1 248.8h2.1v2.1h-2.1zM452.6 251.8h2.1v2.1h-2.1zM454.1 253.2h2.1v2.1h-2.1zM454.1 254.8h2.1v2.1h-2.1zM455.6 256.2h2.1v2.1h-2.1zM457.1 257.8h2.1v2.1h-2.1zM457.1 259.2h3.6v2.1h-3.6zM458.6 260.8h3.6v2.1h-3.6zM460.1 262.2h3.6v2.1h-3.6zM461.6 263.8h3.6v2.1h-3.6zM463.1 265.2h3.6v2.1h-3.6zM464.6 266.8h5.1v2.1h-5.1zM466.1 268.2h5.1v2.1h-5.1zM467.6 269.8h5.1v2.1h-5.1zM469.1 271.2h6.6v2.1h-6.6zM470.6 272.8h6.6v2.1h-6.6zM473.6 274.2h6.6v2.1h-6.6zM475.1 275.8h12.6v2.1h-12.6zM476.6 277.2h11.1v2.1h-11.1zM479.6 278.8h8.1v2.1h-8.1z"/>
<path fill="#d2e6f0" d="M422.6 176.8h3.6v2.1h-3.6zM434.6 176.8h2.1v2.1h-2.1zM422.6 178.2h3.6v2.1h-3.6zM434.6 178.2h2.1v2.1h-2.1zM422.6 179.8h3.6v2.1h-3.6zM433.1 179.8h3.6v2.1h-3.6zM422.6 181.2h3.6v2.1h-3.6zM434.6 181.2h2.1v2.1h-2.1zM422.6 182.8h3.6v2.1h-3.6zM434.6 182.8h2.1v2.1h-2.1zM422.6 184.2h3.6v2.1h-3.6zM434.6 184.2h2.1v2.1h-2.1zM377.6 185.8h8.1v2.1h-8.1zM422.6 185.8h2.1v2.1h-2.1zM436.1 185.8h2.1v2.1h-2.1zM374.6 187.2h11.1v2.1h-11.1zM422.6 187.2h2.1v2.1h-2.1zM436.1 187.2h2.1v2.1h-2.1zM367.1 188.8h18.6v2.1h-18.6zM422.6 188.8h2.1v2.1h-2.1zM367.1 190.2h20.1v2.1h-20.1zM422.6 190.2h2.1v2.1h-2.1zM437.6 190.2h2.1v2.1h-2.1zM367.1 191.8h11.1v2.1h-11.1zM383.6 191.8h3.6v2.1h-3.6zM422.6 191.8h2.1v2.1h-2.1zM437.6 191.8h2.1v2.1h-2.1zM367.1 193.2h8.1v2.1h-8.1zM383.6 193.2h3.6v2.1h-3.6zM422.6 193.2h2.1v2.1h-2.1zM385.1 194.8h2.1v2.1h-2.1zM422.6 194.8h2.1v2.1h-2.1zM385.1 196.2h2.1v2.1h-2.1zM422.6 196.2h2.1v2.1h-2.1zM439.1 196.2h2.1v2.1h-2.1zM385.1 197.8h2.1v2.1h-2.1zM422.6 197.8h2.1v2.1h-2.1zM385.1 199.2h2.1v2.1h-2.1zM385.1 200.8h2.1v2.1h-2.1zM385.1 202.2h2.1v2.1h-2.1zM440.6 202.2h2.1v2.1h-2.1zM385.1 203.8h2.1v2.1h-2.1zM385.1 205.2h2.1v2.1h-2.1zM421.1 205.2h2.1v2.1h-2.1zM421.1 206.8h2.1v2.1h-2.1zM419.6 211.2h2.1v2.1h-2.1zM419.6 212.8h2.1v2.1h-2.1zM442.1 214.2h2.1v2.1h-2.1zM418.1 215.8h2.1v2.1h-2.1zM442.1 215.8h2.1v2.1h-2.1zM442.1 217.2h2.1v2.1h-2.1zM442.1 218.8h2.1v2.1h-2.1zM416.6 220.2h2.1v2.1h-2.1zM442.1 220.2h2.1v2.1h-2.1zM386.6 221.8h2.1v2.1h-2.1zM442.1 221.8h2.1v2.1h-2.1zM386.6 223.2h2.1v2.1h-2.1zM415.1 223.2h2.1v2.1h-2.1zM442.1 223.2h2.1v2.1h-2.1zM442.1 224.8h2.1v2.1h-2.1zM388.1 226.2h2.1v2.1h-2.1zM413.6 226.2h2.1v2.1h-2.1zM442.1 226.2h2.1v2.1h-2.1zM388.1 227.8h2.1v2.1h-2.1zM413.6 227.8h2.1v2.1h-2.1zM442.1 227.8h2.1v2.1h-2.1zM412.1 229.2h2.1v2.1h-2.1zM389.6 230.8h2.1v2.1h-2.1zM412.1 230.8h2.1v2.1h-2.1zM389.6 232.2h2.1v2.1h-2.1zM410.6 232.2h2.1v2.1h-2.1zM443.6 232.2h2.1v2.1h-2.1zM391.1 233.8h2.1v2.1h-2.1zM443.6 233.8h2.1v2.1h-2.1zM391.1 235.2h2.1v2.1h-2.1zM409.1 235.2h2.1v2.1h-2.1zM445.1 235.2h2.1v2.1h-2.1zM392.6 236.8h2.1v2.1h-2.1zM407.6 236.8h2.1v2.1h-2.1zM445.1 236.8h2.1v2.1h-2.1zM394.1 238.2h2.1v2.1h-2.1zM404.6 238.2h3.6v2.1h-3.6zM446.6 238.2h2.1v2.1h-2.1zM395.6 239.8h2.1v2.1h-2.1zM403.1 239.8h2.1v2.1h-2.1zM397.1 241.2h5.1v2.1h-5.1zM448.1 241.2h2.1v2.1h-2.1zM449.6 244.2h2.1v2.1h-2.1zM451.1 245.8h2.1v2.1h-2.1zM451.1 247.2h2.1v2.1h-2.1zM452.6 248.8h2.1v2.1h-2.1zM452.6 250.2h2.1v2.1h-2.1zM454.1 251.8h2.1v2.1h-2.1zM455.6 254.8h2.1v2.1h-2.1zM457.1 256.2h2.1v2.1h-2.1zM458.6 257.8h2.1v2.1h-2.1zM460.1 259.2h3.6v2.1h-3.6zM461.6 260.8h3.6v2.1h-3.6zM463.1 262.2h5.1v2.1h-5.1zM464.6 263.8h5.1v2.1h-5.1zM466.1 265.2h6.6v2.1h-6.6zM469.1 266.8h8.1v2.1h-8.1zM470.6 268.2h17.1v2.1h-17.1zM472.1 269.8h15.6v2.1h-15.6zM475.1 271.2h12.6v2.1h-12.6zM476.6 272.8h11.1v2.1h-11.1zM479.6 274.2h8.1v2.1h-8.1z"/>
<path fill="#dae9f2" d="M367.1 176.8h32.1v2.1h-32.1zM418.1 176.8h5.1v2.1h-5.1zM436.1 176.8h2.1v2.1h-2.1zM367.1 178.2h33.6v2.1h-33.6zM416.6 178.2h6.6v2.1h-6.6zM436.1 178.2h2.1v2.1h-2.1zM367.1 179.8h35.1v2.1h-35.1zM416.6 179.8h6.6v2.1h-6.6zM436.1 179.8h2.1v2.1h-2.1zM367.1 181.2h32.1v2.1h-32.1zM418.1 181.2h5.1v2.1h-5.1zM436.1 181.2h2.1v2.1h-2.1zM367.1 182.8h27.6v2.1h-27.6zM418.1 182.8h5.1v2.1h-5.1zM436.1 182.8h2.1v2.1h-2.1zM367.1 184.2h24.6v2.1h-24.6zM419.6 184.2h3.6v2.1h-3.6zM436.1 184.2h2.1v2.1h-2.1zM367.1 185.8h11.1v2.1h-11.1zM385.1 185.8h5.1v2.1h-5.1zM421.1 185.8h2.1v2.1h-2.1zM367.1 187.2h8.1v2.1h-8.1zM385.1 187.2h5.1v2.1h-5.1zM421.1 187.2h2.1v2.1h-2.1zM437.6 187.2h2.1v2.1h-2.1zM385.1 188.8h3.6v2.1h-3.6zM421.1 188.8h2.1v2.1h-2.1zM437.6 188.8h2.1v2.1h-2.1zM386.6 190.2h2.1v2.1h-2.1zM386.6 191.8h2.1v2.1h-2.1zM386.6 193.2h2.1v2.1h-2.1zM439.1 193.2h2.1v2.1h-2.1zM386.6 194.8h2.1v2.1h-2.1zM439.1 194.8h2.1v2.1h-2.1zM440.6 199.2h2.1v2.1h-2.1zM440.6 200.8h2.1v2.1h-2.1zM421.1 202.2h2.1v2.1h-2.1zM421.1 203.8h2.1v2.1h-2.1zM442.1 208.2h2.1v2.1h-2.1zM419.6 209.8h2.1v2.1h-2.1zM442.1 209.8h2.1v2.1h-2.1zM442.1 211.2h2.1v2.1h-2.1zM442.1 212.8h2.1v2.1h-2.1zM418.1 214.2h2.1v2.1h-2.1zM386.6 215.8h2.1v2.1h-2.1zM386.6 217.2h2.1v2.1h-2.1zM416.6 217.2h2.1v2.1h-2.1zM386.6 218.8h2.1v2.1h-2.1zM416.6 218.8h2.1v2.1h-2.1zM386.6 220.2h2.1v2.1h-2.1zM415.1 221.8h2.1v2.1h-2.1zM388.1 224.8h2.1v2.1h-2.1zM413.6 224.8h2.1v2.1h-2.1zM412.1 227.8h2.1v2.1h-2.1zM389.6 229.2h2.1v2.1h-2.1zM443.6 229.2h2.1v2.1h-2.1zM410.6 230.8h2.1v2.1h-2.1zM443.6 230.8h2.1v2.1h-2.1zM391.1 232.2h2.1v2.1h-2.1zM409.1 232.2h2.1v2.1h-2.1zM409.1 233.8h2.1v2.1h-2.1zM445.1 233.8h2.1v2.1h-2.1zM392.6 235.2h2.1v2.1h-2.1zM407.6 235.2h2.1v2.1h-2.1zM394.1 236.8h2.1v2.1h-2.1zM406.1 236.8h2.1v2.1h-2.1zM446.6 236.8h2.1v2.1h-2.1zM395.6 238.2h2.1v2.1h-2.1zM403.1 238.2h2.1v2.1h-2.1zM397.1 239.8h6.6v2.1h-6.6zM448.1 239.8h2.1v2.1h-2.1zM449.6 241.2h2.1v2.1h-2.1zM449.6 242.8h2.1v2.1h-2.1zM451.1 244.2h2.1v2.1h-2.1zM452.6 247.2h2.1v2.1h-2.1zM454.1 250.2h2.1v2.1h-2.1zM455.6 253.2h2.1v2.1h-2.1zM457.1 254.8h2.1v2.1h-2.1zM458.6 256.2h3.6v2.1h-3.6zM460.1 257.8h5.1v2.1h-5.1zM463.1 259.2h6.6v2.1h-6.6zM464.6 260.8h11.1v2.1h-11.1zM467.6 262.2h20.1v2.1h-20.1zM469.1 263.8h18.6v2.1h-18.6zM472.1 265.2h15.6v2.1h-15.6zM476.6 266.8h11.1v2.1h-11.1z"/>
<path fill="#e3edf3" d="M398.6 176.8h20.1v2.1h-20.1zM437.6 176.8h2.1v2.1h-2.1zM400.1 178.2h17.1v2.1h-17.1zM437.6 178.2h2.1v2.1h-2.1zM401.6 179.8h15.6v2.1h-15.6zM437.6 179.8h2.1v2.1h-2.1zM398.6 181.2h20.1v2.1h-20.1zM437.6 181.2h2.1v2.1h-2.1zM394.1 182.8h8.1v2.1h-8.1zM413.6 182.8h5.1v2.1h-5.1zM437.6 182.8h2.1v2.1h-2.1zM391.1 184.2h5.1v2.1h-5.1zM416.6 184.2h3.6v2.1h-3.6zM437.6 184.2h2.1v2.1h-2.1zM389.6 185.8h3.6v2.1h-3.6zM418.1 185.8h3.6v2.1h-3.6zM437.6 185.8h2.1v2.1h-2.1zM389.6 187.2h2.1v2.1h-2.1zM419.6 187.2h2.1v2.1h-2.1zM388.1 188.8h2.1v2.1h-2.1zM439.1 188.8h2.1v2.1h-2.1zM388.1 190.2h2.1v2.1h-2.1zM421.1 190.2h2.1v2.1h-2.1zM439.1 190.2h2.1v2.1h-2.1zM388.1 191.8h2.1v2.1h-2.1zM421.1 191.8h2.1v2.1h-2.1zM439.1 191.8h2.1v2.1h-2.1zM421.1 193.2h2.1v2.1h-2.1zM421.1 194.8h2.1v2.1h-2.1zM386.6 196.2h2.1v2.1h-2.1zM421.1 196.2h2.1v2.1h-2.1zM440.6 196.2h2.1v2.1h-2.1zM386.6 197.8h2.1v2.1h-2.1zM421.1 197.8h2.1v2.1h-2.1zM440.6 197.8h2.1v2.1h-2.1zM386.6 199.2h2.1v2.1h-2.1zM421.1 199.2h2.1v2.1h-2.1zM386.6 200.8h2.1v2.1h-2.1zM421.1 200.8h2.1v2.1h-2.1zM386.6 202.2h2.1v2.1h-2.1zM386.6 203.8h2.1v2.1h-2.1zM386.6 205.2h2.1v2.1h-2.1zM442.1 205.2h2.1v2.1h-2.1zM386.6 206.8h2.1v2.1h-2.1zM419.6 206.8h2.1v2.1h-2.1zM442.1 206.8h2.1v2.1h-2.1zM386.6 208.2h2.1v2.1h-2.1zM419.6 208.2h2.1v2.1h-2.1zM386.6 209.8h2.1v2.1h-2.1zM386.6 211.2h2.1v2.1h-2.1zM418.1 211.2h2.1v2.1h-2.1zM386.6 212.8h2.1v2.1h-2.1zM418.1 212.8h2.1v2.1h-2.1zM386.6 214.2h2.1v2.1h-2.1zM416.6 215.8h2.1v2.1h-2.1zM415.1 218.8h2.1v2.1h-2.1zM415.1 220.2h2.1v2.1h-2.1zM388.1 221.8h2.1v2.1h-2.1zM388.1 223.2h2.1v2.1h-2.1zM413.6 223.2h2.1v2.1h-2.1zM443.6 224.8h2.1v2.1h-2.1zM389.6 226.2h2.1v2.1h-2.1zM412.1 226.2h2.1v2.1h-2.1zM443.6 226.2h2.1v2.1h-2.1zM389.6 227.8h2.1v2.1h-2.1zM443.6 227.8h2.1v2.1h-2.1zM410.6 229.2h2.1v2.1h-2.1zM391.1 230.8h2.1v2.1h-2.1zM409.1 230.8h2.1v2.1h-2.1zM445.1 232.2h2.1v2.1h-2.1zM392.6 233.8h2.1v2.1h-2.1zM407.6 233.8h2.1v2.1h-2.1zM394.1 235.2h2.1v2.1h-2.1zM406.1 235.2h2.1v2.1h-2.1zM446.6 235.2h2.1v2.1h-2.1zM395.6 236.8h2.1v2.1h-2.1zM403.1 236.8h3.6v2.1h-3.6zM397.1 238.2h6.6v2.1h-6.6zM448.1 238.2h2.1v2.1h-2.1zM449.6 239.8h2.1v2.1h-2.1zM451.1 242.8h2.1v2.1h-2.1zM452.6 245.8h2.1v2.1h-2.1zM454.1 248.8h2.1v2.1h-2.1zM455.6 250.2h2.1v2.1h-2.1zM455.6 251.8h2.1v2.1h-2.1zM457.1 253.2h2.1v2.1h-2.1zM458.6 254.8h3.6v2.1h-3.6zM461.6 256.2h17.1v2.1h-17.1zM464.6 257.8h23.1v2.1h-23.1zM469.1 259.2h18.6v2.1h-18.6zM475.1 260.8h12.6v2.1h-12.6z"/>
<path fill="#eaf1f5" d="M439.1 176.8h2.1v2.1h-2.1zM439.1 178.2h2.1v2.1h-2.1zM439.1 179.8h2.1v2.1h-2.1zM439.1 181.2h2.1v2.1h-2.1zM401.6 182.8h12.6v2.1h-12.6zM439.1 182.8h2.1v2.1h-2.1zM395.6 184.2h6.6v2.1h-6.6zM413.6 184.2h3.6v2.1h-3.6zM439.1 184.2h2.1v2.1h-2.1zM392.6 185.8h3.6v2.1h-3.6zM416.6 185.8h2.1v2.1h-2.1zM439.1 185.8h2.1v2.1h-2.1zM391.1 187.2h2.1v2.1h-2.1zM418.1 187.2h2.1v2.1h-2.1zM439.1 187.2h2.1v2.1h-2.1zM389.6 188.8h2.1v2.1h-2.1zM419.6 188.8h2.1v2.1h-2.1zM389.6 190.2h2.1v2.1h-2.1zM419.6 190.2h2.1v2.1h-2.1zM388.1 193.2h2.1v2.1h-2.1zM440.6 193.2h2.1v2.1h-2.1zM388.1 194.8h2.1v2.1h-2.1zM440.6 194.8h2.1v2.1h-2.1zM388.1 196.2h2.1v2.1h-2.1zM442.1 202.2h2.1v2.1h-2.1zM419.6 203.8h2.1v2.1h-2.1zM442.1 203.8h2.1v2.1h-2.1zM419.6 205.2h2.1v2.1h-2.1zM418.1 209.8h2.1v2.1h-2.1zM416.6 212.8h2.1v2.1h-2.1zM416.6 214.2h2.1v2.1h-2.1zM443.6 214.2h2.1v2.1h-2.1zM443.6 215.8h2.1v2.1h-2.1zM415.1 217.2h2.1v2.1h-2.1zM443.6 217.2h2.1v2.1h-2.1zM388.1 218.8h2.1v2.1h-2.1zM443.6 218.8h2.1v2.1h-2.1zM388.1 220.2h2.1v2.1h-2.1zM413.6 220.2h2.1v2.1h-2.1zM443.6 220.2h2.1v2.1h-2.1zM413.6 221.8h2.1v2.1h-2.1zM443.6 221.8h2.1v2.1h-2.1zM412.1 223.2h2.1v2.1h-2.1zM443.6 223.2h2.1v2.1h-2.1zM389.6 224.8h2.1v2.1h-2.1zM412.1 224.8h2.1v2.1h-2.1zM410.6 226.2h2.1v2.1h-2.1zM391.1 227.8h2.1v2.1h-2.1zM410.6 227.8h2.1v2.1h-2.1zM391.1 229.2h2.1v2.1h-2.1zM409.1 229.2h2.1v2.1h-2.1zM445.1 229.2h2.1v2.1h-2.1zM392.6 230.8h2.1v2.1h-2.1zM445.1 230.8h2.1v2.1h-2.1zM392.6 232.2h2.1v2.1h-2.1zM407.6 232.2h2.1v2.1h-2.1zM394.1 233.8h2.1v2.1h-2.1zM406.1 233.8h2.1v2.1h-2.1zM446.6 233.8h2.1v2.1h-2.1zM395.6 235.2h2.1v2.1h-2.1zM403.1 235.2h3.6v2.1h-3.6zM397.1 236.8h6.6v2.1h-6.6zM448.1 236.8h2.1v2.1h-2.1zM449.6 238.2h2.1v2.1h-2.1zM451.1 241.2h2.1v2.1h-2.1zM452.6 244.2h2.1v2.1h-2.1zM454.1 247.2h2.1v2.1h-2.1zM455.6 248.8h2.1v2.1h-2.1zM457.1 250.2h2.1v2.1h-2.1zM457.1 251.8h3.6v2.1h-3.6zM458.6 253.2h5.1v2.1h-5.1zM467.6 253.2h20.1v2.1h-20.1zM461.6 254.8h26.1v2.1h-26.1zM478.1 256.2h9.6v2.1h-9.6z"/>
<path fill="#f3f5f6" d="M401.6 184.2h12.6v2.1h-12.6zM395.6 185.8h3.6v2.1h-3.6zM413.6 185.8h3.6v2.1h-3.6zM392.6 187.2h3.6v2.1h-3.6zM416.6 187.2h2.1v2.1h-2.1zM440.6 187.2h2.1v2.1h-2.1zM391.1 188.8h2.1v2.1h-2.1zM418.1 188.8h2.1v2.1h-2.1zM440.6 188.8h2.1v2.1h-2.1zM391.1 190.2h2.1v2.1h-2.1zM440.6 190.2h2.1v2.1h-2.1zM389.6 191.8h2.1v2.1h-2.1zM419.6 191.8h2.1v2.1h-2.1zM440.6 191.8h2.1v2.1h-2.1zM389.6 193.2h2.1v2.1h-2.1zM419.6 193.2h2.1v2.1h-2.1zM419.6 194.8h2.1v2.1h-2.1zM419.6 196.2h2.1v2.1h-2.1zM388.1 197.8h2.1v2.1h-2.1zM419.6 197.8h2.1v2.1h-2.1zM388.1 199.2h2.1v2.1h-2.1zM419.6 199.2h2.1v2.1h-2.1zM442.1 199.2h2.1v2.1h-2.1zM388.1 200.8h2.1v2.1h-2.1zM419.6 200.8h2.1v2.1h-2.1zM442.1 200.8h2.1v2.1h-2.1zM419.6 202.2h2.1v2.1h-2.1zM418.1 206.8h2.1v2.1h-2.1zM418.1 208.2h2.1v2.1h-2.1zM443.6 209.8h2.1v2.1h-2.1zM416.6 211.2h2.1v2.1h-2.1zM443.6 211.2h2.1v2.1h-2.1zM443.6 212.8h2.1v2.1h-2.1zM388.1 214.2h2.1v2.1h-2.1zM415.1 214.2h2.1v2.1h-2.1zM388.1 215.8h2.1v2.1h-2.1zM415.1 215.8h2.1v2.1h-2.1zM388.1 217.2h2.1v2.1h-2.1zM413.6 218.8h2.1v2.1h-2.1zM389.6 221.8h2.1v2.1h-2.1zM412.1 221.8h2.1v2.1h-2.1zM389.6 223.2h2.1v2.1h-2.1zM410.6 224.8h2.1v2.1h-2.1zM391.1 226.2h2.1v2.1h-2.1zM445.1 226.2h2.1v2.1h-2.1zM409.1 227.8h2.1v2.1h-2.1zM445.1 227.8h2.1v2.1h-2.1zM392.6 229.2h2.1v2.1h-2.1zM407.6 229.2h2.1v2.1h-2.1zM407.6 230.8h2.1v2.1h-2.1zM394.1 232.2h2.1v2.1h-2.1zM406.1 232.2h2.1v2.1h-2.1zM446.6 232.2h2.1v2.1h-2.1zM395.6 233.8h2.1v2.1h-2.1zM403.1 233.8h3.6v2.1h-3.6zM397.1 235.2h6.6v2.1h-6.6zM448.1 235.2h2.1v2.1h-2.1zM449.6 236.8h2.1v2.1h-2.1zM451.1 239.8h2.1v2.1h-2.1zM452.6 242.8h2.1v2.1h-2.1zM454.1 244.2h2.1v2.1h-2.1zM454.1 245.8h2.1v2.1h-2.1zM455.6 247.2h2.1v2.1h-2.1zM457.1 248.8h2.1v2.1h-2.1zM458.6 250.2h2.1v2.1h-2.1zM470.6 250.2h17.1v2.1h-17.1zM460.1 251.8h27.6v2.1h-27.6zM463.1 253.2h5.1v2.1h-5.1z"/>
<path fill="#f8f4f2" d="M440.6 176.8h2.1v2.1h-2.1zM440.6 178.2h2.1v2.1h-2.1zM440.6 179.8h2.1v2.1h-2.1zM440.6 181.2h2.1v2.1h-2.1zM440.6 182.8h2.1v2.1h-2.1zM440.6 184.2h2.1v2.1h-2.1zM398.6 185.8h5.1v2.1h-5.1zM410.6 185.8h3.6v2.1h-3.6zM440.6 185.8h2.1v2.1h-2.1zM395.6 187.2h2.1v2.1h-2.1zM415.1 187.2h2.1v2.1h-2.1zM392.6 188.8h2.1v2.1h-2.1zM416.6 188.8h2.1v2.1h-2.1zM418.1 190.2h2.1v2.1h-2.1zM391.1 191.8h2.1v2.1h-2.1zM418.1 191.8h2.1v2.1h-2.1zM389.6 194.8h2.1v2.1h-2.1zM442.1 194.8h2.1v2.1h-2.1zM442.1 196.2h2.1v2.1h-2.1zM442.1 197.8h2.1v2.1h-2.1zM388.1 202.2h2.1v2.1h-2.1zM388.1 203.8h2.1v2.1h-2.1zM388.1 205.2h2.1v2.1h-2.1zM418.1 205.2h2.1v2.1h-2.1zM443.6 205.2h2.1v2.1h-2.1zM388.1 206.8h2.1v2.1h-2.1zM443.6 206.8h2.1v2.1h-2.1zM388.1 208.2h2.1v2.1h-2.1zM416.6 208.2h2.1v2.1h-2.1zM443.6 208.2h2.1v2.1h-2.1zM388.1 209.8h2.1v2.1h-2.1zM416.6 209.8h2.1v2.1h-2.1zM388.1 211.2h2.1v2.1h-2.1zM388.1 212.8h2.1v2.1h-2.1zM415.1 212.8h2.1v2.1h-2.1zM413.6 215.8h2.1v2.1h-2.1zM413.6 217.2h2.1v2.1h-2.1zM389.6 220.2h2.1v2.1h-2.1zM412.1 220.2h2.1v2.1h-2.1zM445.1 220.2h2.1v2.1h-2.1zM445.1 221.8h2.1v2.1h-2.1zM410.6 223.2h2.1v2.1h-2.1zM445.1 223.2h2.1v2.1h-2.1zM391.1 224.8h2.1v2.1h-2.1zM445.1 224.8h2.1v2.1h-2.1zM409.1 226.2h2.1v2.1h-2.1zM392.6 227.8h2.1v2.1h-2.1zM407.6 227.8h2.1v2.1h-2.1zM394.1 229.2h2.1v2.1h-2.1zM446.6 229.2h2.1v2.1h-2.1zM394.1 230.8h2.1v2.1h-2.1zM406.1 230.8h2.1v2.1h-2.1zM446.6 230.8h2.1v2.1h-2.1zM395.6 232.2h2.1v2.1h-2.1zM403.1 232.2h3.6v2.1h-3.6zM448.1 232.2h2.1v2.1h-2.1zM397.1 233.8h6.6v2.1h-6.6zM448.1 233.8h2.1v2.1h-2.1zM449.6 235.2h2.1v2.1h-2.1zM451.1 238.2h2.1v2.1h-2.1zM452.6 239.8h2.1v2.1h-2.1zM452.6 241.2h2.1v2.1h-2.1zM454.1 242.8h2.1v2.1h-2.1zM455.6 245.8h2.1v2.1h-2.1zM457.1 247.2h2.1v2.1h-2.1zM475.1 247.2h12.6v2.1h-12.6zM458.6 248.8h3.6v2.1h-3.6zM467.6 248.8h20.1v2.1h-20.1zM460.1 250.2h11.1v2.1h-11.1z"/>
<path fill="#f9eee7" d="M442.1 176.8h2.1v2.1h-2.1zM442.1 178.2h2.1v2.1h-2.1zM442.1 179.8h2.1v2.1h-2.1zM442.1 181.2h2.1v2.1h-2.1zM442.1 182.8h2.1v2.1h-2.1zM442.1 184.2h2.1v2.1h-2.1zM403.1 185.8h8.1v2.1h-8.1zM442.1 185.8h2.1v2.1h-2.1zM397.1 187.2h3.6v2.1h-3.6zM413.6 187.2h2.1v2.1h-2.1zM442.1 187.2h2.1v2.1h-2.1zM394.1 188.8h2.1v2.1h-2.1zM415.1 188.8h2.1v2.1h-2.1zM442.1 188.8h2.1v2.1h-2.1zM392.6 190.2h2.1v2.1h-2.1zM416.6 190.2h2.1v2.1h-2.1zM442.1 190.2h2.1v2.1h-2.1zM442.1 191.8h2.1v2.1h-2.1zM391.1 193.2h2.1v2.1h-2.1zM418.1 193.2h2.1v2.1h-2.1zM442.1 193.2h2.1v2.1h-2.1zM389.6 196.2h2.1v2.1h-2.1zM389.6 197.8h2.1v2.1h-2.1zM418.1 200.8h2.1v2.1h-2.1zM418.1 202.2h2.1v2.1h-2.1zM443.6 202.2h2.1v2.1h-2.1zM418.1 203.8h2.1v2.1h-2.1zM443.6 203.8h2.1v2.1h-2.1zM416.6 206.8h2.1v2.1h-2.1zM415.1 209.8h2.1v2.1h-2.1zM415.1 211.2h2.1v2.1h-2.1zM413.6 214.2h2.1v2.1h-2.1zM445.1 215.8h2.1v2.1h-2.1zM389.6 217.2h2.1v2.1h-2.1zM412.1 217.2h2.1v2.1h-2.1zM445.1 217.2h2.1v2.1h-2.1zM389.6 218.8h2.1v2.1h-2.1zM412.1 218.8h2.1v2.1h-2.1zM445.1 218.8h2.1v2.1h-2.1zM410.6 220.2h2.1v2.1h-2.1zM391.1 221.8h2.1v2.1h-2.1zM410.6 221.8h2.1v2.1h-2.1zM391.1 223.2h2.1v2.1h-2.1zM409.1 223.2h2.1v2.1h-2.1zM392.6 224.8h2.1v2.1h-2.1zM409.1 224.8h2.1v2.1h-2.1zM392.6 226.2h2.1v2.1h-2.1zM407.6 226.2h2.1v2.1h-2.1zM446.6 226.2h2.1v2.1h-2.1zM394.1 227.8h2.1v2.1h-2.1zM406.1 227.8h2.1v2.1h-2.1zM446.6 227.8h2.1v2.1h-2.1zM404.6 229.2h3.6v2.1h-3.6zM395.6 230.8h2.1v2.1h-2.1zM403.1 230.8h3.6v2.1h-3.6zM448.1 230.8h2.1v2.1h-2.1zM397.1 232.2h6.6v2.1h-6.6zM449.6 233.8h2.1v2.1h-2.1zM451.1 235.2h2.1v2.1h-2.1zM451.1 236.8h2.1v2.1h-2.1zM452.6 238.2h2.1v2.1h-2.1zM454.1 241.2h2.1v2.1h-2.1zM455.6 242.8h2.1v2.1h-2.1zM455.6 244.2h2.1v2.1h-2.1zM476.6 244.2h11.1v2.1h-11.1zM457.1 245.8h3.6v2.1h-3.6zM470.6 245.8h17.1v2.1h-17.1zM458.6 247.2h17.1v2.1h-17.1zM461.6 248.8h6.6v2.1h-6.6z"/>
<path fill="#fae8de" d="M443.6 176.8h2.1v2.1h-2.1zM443.6 178.2h2.1v2.1h-2.1zM443.6 179.8h2.1v2.1h-2.1zM443.6 181.2h2.1v2.1h-2.1zM443.6 182.8h2.1v2.1h-2.1zM443.6 184.2h2.1v2.1h-2.1zM400.1 187.2h3.6v2.1h-3.6zM410.6 187.2h3.6v2.1h-3.6zM395.6 188.8h2.1v2.1h-2.1zM413.6 188.8h2.1v2.1h-2.1zM394.1 190.2h2.1v2.1h-2.1zM392.6 191.8h2.1v2.1h-2.1zM416.6 191.8h2.1v2.1h-2.1zM391.1 194.8h2.1v2.1h-2.1zM418.1 194.8h2.1v2.1h-2.1zM418.1 196.2h2.1v2.1h-2.1zM418.1 197.8h2.1v2.1h-2.1zM443.6 197.8h2.1v2.1h-2.1zM389.6 199.2h2.1v2.1h-2.1zM418.1 199.2h2.1v2.1h-2.1zM443.6 199.2h2.1v2.1h-2.1zM389.6 200.8h2.1v2.1h-2.1zM443.6 200.8h2.1v2.1h-2.1zM416.6 205.2h2.1v2.1h-2.1zM415.1 208.2h2.1v2.1h-2.1zM413.6 211.2h2.1v2.1h-2.1zM445.1 211.2h2.1v2.1h-2.1zM413.6 212.8h2.1v2.1h-2.1zM445.1 212.8h2.1v2.1h-2.1zM389.6 214.2h2.1v2.1h-2.1zM445.1 214.2h2.1v2.1h-2.1zM389.6 215.8h2.1v2.1h-2.1zM412.1 215.8h2.1v2.1h-2.1zM410.6 218.8h2.1v2.1h-2.1zM391.1 220.2h2.1v2.1h-2.1zM409.1 221.8h2.1v2.1h-2.1zM446.6 221.8h2.1v2.1h-2.1zM392.6 223.2h2.1v2.1h-2.1zM446.6 223.2h2.1v2.1h-2.1zM407.6 224.8h2.1v2.1h-2.1zM446.6 224.8h2.1v2.1h-2.1zM394.1 226.2h2.1v2.1h-2.1zM406.1 226.2h2.1v2.1h-2.1zM395.6 227.8h2.1v2.1h-2.1zM404.6 227.8h2.1v2.1h-2.1zM448.1 227.8h2.1v2.1h-2.1zM395.6 229.2h3.6v2.1h-3.6zM403.1 229.2h2.1v2.1h-2.1zM448.1 229.2h2.1v2.1h-2.1zM397.1 230.8h6.6v2.1h-6.6zM449.6 230.8h2.1v2.1h-2.1zM449.6 232.2h2.1v2.1h-2.1zM451.1 233.8h2.1v2.1h-2.1zM452.6 235.2h2.1v2.1h-2.1zM452.6 236.8h2.1v2.1h-2.1zM454.1 238.2h2.1v2.1h-2.1zM454.1 239.8h2.1v2.1h-2.1zM481.1 239.8h6.6v2.1h-6.6zM455.6 241.2h2.1v2.1h-2.1zM476.6 241.2h11.1v2.1h-11.1zM457.1 242.8h2.1v2.1h-2.1zM473.6 242.8h14.1v2.1h-14.1zM457.1 244.2h3.6v2.1h-3.6zM467.6 244.2h9.6v2.1h-9.6zM460.1 245.8h11.1v2.1h-11.1z"/>
<path fill="#fce2d2" d="M443.6 185.8h2.1v2.1h-2.1zM403.1 187.2h8.1v2.1h-8.1zM443.6 187.2h2.1v2.1h-2.1zM397.1 188.8h3.6v2.1h-3.6zM412.1 188.8h2.1v2.1h-2.1zM443.6 188.8h2.1v2.1h-2.1zM395.6 190.2h2.1v2.1h-2.1zM415.1 190.2h2.1v2.1h-2.1zM443.6 190.2h2.1v2.1h-2.1zM443.6 191.8h2.1v2.1h-2.1zM392.6 193.2h2.1v2.1h-2.1zM416.6 193.2h2.1v2.1h-2.1zM443.6 193.2h2.1v2.1h-2.1zM443.6 194.8h2.1v2.1h-2.1zM391.1 196.2h2.1v2.1h-2.1zM443.6 196.2h2.1v2.1h-2.1zM389.6 202.2h2.1v2.1h-2.1zM416.6 202.2h2.1v2.1h-2.1zM389.6 203.8h2.1v2.1h-2.1zM416.6 203.8h2.1v2.1h-2.1zM389.6 205.2h2.1v2.1h-2.1zM389.6 206.8h2.1v2.1h-2.1zM415.1 206.8h2.1v2.1h-2.1zM445.1 206.8h2.1v2.1h-2.1zM389.6 208.2h2.1v2.1h-2.1zM445.1 208.2h2.1v2.1h-2.1zM389.6 209.8h2.1v2.1h-2.1zM413.6 209.8h2.1v2.1h-2.1zM445.1 209.8h2.1v2.1h-2.1zM389.6 211.2h2.1v2.1h-2.1zM389.6 212.8h2.1v2.1h-2.1zM412.1 212.8h2.1v2.1h-2.1zM412.1 214.2h2.1v2.1h-2.1zM410.6 217.2h2.1v2.1h-2.1zM391.1 218.8h2.1v2.1h-2.1zM446.6 218.8h2.1v2.1h-2.1zM409.1 220.2h2.1v2.1h-2.1zM446.6 220.2h2.1v2.1h-2.1zM392.6 221.8h2.1v2.1h-2.1zM407.6 221.8h2.1v2.1h-2.1zM407.6 223.2h2.1v2.1h-2.1zM394.1 224.8h2.1v2.1h-2.1zM406.1 224.8h2.1v2.1h-2.1zM448.1 224.8h2.1v2.1h-2.1zM395.6 226.2h2.1v2.1h-2.1zM404.6 226.2h2.1v2.1h-2.1zM448.1 226.2h2.1v2.1h-2.1zM397.1 227.8h2.1v2.1h-2.1zM403.1 227.8h2.1v2.1h-2.1zM398.6 229.2h5.1v2.1h-5.1zM449.6 229.2h2.1v2.1h-2.1zM451.1 232.2h2.1v2.1h-2.1zM452.6 233.8h2.1v2.1h-2.1zM454.1 235.2h2.1v2.1h-2.1zM482.6 235.2h5.1v2.1h-5.1zM454.1 236.8h2.1v2.1h-2.1zM478.1 236.8h9.6v2.1h-9.6zM455.6 238.2h2.1v2.1h-2.1zM476.6 238.2h11.1v2.1h-11.1zM455.6 239.8h3.6v2.1h-3.6zM473.6 239.8h8.1v2.1h-8.1zM457.1 241.2h3.6v2.1h-3.6zM470.6 241.2h6.6v2.1h-6.6zM458.6 242.8h5.1v2.1h-5.1zM464.6 242.8h9.6v2.1h-9.6zM460.1 244.2h8.1v2.1h-8.1z"/>
<path fill="#fddcc9" d="M445.1 176.8h2.1v2.1h-2.1zM445.1 178.2h2.1v2.1h-2.1zM445.1 179.8h2.1v2.1h-2.1zM445.1 181.2h2.1v2.1h-2.1zM445.1 182.8h2.1v2.1h-2.1zM445.1 184.2h2.1v2.1h-2.1zM445.1 185.8h2.1v2.1h-2.1zM445.1 187.2h2.1v2.1h-2.1zM400.1 188.8h2.1v2.1h-2.1zM410.6 188.8h2.1v2.1h-2.1zM445.1 188.8h2.1v2.1h-2.1zM413.6 190.2h2.1v2.1h-2.1zM394.1 191.8h2.1v2.1h-2.1zM415.1 191.8h2.1v2.1h-2.1zM416.6 194.8h2.1v2.1h-2.1zM416.6 196.2h2.1v2.1h-2.1zM391.1 197.8h2.1v2.1h-2.1zM416.6 197.8h2.1v2.1h-2.1zM416.6 199.2h2.1v2.1h-2.1zM416.6 200.8h2.1v2.1h-2.1zM445.1 202.2h2.1v2.1h-2.1zM445.1 203.8h2.1v2.1h-2.1zM415.1 205.2h2.1v2.1h-2.1zM445.1 205.2h2.1v2.1h-2.1zM413.6 208.2h2.1v2.1h-2.1zM412.1 211.2h2.1v2.1h-2.1zM410.6 214.2h2.1v2.1h-2.1zM446.6 214.2h2.1v2.1h-2.1zM391.1 215.8h2.1v2.1h-2.1zM410.6 215.8h2.1v2.1h-2.1zM446.6 215.8h2.1v2.1h-2.1zM391.1 217.2h2.1v2.1h-2.1zM409.1 217.2h2.1v2.1h-2.1zM446.6 217.2h2.1v2.1h-2.1zM409.1 218.8h2.1v2.1h-2.1zM392.6 220.2h2.1v2.1h-2.1zM407.6 220.2h2.1v2.1h-2.1zM394.1 223.2h2.1v2.1h-2.1zM406.1 223.2h2.1v2.1h-2.1zM448.1 223.2h2.1v2.1h-2.1zM395.6 224.8h2.1v2.1h-2.1zM404.6 224.8h2.1v2.1h-2.1zM397.1 226.2h3.6v2.1h-3.6zM401.6 226.2h3.6v2.1h-3.6zM449.6 226.2h2.1v2.1h-2.1zM398.6 227.8h5.1v2.1h-5.1zM449.6 227.8h2.1v2.1h-2.1zM451.1 229.2h2.1v2.1h-2.1zM451.1 230.8h2.1v2.1h-2.1zM452.6 232.2h2.1v2.1h-2.1zM481.1 232.2h6.6v2.1h-6.6zM454.1 233.8h2.1v2.1h-2.1zM478.1 233.8h9.6v2.1h-9.6zM455.6 235.2h2.1v2.1h-2.1zM476.6 235.2h6.6v2.1h-6.6zM455.6 236.8h3.6v2.1h-3.6zM473.6 236.8h5.1v2.1h-5.1zM457.1 238.2h2.1v2.1h-2.1zM470.6 238.2h6.6v2.1h-6.6zM458.6 239.8h3.6v2.1h-3.6zM467.6 239.8h6.6v2.1h-6.6zM460.1 241.2h11.1v2.1h-11.1zM463.1 242.8h2.1v2.1h-2.1z"/>
<path fill="#fcd3bc" d="M446.6 176.8h2.1v2.1h-2.1zM446.6 178.2h2.1v2.1h-2.1zM446.6 179.8h2.1v2.1h-2.1zM446.6 181.2h2.1v2.1h-2.1zM446.6 182.8h2.1v2.1h-2.1zM446.6 184.2h2.1v2.1h-2.1zM446.6 185.8h2.1v2.1h-2.1zM401.6 188.8h9.6v2.1h-9.6zM397.1 190.2h2.1v2.1h-2.1zM412.1 190.2h2.1v2.1h-2.1zM445.1 190.2h2.1v2.1h-2.1zM395.6 191.8h2.1v2.1h-2.1zM445.1 191.8h2.1v2.1h-2.1zM394.1 193.2h2.1v2.1h-2.1zM415.1 193.2h2.1v2.1h-2.1zM445.1 193.2h2.1v2.1h-2.1zM392.6 194.8h2.1v2.1h-2.1zM445.1 194.8h2.1v2.1h-2.1zM445.1 196.2h2.1v2.1h-2.1zM445.1 197.8h2.1v2.1h-2.1zM391.1 199.2h2.1v2.1h-2.1zM445.1 199.2h2.1v2.1h-2.1zM391.1 200.8h2.1v2.1h-2.1zM445.1 200.8h2.1v2.1h-2.1zM415.1 203.8h2.1v2.1h-2.1zM413.6 206.8h2.1v2.1h-2.1zM412.1 209.8h2.1v2.1h-2.1zM446.6 211.2h2.1v2.1h-2.1zM410.6 212.8h2.1v2.1h-2.1zM446.6 212.8h2.1v2.1h-2.1zM391.1 214.2h2.1v2.1h-2.1zM409.1 215.8h2.1v2.1h-2.1zM392.6 218.8h2.1v2.1h-2.1zM407.6 218.8h2.1v2.1h-2.1zM394.1 220.2h2.1v2.1h-2.1zM406.1 220.2h2.1v2.1h-2.1zM448.1 220.2h2.1v2.1h-2.1zM394.1 221.8h2.1v2.1h-2.1zM406.1 221.8h2.1v2.1h-2.1zM448.1 221.8h2.1v2.1h-2.1zM395.6 223.2h2.1v2.1h-2.1zM404.6 223.2h2.1v2.1h-2.1zM397.1 224.8h8.1v2.1h-8.1zM449.6 224.8h2.1v2.1h-2.1zM400.1 226.2h2.1v2.1h-2.1zM451.1 227.8h2.1v2.1h-2.1zM452.6 229.2h2.1v2.1h-2.1zM484.1 229.2h3.6v2.1h-3.6zM452.6 230.8h2.1v2.1h-2.1zM478.1 230.8h9.6v2.1h-9.6zM454.1 232.2h2.1v2.1h-2.1zM476.6 232.2h5.1v2.1h-5.1zM455.6 233.8h2.1v2.1h-2.1zM473.6 233.8h5.1v2.1h-5.1zM457.1 235.2h2.1v2.1h-2.1zM472.1 235.2h5.1v2.1h-5.1zM458.6 236.8h3.6v2.1h-3.6zM469.1 236.8h5.1v2.1h-5.1zM458.6 238.2h12.6v2.1h-12.6zM461.6 239.8h6.6v2.1h-6.6z"/>
<path fill="#f9c6ac" d="M448.1 176.8h2.1v2.1h-2.1zM448.1 178.2h2.1v2.1h-2.1zM448.1 179.8h2.1v2.1h-2.1zM448.1 181.2h2.1v2.1h-2.1zM448.1 182.8h2.1v2.1h-2.1zM448.1 184.2h2.1v2.1h-2.1zM446.6 187.2h2.1v2.1h-2.1zM446.6 188.8h2.1v2.1h-2.1zM398.6 190.2h2.1v2.1h-2.1zM410.6 190.2h2.1v2.1h-2.1zM446.6 190.2h2.1v2.1h-2.1zM413.6 191.8h2.1v2.1h-2.1zM415.1 194.8h2.1v2.1h-2.1zM392.6 196.2h2.1v2.1h-2.1zM415.1 200.8h2.1v2.1h-2.1zM391.1 202.2h2.1v2.1h-2.1zM415.1 202.2h2.1v2.1h-2.1zM391.1 203.8h2.1v2.1h-2.1zM413.6 205.2h2.1v2.1h-2.1zM446.6 206.8h2.1v2.1h-2.1zM412.1 208.2h2.1v2.1h-2.1zM446.6 208.2h2.1v2.1h-2.1zM391.1 209.8h2.1v2.1h-2.1zM446.6 209.8h2.1v2.1h-2.1zM391.1 211.2h2.1v2.1h-2.1zM410.6 211.2h2.1v2.1h-2.1zM391.1 212.8h2.1v2.1h-2.1zM409.1 214.2h2.1v2.1h-2.1zM392.6 217.2h2.1v2.1h-2.1zM407.6 217.2h2.1v2.1h-2.1zM448.1 217.2h2.1v2.1h-2.1zM394.1 218.8h2.1v2.1h-2.1zM406.1 218.8h2.1v2.1h-2.1zM448.1 218.8h2.1v2.1h-2.1zM395.6 221.8h2.1v2.1h-2.1zM403.1 221.8h3.6v2.1h-3.6zM449.6 221.8h2.1v2.1h-2.1zM397.1 223.2h8.1v2.1h-8.1zM449.6 223.2h2.1v2.1h-2.1zM451.1 226.2h2.1v2.1h-2.1zM452.6 227.8h2.1v2.1h-2.1zM479.6 227.8h8.1v2.1h-8.1zM454.1 229.2h2.1v2.1h-2.1zM476.6 229.2h8.1v2.1h-8.1zM454.1 230.8h3.6v2.1h-3.6zM475.1 230.8h3.6v2.1h-3.6zM455.6 232.2h3.6v2.1h-3.6zM472.1 232.2h5.1v2.1h-5.1zM457.1 233.8h3.6v2.1h-3.6zM469.1 233.8h5.1v2.1h-5.1zM458.6 235.2h14.1v2.1h-14.1zM461.6 236.8h8.1v2.1h-8.1z"/>
<path fill="#f8bb9e" d="M449.6 176.8h2.1v2.1h-2.1zM449.6 178.2h2.1v2.1h-2.1zM449.6 179.8h2.1v2.1h-2.1zM449.6 181.2h2.1v2.1h-2.1zM449.6 182.8h2.1v2.1h-2.1zM449.6 184.2h2.1v2.1h-2.1zM448.1 185.8h2.1v2.1h-2.1zM448.1 187.2h2.1v2.1h-2.1zM448.1 188.8h2.1v2.1h-2.1zM400.1 190.2h3.6v2.1h-3.6zM409.1 190.2h2.1v2.1h-2.1zM397.1 191.8h2.1v2.1h-2.1zM412.1 191.8h2.1v2.1h-2.1zM446.6 191.8h2.1v2.1h-2.1zM395.6 193.2h2.1v2.1h-2.1zM413.6 193.2h2.1v2.1h-2.1zM446.6 193.2h2.1v2.1h-2.1zM394.1 194.8h2.1v2.1h-2.1zM446.6 194.8h2.1v2.1h-2.1zM415.1 196.2h2.1v2.1h-2.1zM446.6 196.2h2.1v2.1h-2.1zM392.6 197.8h2.1v2.1h-2.1zM415.1 197.8h2.1v2.1h-2.1zM446.6 197.8h2.1v2.1h-2.1zM415.1 199.2h2.1v2.1h-2.1zM446.6 199.2h2.1v2.1h-2.1zM446.6 200.8h2.1v2.1h-2.1zM446.6 202.2h2.1v2.1h-2.1zM413.6 203.8h2.1v2.1h-2.1zM446.6 203.8h2.1v2.1h-2.1zM391.1 205.2h2.1v2.1h-2.1zM446.6 205.2h2.1v2.1h-2.1zM391.1 206.8h2.1v2.1h-2.1zM412.1 206.8h2.1v2.1h-2.1zM391.1 208.2h2.1v2.1h-2.1zM410.6 209.8h2.1v2.1h-2.1zM409.1 212.8h2.1v2.1h-2.1zM392.6 214.2h2.1v2.1h-2.1zM448.1 214.2h2.1v2.1h-2.1zM392.6 215.8h2.1v2.1h-2.1zM407.6 215.8h2.1v2.1h-2.1zM448.1 215.8h2.1v2.1h-2.1zM406.1 217.2h2.1v2.1h-2.1zM395.6 220.2h2.1v2.1h-2.1zM403.1 220.2h3.6v2.1h-3.6zM449.6 220.2h2.1v2.1h-2.1zM397.1 221.8h6.6v2.1h-6.6zM451.1 223.2h2.1v2.1h-2.1zM451.1 224.8h2.1v2.1h-2.1zM452.6 226.2h2.1v2.1h-2.1zM478.1 226.2h9.6v2.1h-9.6zM454.1 227.8h2.1v2.1h-2.1zM475.1 227.8h5.1v2.1h-5.1zM455.6 229.2h2.1v2.1h-2.1zM473.6 229.2h3.6v2.1h-3.6zM457.1 230.8h3.6v2.1h-3.6zM470.6 230.8h5.1v2.1h-5.1zM458.6 232.2h5.1v2.1h-5.1zM466.1 232.2h6.6v2.1h-6.6zM460.1 233.8h9.6v2.1h-9.6z"/>
<path fill="#f6af8e" d="M451.1 176.8h2.1v2.1h-2.1zM451.1 178.2h2.1v2.1h-2.1zM451.1 179.8h2.1v2.1h-2.1zM451.1 181.2h2.1v2.1h-2.1zM451.1 182.8h2.1v2.1h-2.1zM451.1 184.2h2.1v2.1h-2.1zM449.6 185.8h2.1v2.1h-2.1zM449.6 187.2h2.1v2.1h-2.1zM403.1 190.2h6.6v2.1h-6.6zM448.1 190.2h2.1v2.1h-2.1zM398.6 191.8h2.1v2.1h-2.1zM410.6 191.8h2.1v2.1h-2.1zM448.1 191.8h2.1v2.1h-2.1zM413.6 194.8h2.1v2.1h-2.1zM394.1 196.2h2.1v2.1h-2.1zM392.6 199.2h2.1v2.1h-2.1zM413.6 200.8h2.1v2.1h-2.1zM413.6 202.2h2.1v2.1h-2.1zM412.1 205.2h2.1v2.1h-2.1zM410.6 208.2h2.1v2.1h-2.1zM409.1 211.2h2.1v2.1h-2.1zM448.1 211.2h2.1v2.1h-2.1zM392.6 212.8h2.1v2.1h-2.1zM448.1 212.8h2.1v2.1h-2.1zM407.6 214.2h2.1v2.1h-2.1zM406.1 215.8h2.1v2.1h-2.1zM394.1 217.2h2.1v2.1h-2.1zM449.6 217.2h2.1v2.1h-2.1zM395.6 218.8h2.1v2.1h-2.1zM403.1 218.8h3.6v2.1h-3.6zM449.6 218.8h2.1v2.1h-2.1zM397.1 220.2h6.6v2.1h-6.6zM451.1 221.8h2.1v2.1h-2.1zM452.6 224.8h2.1v2.1h-2.1zM478.1 224.8h9.6v2.1h-9.6zM454.1 226.2h2.1v2.1h-2.1zM475.1 226.2h3.6v2.1h-3.6zM455.6 227.8h3.6v2.1h-3.6zM472.1 227.8h3.6v2.1h-3.6zM457.1 229.2h5.1v2.1h-5.1zM469.1 229.2h5.1v2.1h-5.1zM460.1 230.8h11.1v2.1h-11.1zM463.1 232.2h3.6v2.1h-3.6z"/>
<path fill="#f3a481" d="M452.6 176.8h2.1v2.1h-2.1zM452.6 178.2h2.1v2.1h-2.1zM452.6 179.8h2.1v2.1h-2.1zM452.6 181.2h2.1v2.1h-2.1zM452.6 182.8h2.1v2.1h-2.1zM452.6 184.2h2.1v2.1h-2.1zM451.1 185.8h2.1v2.1h-2.1zM451.1 187.2h2.1v2.1h-2.1zM449.6 188.8h2.1v2.1h-2.1zM449.6 190.2h2.1v2.1h-2.1zM400.1 191.8h2.1v2.1h-2.1zM409.1 191.8h2.1v2.1h-2.1zM397.1 193.2h2.1v2.1h-2.1zM412.1 193.2h2.1v2.1h-2.1zM448.1 193.2h2.1v2.1h-2.1zM395.6 194.8h2.1v2.1h-2.1zM448.1 194.8h2.1v2.1h-2.1zM413.6 196.2h2.1v2.1h-2.1zM448.1 196.2h2.1v2.1h-2.1zM413.6 197.8h2.1v2.1h-2.1zM413.6 199.2h2.1v2.1h-2.1zM392.6 200.8h2.1v2.1h-2.1zM392.6 202.2h2.1v2.1h-2.1zM412.1 203.8h2.1v2.1h-2.1zM410.6 206.8h2.1v2.1h-2.1zM448.1 206.8h2.1v2.1h-2.1zM448.1 208.2h2.1v2.1h-2.1zM409.1 209.8h2.1v2.1h-2.1zM448.1 209.8h2.1v2.1h-2.1zM392.6 211.2h2.1v2.1h-2.1zM407.6 212.8h2.1v2.1h-2.1zM406.1 214.2h2.1v2.1h-2.1zM394.1 215.8h2.1v2.1h-2.1zM449.6 215.8h2.1v2.1h-2.1zM395.6 217.2h2.1v2.1h-2.1zM404.6 217.2h2.1v2.1h-2.1zM397.1 218.8h6.6v2.1h-6.6zM451.1 218.8h2.1v2.1h-2.1zM451.1 220.2h2.1v2.1h-2.1zM452.6 221.8h2.1v2.1h-2.1zM484.1 221.8h3.6v2.1h-3.6zM452.6 223.2h2.1v2.1h-2.1zM476.6 223.2h11.1v2.1h-11.1zM454.1 224.8h2.1v2.1h-2.1zM473.6 224.8h5.1v2.1h-5.1zM455.6 226.2h3.6v2.1h-3.6zM470.6 226.2h5.1v2.1h-5.1zM458.6 227.8h3.6v2.1h-3.6zM467.6 227.8h5.1v2.1h-5.1zM461.6 229.2h8.1v2.1h-8.1z"/>
<path fill="#ec9374" d="M454.1 176.8h2.1v2.1h-2.1zM454.1 178.2h2.1v2.1h-2.1zM454.1 179.8h2.1v2.1h-2.1zM454.1 181.2h2.1v2.1h-2.1zM454.1 182.8h2.1v2.1h-2.1zM454.1 184.2h2.1v2.1h-2.1zM452.6 185.8h2.1v2.1h-2.1zM452.6 187.2h2.1v2.1h-2.1zM451.1 188.8h2.1v2.1h-2.1zM451.1 190.2h2.1v2.1h-2.1zM401.6 191.8h8.1v2.1h-8.1zM449.6 191.8h2.1v2.1h-2.1zM398.6 193.2h2.1v2.1h-2.1zM410.6 193.2h2.1v2.1h-2.1zM449.6 193.2h2.1v2.1h-2.1zM412.1 194.8h2.1v2.1h-2.1zM394.1 197.8h2.1v2.1h-2.1zM448.1 197.8h2.1v2.1h-2.1zM448.1 199.2h2.1v2.1h-2.1zM412.1 200.8h2.1v2.1h-2.1zM448.1 200.8h2.1v2.1h-2.1zM412.1 202.2h2.1v2.1h-2.1zM448.1 202.2h2.1v2.1h-2.1zM392.6 203.8h2.1v2.1h-2.1zM448.1 203.8h2.1v2.1h-2.1zM392.6 205.2h2.1v2.1h-2.1zM410.6 205.2h2.1v2.1h-2.1zM448.1 205.2h2.1v2.1h-2.1zM392.6 206.8h2.1v2.1h-2.1zM392.6 208.2h2.1v2.1h-2.1zM409.1 208.2h2.1v2.1h-2.1zM392.6 209.8h2.1v2.1h-2.1zM407.6 211.2h2.1v2.1h-2.1zM406.1 212.8h2.1v2.1h-2.1zM449.6 212.8h2.1v2.1h-2.1zM394.1 214.2h2.1v2.1h-2.1zM449.6 214.2h2.1v2.1h-2.1zM395.6 215.8h2.1v2.1h-2.1zM404.6 215.8h2.1v2.1h-2.1zM397.1 217.2h2.1v2.1h-2.1zM401.6 217.2h3.6v2.1h-3.6zM451.1 217.2h2.1v2.1h-2.1zM452.6 220.2h2.1v2.1h-2.1zM481.1 220.2h6.6v2.1h-6.6zM476.6 221.8h8.1v2.1h-8.1zM454.1 223.2h3.6v2.1h-3.6zM473.6 223.2h3.6v2.1h-3.6zM455.6 224.8h3.6v2.1h-3.6zM470.6 224.8h3.6v2.1h-3.6zM458.6 226.2h12.6v2.1h-12.6zM461.6 227.8h6.6v2.1h-6.6z"/>
<path fill="#e6866a" d="M455.6 176.8h3.6v2.1h-3.6zM455.6 178.2h3.6v2.1h-3.6zM455.6 179.8h3.6v2.1h-3.6zM455.6 181.2h3.6v2.1h-3.6zM455.6 182.8h2.1v2.1h-2.1zM455.6 184.2h2.1v2.1h-2.1zM454.1 185.8h3.6v2.1h-3.6zM454.1 187.2h2.1v2.1h-2.1zM452.6 188.8h2.1v2.1h-2.1zM452.6 190.2h2.1v2.1h-2.1zM451.1 191.8h2.1v2.1h-2.1zM400.1 193.2h2.1v2.1h-2.1zM409.1 193.2h2.1v2.1h-2.1zM451.1 193.2h2.1v2.1h-2.1zM397.1 194.8h2.1v2.1h-2.1zM449.6 194.8h2.1v2.1h-2.1zM395.6 196.2h2.1v2.1h-2.1zM412.1 196.2h2.1v2.1h-2.1zM449.6 196.2h2.1v2.1h-2.1zM412.1 197.8h2.1v2.1h-2.1zM449.6 197.8h2.1v2.1h-2.1zM394.1 199.2h2.1v2.1h-2.1zM412.1 199.2h2.1v2.1h-2.1zM410.6 203.8h2.1v2.1h-2.1zM409.1 206.8h2.1v2.1h-2.1zM407.6 209.8h2.1v2.1h-2.1zM449.6 209.8h2.1v2.1h-2.1zM406.1 211.2h2.1v2.1h-2.1zM449.6 211.2h2.1v2.1h-2.1zM394.1 212.8h2.1v2.1h-2.1zM404.6 214.2h2.1v2.1h-2.1zM397.1 215.8h2.1v2.1h-2.1zM403.1 215.8h2.1v2.1h-2.1zM451.1 215.8h2.1v2.1h-2.1zM398.6 217.2h3.6v2.1h-3.6zM452.6 218.8h2.1v2.1h-2.1zM479.6 218.8h8.1v2.1h-8.1zM454.1 220.2h2.1v2.1h-2.1zM475.1 220.2h6.6v2.1h-6.6zM454.1 221.8h3.6v2.1h-3.6zM472.1 221.8h5.1v2.1h-5.1zM457.1 223.2h2.1v2.1h-2.1zM469.1 223.2h5.1v2.1h-5.1zM458.6 224.8h12.6v2.1h-12.6z"/>
<path fill="#df765e" d="M458.6 176.8h2.1v2.1h-2.1zM458.6 178.2h2.1v2.1h-2.1zM458.6 179.8h2.1v2.1h-2.1zM458.6 181.2h2.1v2.1h-2.1zM457.1 182.8h3.6v2.1h-3.6zM457.1 184.2h2.1v2.1h-2.1zM457.1 185.8h2.1v2.1h-2.1zM455.6 187.2h2.1v2.1h-2.1zM454.1 188.8h3.6v2.1h-3.6zM454.1 190.2h2.1v2.1h-2.1zM452.6 191.8h2.1v2.1h-2.1zM401.6 193.2h2.1v2.1h-2.1zM407.6 193.2h2.1v2.1h-2.1zM398.6 194.8h2.1v2.1h-2.1zM410.6 194.8h2.1v2.1h-2.1zM451.1 194.8h2.1v2.1h-2.1zM395.6 197.8h2.1v2.1h-2.1zM449.6 199.2h2.1v2.1h-2.1zM394.1 200.8h2.1v2.1h-2.1zM410.6 200.8h2.1v2.1h-2.1zM449.6 200.8h2.1v2.1h-2.1zM394.1 202.2h2.1v2.1h-2.1zM410.6 202.2h2.1v2.1h-2.1zM449.6 202.2h2.1v2.1h-2.1zM449.6 203.8h2.1v2.1h-2.1zM409.1 205.2h2.1v2.1h-2.1zM449.6 205.2h2.1v2.1h-2.1zM449.6 206.8h2.1v2.1h-2.1zM407.6 208.2h2.1v2.1h-2.1zM449.6 208.2h2.1v2.1h-2.1zM394.1 209.8h2.1v2.1h-2.1zM406.1 209.8h2.1v2.1h-2.1zM394.1 211.2h2.1v2.1h-2.1zM404.6 212.8h2.1v2.1h-2.1zM451.1 212.8h2.1v2.1h-2.1zM395.6 214.2h2.1v2.1h-2.1zM403.1 214.2h2.1v2.1h-2.1zM451.1 214.2h2.1v2.1h-2.1zM398.6 215.8h5.1v2.1h-5.1zM452.6 217.2h2.1v2.1h-2.1zM478.1 217.2h9.6v2.1h-9.6zM454.1 218.8h2.1v2.1h-2.1zM473.6 218.8h6.6v2.1h-6.6zM455.6 220.2h2.1v2.1h-2.1zM470.6 220.2h5.1v2.1h-5.1zM457.1 221.8h2.1v2.1h-2.1zM467.6 221.8h5.1v2.1h-5.1zM458.6 223.2h11.1v2.1h-11.1z"/>
<path fill="#da6853" d="M460.1 176.8h2.1v2.1h-2.1zM460.1 178.2h2.1v2.1h-2.1zM460.1 179.8h2.1v2.1h-2.1zM460.1 181.2h2.1v2.1h-2.1zM460.1 182.8h2.1v2.1h-2.1zM458.6 184.2h3.6v2.1h-3.6zM458.6 185.8h2.1v2.1h-2.1zM457.1 187.2h3.6v2.1h-3.6zM457.1 188.8h2.1v2.1h-2.1zM455.6 190.2h2.1v2.1h-2.1zM454.1 191.8h2.1v2.1h-2.1zM403.1 193.2h5.1v2.1h-5.1zM452.6 193.2h2.1v2.1h-2.1zM409.1 194.8h2.1v2.1h-2.1zM452.6 194.8h2.1v2.1h-2.1zM397.1 196.2h2.1v2.1h-2.1zM410.6 196.2h2.1v2.1h-2.1zM451.1 196.2h2.1v2.1h-2.1zM410.6 197.8h2.1v2.1h-2.1zM451.1 197.8h2.1v2.1h-2.1zM395.6 199.2h2.1v2.1h-2.1zM410.6 199.2h2.1v2.1h-2.1zM394.1 203.8h2.1v2.1h-2.1zM409.1 203.8h2.1v2.1h-2.1zM394.1 205.2h2.1v2.1h-2.1zM394.1 206.8h2.1v2.1h-2.1zM407.6 206.8h2.1v2.1h-2.1zM394.1 208.2h2.1v2.1h-2.1zM406.1 208.2h2.1v2.1h-2.1zM404.6 211.2h2.1v2.1h-2.1zM451.1 211.2h2.1v2.1h-2.1zM395.6 212.8h2.1v2.1h-2.1zM403.1 212.8h2.1v2.1h-2.1zM397.1 214.2h3.6v2.1h-3.6zM401.6 214.2h2.1v2.1h-2.1zM452.6 215.8h2.1v2.1h-2.1zM475.1 215.8h12.6v2.1h-12.6zM454.1 217.2h2.1v2.1h-2.1zM472.1 217.2h6.6v2.1h-6.6zM455.6 218.8h2.1v2.1h-2.1zM469.1 218.8h5.1v2.1h-5.1zM457.1 220.2h2.1v2.1h-2.1zM466.1 220.2h5.1v2.1h-5.1zM458.6 221.8h9.6v2.1h-9.6z"/>
<path fill="#d35a4a" d="M461.6 176.8h3.6v2.1h-3.6zM461.6 178.2h3.6v2.1h-3.6zM461.6 179.8h3.6v2.1h-3.6zM461.6 181.2h3.6v2.1h-3.6zM461.6 182.8h3.6v2.1h-3.6zM461.6 184.2h2.1v2.1h-2.1zM460.1 185.8h3.6v2.1h-3.6zM460.1 187.2h2.1v2.1h-2.1zM458.6 188.8h2.1v2.1h-2.1zM457.1 190.2h3.6v2.1h-3.6zM455.6 191.8h3.6v2.1h-3.6zM454.1 193.2h3.6v2.1h-3.6zM400.1 194.8h3.6v2.1h-3.6zM407.6 194.8h2.1v2.1h-2.1zM454.1 194.8h2.1v2.1h-2.1zM398.6 196.2h2.1v2.1h-2.1zM409.1 196.2h2.1v2.1h-2.1zM452.6 196.2h2.1v2.1h-2.1zM397.1 197.8h2.1v2.1h-2.1zM451.1 199.2h2.1v2.1h-2.1zM395.6 200.8h2.1v2.1h-2.1zM409.1 200.8h2.1v2.1h-2.1zM451.1 200.8h2.1v2.1h-2.1zM409.1 202.2h2.1v2.1h-2.1zM451.1 202.2h2.1v2.1h-2.1zM451.1 203.8h2.1v2.1h-2.1zM407.6 205.2h2.1v2.1h-2.1zM451.1 205.2h2.1v2.1h-2.1zM451.1 206.8h2.1v2.1h-2.1zM451.1 208.2h2.1v2.1h-2.1zM404.6 209.8h2.1v2.1h-2.1zM451.1 209.8h2.1v2.1h-2.1zM395.6 211.2h2.1v2.1h-2.1zM397.1 212.8h2.1v2.1h-2.1zM401.6 212.8h2.1v2.1h-2.1zM452.6 212.8h2.1v2.1h-2.1zM476.6 212.8h11.1v2.1h-11.1zM400.1 214.2h2.1v2.1h-2.1zM452.6 214.2h2.1v2.1h-2.1zM472.1 214.2h15.6v2.1h-15.6zM454.1 215.8h2.1v2.1h-2.1zM470.6 215.8h5.1v2.1h-5.1zM455.6 217.2h2.1v2.1h-2.1zM467.6 217.2h5.1v2.1h-5.1zM457.1 218.8h2.1v2.1h-2.1zM464.6 218.8h5.1v2.1h-5.1zM458.6 220.2h8.1v2.1h-8.1z"/>
<path fill="#cb4942" d="M464.6 176.8h3.6v2.1h-3.6zM464.6 178.2h3.6v2.1h-3.6zM464.6 179.8h3.6v2.1h-3.6zM464.6 181.2h3.6v2.1h-3.6zM464.6 182.8h3.6v2.1h-3.6zM463.1 184.2h3.6v2.1h-3.6zM463.1 185.8h3.6v2.1h-3.6zM461.6 187.2h3.6v2.1h-3.6zM460.1 188.8h3.6v2.1h-3.6zM460.1 190.2h2.1v2.1h-2.1zM458.6 191.8h2.1v2.1h-2.1zM457.1 193.2h2.1v2.1h-2.1zM403.1 194.8h5.1v2.1h-5.1zM455.6 194.8h2.1v2.1h-2.1zM400.1 196.2h2.1v2.1h-2.1zM407.6 196.2h2.1v2.1h-2.1zM454.1 196.2h2.1v2.1h-2.1zM409.1 197.8h2.1v2.1h-2.1zM452.6 197.8h2.1v2.1h-2.1zM397.1 199.2h2.1v2.1h-2.1zM409.1 199.2h2.1v2.1h-2.1zM452.6 199.2h2.1v2.1h-2.1zM395.6 202.2h2.1v2.1h-2.1zM407.6 202.2h2.1v2.1h-2.1zM407.6 203.8h2.1v2.1h-2.1zM406.1 205.2h2.1v2.1h-2.1zM406.1 206.8h2.1v2.1h-2.1zM395.6 208.2h2.1v2.1h-2.1zM404.6 208.2h2.1v2.1h-2.1zM395.6 209.8h2.1v2.1h-2.1zM452.6 209.8h2.1v2.1h-2.1zM476.6 209.8h11.1v2.1h-11.1zM397.1 211.2h2.1v2.1h-2.1zM403.1 211.2h2.1v2.1h-2.1zM452.6 211.2h2.1v2.1h-2.1zM472.1 211.2h15.6v2.1h-15.6zM398.6 212.8h3.6v2.1h-3.6zM470.6 212.8h6.6v2.1h-6.6zM454.1 214.2h2.1v2.1h-2.1zM469.1 214.2h3.6v2.1h-3.6zM455.6 215.8h2.1v2.1h-2.1zM467.6 215.8h3.6v2.1h-3.6zM457.1 217.2h2.1v2.1h-2.1zM464.6 217.2h3.6v2.1h-3.6zM458.6 218.8h6.6v2.1h-6.6z"/>
<path fill="#c43b3c" d="M467.6 176.8h20.1v2.1h-20.1zM467.6 178.2h20.1v2.1h-20.1zM467.6 179.8h20.1v2.1h-20.1zM467.6 181.2h20.1v2.1h-20.1zM467.6 182.8h20.1v2.1h-20.1zM466.1 184.2h21.6v2.1h-21.6zM466.1 185.8h21.6v2.1h-21.6zM464.6 187.2h23.1v2.1h-23.1zM463.1 188.8h6.6v2.1h-6.6zM472.1 188.8h15.6v2.1h-15.6zM461.6 190.2h6.6v2.1h-6.6zM473.6 190.2h14.1v2.1h-14.1zM460.1 191.8h5.1v2.1h-5.1zM473.6 191.8h14.1v2.1h-14.1zM458.6 193.2h3.6v2.1h-3.6zM475.1 193.2h12.6v2.1h-12.6zM457.1 194.8h3.6v2.1h-3.6zM475.1 194.8h12.6v2.1h-12.6zM401.6 196.2h2.1v2.1h-2.1zM404.6 196.2h3.6v2.1h-3.6zM455.6 196.2h2.1v2.1h-2.1zM475.1 196.2h12.6v2.1h-12.6zM398.6 197.8h2.1v2.1h-2.1zM407.6 197.8h2.1v2.1h-2.1zM454.1 197.8h2.1v2.1h-2.1zM475.1 197.8h12.6v2.1h-12.6zM407.6 199.2h2.1v2.1h-2.1zM454.1 199.2h2.1v2.1h-2.1zM476.6 199.2h11.1v2.1h-11.1zM407.6 200.8h2.1v2.1h-2.1zM452.6 200.8h2.1v2.1h-2.1zM476.6 200.8h11.1v2.1h-11.1zM452.6 202.2h2.1v2.1h-2.1zM476.6 202.2h11.1v2.1h-11.1zM395.6 203.8h2.1v2.1h-2.1zM406.1 203.8h2.1v2.1h-2.1zM452.6 203.8h2.1v2.1h-2.1zM475.1 203.8h12.6v2.1h-12.6zM395.6 205.2h2.1v2.1h-2.1zM452.6 205.2h2.1v2.1h-2.1zM473.6 205.2h14.1v2.1h-14.1zM395.6 206.8h2.1v2.1h-2.1zM404.6 206.8h2.1v2.1h-2.1zM452.6 206.8h2.1v2.1h-2.1zM472.1 206.8h15.6v2.1h-15.6zM452.6 208.2h2.1v2.1h-2.1zM470.6 208.2h17.1v2.1h-17.1zM397.1 209.8h2.1v2.1h-2.1zM403.1 209.8h2.1v2.1h-2.1zM469.1 209.8h8.1v2.1h-8.1zM398.6 211.2h5.1v2.1h-5.1zM469.1 211.2h3.6v2.1h-3.6zM454.1 212.8h2.1v2.1h-2.1zM467.6 212.8h3.6v2.1h-3.6zM455.6 214.2h2.1v2.1h-2.1zM466.1 214.2h3.6v2.1h-3.6zM457.1 215.8h2.1v2.1h-2.1zM463.1 215.8h5.1v2.1h-5.1zM458.6 217.2h6.6v2.1h-6.6z"/>
<path fill="#bb2a34" d="M469.1 188.8h3.6v2.1h-3.6zM467.6 190.2h6.6v2.1h-6.6zM464.6 191.8h9.6v2.1h-9.6zM461.6 193.2h14.1v2.1h-14.1zM460.1 194.8h15.6v2.1h-15.6zM403.1 196.2h2.1v2.1h-2.1zM457.1 196.2h5.1v2.1h-5.1zM467.6 196.2h8.1v2.1h-8.1zM400.1 197.8h2.1v2.1h-2.1zM406.1 197.8h2.1v2.1h-2.1zM455.6 197.8h3.6v2.1h-3.6zM469.1 197.8h6.6v2.1h-6.6zM398.6 199.2h2.1v2.1h-2.1zM406.1 199.2h2.1v2.1h-2.1zM455.6 199.2h2.1v2.1h-2.1zM469.1 199.2h8.1v2.1h-8.1zM397.1 200.8h2.1v2.1h-2.1zM406.1 200.8h2.1v2.1h-2.1zM454.1 200.8h2.1v2.1h-2.1zM469.1 200.8h8.1v2.1h-8.1zM397.1 202.2h2.1v2.1h-2.1zM406.1 202.2h2.1v2.1h-2.1zM454.1 202.2h2.1v2.1h-2.1zM469.1 202.2h8.1v2.1h-8.1zM469.1 203.8h6.6v2.1h-6.6zM404.6 205.2h2.1v2.1h-2.1zM469.1 205.2h5.1v2.1h-5.1zM469.1 206.8h3.6v2.1h-3.6zM397.1 208.2h2.1v2.1h-2.1zM403.1 208.2h2.1v2.1h-2.1zM454.1 208.2h2.1v2.1h-2.1zM467.6 208.2h3.6v2.1h-3.6zM398.6 209.8h5.1v2.1h-5.1zM454.1 209.8h2.1v2.1h-2.1zM467.6 209.8h2.1v2.1h-2.1zM454.1 211.2h2.1v2.1h-2.1zM466.1 211.2h3.6v2.1h-3.6zM455.6 212.8h2.1v2.1h-2.1zM464.6 212.8h3.6v2.1h-3.6zM457.1 214.2h9.6v2.1h-9.6zM458.6 215.8h5.1v2.1h-5.1z"/>
<path fill="#b41c2d" d="M461.6 196.2h6.6v2.1h-6.6zM401.6 197.8h5.1v2.1h-5.1zM458.6 197.8h11.1v2.1h-11.1zM400.1 199.2h2.1v2.1h-2.1zM404.6 199.2h2.1v2.1h-2.1zM457.1 199.2h3.6v2.1h-3.6zM464.6 199.2h5.1v2.1h-5.1zM398.6 200.8h2.1v2.1h-2.1zM404.6 200.8h2.1v2.1h-2.1zM455.6 200.8h2.1v2.1h-2.1zM466.1 200.8h3.6v2.1h-3.6zM404.6 202.2h2.1v2.1h-2.1zM455.6 202.2h2.1v2.1h-2.1zM466.1 202.2h3.6v2.1h-3.6zM397.1 203.8h2.1v2.1h-2.1zM404.6 203.8h2.1v2.1h-2.1zM454.1 203.8h2.1v2.1h-2.1zM466.1 203.8h3.6v2.1h-3.6zM397.1 205.2h2.1v2.1h-2.1zM403.1 205.2h2.1v2.1h-2.1zM454.1 205.2h2.1v2.1h-2.1zM466.1 205.2h3.6v2.1h-3.6zM397.1 206.8h2.1v2.1h-2.1zM403.1 206.8h2.1v2.1h-2.1zM454.1 206.8h2.1v2.1h-2.1zM466.1 206.8h3.6v2.1h-3.6zM398.6 208.2h5.1v2.1h-5.1zM464.6 208.2h3.6v2.1h-3.6zM455.6 209.8h2.1v2.1h-2.1zM464.6 209.8h3.6v2.1h-3.6zM455.6 211.2h3.6v2.1h-3.6zM463.1 211.2h3.6v2.1h-3.6zM457.1 212.8h8.1v2.1h-8.1z"/>
<path fill="#a51429" d="M401.6 199.2h3.6v2.1h-3.6zM460.1 199.2h5.1v2.1h-5.1zM400.1 200.8h5.1v2.1h-5.1zM457.1 200.8h9.6v2.1h-9.6zM398.6 202.2h2.1v2.1h-2.1zM403.1 202.2h2.1v2.1h-2.1zM457.1 202.2h9.6v2.1h-9.6zM398.6 203.8h2.1v2.1h-2.1zM403.1 203.8h2.1v2.1h-2.1zM455.6 203.8h3.6v2.1h-3.6zM463.1 203.8h3.6v2.1h-3.6zM398.6 205.2h2.1v2.1h-2.1zM401.6 205.2h2.1v2.1h-2.1zM455.6 205.2h2.1v2.1h-2.1zM463.1 205.2h3.6v2.1h-3.6zM398.6 206.8h5.1v2.1h-5.1zM455.6 206.8h2.1v2.1h-2.1zM463.1 206.8h3.6v2.1h-3.6zM455.6 208.2h3.6v2.1h-3.6zM461.6 208.2h3.6v2.1h-3.6zM457.1 209.8h8.1v2.1h-8.1zM458.6 211.2h5.1v2.1h-5.1z"/>
<path fill="#960f27" d="M400.1 202.2h3.6v2.1h-3.6zM400.1 203.8h3.6v2.1h-3.6zM458.6 203.8h5.1v2.1h-5.1zM400.1 205.2h2.1v2.1h-2.1zM457.1 205.2h6.6v2.1h-6.6zM457.1 206.8h6.6v2.1h-6.6zM458.6 208.2h3.6v2.1h-3.6z"/>
</g>
<g fill="none" stroke="#1a1a1a" stroke-width="0.55" stroke-opacity="0.85">
<path d="M367.9,231.3 L369.4,231.5 L371.4,231.5 L373.9,230.3 L375.4,228.5 L376.1,227.0 L376.8,224.0 L376.9,222.5 L376.8,221.0 L375.8,218.0 L374.3,216.5 L372.4,215.7 L369.4,215.6"/>
<path d="M461.8,296.0 L461.8,293.0 L461.2,290.0 L460.7,288.5 L459.4,285.8 L458.5,284.0 L457.7,282.5 L456.4,279.7 L455.8,278.0 L454.9,275.0 L454.5,273.5 L453.7,270.5 L453.3,269.0 L452.3,266.0 L451.8,264.5 L450.8,261.5 L450.3,260.0 L449.3,257.0 L448.8,255.5 L447.6,252.5 L446.9,251.0 L445.9,249.1 L444.4,246.5 L443.4,245.0 L442.4,243.5 L441.4,241.8 L439.9,239.0 L439.3,237.5 L438.4,234.5 L438.2,233.0 L437.9,230.0 L438.0,227.0 L438.2,224.0 L438.4,222.0 L438.6,219.5 L438.8,216.5 L438.9,213.5 L438.8,210.5 L438.4,207.5 L438.1,206.0 L437.2,203.0 L436.6,201.5 L435.4,199.2 L433.9,197.4 L432.4,196.7 L430.8,197.0 L429.3,198.5 L428.0,201.5 L427.5,203.0 L426.9,206.0 L426.4,208.5 L426.1,210.5 L425.5,213.5 L424.9,216.3 L424.5,218.0 L423.7,221.0 L423.3,222.5 L422.4,225.5 L421.9,227.2 L421.1,230.0 L420.4,232.7 L420.0,234.5 L419.3,237.5 L418.8,239.0 L417.4,242.0 L416.3,243.5 L414.8,245.0 L412.9,246.4 L411.4,247.4 L409.9,248.3 L407.3,249.5 L405.4,250.2 L402.5,251.0 L400.9,251.3 L397.9,251.6 L394.9,251.5 L392.7,251.0 L390.4,250.0 L388.9,248.6 L387.5,246.5 L386.8,245.0 L385.9,242.5 L385.3,240.5 L384.5,237.5 L384.1,236.0 L383.5,233.0 L383.0,230.0 L382.8,228.5 L382.5,225.5 L382.2,222.5 L381.9,219.5 L381.5,216.5 L381.2,215.0 L380.2,212.0 L379.1,210.5 L376.9,209.0 L375.4,208.6 L372.4,208.3 L369.4,208.3"/>
<path d="M486.4,279.6 L483.4,279.5 L481.9,279.3 L478.9,278.2 L477.4,277.3 L475.9,276.3 L474.1,275.0 L472.2,273.5 L470.4,272.0 L468.6,270.5 L467.1,269.0 L465.6,267.5 L464.2,266.0 L462.7,264.5 L461.2,263.0 L459.7,261.5 L458.2,260.0 L457.0,258.5 L455.9,257.0 L454.9,255.4 L453.4,252.6 L452.6,251.0 L451.9,249.5 L450.4,246.5 L449.6,245.0 L448.8,243.5 L447.4,241.2 L446.0,239.0 L445.1,237.5 L444.3,236.0 L443.1,233.0 L442.7,231.5 L442.3,228.5 L442.1,225.5 L442.1,222.5 L442.2,219.5 L442.1,216.5 L442.1,213.5 L441.9,210.5 L441.5,207.5 L441.3,206.0 L440.7,203.0 L440.0,200.0 L439.6,198.5 L438.7,195.5 L438.2,194.0 L437.0,191.0 L436.2,189.5 L435.4,188.0 L433.9,185.8 L432.4,184.0 L430.9,182.9 L429.2,183.5 L427.7,185.0 L426.4,187.0 L425.5,189.5 L424.9,191.7 L424.5,194.0 L424.2,197.0 L423.8,200.0 L423.4,203.0 L423.2,204.5 L422.6,207.5 L422.0,210.5 L421.5,212.0 L420.6,215.0 L420.1,216.5 L419.0,219.5 L418.4,221.0 L417.4,223.6 L416.6,225.5 L415.9,227.1 L414.6,230.0 L413.9,231.5 L412.9,233.3 L411.4,235.6 L409.9,237.5 L408.4,239.0 L406.9,240.3 L405.4,241.4 L403.9,242.2 L400.9,243.2 L397.9,243.2 L395.3,242.0 L393.6,240.5 L392.5,239.0 L391.6,237.5 L390.4,234.9 L389.6,233.0 L388.9,231.0 L388.0,228.5 L387.4,226.4 L386.8,224.0 L386.2,221.0 L385.9,218.1 L385.8,216.5 L385.6,213.5 L385.4,210.5 L385.3,207.5 L385.1,204.5 L384.8,201.5 L384.4,199.2 L383.6,197.0 L382.5,195.5 L379.9,194.8 L377.9,195.5 L375.4,196.6 L373.9,197.1 L370.9,197.5 L367.9,197.4"/>
<path d="M486.4,248.7 L483.4,248.7 L480.4,248.8 L477.4,249.0 L474.4,249.3 L472.8,249.5 L469.9,250.0 L466.9,250.6 L463.9,250.9 L460.9,250.2 L459.4,249.3 L457.9,248.0 L456.4,246.0 L454.9,243.6 L454.0,242.0 L453.2,240.5 L451.9,238.4 L450.4,236.0 L449.5,234.5 L448.6,233.0 L447.4,230.4 L446.8,228.5 L446.2,225.5 L445.9,223.2 L445.7,221.0 L445.4,218.0 L445.2,215.0 L444.9,212.0 L444.6,209.0 L444.4,207.5 L444.0,204.5 L443.6,201.5 L443.1,198.5 L442.9,197.0 L442.5,194.0 L442.2,191.0 L442.0,188.0 L441.8,185.0 L441.8,182.0 L441.8,179.0"/>
<path d="M400.9,234.7 L399.0,234.5 L396.6,233.0 L395.4,231.5 L394.4,230.0 L393.4,228.2 L392.1,225.5 L391.5,224.0 L390.4,221.0 L390.0,219.5 L389.4,216.5 L389.1,213.5 L388.9,210.5 L388.9,207.5 L389.0,204.5 L389.2,201.5 L389.6,198.5 L390.4,195.5 L390.9,194.0 L391.9,191.9 L393.4,190.0 L394.9,188.8 L396.4,188.0 L399.4,186.9 L401.1,186.5 L403.9,186.0 L406.9,185.8 L409.9,186.0 L412.5,186.5 L414.4,187.1 L415.9,188.0 L417.6,189.5 L418.9,191.7 L419.7,194.0 L420.0,197.0 L420.0,200.0 L419.5,203.0 L418.9,205.6 L418.3,207.5 L417.4,209.8 L416.5,212.0 L415.9,213.5 L414.6,216.5 L414.0,218.0 L412.9,220.6 L412.0,222.5 L411.3,224.0 L409.9,226.5 L408.7,228.5 L407.6,230.0 L406.3,231.5 L404.6,233.0 L402.4,234.3 L400.9,234.7"/>
<path d="M486.4,228.1 L483.4,228.2 L481.2,228.5 L478.9,229.3 L477.4,230.0 L475.0,231.5 L472.9,233.0 L471.4,233.9 L469.9,234.7 L466.9,235.7 L463.9,235.9 L460.9,234.8 L459.4,233.8 L457.9,232.6 L456.4,231.3 L454.9,229.8 L453.4,228.1 L451.9,225.8 L451.1,224.0 L450.4,222.4 L449.5,219.5 L448.9,217.1 L448.5,215.0 L448.0,212.0 L447.5,209.0 L447.4,207.5 L447.1,204.5 L446.9,201.5 L446.7,198.5 L446.8,195.5 L447.2,192.5 L447.5,191.0 L448.3,188.0 L448.9,185.5 L449.3,183.5 L449.6,180.5 L449.5,177.5"/>
<path d="M403.9,222.6 L400.9,223.7 L397.9,222.8 L396.4,221.5 L394.9,219.6 L394.0,218.0 L393.3,216.5 L392.4,213.5 L391.9,210.7 L391.8,209.0 L391.8,206.0 L391.9,204.5 L392.4,201.5 L393.2,198.5 L393.8,197.0 L394.9,195.1 L396.4,193.4 L397.9,192.2 L400.6,191.0 L402.4,190.5 L405.4,190.1 L408.4,190.2 L411.3,191.0 L412.9,191.9 L414.4,193.3 L415.6,195.5 L416.0,197.0 L416.0,200.0 L415.8,201.5 L414.7,204.5 L414.0,206.0 L412.9,208.1 L411.7,210.5 L410.9,212.0 L409.9,214.2 L408.8,216.5 L407.9,218.0 L406.9,219.5 L405.4,221.3 L403.9,222.6"/>
<path d="M486.4,216.7 L483.4,216.7 L480.4,216.9 L477.4,217.5 L475.9,218.0 L472.9,219.3 L471.4,220.1 L469.8,221.0 L466.9,222.3 L465.4,222.8 L462.4,223.0 L459.9,222.5 L457.9,221.6 L456.4,220.5 L454.9,218.9 L453.4,216.5 L452.7,215.0 L451.9,212.6 L451.4,210.5 L451.0,207.5 L450.8,204.5 L451.0,201.5 L451.5,198.5 L452.0,197.0 L453.4,194.2 L454.6,192.5 L455.7,191.0 L456.9,189.5 L458.0,188.0 L459.4,185.4 L460.1,183.5 L460.4,180.5 L460.3,177.5"/>
<path d="M402.4,215.3 L399.4,215.8 L397.8,215.0 L396.4,213.5 L395.1,210.5 L394.8,209.0 L394.7,206.0 L394.9,204.1 L395.5,201.5 L396.4,199.3 L397.9,197.1 L399.4,195.8 L400.9,194.9 L403.9,194.0 L405.4,193.9 L406.9,194.0 L409.9,195.3 L411.2,197.0 L411.6,198.5 L411.4,200.5 L410.6,203.0 L409.9,204.5 L408.4,207.3 L407.5,209.0 L406.7,210.5 L405.4,212.5 L403.9,214.3 L402.4,215.3"/>
<path d="M400.9,207.6 L399.4,206.2 L399.4,204.5 L400.0,203.0 L401.1,201.5 L403.9,201.4 L404.1,203.0 L403.6,204.5 L402.4,206.6 L400.9,207.6"/>
<path d="M462.4,210.7 L459.4,211.3 L457.9,210.2 L456.9,207.5 L457.3,204.5 L458.1,203.0 L460.7,201.5 L461.6,201.5 L463.9,202.9 L464.5,204.5 L464.3,207.5 L463.7,209.0 L462.4,210.7"/>
</g></g>
<g fill="none" stroke="#222" stroke-width="0.9">
<circle cx="427.7" cy="237.3" r="45.2"/>
<path d="M418.24,193.10 L427.70,185.32 L437.16,193.10 M382.77,232.28 L381.60,230.29 L380.87,230.22 L379.80,230.56 L378.71,232.28 L378.88,237.80 L378.25,245.73 L379.61,249.17 L381.60,249.81 L383.49,248.14 M472.63,232.28 L473.80,230.29 L474.53,230.22 L475.60,230.56 L476.69,232.28 L476.52,237.80 L477.15,245.73 L475.79,249.17 L473.80,249.81 L471.91,248.14"/>
</g>
<path fill="none" stroke="#1a1f2a" stroke-width="1.35" stroke-linecap="round" d="M415.8 199.2h.01M422.7 198.4h.01M430.7 198.6h.01M437.0 198.6h.01M405.9 204.4h.01M412.3 204.6h.01M419.6 204.0h.01M426.4 204.8h.01M435.0 205.9h.01M440.6 204.3h.01M449.6 203.4h.01M400.8 210.5h.01M408.4 211.1h.01M416.7 211.9h.01M423.2 211.9h.01M430.3 212.3h.01M438.0 211.9h.01M444.4 211.7h.01M451.4 209.8h.01M460.0 210.7h.01M390.1 218.2h.01M397.2 217.7h.01M405.3 218.3h.01M411.3 217.8h.01M419.5 217.0h.01M427.1 217.2h.01M435.1 218.0h.01M441.8 217.4h.01M449.0 216.3h.01M455.6 218.1h.01M462.2 218.5h.01M394.6 225.4h.01M400.9 224.1h.01M408.3 223.5h.01M416.7 223.9h.01M423.2 223.7h.01M430.1 223.3h.01M439.0 224.2h.01M446.2 224.3h.01M452.2 224.0h.01M459.8 224.3h.01M467.3 224.1h.01M391.2 230.2h.01M396.5 231.0h.01M405.8 229.6h.01M411.9 230.2h.01M418.1 231.3h.01M426.9 230.8h.01M433.7 231.1h.01M441.3 230.6h.01M448.2 229.8h.01M457.6 230.3h.01M464.1 230.7h.01M386.1 237.2h.01M394.5 237.7h.01M401.3 236.7h.01M407.3 237.9h.01M416.6 237.1h.01M423.6 237.8h.01M431.3 237.9h.01M437.6 238.4h.01M444.4 237.9h.01M453.2 237.9h.01M461.7 238.4h.01M466.7 235.8h.01M389.9 244.3h.01M396.0 241.9h.01M404.9 243.6h.01M411.9 243.6h.01M418.8 242.4h.01M426.8 242.8h.01M433.0 244.0h.01M441.7 243.9h.01M448.3 243.1h.01M455.7 242.9h.01M464.1 243.0h.01M393.6 248.9h.01M400.6 250.6h.01M408.3 250.1h.01M415.6 251.0h.01M423.2 248.3h.01M430.0 248.5h.01M435.4 249.6h.01M446.5 250.1h.01M451.9 249.3h.01M461.1 250.2h.01M467.6 250.0h.01M390.3 256.7h.01M396.5 256.9h.01M404.2 257.4h.01M411.1 256.4h.01M419.5 255.4h.01M428.3 257.6h.01M433.9 257.1h.01M442.0 254.4h.01M449.3 256.4h.01M456.6 255.6h.01M463.7 256.3h.01M401.8 263.7h.01M408.9 263.0h.01M416.0 262.7h.01M423.0 263.0h.01M431.8 263.4h.01M438.0 262.5h.01M444.9 264.2h.01M453.2 263.0h.01M459.9 262.0h.01M404.0 270.1h.01M411.5 269.8h.01M420.7 269.1h.01M426.4 269.5h.01M434.3 268.6h.01M442.1 271.0h.01M448.9 269.2h.01M416.6 275.0h.01M422.5 275.4h.01M430.8 275.6h.01M438.2 276.0h.01"/>
<g clip-path="url(#cp3)"><g filter="url(#tb)">
<path fill="#10457e" d="M585.1 235.2h3.6v2.1h-3.6zM583.6 236.8h5.1v2.1h-5.1zM583.6 238.2h5.1v2.1h-5.1zM582.1 239.8h6.6v2.1h-6.6zM582.1 241.2h6.6v2.1h-6.6zM580.6 242.8h8.1v2.1h-8.1zM580.6 244.2h6.6v2.1h-6.6zM580.6 245.8h6.6v2.1h-6.6zM580.6 247.2h5.1v2.1h-5.1z"/>
<path fill="#175290" d="M586.6 230.8h5.1v2.1h-5.1zM585.1 232.2h6.6v2.1h-6.6zM583.6 233.8h8.1v2.1h-8.1zM582.1 235.2h3.6v2.1h-3.6zM588.1 235.2h3.6v2.1h-3.6zM582.1 236.8h2.1v2.1h-2.1zM588.1 236.8h3.6v2.1h-3.6zM580.6 238.2h3.6v2.1h-3.6zM588.1 238.2h3.6v2.1h-3.6zM580.6 239.8h2.1v2.1h-2.1zM588.1 239.8h3.6v2.1h-3.6zM579.1 241.2h3.6v2.1h-3.6zM588.1 241.2h3.6v2.1h-3.6zM579.1 242.8h2.1v2.1h-2.1zM588.1 242.8h3.6v2.1h-3.6zM577.6 244.2h3.6v2.1h-3.6zM586.6 244.2h3.6v2.1h-3.6zM577.6 245.8h3.6v2.1h-3.6zM586.6 245.8h3.6v2.1h-3.6zM576.1 247.2h5.1v2.1h-5.1zM585.1 247.2h5.1v2.1h-5.1zM576.1 248.8h12.6v2.1h-12.6zM574.6 250.2h12.6v2.1h-12.6zM574.6 251.8h11.1v2.1h-11.1zM577.6 253.2h2.1v2.1h-2.1z"/>
<path fill="#1c5c9f" d="M586.6 227.8h5.1v2.1h-5.1zM585.1 229.2h8.1v2.1h-8.1zM583.6 230.8h3.6v2.1h-3.6zM591.1 230.8h2.1v2.1h-2.1zM583.6 232.2h2.1v2.1h-2.1zM591.1 232.2h2.1v2.1h-2.1zM582.1 233.8h2.1v2.1h-2.1zM591.1 233.8h3.6v2.1h-3.6zM580.6 235.2h2.1v2.1h-2.1zM591.1 235.2h3.6v2.1h-3.6zM580.6 236.8h2.1v2.1h-2.1zM591.1 236.8h3.6v2.1h-3.6zM579.1 238.2h2.1v2.1h-2.1zM591.1 238.2h3.6v2.1h-3.6zM579.1 239.8h2.1v2.1h-2.1zM591.1 239.8h3.6v2.1h-3.6zM577.6 241.2h2.1v2.1h-2.1zM591.1 241.2h3.6v2.1h-3.6zM576.1 242.8h3.6v2.1h-3.6zM591.1 242.8h2.1v2.1h-2.1zM576.1 244.2h2.1v2.1h-2.1zM589.6 244.2h3.6v2.1h-3.6zM574.6 245.8h3.6v2.1h-3.6zM589.6 245.8h3.6v2.1h-3.6zM574.6 247.2h2.1v2.1h-2.1zM589.6 247.2h3.6v2.1h-3.6zM573.1 248.8h3.6v2.1h-3.6zM588.1 248.8h3.6v2.1h-3.6zM573.1 250.2h2.1v2.1h-2.1zM586.6 250.2h5.1v2.1h-5.1zM571.6 251.8h3.6v2.1h-3.6zM585.1 251.8h5.1v2.1h-5.1zM571.6 253.2h6.6v2.1h-6.6zM579.1 253.2h9.6v2.1h-9.6zM571.6 254.8h15.6v2.1h-15.6zM573.1 256.2h8.1v2.1h-8.1z"/>
<path fill="#2369ad" d="M588.1 224.8h5.1v2.1h-5.1zM586.6 226.2h6.6v2.1h-6.6zM585.1 227.8h2.1v2.1h-2.1zM591.1 227.8h3.6v2.1h-3.6zM583.6 229.2h2.1v2.1h-2.1zM592.6 229.2h2.1v2.1h-2.1zM582.1 230.8h2.1v2.1h-2.1zM592.6 230.8h2.1v2.1h-2.1zM582.1 232.2h2.1v2.1h-2.1zM592.6 232.2h2.1v2.1h-2.1zM580.6 233.8h2.1v2.1h-2.1zM594.1 233.8h2.1v2.1h-2.1zM594.1 235.2h2.1v2.1h-2.1zM579.1 236.8h2.1v2.1h-2.1zM594.1 236.8h2.1v2.1h-2.1zM577.6 238.2h2.1v2.1h-2.1zM594.1 238.2h2.1v2.1h-2.1zM577.6 239.8h2.1v2.1h-2.1zM594.1 239.8h2.1v2.1h-2.1zM576.1 241.2h2.1v2.1h-2.1zM594.1 241.2h2.1v2.1h-2.1zM592.6 242.8h3.6v2.1h-3.6zM574.6 244.2h2.1v2.1h-2.1zM592.6 244.2h3.6v2.1h-3.6zM573.1 245.8h2.1v2.1h-2.1zM592.6 245.8h2.1v2.1h-2.1zM573.1 247.2h2.1v2.1h-2.1zM592.6 247.2h2.1v2.1h-2.1zM571.6 248.8h2.1v2.1h-2.1zM591.1 248.8h3.6v2.1h-3.6zM571.6 250.2h2.1v2.1h-2.1zM591.1 250.2h2.1v2.1h-2.1zM570.1 251.8h2.1v2.1h-2.1zM589.6 251.8h3.6v2.1h-3.6zM570.1 253.2h2.1v2.1h-2.1zM588.1 253.2h3.6v2.1h-3.6zM570.1 254.8h2.1v2.1h-2.1zM586.6 254.8h5.1v2.1h-5.1zM570.1 256.2h3.6v2.1h-3.6zM580.6 256.2h8.1v2.1h-8.1zM570.1 257.8h15.6v2.1h-15.6zM571.6 259.2h8.1v2.1h-8.1z"/>
<path fill="#2a71b2" d="M588.1 221.8h5.1v2.1h-5.1zM586.6 223.2h8.1v2.1h-8.1zM586.6 224.8h2.1v2.1h-2.1zM592.6 224.8h2.1v2.1h-2.1zM585.1 226.2h2.1v2.1h-2.1zM592.6 226.2h2.1v2.1h-2.1zM583.6 227.8h2.1v2.1h-2.1zM594.1 227.8h2.1v2.1h-2.1zM582.1 229.2h2.1v2.1h-2.1zM594.1 229.2h2.1v2.1h-2.1zM594.1 230.8h2.1v2.1h-2.1zM580.6 232.2h2.1v2.1h-2.1zM594.1 232.2h2.1v2.1h-2.1zM579.1 233.8h2.1v2.1h-2.1zM579.1 235.2h2.1v2.1h-2.1zM595.6 235.2h2.1v2.1h-2.1zM577.6 236.8h2.1v2.1h-2.1zM595.6 236.8h2.1v2.1h-2.1zM595.6 238.2h2.1v2.1h-2.1zM576.1 239.8h2.1v2.1h-2.1zM595.6 239.8h2.1v2.1h-2.1zM595.6 241.2h2.1v2.1h-2.1zM574.6 242.8h2.1v2.1h-2.1zM595.6 242.8h2.1v2.1h-2.1zM573.1 244.2h2.1v2.1h-2.1zM595.6 244.2h2.1v2.1h-2.1zM594.1 245.8h3.6v2.1h-3.6zM571.6 247.2h2.1v2.1h-2.1zM594.1 247.2h2.1v2.1h-2.1zM570.1 248.8h2.1v2.1h-2.1zM594.1 248.8h2.1v2.1h-2.1zM570.1 250.2h2.1v2.1h-2.1zM592.6 250.2h3.6v2.1h-3.6zM568.6 251.8h2.1v2.1h-2.1zM592.6 251.8h2.1v2.1h-2.1zM568.6 253.2h2.1v2.1h-2.1zM591.1 253.2h3.6v2.1h-3.6zM568.6 254.8h2.1v2.1h-2.1zM591.1 254.8h2.1v2.1h-2.1zM568.6 256.2h2.1v2.1h-2.1zM588.1 256.2h3.6v2.1h-3.6zM568.6 257.8h2.1v2.1h-2.1zM585.1 257.8h5.1v2.1h-5.1zM568.6 259.2h3.6v2.1h-3.6zM579.1 259.2h9.6v2.1h-9.6zM568.6 260.8h15.6v2.1h-15.6zM571.6 262.2h5.1v2.1h-5.1z"/>
<path fill="#327cb7" d="M589.6 218.8h3.6v2.1h-3.6zM588.1 220.2h6.6v2.1h-6.6zM586.6 221.8h2.1v2.1h-2.1zM592.6 221.8h2.1v2.1h-2.1zM585.1 223.2h2.1v2.1h-2.1zM585.1 224.8h2.1v2.1h-2.1zM594.1 224.8h2.1v2.1h-2.1zM583.6 226.2h2.1v2.1h-2.1zM594.1 226.2h2.1v2.1h-2.1zM582.1 227.8h2.1v2.1h-2.1zM595.6 229.2h2.1v2.1h-2.1zM580.6 230.8h2.1v2.1h-2.1zM595.6 230.8h2.1v2.1h-2.1zM579.1 232.2h2.1v2.1h-2.1zM595.6 232.2h2.1v2.1h-2.1zM595.6 233.8h2.1v2.1h-2.1zM577.6 235.2h2.1v2.1h-2.1zM576.1 238.2h2.1v2.1h-2.1zM597.1 238.2h2.1v2.1h-2.1zM597.1 239.8h2.1v2.1h-2.1zM574.6 241.2h2.1v2.1h-2.1zM597.1 241.2h2.1v2.1h-2.1zM573.1 242.8h2.1v2.1h-2.1zM597.1 242.8h2.1v2.1h-2.1zM571.6 244.2h2.1v2.1h-2.1zM597.1 244.2h2.1v2.1h-2.1zM571.6 245.8h2.1v2.1h-2.1zM570.1 247.2h2.1v2.1h-2.1zM595.6 247.2h2.1v2.1h-2.1zM595.6 248.8h2.1v2.1h-2.1zM568.6 250.2h2.1v2.1h-2.1zM595.6 250.2h2.1v2.1h-2.1zM594.1 251.8h2.1v2.1h-2.1zM567.1 253.2h2.1v2.1h-2.1zM594.1 253.2h2.1v2.1h-2.1zM567.1 254.8h2.1v2.1h-2.1zM592.6 254.8h2.1v2.1h-2.1zM567.1 256.2h2.1v2.1h-2.1zM591.1 256.2h3.6v2.1h-3.6zM567.1 257.8h2.1v2.1h-2.1zM589.6 257.8h3.6v2.1h-3.6zM567.1 259.2h2.1v2.1h-2.1zM588.1 259.2h3.6v2.1h-3.6zM567.1 260.8h2.1v2.1h-2.1zM583.6 260.8h6.6v2.1h-6.6zM567.1 262.2h5.1v2.1h-5.1zM576.1 262.2h11.1v2.1h-11.1zM568.6 263.8h11.1v2.1h-11.1z"/>
<path fill="#3885bc" d="M589.6 215.8h3.6v2.1h-3.6zM588.1 217.2h6.6v2.1h-6.6zM588.1 218.8h2.1v2.1h-2.1zM592.6 218.8h2.1v2.1h-2.1zM586.6 220.2h2.1v2.1h-2.1zM594.1 220.2h2.1v2.1h-2.1zM585.1 221.8h2.1v2.1h-2.1zM594.1 221.8h2.1v2.1h-2.1zM594.1 223.2h2.1v2.1h-2.1zM583.6 224.8h2.1v2.1h-2.1zM582.1 226.2h2.1v2.1h-2.1zM595.6 226.2h2.1v2.1h-2.1zM595.6 227.8h2.1v2.1h-2.1zM580.6 229.2h2.1v2.1h-2.1zM579.1 230.8h2.1v2.1h-2.1zM597.1 232.2h2.1v2.1h-2.1zM577.6 233.8h2.1v2.1h-2.1zM597.1 233.8h2.1v2.1h-2.1zM597.1 235.2h2.1v2.1h-2.1zM576.1 236.8h2.1v2.1h-2.1zM597.1 236.8h2.1v2.1h-2.1zM574.6 239.8h2.1v2.1h-2.1zM573.1 241.2h2.1v2.1h-2.1zM570.1 245.8h2.1v2.1h-2.1zM597.1 245.8h2.1v2.1h-2.1zM568.6 247.2h2.1v2.1h-2.1zM597.1 247.2h2.1v2.1h-2.1zM568.6 248.8h2.1v2.1h-2.1zM597.1 248.8h2.1v2.1h-2.1zM567.1 250.2h2.1v2.1h-2.1zM597.1 250.2h2.1v2.1h-2.1zM567.1 251.8h2.1v2.1h-2.1zM595.6 251.8h2.1v2.1h-2.1zM595.6 253.2h2.1v2.1h-2.1zM565.6 254.8h2.1v2.1h-2.1zM594.1 254.8h3.6v2.1h-3.6zM565.6 256.2h2.1v2.1h-2.1zM594.1 256.2h2.1v2.1h-2.1zM565.6 257.8h2.1v2.1h-2.1zM592.6 257.8h2.1v2.1h-2.1zM565.6 259.2h2.1v2.1h-2.1zM591.1 259.2h3.6v2.1h-3.6zM565.6 260.8h2.1v2.1h-2.1zM589.6 260.8h3.6v2.1h-3.6zM565.6 262.2h2.1v2.1h-2.1zM586.6 262.2h5.1v2.1h-5.1zM565.6 263.8h3.6v2.1h-3.6zM579.1 263.8h9.6v2.1h-9.6zM567.1 265.2h17.1v2.1h-17.1zM571.6 266.8h2.1v2.1h-2.1z"/>
<path fill="#408fc1" d="M589.6 212.8h3.6v2.1h-3.6zM588.1 214.2h6.6v2.1h-6.6zM588.1 215.8h2.1v2.1h-2.1zM592.6 215.8h2.1v2.1h-2.1zM586.6 217.2h2.1v2.1h-2.1zM594.1 217.2h2.1v2.1h-2.1zM586.6 218.8h2.1v2.1h-2.1zM594.1 218.8h2.1v2.1h-2.1zM585.1 220.2h2.1v2.1h-2.1zM595.6 221.8h2.1v2.1h-2.1zM583.6 223.2h2.1v2.1h-2.1zM595.6 223.2h2.1v2.1h-2.1zM582.1 224.8h2.1v2.1h-2.1zM595.6 224.8h2.1v2.1h-2.1zM580.6 227.8h2.1v2.1h-2.1zM597.1 227.8h2.1v2.1h-2.1zM597.1 229.2h2.1v2.1h-2.1zM597.1 230.8h2.1v2.1h-2.1zM577.6 232.2h2.1v2.1h-2.1zM576.1 235.2h2.1v2.1h-2.1zM598.6 235.2h2.1v2.1h-2.1zM598.6 236.8h2.1v2.1h-2.1zM574.6 238.2h2.1v2.1h-2.1zM598.6 238.2h2.1v2.1h-2.1zM573.1 239.8h2.1v2.1h-2.1zM598.6 239.8h2.1v2.1h-2.1zM598.6 241.2h2.1v2.1h-2.1zM571.6 242.8h2.1v2.1h-2.1zM598.6 242.8h2.1v2.1h-2.1zM570.1 244.2h2.1v2.1h-2.1zM598.6 244.2h2.1v2.1h-2.1zM568.6 245.8h2.1v2.1h-2.1zM598.6 245.8h2.1v2.1h-2.1zM598.6 247.2h2.1v2.1h-2.1zM567.1 248.8h2.1v2.1h-2.1zM598.6 248.8h2.1v2.1h-2.1zM598.6 250.2h2.1v2.1h-2.1zM565.6 251.8h2.1v2.1h-2.1zM597.1 251.8h2.1v2.1h-2.1zM565.6 253.2h2.1v2.1h-2.1zM597.1 253.2h2.1v2.1h-2.1zM564.1 256.2h2.1v2.1h-2.1zM595.6 256.2h2.1v2.1h-2.1zM564.1 257.8h2.1v2.1h-2.1zM594.1 257.8h2.1v2.1h-2.1zM564.1 259.2h2.1v2.1h-2.1zM594.1 259.2h2.1v2.1h-2.1zM564.1 260.8h2.1v2.1h-2.1zM592.6 260.8h2.1v2.1h-2.1zM564.1 262.2h2.1v2.1h-2.1zM591.1 262.2h2.1v2.1h-2.1zM564.1 263.8h2.1v2.1h-2.1zM588.1 263.8h3.6v2.1h-3.6zM564.1 265.2h3.6v2.1h-3.6zM583.6 265.2h6.6v2.1h-6.6zM565.6 266.8h6.6v2.1h-6.6zM573.1 266.8h14.1v2.1h-14.1zM568.6 268.2h11.1v2.1h-11.1z"/>
<path fill="#4c99c6" d="M591.1 209.8h2.1v2.1h-2.1zM589.6 211.2h5.1v2.1h-5.1zM588.1 212.8h2.1v2.1h-2.1zM592.6 212.8h3.6v2.1h-3.6zM594.1 214.2h2.1v2.1h-2.1zM586.6 215.8h2.1v2.1h-2.1zM594.1 215.8h2.1v2.1h-2.1zM585.1 218.8h2.1v2.1h-2.1zM595.6 218.8h2.1v2.1h-2.1zM595.6 220.2h2.1v2.1h-2.1zM583.6 221.8h2.1v2.1h-2.1zM582.1 223.2h2.1v2.1h-2.1zM597.1 224.8h2.1v2.1h-2.1zM580.6 226.2h2.1v2.1h-2.1zM597.1 226.2h2.1v2.1h-2.1zM579.1 229.2h2.1v2.1h-2.1zM598.6 232.2h2.1v2.1h-2.1zM576.1 233.8h2.1v2.1h-2.1zM598.6 233.8h2.1v2.1h-2.1zM574.6 236.8h2.1v2.1h-2.1zM600.1 239.8h2.1v2.1h-2.1zM571.6 241.2h2.1v2.1h-2.1zM600.1 241.2h2.1v2.1h-2.1zM570.1 242.8h2.1v2.1h-2.1zM600.1 242.8h2.1v2.1h-2.1zM600.1 244.2h2.1v2.1h-2.1zM600.1 245.8h2.1v2.1h-2.1zM567.1 247.2h2.1v2.1h-2.1zM600.1 247.2h2.1v2.1h-2.1zM565.6 250.2h2.1v2.1h-2.1zM598.6 251.8h2.1v2.1h-2.1zM564.1 253.2h2.1v2.1h-2.1zM598.6 253.2h2.1v2.1h-2.1zM564.1 254.8h2.1v2.1h-2.1zM597.1 254.8h2.1v2.1h-2.1zM597.1 256.2h2.1v2.1h-2.1zM595.6 257.8h2.1v2.1h-2.1zM562.6 259.2h2.1v2.1h-2.1zM595.6 259.2h2.1v2.1h-2.1zM562.6 260.8h2.1v2.1h-2.1zM594.1 260.8h2.1v2.1h-2.1zM562.6 262.2h2.1v2.1h-2.1zM592.6 262.2h3.6v2.1h-3.6zM562.6 263.8h2.1v2.1h-2.1zM591.1 263.8h3.6v2.1h-3.6zM562.6 265.2h2.1v2.1h-2.1zM589.6 265.2h3.6v2.1h-3.6zM562.6 266.8h3.6v2.1h-3.6zM586.6 266.8h5.1v2.1h-5.1zM562.6 268.2h6.6v2.1h-6.6zM579.1 268.2h9.6v2.1h-9.6zM565.6 269.8h18.6v2.1h-18.6z"/>
<path fill="#5ca3cb" d="M589.6 208.2h5.1v2.1h-5.1zM588.1 209.8h3.6v2.1h-3.6zM592.6 209.8h3.6v2.1h-3.6zM588.1 211.2h2.1v2.1h-2.1zM594.1 211.2h2.1v2.1h-2.1zM586.6 212.8h2.1v2.1h-2.1zM586.6 214.2h2.1v2.1h-2.1zM595.6 214.2h2.1v2.1h-2.1zM585.1 215.8h2.1v2.1h-2.1zM595.6 215.8h2.1v2.1h-2.1zM585.1 217.2h2.1v2.1h-2.1zM595.6 217.2h2.1v2.1h-2.1zM583.6 218.8h2.1v2.1h-2.1zM583.6 220.2h2.1v2.1h-2.1zM582.1 221.8h2.1v2.1h-2.1zM597.1 221.8h2.1v2.1h-2.1zM597.1 223.2h2.1v2.1h-2.1zM580.6 224.8h2.1v2.1h-2.1zM579.1 227.8h2.1v2.1h-2.1zM598.6 227.8h2.1v2.1h-2.1zM598.6 229.2h2.1v2.1h-2.1zM577.6 230.8h2.1v2.1h-2.1zM598.6 230.8h2.1v2.1h-2.1zM574.6 235.2h2.1v2.1h-2.1zM600.1 235.2h2.1v2.1h-2.1zM600.1 236.8h2.1v2.1h-2.1zM573.1 238.2h2.1v2.1h-2.1zM600.1 238.2h2.1v2.1h-2.1zM571.6 239.8h2.1v2.1h-2.1zM568.6 244.2h2.1v2.1h-2.1zM567.1 245.8h2.1v2.1h-2.1zM565.6 248.8h2.1v2.1h-2.1zM600.1 248.8h2.1v2.1h-2.1zM600.1 250.2h2.1v2.1h-2.1zM564.1 251.8h2.1v2.1h-2.1zM600.1 251.8h2.1v2.1h-2.1zM598.6 254.8h2.1v2.1h-2.1zM562.6 256.2h2.1v2.1h-2.1zM598.6 256.2h2.1v2.1h-2.1zM562.6 257.8h2.1v2.1h-2.1zM597.1 257.8h2.1v2.1h-2.1zM597.1 259.2h2.1v2.1h-2.1zM561.1 260.8h2.1v2.1h-2.1zM595.6 260.8h2.1v2.1h-2.1zM561.1 262.2h2.1v2.1h-2.1zM595.6 262.2h2.1v2.1h-2.1zM561.1 263.8h2.1v2.1h-2.1zM594.1 263.8h2.1v2.1h-2.1zM559.6 265.2h3.6v2.1h-3.6zM592.6 265.2h2.1v2.1h-2.1zM559.6 266.8h3.6v2.1h-3.6zM591.1 266.8h3.6v2.1h-3.6zM559.6 268.2h3.6v2.1h-3.6zM588.1 268.2h5.1v2.1h-5.1zM561.1 269.8h5.1v2.1h-5.1zM583.6 269.8h6.6v2.1h-6.6zM562.6 271.2h24.6v2.1h-24.6zM567.1 272.8h14.1v2.1h-14.1z"/>
<path fill="#6eaed2" d="M591.1 205.2h2.1v2.1h-2.1zM589.6 206.8h5.1v2.1h-5.1zM588.1 208.2h2.1v2.1h-2.1zM594.1 208.2h2.1v2.1h-2.1zM586.6 209.8h2.1v2.1h-2.1zM586.6 211.2h2.1v2.1h-2.1zM595.6 211.2h2.1v2.1h-2.1zM595.6 212.8h2.1v2.1h-2.1zM585.1 214.2h2.1v2.1h-2.1zM583.6 217.2h2.1v2.1h-2.1zM597.1 217.2h2.1v2.1h-2.1zM597.1 218.8h2.1v2.1h-2.1zM582.1 220.2h2.1v2.1h-2.1zM597.1 220.2h2.1v2.1h-2.1zM580.6 223.2h2.1v2.1h-2.1zM598.6 224.8h2.1v2.1h-2.1zM579.1 226.2h2.1v2.1h-2.1zM598.6 226.2h2.1v2.1h-2.1zM577.6 229.2h2.1v2.1h-2.1zM576.1 232.2h2.1v2.1h-2.1zM600.1 232.2h2.1v2.1h-2.1zM600.1 233.8h2.1v2.1h-2.1zM573.1 236.8h2.1v2.1h-2.1zM601.6 239.8h2.1v2.1h-2.1zM570.1 241.2h2.1v2.1h-2.1zM601.6 241.2h2.1v2.1h-2.1zM568.6 242.8h2.1v2.1h-2.1zM601.6 242.8h2.1v2.1h-2.1zM601.6 244.2h2.1v2.1h-2.1zM601.6 245.8h2.1v2.1h-2.1zM565.6 247.2h2.1v2.1h-2.1zM601.6 247.2h2.1v2.1h-2.1zM601.6 248.8h2.1v2.1h-2.1zM564.1 250.2h2.1v2.1h-2.1zM601.6 250.2h2.1v2.1h-2.1zM562.6 253.2h2.1v2.1h-2.1zM600.1 253.2h2.1v2.1h-2.1zM562.6 254.8h2.1v2.1h-2.1zM600.1 254.8h2.1v2.1h-2.1zM600.1 256.2h2.1v2.1h-2.1zM561.1 257.8h2.1v2.1h-2.1zM598.6 257.8h2.1v2.1h-2.1zM561.1 259.2h2.1v2.1h-2.1zM598.6 259.2h2.1v2.1h-2.1zM559.6 260.8h2.1v2.1h-2.1zM597.1 260.8h2.1v2.1h-2.1zM559.6 262.2h2.1v2.1h-2.1zM597.1 262.2h2.1v2.1h-2.1zM558.1 263.8h3.6v2.1h-3.6zM595.6 263.8h2.1v2.1h-2.1zM558.1 265.2h2.1v2.1h-2.1zM594.1 265.2h3.6v2.1h-3.6zM558.1 266.8h2.1v2.1h-2.1zM594.1 266.8h2.1v2.1h-2.1zM556.6 268.2h3.6v2.1h-3.6zM592.6 268.2h2.1v2.1h-2.1zM558.1 269.8h3.6v2.1h-3.6zM589.6 269.8h5.1v2.1h-5.1zM558.1 271.2h5.1v2.1h-5.1zM586.6 271.2h6.6v2.1h-6.6zM559.6 272.8h8.1v2.1h-8.1zM580.6 272.8h9.6v2.1h-9.6zM562.6 274.2h23.1v2.1h-23.1zM570.1 275.8h8.1v2.1h-8.1z"/>
<path fill="#7eb8d7" d="M589.6 203.8h5.1v2.1h-5.1zM588.1 205.2h3.6v2.1h-3.6zM592.6 205.2h3.6v2.1h-3.6zM588.1 206.8h2.1v2.1h-2.1zM594.1 206.8h2.1v2.1h-2.1zM586.6 208.2h2.1v2.1h-2.1zM595.6 208.2h2.1v2.1h-2.1zM595.6 209.8h2.1v2.1h-2.1zM585.1 211.2h2.1v2.1h-2.1zM585.1 212.8h2.1v2.1h-2.1zM597.1 214.2h2.1v2.1h-2.1zM583.6 215.8h2.1v2.1h-2.1zM597.1 215.8h2.1v2.1h-2.1zM582.1 218.8h2.1v2.1h-2.1zM580.6 221.8h2.1v2.1h-2.1zM598.6 221.8h2.1v2.1h-2.1zM598.6 223.2h2.1v2.1h-2.1zM579.1 224.8h2.1v2.1h-2.1zM577.6 227.8h2.1v2.1h-2.1zM600.1 229.2h2.1v2.1h-2.1zM576.1 230.8h2.1v2.1h-2.1zM600.1 230.8h2.1v2.1h-2.1zM574.6 233.8h2.1v2.1h-2.1zM601.6 236.8h2.1v2.1h-2.1zM571.6 238.2h2.1v2.1h-2.1zM601.6 238.2h2.1v2.1h-2.1zM570.1 239.8h2.1v2.1h-2.1zM567.1 244.2h2.1v2.1h-2.1zM565.6 245.8h2.1v2.1h-2.1zM564.1 248.8h2.1v2.1h-2.1zM562.6 251.8h2.1v2.1h-2.1zM601.6 251.8h2.1v2.1h-2.1zM601.6 253.2h2.1v2.1h-2.1zM601.6 254.8h2.1v2.1h-2.1zM561.1 256.2h2.1v2.1h-2.1zM600.1 257.8h2.1v2.1h-2.1zM559.6 259.2h2.1v2.1h-2.1zM600.1 259.2h2.1v2.1h-2.1zM598.6 260.8h2.1v2.1h-2.1zM558.1 262.2h2.1v2.1h-2.1zM598.6 262.2h2.1v2.1h-2.1zM556.6 263.8h2.1v2.1h-2.1zM597.1 263.8h2.1v2.1h-2.1zM556.6 265.2h2.1v2.1h-2.1zM597.1 265.2h2.1v2.1h-2.1zM555.1 266.8h3.6v2.1h-3.6zM595.6 266.8h2.1v2.1h-2.1zM555.1 268.2h2.1v2.1h-2.1zM594.1 268.2h3.6v2.1h-3.6zM555.1 269.8h3.6v2.1h-3.6zM594.1 269.8h2.1v2.1h-2.1zM555.1 271.2h3.6v2.1h-3.6zM592.6 271.2h3.6v2.1h-3.6zM555.1 272.8h5.1v2.1h-5.1zM589.6 272.8h5.1v2.1h-5.1zM556.6 274.2h6.6v2.1h-6.6zM585.1 274.2h8.1v2.1h-8.1zM558.1 275.8h12.6v2.1h-12.6zM577.6 275.8h12.6v2.1h-12.6zM561.1 277.2h26.1v2.1h-26.1zM568.6 278.8h11.1v2.1h-11.1z"/>
<path fill="#90c4dd" d="M589.6 202.2h5.1v2.1h-5.1zM588.1 203.8h2.1v2.1h-2.1zM594.1 203.8h2.1v2.1h-2.1zM586.6 205.2h2.1v2.1h-2.1zM586.6 206.8h2.1v2.1h-2.1zM595.6 206.8h2.1v2.1h-2.1zM585.1 209.8h2.1v2.1h-2.1zM597.1 209.8h2.1v2.1h-2.1zM597.1 211.2h2.1v2.1h-2.1zM597.1 212.8h2.1v2.1h-2.1zM583.6 214.2h2.1v2.1h-2.1zM582.1 217.2h2.1v2.1h-2.1zM598.6 218.8h2.1v2.1h-2.1zM598.6 220.2h2.1v2.1h-2.1zM577.6 226.2h2.1v2.1h-2.1zM600.1 226.2h2.1v2.1h-2.1zM600.1 227.8h2.1v2.1h-2.1zM576.1 229.2h2.1v2.1h-2.1zM574.6 232.2h2.1v2.1h-2.1zM601.6 232.2h2.1v2.1h-2.1zM601.6 233.8h2.1v2.1h-2.1zM573.1 235.2h2.1v2.1h-2.1zM601.6 235.2h2.1v2.1h-2.1zM571.6 236.8h2.1v2.1h-2.1zM568.6 241.2h2.1v2.1h-2.1zM603.1 241.2h2.1v2.1h-2.1zM567.1 242.8h2.1v2.1h-2.1zM603.1 242.8h2.1v2.1h-2.1zM603.1 244.2h2.1v2.1h-2.1zM603.1 245.8h2.1v2.1h-2.1zM564.1 247.2h2.1v2.1h-2.1zM603.1 247.2h2.1v2.1h-2.1zM603.1 248.8h2.1v2.1h-2.1zM562.6 250.2h2.1v2.1h-2.1zM603.1 250.2h2.1v2.1h-2.1zM603.1 251.8h2.1v2.1h-2.1zM561.1 253.2h2.1v2.1h-2.1zM561.1 254.8h2.1v2.1h-2.1zM601.6 256.2h2.1v2.1h-2.1zM559.6 257.8h2.1v2.1h-2.1zM601.6 257.8h2.1v2.1h-2.1zM558.1 259.2h2.1v2.1h-2.1zM558.1 260.8h2.1v2.1h-2.1zM600.1 260.8h2.1v2.1h-2.1zM556.6 262.2h2.1v2.1h-2.1zM600.1 262.2h2.1v2.1h-2.1zM555.1 263.8h2.1v2.1h-2.1zM598.6 263.8h2.1v2.1h-2.1zM553.6 265.2h3.6v2.1h-3.6zM598.6 265.2h2.1v2.1h-2.1zM552.1 266.8h3.6v2.1h-3.6zM597.1 266.8h3.6v2.1h-3.6zM552.1 268.2h3.6v2.1h-3.6zM597.1 268.2h2.1v2.1h-2.1zM552.1 269.8h3.6v2.1h-3.6zM595.6 269.8h3.6v2.1h-3.6zM550.6 271.2h5.1v2.1h-5.1zM595.6 271.2h3.6v2.1h-3.6zM550.6 272.8h5.1v2.1h-5.1zM594.1 272.8h3.6v2.1h-3.6zM550.6 274.2h6.6v2.1h-6.6zM592.6 274.2h5.1v2.1h-5.1zM552.1 275.8h6.6v2.1h-6.6zM589.6 275.8h6.6v2.1h-6.6zM552.1 277.2h9.6v2.1h-9.6zM586.6 277.2h9.6v2.1h-9.6zM555.1 278.8h14.1v2.1h-14.1zM579.1 278.8h14.1v2.1h-14.1zM558.1 280.2h32.1v2.1h-32.1zM562.6 281.8h24.6v2.1h-24.6zM567.1 283.2h15.6v2.1h-15.6z"/>
<path fill="#9dcbe1" d="M589.6 200.8h5.1v2.1h-5.1zM588.1 202.2h2.1v2.1h-2.1zM594.1 202.2h2.1v2.1h-2.1zM586.6 203.8h2.1v2.1h-2.1zM595.6 203.8h2.1v2.1h-2.1zM595.6 205.2h2.1v2.1h-2.1zM585.1 206.8h2.1v2.1h-2.1zM597.1 206.8h2.1v2.1h-2.1zM585.1 208.2h2.1v2.1h-2.1zM597.1 208.2h2.1v2.1h-2.1zM583.6 211.2h2.1v2.1h-2.1zM583.6 212.8h2.1v2.1h-2.1zM598.6 214.2h2.1v2.1h-2.1zM582.1 215.8h2.1v2.1h-2.1zM598.6 215.8h2.1v2.1h-2.1zM598.6 217.2h2.1v2.1h-2.1zM580.6 220.2h2.1v2.1h-2.1zM579.1 223.2h2.1v2.1h-2.1zM600.1 223.2h2.1v2.1h-2.1zM600.1 224.8h2.1v2.1h-2.1zM574.6 230.8h2.1v2.1h-2.1zM601.6 230.8h2.1v2.1h-2.1zM573.1 233.8h2.1v2.1h-2.1zM570.1 238.2h2.1v2.1h-2.1zM603.1 238.2h2.1v2.1h-2.1zM568.6 239.8h2.1v2.1h-2.1zM603.1 239.8h2.1v2.1h-2.1zM565.6 244.2h2.1v2.1h-2.1zM564.1 245.8h2.1v2.1h-2.1zM562.6 248.8h2.1v2.1h-2.1zM561.1 251.8h2.1v2.1h-2.1zM603.1 253.2h2.1v2.1h-2.1zM559.6 254.8h2.1v2.1h-2.1zM603.1 254.8h2.1v2.1h-2.1zM559.6 256.2h2.1v2.1h-2.1zM603.1 256.2h2.1v2.1h-2.1zM558.1 257.8h2.1v2.1h-2.1zM601.6 259.2h2.1v2.1h-2.1zM556.6 260.8h2.1v2.1h-2.1zM601.6 260.8h2.1v2.1h-2.1zM555.1 262.2h2.1v2.1h-2.1zM601.6 262.2h2.1v2.1h-2.1zM552.1 263.8h3.6v2.1h-3.6zM600.1 263.8h2.1v2.1h-2.1zM550.6 265.2h3.6v2.1h-3.6zM600.1 265.2h2.1v2.1h-2.1zM550.6 266.8h2.1v2.1h-2.1zM600.1 266.8h2.1v2.1h-2.1zM549.1 268.2h3.6v2.1h-3.6zM598.6 268.2h3.6v2.1h-3.6zM547.6 269.8h5.1v2.1h-5.1zM598.6 269.8h3.6v2.1h-3.6zM547.6 271.2h3.6v2.1h-3.6zM598.6 271.2h3.6v2.1h-3.6zM547.6 272.8h3.6v2.1h-3.6zM597.1 272.8h5.1v2.1h-5.1zM546.1 274.2h5.1v2.1h-5.1zM597.1 274.2h5.1v2.1h-5.1zM546.1 275.8h6.6v2.1h-6.6zM595.6 275.8h6.6v2.1h-6.6zM544.6 277.2h8.1v2.1h-8.1zM595.6 277.2h5.1v2.1h-5.1zM544.6 278.8h11.1v2.1h-11.1zM592.6 278.8h8.1v2.1h-8.1zM543.1 280.2h15.6v2.1h-15.6zM589.6 280.2h11.1v2.1h-11.1zM543.1 281.8h20.1v2.1h-20.1zM586.6 281.8h12.6v2.1h-12.6zM543.1 283.2h24.6v2.1h-24.6zM582.1 283.2h15.6v2.1h-15.6zM543.1 284.8h53.1v2.1h-53.1zM543.1 286.2h51.6v2.1h-51.6zM544.6 287.8h48.6v2.1h-48.6zM546.1 289.2h3.6v2.1h-3.6zM556.6 289.2h35.1v2.1h-35.1zM558.1 290.8h33.6v2.1h-33.6zM559.6 292.2h32.1v2.1h-32.1zM559.6 293.8h30.6v2.1h-30.6zM559.6 295.2h32.1v2.1h-32.1z"/>
<path fill="#acd2e5" d="M589.6 199.2h5.1v2.1h-5.1zM588.1 200.8h2.1v2.1h-2.1zM594.1 200.8h2.1v2.1h-2.1zM586.6 202.2h2.1v2.1h-2.1zM595.6 202.2h2.1v2.1h-2.1zM585.1 203.8h2.1v2.1h-2.1zM585.1 205.2h2.1v2.1h-2.1zM597.1 205.2h2.1v2.1h-2.1zM583.6 208.2h2.1v2.1h-2.1zM583.6 209.8h2.1v2.1h-2.1zM598.6 209.8h2.1v2.1h-2.1zM598.6 211.2h2.1v2.1h-2.1zM598.6 212.8h2.1v2.1h-2.1zM582.1 214.2h2.1v2.1h-2.1zM580.6 218.8h2.1v2.1h-2.1zM600.1 220.2h2.1v2.1h-2.1zM579.1 221.8h2.1v2.1h-2.1zM600.1 221.8h2.1v2.1h-2.1zM577.6 224.8h2.1v2.1h-2.1zM576.1 227.8h2.1v2.1h-2.1zM601.6 227.8h2.1v2.1h-2.1zM601.6 229.2h2.1v2.1h-2.1zM571.6 235.2h2.1v2.1h-2.1zM603.1 235.2h2.1v2.1h-2.1zM603.1 236.8h2.1v2.1h-2.1zM567.1 241.2h2.1v2.1h-2.1zM565.6 242.8h2.1v2.1h-2.1zM604.6 244.2h2.1v2.1h-2.1zM604.6 245.8h2.1v2.1h-2.1zM562.6 247.2h2.1v2.1h-2.1zM604.6 247.2h2.1v2.1h-2.1zM604.6 248.8h2.1v2.1h-2.1zM561.1 250.2h2.1v2.1h-2.1zM604.6 250.2h2.1v2.1h-2.1zM604.6 251.8h2.1v2.1h-2.1zM559.6 253.2h2.1v2.1h-2.1zM604.6 253.2h2.1v2.1h-2.1zM558.1 256.2h2.1v2.1h-2.1zM556.6 257.8h2.1v2.1h-2.1zM603.1 257.8h2.1v2.1h-2.1zM526.6 259.2h3.6v2.1h-3.6zM556.6 259.2h2.1v2.1h-2.1zM603.1 259.2h2.1v2.1h-2.1zM525.1 260.8h6.6v2.1h-6.6zM553.6 260.8h3.6v2.1h-3.6zM603.1 260.8h2.1v2.1h-2.1zM525.1 262.2h8.1v2.1h-8.1zM552.1 262.2h3.6v2.1h-3.6zM603.1 262.2h2.1v2.1h-2.1zM525.1 263.8h8.1v2.1h-8.1zM549.1 263.8h3.6v2.1h-3.6zM601.6 263.8h2.1v2.1h-2.1zM525.1 265.2h9.6v2.1h-9.6zM547.6 265.2h3.6v2.1h-3.6zM601.6 265.2h2.1v2.1h-2.1zM525.1 266.8h9.6v2.1h-9.6zM546.1 266.8h5.1v2.1h-5.1zM601.6 266.8h2.1v2.1h-2.1zM525.1 268.2h9.6v2.1h-9.6zM544.6 268.2h5.1v2.1h-5.1zM601.6 268.2h2.1v2.1h-2.1zM525.1 269.8h9.6v2.1h-9.6zM543.1 269.8h5.1v2.1h-5.1zM601.6 269.8h2.1v2.1h-2.1zM525.1 271.2h9.6v2.1h-9.6zM540.1 271.2h8.1v2.1h-8.1zM601.6 271.2h2.1v2.1h-2.1zM525.1 272.8h23.1v2.1h-23.1zM601.6 272.8h3.6v2.1h-3.6zM525.1 274.2h21.6v2.1h-21.6zM601.6 274.2h3.6v2.1h-3.6zM531.1 275.8h15.6v2.1h-15.6zM601.6 275.8h3.6v2.1h-3.6zM531.1 277.2h14.1v2.1h-14.1zM600.1 277.2h6.6v2.1h-6.6zM525.1 278.8h20.1v2.1h-20.1zM600.1 278.8h6.6v2.1h-6.6zM525.1 280.2h18.6v2.1h-18.6zM600.1 280.2h5.1v2.1h-5.1zM525.1 281.8h18.6v2.1h-18.6zM598.6 281.8h6.6v2.1h-6.6zM525.1 283.2h18.6v2.1h-18.6zM597.1 283.2h8.1v2.1h-8.1zM525.1 284.8h18.6v2.1h-18.6zM595.6 284.8h8.1v2.1h-8.1zM525.1 286.2h18.6v2.1h-18.6zM594.1 286.2h8.1v2.1h-8.1zM525.1 287.8h20.1v2.1h-20.1zM592.6 287.8h9.6v2.1h-9.6zM525.1 289.2h21.6v2.1h-21.6zM549.1 289.2h8.1v2.1h-8.1zM591.1 289.2h9.6v2.1h-9.6zM525.1 290.8h33.6v2.1h-33.6zM591.1 290.8h9.6v2.1h-9.6zM525.1 292.2h35.1v2.1h-35.1zM591.1 292.2h9.6v2.1h-9.6zM525.1 293.8h35.1v2.1h-35.1zM589.6 293.8h11.1v2.1h-11.1zM525.1 295.2h35.1v2.1h-35.1zM591.1 295.2h9.6v2.1h-9.6z"/>
<path fill="#b8d8e9" d="M589.6 197.8h5.1v2.1h-5.1zM586.6 199.2h3.6v2.1h-3.6zM594.1 199.2h2.1v2.1h-2.1zM586.6 200.8h2.1v2.1h-2.1zM595.6 200.8h2.1v2.1h-2.1zM585.1 202.2h2.1v2.1h-2.1zM597.1 202.2h2.1v2.1h-2.1zM597.1 203.8h2.1v2.1h-2.1zM583.6 206.8h2.1v2.1h-2.1zM598.6 206.8h2.1v2.1h-2.1zM598.6 208.2h2.1v2.1h-2.1zM582.1 211.2h2.1v2.1h-2.1zM582.1 212.8h2.1v2.1h-2.1zM580.6 215.8h2.1v2.1h-2.1zM600.1 215.8h2.1v2.1h-2.1zM580.6 217.2h2.1v2.1h-2.1zM600.1 217.2h2.1v2.1h-2.1zM600.1 218.8h2.1v2.1h-2.1zM579.1 220.2h2.1v2.1h-2.1zM577.6 223.2h2.1v2.1h-2.1zM601.6 224.8h2.1v2.1h-2.1zM576.1 226.2h2.1v2.1h-2.1zM601.6 226.2h2.1v2.1h-2.1zM574.6 229.2h2.1v2.1h-2.1zM573.1 232.2h2.1v2.1h-2.1zM603.1 232.2h2.1v2.1h-2.1zM603.1 233.8h2.1v2.1h-2.1zM526.6 236.8h3.6v2.1h-3.6zM570.1 236.8h2.1v2.1h-2.1zM525.1 238.2h6.6v2.1h-6.6zM568.6 238.2h2.1v2.1h-2.1zM525.1 239.8h6.6v2.1h-6.6zM604.6 239.8h2.1v2.1h-2.1zM525.1 241.2h6.6v2.1h-6.6zM604.6 241.2h2.1v2.1h-2.1zM525.1 242.8h6.6v2.1h-6.6zM604.6 242.8h2.1v2.1h-2.1zM525.1 244.2h8.1v2.1h-8.1zM564.1 244.2h2.1v2.1h-2.1zM525.1 245.8h8.1v2.1h-8.1zM525.1 247.2h8.1v2.1h-8.1zM525.1 248.8h9.6v2.1h-9.6zM561.1 248.8h2.1v2.1h-2.1zM525.1 250.2h9.6v2.1h-9.6zM525.1 251.8h11.1v2.1h-11.1zM559.6 251.8h2.1v2.1h-2.1zM525.1 253.2h11.1v2.1h-11.1zM525.1 254.8h12.6v2.1h-12.6zM558.1 254.8h2.1v2.1h-2.1zM604.6 254.8h2.1v2.1h-2.1zM525.1 256.2h14.1v2.1h-14.1zM556.6 256.2h2.1v2.1h-2.1zM604.6 256.2h2.1v2.1h-2.1zM525.1 257.8h14.1v2.1h-14.1zM555.1 257.8h2.1v2.1h-2.1zM604.6 257.8h2.1v2.1h-2.1zM525.1 259.2h2.1v2.1h-2.1zM529.6 259.2h11.1v2.1h-11.1zM553.6 259.2h3.6v2.1h-3.6zM604.6 259.2h2.1v2.1h-2.1zM531.1 260.8h11.1v2.1h-11.1zM550.6 260.8h3.6v2.1h-3.6zM604.6 260.8h2.1v2.1h-2.1zM532.6 262.2h11.1v2.1h-11.1zM546.1 262.2h6.6v2.1h-6.6zM604.6 262.2h2.1v2.1h-2.1zM532.6 263.8h17.1v2.1h-17.1zM603.1 263.8h3.6v2.1h-3.6zM534.1 265.2h14.1v2.1h-14.1zM603.1 265.2h2.1v2.1h-2.1zM534.1 266.8h12.6v2.1h-12.6zM603.1 266.8h3.6v2.1h-3.6zM534.1 268.2h11.1v2.1h-11.1zM603.1 268.2h3.6v2.1h-3.6zM534.1 269.8h9.6v2.1h-9.6zM603.1 269.8h3.6v2.1h-3.6zM534.1 271.2h6.6v2.1h-6.6zM603.1 271.2h3.6v2.1h-3.6zM604.6 272.8h3.6v2.1h-3.6zM604.6 274.2h3.6v2.1h-3.6zM525.1 275.8h6.6v2.1h-6.6zM604.6 275.8h5.1v2.1h-5.1zM525.1 277.2h6.6v2.1h-6.6zM606.1 277.2h3.6v2.1h-3.6zM606.1 278.8h3.6v2.1h-3.6zM604.6 280.2h5.1v2.1h-5.1zM604.6 281.8h5.1v2.1h-5.1zM604.6 283.2h5.1v2.1h-5.1zM603.1 284.8h6.6v2.1h-6.6zM601.6 286.2h6.6v2.1h-6.6zM601.6 287.8h6.6v2.1h-6.6zM600.1 289.2h8.1v2.1h-8.1zM600.1 290.8h6.6v2.1h-6.6zM600.1 292.2h6.6v2.1h-6.6zM600.1 293.8h6.6v2.1h-6.6zM600.1 295.2h6.6v2.1h-6.6z"/>
<path fill="#c7e0ed" d="M589.6 196.2h3.6v2.1h-3.6zM586.6 197.8h3.6v2.1h-3.6zM594.1 197.8h2.1v2.1h-2.1zM595.6 199.2h2.1v2.1h-2.1zM585.1 200.8h2.1v2.1h-2.1zM597.1 200.8h2.1v2.1h-2.1zM583.6 203.8h2.1v2.1h-2.1zM598.6 203.8h2.1v2.1h-2.1zM583.6 205.2h2.1v2.1h-2.1zM598.6 205.2h2.1v2.1h-2.1zM582.1 209.8h2.1v2.1h-2.1zM600.1 211.2h2.1v2.1h-2.1zM600.1 212.8h2.1v2.1h-2.1zM580.6 214.2h2.1v2.1h-2.1zM600.1 214.2h2.1v2.1h-2.1zM579.1 218.8h2.1v2.1h-2.1zM577.6 221.8h2.1v2.1h-2.1zM601.6 221.8h2.1v2.1h-2.1zM601.6 223.2h2.1v2.1h-2.1zM576.1 224.8h2.1v2.1h-2.1zM574.6 227.8h2.1v2.1h-2.1zM603.1 229.2h2.1v2.1h-2.1zM573.1 230.8h2.1v2.1h-2.1zM603.1 230.8h2.1v2.1h-2.1zM525.1 232.2h6.6v2.1h-6.6zM525.1 233.8h8.1v2.1h-8.1zM571.6 233.8h2.1v2.1h-2.1zM525.1 235.2h8.1v2.1h-8.1zM570.1 235.2h2.1v2.1h-2.1zM525.1 236.8h2.1v2.1h-2.1zM529.6 236.8h3.6v2.1h-3.6zM604.6 236.8h2.1v2.1h-2.1zM531.1 238.2h3.6v2.1h-3.6zM604.6 238.2h2.1v2.1h-2.1zM531.1 239.8h3.6v2.1h-3.6zM567.1 239.8h2.1v2.1h-2.1zM531.1 241.2h3.6v2.1h-3.6zM565.6 241.2h2.1v2.1h-2.1zM531.1 242.8h3.6v2.1h-3.6zM564.1 242.8h2.1v2.1h-2.1zM532.6 244.2h3.6v2.1h-3.6zM532.6 245.8h3.6v2.1h-3.6zM562.6 245.8h2.1v2.1h-2.1zM532.6 247.2h3.6v2.1h-3.6zM561.1 247.2h2.1v2.1h-2.1zM606.1 247.2h2.1v2.1h-2.1zM534.1 248.8h3.6v2.1h-3.6zM606.1 248.8h2.1v2.1h-2.1zM534.1 250.2h3.6v2.1h-3.6zM559.6 250.2h2.1v2.1h-2.1zM606.1 250.2h2.1v2.1h-2.1zM535.6 251.8h3.6v2.1h-3.6zM606.1 251.8h2.1v2.1h-2.1zM535.6 253.2h5.1v2.1h-5.1zM558.1 253.2h2.1v2.1h-2.1zM606.1 253.2h2.1v2.1h-2.1zM537.1 254.8h5.1v2.1h-5.1zM556.6 254.8h2.1v2.1h-2.1zM606.1 254.8h2.1v2.1h-2.1zM538.6 256.2h5.1v2.1h-5.1zM606.1 256.2h2.1v2.1h-2.1zM538.6 257.8h6.6v2.1h-6.6zM553.6 257.8h2.1v2.1h-2.1zM606.1 257.8h2.1v2.1h-2.1zM540.1 259.2h14.1v2.1h-14.1zM606.1 259.2h2.1v2.1h-2.1zM541.6 260.8h9.6v2.1h-9.6zM606.1 260.8h2.1v2.1h-2.1zM543.1 262.2h3.6v2.1h-3.6zM606.1 262.2h2.1v2.1h-2.1zM606.1 263.8h2.1v2.1h-2.1zM604.6 265.2h3.6v2.1h-3.6zM606.1 266.8h2.1v2.1h-2.1zM606.1 268.2h3.6v2.1h-3.6zM606.1 269.8h3.6v2.1h-3.6zM606.1 271.2h5.1v2.1h-5.1zM607.6 272.8h3.6v2.1h-3.6zM607.6 274.2h5.1v2.1h-5.1zM609.1 275.8h5.1v2.1h-5.1zM609.1 277.2h5.1v2.1h-5.1zM609.1 278.8h5.1v2.1h-5.1zM609.1 280.2h5.1v2.1h-5.1zM609.1 281.8h5.1v2.1h-5.1zM609.1 283.2h5.1v2.1h-5.1zM609.1 284.8h5.1v2.1h-5.1zM607.6 286.2h6.6v2.1h-6.6zM607.6 287.8h6.6v2.1h-6.6zM607.6 289.2h6.6v2.1h-6.6zM606.1 290.8h8.1v2.1h-8.1zM606.1 292.2h6.6v2.1h-6.6zM606.1 293.8h6.6v2.1h-6.6zM606.1 295.2h6.6v2.1h-6.6z"/>
<path fill="#d2e6f0" d="M586.6 196.2h3.6v2.1h-3.6zM592.6 196.2h3.6v2.1h-3.6zM585.1 197.8h2.1v2.1h-2.1zM595.6 197.8h2.1v2.1h-2.1zM585.1 199.2h2.1v2.1h-2.1zM597.1 199.2h2.1v2.1h-2.1zM583.6 200.8h2.1v2.1h-2.1zM583.6 202.2h2.1v2.1h-2.1zM598.6 202.2h2.1v2.1h-2.1zM582.1 206.8h2.1v2.1h-2.1zM582.1 208.2h2.1v2.1h-2.1zM600.1 208.2h2.1v2.1h-2.1zM600.1 209.8h2.1v2.1h-2.1zM580.6 212.8h2.1v2.1h-2.1zM579.1 217.2h2.1v2.1h-2.1zM601.6 218.8h2.1v2.1h-2.1zM577.6 220.2h2.1v2.1h-2.1zM601.6 220.2h2.1v2.1h-2.1zM603.1 226.2h2.1v2.1h-2.1zM603.1 227.8h2.1v2.1h-2.1zM525.1 229.2h6.6v2.1h-6.6zM525.1 230.8h8.1v2.1h-8.1zM531.1 232.2h2.1v2.1h-2.1zM571.6 232.2h2.1v2.1h-2.1zM532.6 233.8h2.1v2.1h-2.1zM604.6 233.8h2.1v2.1h-2.1zM532.6 235.2h2.1v2.1h-2.1zM604.6 235.2h2.1v2.1h-2.1zM532.6 236.8h2.1v2.1h-2.1zM568.6 236.8h2.1v2.1h-2.1zM534.1 238.2h2.1v2.1h-2.1zM567.1 238.2h2.1v2.1h-2.1zM534.1 239.8h2.1v2.1h-2.1zM534.1 241.2h2.1v2.1h-2.1zM534.1 242.8h2.1v2.1h-2.1zM606.1 242.8h2.1v2.1h-2.1zM535.6 244.2h2.1v2.1h-2.1zM562.6 244.2h2.1v2.1h-2.1zM606.1 244.2h2.1v2.1h-2.1zM535.6 245.8h2.1v2.1h-2.1zM606.1 245.8h2.1v2.1h-2.1zM535.6 247.2h3.6v2.1h-3.6zM537.1 248.8h2.1v2.1h-2.1zM559.6 248.8h2.1v2.1h-2.1zM537.1 250.2h3.6v2.1h-3.6zM538.6 251.8h3.6v2.1h-3.6zM558.1 251.8h2.1v2.1h-2.1zM540.1 253.2h3.6v2.1h-3.6zM556.6 253.2h2.1v2.1h-2.1zM541.6 254.8h3.6v2.1h-3.6zM543.1 256.2h3.6v2.1h-3.6zM553.6 256.2h3.6v2.1h-3.6zM544.6 257.8h9.6v2.1h-9.6zM607.6 259.2h2.1v2.1h-2.1zM607.6 260.8h2.1v2.1h-2.1zM607.6 262.2h2.1v2.1h-2.1zM607.6 263.8h2.1v2.1h-2.1zM607.6 265.2h2.1v2.1h-2.1zM607.6 266.8h3.6v2.1h-3.6zM609.1 268.2h3.6v2.1h-3.6zM609.1 269.8h3.6v2.1h-3.6zM610.6 271.2h3.6v2.1h-3.6zM610.6 272.8h5.1v2.1h-5.1zM612.1 274.2h5.1v2.1h-5.1zM613.6 275.8h3.6v2.1h-3.6zM613.6 277.2h5.1v2.1h-5.1zM613.6 278.8h5.1v2.1h-5.1zM613.6 280.2h5.1v2.1h-5.1zM613.6 281.8h6.6v2.1h-6.6zM613.6 283.2h6.6v2.1h-6.6zM613.6 284.8h6.6v2.1h-6.6zM613.6 286.2h6.6v2.1h-6.6zM613.6 287.8h6.6v2.1h-6.6zM613.6 289.2h6.6v2.1h-6.6zM613.6 290.8h6.6v2.1h-6.6zM612.1 292.2h8.1v2.1h-8.1zM612.1 293.8h8.1v2.1h-8.1zM612.1 295.2h8.1v2.1h-8.1z"/>
<path fill="#dae9f2" d="M586.6 194.8h9.6v2.1h-9.6zM585.1 196.2h2.1v2.1h-2.1zM595.6 196.2h2.1v2.1h-2.1zM597.1 197.8h2.1v2.1h-2.1zM583.6 199.2h2.1v2.1h-2.1zM598.6 200.8h2.1v2.1h-2.1zM582.1 202.2h2.1v2.1h-2.1zM582.1 203.8h2.1v2.1h-2.1zM582.1 205.2h2.1v2.1h-2.1zM600.1 205.2h2.1v2.1h-2.1zM600.1 206.8h2.1v2.1h-2.1zM580.6 209.8h2.1v2.1h-2.1zM580.6 211.2h2.1v2.1h-2.1zM601.6 214.2h2.1v2.1h-2.1zM579.1 215.8h2.1v2.1h-2.1zM601.6 215.8h2.1v2.1h-2.1zM601.6 217.2h2.1v2.1h-2.1zM576.1 223.2h2.1v2.1h-2.1zM603.1 224.8h2.1v2.1h-2.1zM528.1 226.2h2.1v2.1h-2.1zM574.6 226.2h2.1v2.1h-2.1zM525.1 227.8h8.1v2.1h-8.1zM531.1 229.2h2.1v2.1h-2.1zM573.1 229.2h2.1v2.1h-2.1zM532.6 230.8h2.1v2.1h-2.1zM532.6 232.2h2.1v2.1h-2.1zM604.6 232.2h2.1v2.1h-2.1zM534.1 233.8h2.1v2.1h-2.1zM570.1 233.8h2.1v2.1h-2.1zM534.1 235.2h2.1v2.1h-2.1zM534.1 236.8h2.1v2.1h-2.1zM535.6 239.8h2.1v2.1h-2.1zM565.6 239.8h2.1v2.1h-2.1zM606.1 239.8h2.1v2.1h-2.1zM535.6 241.2h2.1v2.1h-2.1zM564.1 241.2h2.1v2.1h-2.1zM606.1 241.2h2.1v2.1h-2.1zM535.6 242.8h2.1v2.1h-2.1zM562.6 242.8h2.1v2.1h-2.1zM537.1 244.2h2.1v2.1h-2.1zM537.1 245.8h2.1v2.1h-2.1zM561.1 245.8h2.1v2.1h-2.1zM538.6 247.2h2.1v2.1h-2.1zM559.6 247.2h2.1v2.1h-2.1zM538.6 248.8h3.6v2.1h-3.6zM540.1 250.2h3.6v2.1h-3.6zM558.1 250.2h2.1v2.1h-2.1zM607.6 250.2h2.1v2.1h-2.1zM541.6 251.8h3.6v2.1h-3.6zM607.6 251.8h2.1v2.1h-2.1zM543.1 253.2h3.6v2.1h-3.6zM607.6 253.2h2.1v2.1h-2.1zM544.6 254.8h3.6v2.1h-3.6zM553.6 254.8h3.6v2.1h-3.6zM607.6 254.8h2.1v2.1h-2.1zM546.1 256.2h8.1v2.1h-8.1zM607.6 256.2h2.1v2.1h-2.1zM607.6 257.8h2.1v2.1h-2.1zM609.1 260.8h2.1v2.1h-2.1zM609.1 262.2h2.1v2.1h-2.1zM609.1 263.8h3.6v2.1h-3.6zM609.1 265.2h3.6v2.1h-3.6zM610.6 266.8h3.6v2.1h-3.6zM612.1 268.2h3.6v2.1h-3.6zM612.1 269.8h5.1v2.1h-5.1zM613.6 271.2h5.1v2.1h-5.1zM615.1 272.8h5.1v2.1h-5.1zM616.6 274.2h5.1v2.1h-5.1zM616.6 275.8h5.1v2.1h-5.1zM618.1 277.2h5.1v2.1h-5.1zM618.1 278.8h6.6v2.1h-6.6zM618.1 280.2h6.6v2.1h-6.6zM619.6 281.8h5.1v2.1h-5.1zM619.6 283.2h6.6v2.1h-6.6zM619.6 284.8h6.6v2.1h-6.6zM619.6 286.2h6.6v2.1h-6.6zM619.6 287.8h6.6v2.1h-6.6zM619.6 289.2h6.6v2.1h-6.6zM619.6 290.8h6.6v2.1h-6.6zM619.6 292.2h6.6v2.1h-6.6zM619.6 293.8h6.6v2.1h-6.6zM619.6 295.2h6.6v2.1h-6.6z"/>
<path fill="#e3edf3" d="M588.1 193.2h6.6v2.1h-6.6zM585.1 194.8h2.1v2.1h-2.1zM595.6 194.8h2.1v2.1h-2.1zM583.6 196.2h2.1v2.1h-2.1zM597.1 196.2h2.1v2.1h-2.1zM583.6 197.8h2.1v2.1h-2.1zM598.6 197.8h2.1v2.1h-2.1zM582.1 199.2h2.1v2.1h-2.1zM598.6 199.2h2.1v2.1h-2.1zM582.1 200.8h2.1v2.1h-2.1zM600.1 202.2h2.1v2.1h-2.1zM600.1 203.8h2.1v2.1h-2.1zM580.6 206.8h2.1v2.1h-2.1zM580.6 208.2h2.1v2.1h-2.1zM601.6 209.8h2.1v2.1h-2.1zM601.6 211.2h2.1v2.1h-2.1zM579.1 212.8h2.1v2.1h-2.1zM601.6 212.8h2.1v2.1h-2.1zM579.1 214.2h2.1v2.1h-2.1zM577.6 218.8h2.1v2.1h-2.1zM576.1 221.8h2.1v2.1h-2.1zM603.1 221.8h2.1v2.1h-2.1zM603.1 223.2h2.1v2.1h-2.1zM525.1 224.8h6.6v2.1h-6.6zM574.6 224.8h2.1v2.1h-2.1zM525.1 226.2h3.6v2.1h-3.6zM529.6 226.2h3.6v2.1h-3.6zM532.6 227.8h2.1v2.1h-2.1zM573.1 227.8h2.1v2.1h-2.1zM532.6 229.2h2.1v2.1h-2.1zM604.6 229.2h2.1v2.1h-2.1zM534.1 230.8h2.1v2.1h-2.1zM571.6 230.8h2.1v2.1h-2.1zM604.6 230.8h2.1v2.1h-2.1zM534.1 232.2h2.1v2.1h-2.1zM535.6 235.2h2.1v2.1h-2.1zM568.6 235.2h2.1v2.1h-2.1zM535.6 236.8h2.1v2.1h-2.1zM567.1 236.8h2.1v2.1h-2.1zM606.1 236.8h2.1v2.1h-2.1zM535.6 238.2h2.1v2.1h-2.1zM606.1 238.2h2.1v2.1h-2.1zM537.1 239.8h2.1v2.1h-2.1zM537.1 241.2h2.1v2.1h-2.1zM537.1 242.8h2.1v2.1h-2.1zM538.6 244.2h2.1v2.1h-2.1zM561.1 244.2h2.1v2.1h-2.1zM538.6 245.8h3.6v2.1h-3.6zM607.6 245.8h2.1v2.1h-2.1zM540.1 247.2h2.1v2.1h-2.1zM607.6 247.2h2.1v2.1h-2.1zM541.6 248.8h2.1v2.1h-2.1zM558.1 248.8h2.1v2.1h-2.1zM607.6 248.8h2.1v2.1h-2.1zM543.1 250.2h2.1v2.1h-2.1zM544.6 251.8h2.1v2.1h-2.1zM556.6 251.8h2.1v2.1h-2.1zM546.1 253.2h3.6v2.1h-3.6zM553.6 253.2h3.6v2.1h-3.6zM547.6 254.8h6.6v2.1h-6.6zM609.1 254.8h2.1v2.1h-2.1zM609.1 256.2h2.1v2.1h-2.1zM609.1 257.8h2.1v2.1h-2.1zM609.1 259.2h2.1v2.1h-2.1zM610.6 260.8h2.1v2.1h-2.1zM610.6 262.2h2.1v2.1h-2.1zM612.1 263.8h2.1v2.1h-2.1zM612.1 265.2h3.6v2.1h-3.6zM613.6 266.8h3.6v2.1h-3.6zM615.1 268.2h5.1v2.1h-5.1zM616.6 269.8h5.1v2.1h-5.1zM618.1 271.2h5.1v2.1h-5.1zM619.6 272.8h5.1v2.1h-5.1zM621.1 274.2h5.1v2.1h-5.1zM621.1 275.8h6.6v2.1h-6.6zM622.6 277.2h6.6v2.1h-6.6zM624.1 278.8h6.6v2.1h-6.6zM624.1 280.2h6.6v2.1h-6.6zM624.1 281.8h8.1v2.1h-8.1zM625.6 283.2h6.6v2.1h-6.6zM625.6 284.8h8.1v2.1h-8.1zM625.6 286.2h9.6v2.1h-9.6zM625.6 287.8h9.6v2.1h-9.6zM625.6 289.2h11.1v2.1h-11.1zM625.6 290.8h11.1v2.1h-11.1zM625.6 292.2h11.1v2.1h-11.1zM625.6 293.8h11.1v2.1h-11.1zM625.6 295.2h11.1v2.1h-11.1z"/>
<path fill="#eaf1f5" d="M588.1 191.8h6.6v2.1h-6.6zM585.1 193.2h3.6v2.1h-3.6zM594.1 193.2h3.6v2.1h-3.6zM583.6 194.8h2.1v2.1h-2.1zM597.1 194.8h2.1v2.1h-2.1zM598.6 196.2h2.1v2.1h-2.1zM582.1 197.8h2.1v2.1h-2.1zM600.1 199.2h2.1v2.1h-2.1zM600.1 200.8h2.1v2.1h-2.1zM580.6 202.2h2.1v2.1h-2.1zM580.6 203.8h2.1v2.1h-2.1zM580.6 205.2h2.1v2.1h-2.1zM601.6 206.8h2.1v2.1h-2.1zM601.6 208.2h2.1v2.1h-2.1zM579.1 211.2h2.1v2.1h-2.1zM577.6 215.8h2.1v2.1h-2.1zM577.6 217.2h2.1v2.1h-2.1zM603.1 217.2h2.1v2.1h-2.1zM603.1 218.8h2.1v2.1h-2.1zM576.1 220.2h2.1v2.1h-2.1zM603.1 220.2h2.1v2.1h-2.1zM525.1 223.2h6.6v2.1h-6.6zM574.6 223.2h2.1v2.1h-2.1zM531.1 224.8h2.1v2.1h-2.1zM532.6 226.2h2.1v2.1h-2.1zM604.6 226.2h2.1v2.1h-2.1zM604.6 227.8h2.1v2.1h-2.1zM534.1 229.2h2.1v2.1h-2.1zM571.6 229.2h2.1v2.1h-2.1zM535.6 232.2h2.1v2.1h-2.1zM570.1 232.2h2.1v2.1h-2.1zM535.6 233.8h2.1v2.1h-2.1zM606.1 233.8h2.1v2.1h-2.1zM606.1 235.2h2.1v2.1h-2.1zM537.1 236.8h2.1v2.1h-2.1zM537.1 238.2h2.1v2.1h-2.1zM565.6 238.2h2.1v2.1h-2.1zM564.1 239.8h2.1v2.1h-2.1zM538.6 241.2h2.1v2.1h-2.1zM562.6 241.2h2.1v2.1h-2.1zM607.6 241.2h2.1v2.1h-2.1zM538.6 242.8h2.1v2.1h-2.1zM561.1 242.8h2.1v2.1h-2.1zM607.6 242.8h2.1v2.1h-2.1zM540.1 244.2h2.1v2.1h-2.1zM607.6 244.2h2.1v2.1h-2.1zM541.6 245.8h2.1v2.1h-2.1zM559.6 245.8h2.1v2.1h-2.1zM541.6 247.2h2.1v2.1h-2.1zM558.1 247.2h2.1v2.1h-2.1zM543.1 248.8h2.1v2.1h-2.1zM544.6 250.2h3.6v2.1h-3.6zM556.6 250.2h2.1v2.1h-2.1zM609.1 250.2h2.1v2.1h-2.1zM546.1 251.8h3.6v2.1h-3.6zM553.6 251.8h3.6v2.1h-3.6zM609.1 251.8h2.1v2.1h-2.1zM549.1 253.2h5.1v2.1h-5.1zM609.1 253.2h2.1v2.1h-2.1zM610.6 256.2h2.1v2.1h-2.1zM610.6 257.8h2.1v2.1h-2.1zM610.6 259.2h3.6v2.1h-3.6zM612.1 260.8h2.1v2.1h-2.1zM612.1 262.2h3.6v2.1h-3.6zM613.6 263.8h3.6v2.1h-3.6zM615.1 265.2h5.1v2.1h-5.1zM616.6 266.8h6.6v2.1h-6.6zM619.6 268.2h5.1v2.1h-5.1zM621.1 269.8h6.6v2.1h-6.6zM622.6 271.2h6.6v2.1h-6.6zM624.1 272.8h6.6v2.1h-6.6zM625.6 274.2h8.1v2.1h-8.1zM627.1 275.8h8.1v2.1h-8.1zM628.6 277.2h9.6v2.1h-9.6zM630.1 278.8h11.1v2.1h-11.1zM630.1 280.2h15.6v2.1h-15.6zM631.6 281.8h14.1v2.1h-14.1zM631.6 283.2h14.1v2.1h-14.1zM633.1 284.8h12.6v2.1h-12.6zM634.6 286.2h11.1v2.1h-11.1zM634.6 287.8h11.1v2.1h-11.1zM636.1 289.2h9.6v2.1h-9.6zM636.1 290.8h9.6v2.1h-9.6zM636.1 292.2h9.6v2.1h-9.6zM636.1 293.8h9.6v2.1h-9.6zM636.1 295.2h9.6v2.1h-9.6z"/>
<path fill="#f3f5f6" d="M588.1 190.2h5.1v2.1h-5.1zM585.1 191.8h3.6v2.1h-3.6zM594.1 191.8h3.6v2.1h-3.6zM583.6 193.2h2.1v2.1h-2.1zM597.1 193.2h2.1v2.1h-2.1zM582.1 194.8h2.1v2.1h-2.1zM598.6 194.8h2.1v2.1h-2.1zM582.1 196.2h2.1v2.1h-2.1zM600.1 197.8h2.1v2.1h-2.1zM580.6 199.2h2.1v2.1h-2.1zM580.6 200.8h2.1v2.1h-2.1zM601.6 202.2h2.1v2.1h-2.1zM601.6 203.8h2.1v2.1h-2.1zM601.6 205.2h2.1v2.1h-2.1zM579.1 208.2h2.1v2.1h-2.1zM579.1 209.8h2.1v2.1h-2.1zM577.6 214.2h2.1v2.1h-2.1zM603.1 214.2h2.1v2.1h-2.1zM603.1 215.8h2.1v2.1h-2.1zM576.1 218.8h2.1v2.1h-2.1zM525.1 221.8h6.6v2.1h-6.6zM531.1 223.2h2.1v2.1h-2.1zM604.6 223.2h2.1v2.1h-2.1zM532.6 224.8h2.1v2.1h-2.1zM604.6 224.8h2.1v2.1h-2.1zM534.1 226.2h2.1v2.1h-2.1zM573.1 226.2h2.1v2.1h-2.1zM534.1 227.8h2.1v2.1h-2.1zM535.6 229.2h2.1v2.1h-2.1zM535.6 230.8h2.1v2.1h-2.1zM606.1 230.8h2.1v2.1h-2.1zM606.1 232.2h2.1v2.1h-2.1zM537.1 233.8h2.1v2.1h-2.1zM568.6 233.8h2.1v2.1h-2.1zM537.1 235.2h2.1v2.1h-2.1zM567.1 235.2h2.1v2.1h-2.1zM565.6 236.8h2.1v2.1h-2.1zM538.6 238.2h2.1v2.1h-2.1zM607.6 238.2h2.1v2.1h-2.1zM538.6 239.8h2.1v2.1h-2.1zM607.6 239.8h2.1v2.1h-2.1zM540.1 241.2h2.1v2.1h-2.1zM540.1 242.8h2.1v2.1h-2.1zM541.6 244.2h2.1v2.1h-2.1zM559.6 244.2h2.1v2.1h-2.1zM543.1 245.8h2.1v2.1h-2.1zM558.1 245.8h2.1v2.1h-2.1zM543.1 247.2h3.6v2.1h-3.6zM609.1 247.2h2.1v2.1h-2.1zM544.6 248.8h3.6v2.1h-3.6zM556.6 248.8h2.1v2.1h-2.1zM609.1 248.8h2.1v2.1h-2.1zM547.6 250.2h3.6v2.1h-3.6zM553.6 250.2h3.6v2.1h-3.6zM549.1 251.8h5.1v2.1h-5.1zM610.6 253.2h2.1v2.1h-2.1zM610.6 254.8h2.1v2.1h-2.1zM612.1 257.8h2.1v2.1h-2.1zM613.6 259.2h2.1v2.1h-2.1zM613.6 260.8h3.6v2.1h-3.6zM615.1 262.2h5.1v2.1h-5.1zM616.6 263.8h6.6v2.1h-6.6zM619.6 265.2h6.6v2.1h-6.6zM622.6 266.8h6.6v2.1h-6.6zM624.1 268.2h8.1v2.1h-8.1zM627.1 269.8h9.6v2.1h-9.6zM628.6 271.2h17.1v2.1h-17.1zM630.1 272.8h15.6v2.1h-15.6zM633.1 274.2h12.6v2.1h-12.6zM634.6 275.8h11.1v2.1h-11.1zM637.6 277.2h8.1v2.1h-8.1zM640.6 278.8h5.1v2.1h-5.1z"/>
<path fill="#f8f4f2" d="M589.6 188.8h3.6v2.1h-3.6zM585.1 190.2h3.6v2.1h-3.6zM592.6 190.2h5.1v2.1h-5.1zM583.6 191.8h2.1v2.1h-2.1zM597.1 191.8h2.1v2.1h-2.1zM582.1 193.2h2.1v2.1h-2.1zM598.6 193.2h2.1v2.1h-2.1zM580.6 196.2h2.1v2.1h-2.1zM600.1 196.2h2.1v2.1h-2.1zM580.6 197.8h2.1v2.1h-2.1zM601.6 199.2h2.1v2.1h-2.1zM601.6 200.8h2.1v2.1h-2.1zM579.1 203.8h2.1v2.1h-2.1zM579.1 205.2h2.1v2.1h-2.1zM579.1 206.8h2.1v2.1h-2.1zM603.1 209.8h2.1v2.1h-2.1zM603.1 211.2h2.1v2.1h-2.1zM577.6 212.8h2.1v2.1h-2.1zM603.1 212.8h2.1v2.1h-2.1zM576.1 217.2h2.1v2.1h-2.1zM525.1 220.2h6.6v2.1h-6.6zM604.6 220.2h2.1v2.1h-2.1zM531.1 221.8h2.1v2.1h-2.1zM574.6 221.8h2.1v2.1h-2.1zM604.6 221.8h2.1v2.1h-2.1zM532.6 223.2h2.1v2.1h-2.1zM534.1 224.8h2.1v2.1h-2.1zM573.1 224.8h2.1v2.1h-2.1zM535.6 227.8h2.1v2.1h-2.1zM571.6 227.8h2.1v2.1h-2.1zM606.1 229.2h2.1v2.1h-2.1zM537.1 230.8h2.1v2.1h-2.1zM570.1 230.8h2.1v2.1h-2.1zM537.1 232.2h2.1v2.1h-2.1zM568.6 232.2h2.1v2.1h-2.1zM538.6 235.2h2.1v2.1h-2.1zM538.6 236.8h2.1v2.1h-2.1zM607.6 236.8h2.1v2.1h-2.1zM564.1 238.2h2.1v2.1h-2.1zM540.1 239.8h2.1v2.1h-2.1zM562.6 239.8h2.1v2.1h-2.1zM561.1 241.2h2.1v2.1h-2.1zM541.6 242.8h2.1v2.1h-2.1zM559.6 242.8h2.1v2.1h-2.1zM543.1 244.2h2.1v2.1h-2.1zM609.1 244.2h2.1v2.1h-2.1zM544.6 245.8h2.1v2.1h-2.1zM609.1 245.8h2.1v2.1h-2.1zM546.1 247.2h2.1v2.1h-2.1zM556.6 247.2h2.1v2.1h-2.1zM547.6 248.8h3.6v2.1h-3.6zM553.6 248.8h3.6v2.1h-3.6zM550.6 250.2h3.6v2.1h-3.6zM610.6 250.2h2.1v2.1h-2.1zM610.6 251.8h2.1v2.1h-2.1zM612.1 254.8h2.1v2.1h-2.1zM612.1 256.2h3.6v2.1h-3.6zM613.6 257.8h2.1v2.1h-2.1zM615.1 259.2h3.6v2.1h-3.6zM616.6 260.8h5.1v2.1h-5.1zM619.6 262.2h8.1v2.1h-8.1zM622.6 263.8h9.6v2.1h-9.6zM625.6 265.2h11.1v2.1h-11.1zM628.6 266.8h17.1v2.1h-17.1zM631.6 268.2h14.1v2.1h-14.1zM636.1 269.8h9.6v2.1h-9.6z"/>
<path fill="#f9eee7" d="M589.6 187.2h2.1v2.1h-2.1zM585.1 188.8h5.1v2.1h-5.1zM592.6 188.8h3.6v2.1h-3.6zM583.6 190.2h2.1v2.1h-2.1zM597.1 190.2h2.1v2.1h-2.1zM582.1 191.8h2.1v2.1h-2.1zM598.6 191.8h2.1v2.1h-2.1zM580.6 193.2h2.1v2.1h-2.1zM600.1 193.2h2.1v2.1h-2.1zM580.6 194.8h2.1v2.1h-2.1zM600.1 194.8h2.1v2.1h-2.1zM579.1 197.8h2.1v2.1h-2.1zM601.6 197.8h2.1v2.1h-2.1zM579.1 199.2h2.1v2.1h-2.1zM579.1 200.8h2.1v2.1h-2.1zM579.1 202.2h2.1v2.1h-2.1zM603.1 205.2h2.1v2.1h-2.1zM603.1 206.8h2.1v2.1h-2.1zM603.1 208.2h2.1v2.1h-2.1zM577.6 209.8h2.1v2.1h-2.1zM577.6 211.2h2.1v2.1h-2.1zM576.1 215.8h2.1v2.1h-2.1zM604.6 217.2h2.1v2.1h-2.1zM525.1 218.8h6.6v2.1h-6.6zM604.6 218.8h2.1v2.1h-2.1zM531.1 220.2h3.6v2.1h-3.6zM574.6 220.2h2.1v2.1h-2.1zM532.6 221.8h2.1v2.1h-2.1zM534.1 223.2h2.1v2.1h-2.1zM573.1 223.2h2.1v2.1h-2.1zM535.6 226.2h2.1v2.1h-2.1zM571.6 226.2h2.1v2.1h-2.1zM606.1 226.2h2.1v2.1h-2.1zM606.1 227.8h2.1v2.1h-2.1zM537.1 229.2h2.1v2.1h-2.1zM570.1 229.2h2.1v2.1h-2.1zM538.6 233.8h2.1v2.1h-2.1zM567.1 233.8h2.1v2.1h-2.1zM607.6 233.8h2.1v2.1h-2.1zM565.6 235.2h2.1v2.1h-2.1zM607.6 235.2h2.1v2.1h-2.1zM540.1 236.8h2.1v2.1h-2.1zM564.1 236.8h2.1v2.1h-2.1zM540.1 238.2h2.1v2.1h-2.1zM541.6 239.8h2.1v2.1h-2.1zM541.6 241.2h2.1v2.1h-2.1zM609.1 241.2h2.1v2.1h-2.1zM543.1 242.8h2.1v2.1h-2.1zM609.1 242.8h2.1v2.1h-2.1zM544.6 244.2h2.1v2.1h-2.1zM558.1 244.2h2.1v2.1h-2.1zM546.1 245.8h2.1v2.1h-2.1zM556.6 245.8h2.1v2.1h-2.1zM547.6 247.2h3.6v2.1h-3.6zM553.6 247.2h3.6v2.1h-3.6zM610.6 247.2h2.1v2.1h-2.1zM550.6 248.8h3.6v2.1h-3.6zM610.6 248.8h2.1v2.1h-2.1zM612.1 251.8h2.1v2.1h-2.1zM612.1 253.2h2.1v2.1h-2.1zM613.6 254.8h2.1v2.1h-2.1zM615.1 256.2h2.1v2.1h-2.1zM615.1 257.8h5.1v2.1h-5.1zM618.1 259.2h9.6v2.1h-9.6zM621.1 260.8h14.1v2.1h-14.1zM627.1 262.2h18.6v2.1h-18.6zM631.6 263.8h14.1v2.1h-14.1zM636.1 265.2h9.6v2.1h-9.6z"/>
<path fill="#fae8de" d="M588.1 185.8h5.1v2.1h-5.1zM585.1 187.2h5.1v2.1h-5.1zM591.1 187.2h5.1v2.1h-5.1zM582.1 188.8h3.6v2.1h-3.6zM595.6 188.8h3.6v2.1h-3.6zM580.6 190.2h3.6v2.1h-3.6zM598.6 190.2h2.1v2.1h-2.1zM580.6 191.8h2.1v2.1h-2.1zM600.1 191.8h2.1v2.1h-2.1zM579.1 194.8h2.1v2.1h-2.1zM601.6 194.8h2.1v2.1h-2.1zM579.1 196.2h2.1v2.1h-2.1zM601.6 196.2h2.1v2.1h-2.1zM603.1 200.8h2.1v2.1h-2.1zM603.1 202.2h2.1v2.1h-2.1zM577.6 203.8h2.1v2.1h-2.1zM603.1 203.8h2.1v2.1h-2.1zM577.6 205.2h2.1v2.1h-2.1zM577.6 206.8h2.1v2.1h-2.1zM577.6 208.2h2.1v2.1h-2.1zM576.1 212.8h2.1v2.1h-2.1zM576.1 214.2h2.1v2.1h-2.1zM604.6 214.2h2.1v2.1h-2.1zM604.6 215.8h2.1v2.1h-2.1zM525.1 217.2h8.1v2.1h-8.1zM531.1 218.8h3.6v2.1h-3.6zM574.6 218.8h2.1v2.1h-2.1zM534.1 221.8h2.1v2.1h-2.1zM573.1 221.8h2.1v2.1h-2.1zM535.6 223.2h2.1v2.1h-2.1zM606.1 223.2h2.1v2.1h-2.1zM535.6 224.8h2.1v2.1h-2.1zM606.1 224.8h2.1v2.1h-2.1zM537.1 227.8h2.1v2.1h-2.1zM538.6 230.8h2.1v2.1h-2.1zM568.6 230.8h2.1v2.1h-2.1zM607.6 230.8h2.1v2.1h-2.1zM538.6 232.2h2.1v2.1h-2.1zM607.6 232.2h2.1v2.1h-2.1zM540.1 235.2h2.1v2.1h-2.1zM541.6 238.2h2.1v2.1h-2.1zM562.6 238.2h2.1v2.1h-2.1zM609.1 238.2h2.1v2.1h-2.1zM561.1 239.8h2.1v2.1h-2.1zM609.1 239.8h2.1v2.1h-2.1zM543.1 241.2h2.1v2.1h-2.1zM559.6 241.2h2.1v2.1h-2.1zM544.6 242.8h2.1v2.1h-2.1zM558.1 242.8h2.1v2.1h-2.1zM546.1 244.2h2.1v2.1h-2.1zM556.6 244.2h2.1v2.1h-2.1zM547.6 245.8h3.6v2.1h-3.6zM553.6 245.8h3.6v2.1h-3.6zM610.6 245.8h2.1v2.1h-2.1zM550.6 247.2h3.6v2.1h-3.6zM612.1 250.2h2.1v2.1h-2.1zM613.6 253.2h2.1v2.1h-2.1zM615.1 254.8h2.1v2.1h-2.1zM616.6 256.2h6.6v2.1h-6.6zM624.1 256.2h6.6v2.1h-6.6zM619.6 257.8h20.1v2.1h-20.1zM627.1 259.2h18.6v2.1h-18.6zM634.6 260.8h11.1v2.1h-11.1z"/>
<path fill="#fce2d2" d="M585.1 184.2h9.6v2.1h-9.6zM583.6 185.8h5.1v2.1h-5.1zM592.6 185.8h5.1v2.1h-5.1zM582.1 187.2h3.6v2.1h-3.6zM595.6 187.2h3.6v2.1h-3.6zM580.6 188.8h2.1v2.1h-2.1zM598.6 188.8h2.1v2.1h-2.1zM579.1 190.2h2.1v2.1h-2.1zM600.1 190.2h2.1v2.1h-2.1zM579.1 191.8h2.1v2.1h-2.1zM579.1 193.2h2.1v2.1h-2.1zM601.6 193.2h2.1v2.1h-2.1zM577.6 196.2h2.1v2.1h-2.1zM603.1 196.2h2.1v2.1h-2.1zM577.6 197.8h2.1v2.1h-2.1zM603.1 197.8h2.1v2.1h-2.1zM577.6 199.2h2.1v2.1h-2.1zM603.1 199.2h2.1v2.1h-2.1zM577.6 200.8h2.1v2.1h-2.1zM577.6 202.2h2.1v2.1h-2.1zM604.6 209.8h2.1v2.1h-2.1zM576.1 211.2h2.1v2.1h-2.1zM604.6 211.2h2.1v2.1h-2.1zM604.6 212.8h2.1v2.1h-2.1zM525.1 215.8h8.1v2.1h-8.1zM532.6 217.2h2.1v2.1h-2.1zM574.6 217.2h2.1v2.1h-2.1zM534.1 218.8h2.1v2.1h-2.1zM534.1 220.2h2.1v2.1h-2.1zM573.1 220.2h2.1v2.1h-2.1zM606.1 220.2h2.1v2.1h-2.1zM535.6 221.8h2.1v2.1h-2.1zM606.1 221.8h2.1v2.1h-2.1zM537.1 224.8h2.1v2.1h-2.1zM571.6 224.8h2.1v2.1h-2.1zM537.1 226.2h2.1v2.1h-2.1zM570.1 227.8h2.1v2.1h-2.1zM538.6 229.2h2.1v2.1h-2.1zM607.6 229.2h2.1v2.1h-2.1zM567.1 232.2h2.1v2.1h-2.1zM540.1 233.8h2.1v2.1h-2.1zM565.6 233.8h2.1v2.1h-2.1zM564.1 235.2h2.1v2.1h-2.1zM541.6 236.8h2.1v2.1h-2.1zM562.6 236.8h2.1v2.1h-2.1zM609.1 236.8h2.1v2.1h-2.1zM561.1 238.2h2.1v2.1h-2.1zM543.1 239.8h2.1v2.1h-2.1zM559.6 239.8h2.1v2.1h-2.1zM544.6 241.2h2.1v2.1h-2.1zM558.1 241.2h2.1v2.1h-2.1zM546.1 242.8h2.1v2.1h-2.1zM556.6 242.8h2.1v2.1h-2.1zM610.6 242.8h2.1v2.1h-2.1zM547.6 244.2h3.6v2.1h-3.6zM555.1 244.2h2.1v2.1h-2.1zM610.6 244.2h2.1v2.1h-2.1zM550.6 245.8h3.6v2.1h-3.6zM612.1 247.2h2.1v2.1h-2.1zM612.1 248.8h2.1v2.1h-2.1zM613.6 250.2h2.1v2.1h-2.1zM613.6 251.8h2.1v2.1h-2.1zM615.1 253.2h3.6v2.1h-3.6zM628.6 253.2h17.1v2.1h-17.1zM616.6 254.8h29.1v2.1h-29.1zM622.6 256.2h2.1v2.1h-2.1zM630.1 256.2h15.6v2.1h-15.6zM639.1 257.8h6.6v2.1h-6.6z"/>
<path fill="#fddcc9" d="M583.6 176.8h12.6v2.1h-12.6zM583.6 178.2h12.6v2.1h-12.6zM583.6 179.8h12.6v2.1h-12.6zM583.6 181.2h12.6v2.1h-12.6zM582.1 182.8h15.6v2.1h-15.6zM582.1 184.2h3.6v2.1h-3.6zM594.1 184.2h5.1v2.1h-5.1zM580.6 185.8h3.6v2.1h-3.6zM597.1 185.8h2.1v2.1h-2.1zM579.1 187.2h3.6v2.1h-3.6zM598.6 187.2h2.1v2.1h-2.1zM579.1 188.8h2.1v2.1h-2.1zM600.1 188.8h2.1v2.1h-2.1zM601.6 190.2h2.1v2.1h-2.1zM577.6 191.8h2.1v2.1h-2.1zM601.6 191.8h2.1v2.1h-2.1zM577.6 193.2h2.1v2.1h-2.1zM603.1 193.2h2.1v2.1h-2.1zM577.6 194.8h2.1v2.1h-2.1zM603.1 194.8h2.1v2.1h-2.1zM604.6 203.8h2.1v2.1h-2.1zM604.6 205.2h2.1v2.1h-2.1zM576.1 206.8h2.1v2.1h-2.1zM604.6 206.8h2.1v2.1h-2.1zM576.1 208.2h2.1v2.1h-2.1zM604.6 208.2h2.1v2.1h-2.1zM576.1 209.8h2.1v2.1h-2.1zM525.1 214.2h8.1v2.1h-8.1zM574.6 214.2h2.1v2.1h-2.1zM532.6 215.8h2.1v2.1h-2.1zM574.6 215.8h2.1v2.1h-2.1zM534.1 217.2h2.1v2.1h-2.1zM606.1 217.2h2.1v2.1h-2.1zM573.1 218.8h2.1v2.1h-2.1zM606.1 218.8h2.1v2.1h-2.1zM535.6 220.2h2.1v2.1h-2.1zM537.1 223.2h2.1v2.1h-2.1zM571.6 223.2h2.1v2.1h-2.1zM570.1 226.2h2.1v2.1h-2.1zM607.6 226.2h2.1v2.1h-2.1zM538.6 227.8h2.1v2.1h-2.1zM607.6 227.8h2.1v2.1h-2.1zM568.6 229.2h2.1v2.1h-2.1zM540.1 230.8h2.1v2.1h-2.1zM567.1 230.8h2.1v2.1h-2.1zM540.1 232.2h2.1v2.1h-2.1zM609.1 233.8h2.1v2.1h-2.1zM541.6 235.2h2.1v2.1h-2.1zM609.1 235.2h2.1v2.1h-2.1zM543.1 238.2h2.1v2.1h-2.1zM544.6 239.8h2.1v2.1h-2.1zM610.6 239.8h2.1v2.1h-2.1zM546.1 241.2h2.1v2.1h-2.1zM556.6 241.2h2.1v2.1h-2.1zM610.6 241.2h2.1v2.1h-2.1zM547.6 242.8h3.6v2.1h-3.6zM555.1 242.8h2.1v2.1h-2.1zM550.6 244.2h5.1v2.1h-5.1zM612.1 245.8h2.1v2.1h-2.1zM637.6 245.8h8.1v2.1h-8.1zM634.6 247.2h11.1v2.1h-11.1zM613.6 248.8h2.1v2.1h-2.1zM631.6 248.8h14.1v2.1h-14.1zM615.1 250.2h2.1v2.1h-2.1zM628.6 250.2h17.1v2.1h-17.1zM615.1 251.8h3.6v2.1h-3.6zM624.1 251.8h21.6v2.1h-21.6zM618.1 253.2h11.1v2.1h-11.1z"/>
<path fill="#fcd3bc" d="M579.1 176.8h5.1v2.1h-5.1zM595.6 176.8h3.6v2.1h-3.6zM579.1 178.2h5.1v2.1h-5.1zM595.6 178.2h3.6v2.1h-3.6zM579.1 179.8h5.1v2.1h-5.1zM595.6 179.8h3.6v2.1h-3.6zM579.1 181.2h5.1v2.1h-5.1zM595.6 181.2h3.6v2.1h-3.6zM579.1 182.8h3.6v2.1h-3.6zM597.1 182.8h3.6v2.1h-3.6zM579.1 184.2h3.6v2.1h-3.6zM598.6 184.2h2.1v2.1h-2.1zM577.6 185.8h3.6v2.1h-3.6zM598.6 185.8h3.6v2.1h-3.6zM577.6 187.2h2.1v2.1h-2.1zM600.1 187.2h2.1v2.1h-2.1zM577.6 188.8h2.1v2.1h-2.1zM601.6 188.8h2.1v2.1h-2.1zM577.6 190.2h2.1v2.1h-2.1zM603.1 191.8h2.1v2.1h-2.1zM576.1 193.2h2.1v2.1h-2.1zM576.1 194.8h2.1v2.1h-2.1zM576.1 196.2h2.1v2.1h-2.1zM576.1 197.8h2.1v2.1h-2.1zM604.6 197.8h2.1v2.1h-2.1zM576.1 199.2h2.1v2.1h-2.1zM604.6 199.2h2.1v2.1h-2.1zM576.1 200.8h2.1v2.1h-2.1zM604.6 200.8h2.1v2.1h-2.1zM576.1 202.2h2.1v2.1h-2.1zM604.6 202.2h2.1v2.1h-2.1zM576.1 203.8h2.1v2.1h-2.1zM576.1 205.2h2.1v2.1h-2.1zM526.6 211.2h3.6v2.1h-3.6zM525.1 212.8h8.1v2.1h-8.1zM574.6 212.8h2.1v2.1h-2.1zM532.6 214.2h2.1v2.1h-2.1zM606.1 214.2h2.1v2.1h-2.1zM534.1 215.8h2.1v2.1h-2.1zM606.1 215.8h2.1v2.1h-2.1zM573.1 217.2h2.1v2.1h-2.1zM535.6 218.8h2.1v2.1h-2.1zM537.1 221.8h2.1v2.1h-2.1zM571.6 221.8h2.1v2.1h-2.1zM607.6 223.2h2.1v2.1h-2.1zM538.6 224.8h2.1v2.1h-2.1zM570.1 224.8h2.1v2.1h-2.1zM607.6 224.8h2.1v2.1h-2.1zM538.6 226.2h2.1v2.1h-2.1zM568.6 227.8h2.1v2.1h-2.1zM540.1 229.2h2.1v2.1h-2.1zM609.1 230.8h2.1v2.1h-2.1zM541.6 232.2h2.1v2.1h-2.1zM565.6 232.2h2.1v2.1h-2.1zM609.1 232.2h2.1v2.1h-2.1zM541.6 233.8h2.1v2.1h-2.1zM564.1 233.8h2.1v2.1h-2.1zM543.1 235.2h2.1v2.1h-2.1zM562.6 235.2h2.1v2.1h-2.1zM543.1 236.8h2.1v2.1h-2.1zM561.1 236.8h2.1v2.1h-2.1zM544.6 238.2h2.1v2.1h-2.1zM559.6 238.2h2.1v2.1h-2.1zM610.6 238.2h2.1v2.1h-2.1zM546.1 239.8h2.1v2.1h-2.1zM558.1 239.8h2.1v2.1h-2.1zM547.6 241.2h2.1v2.1h-2.1zM555.1 241.2h2.1v2.1h-2.1zM639.1 241.2h6.6v2.1h-6.6zM550.6 242.8h5.1v2.1h-5.1zM612.1 242.8h2.1v2.1h-2.1zM634.6 242.8h11.1v2.1h-11.1zM612.1 244.2h2.1v2.1h-2.1zM633.1 244.2h12.6v2.1h-12.6zM631.6 245.8h6.6v2.1h-6.6zM613.6 247.2h2.1v2.1h-2.1zM628.6 247.2h6.6v2.1h-6.6zM615.1 248.8h2.1v2.1h-2.1zM627.1 248.8h5.1v2.1h-5.1zM616.6 250.2h3.6v2.1h-3.6zM622.6 250.2h6.6v2.1h-6.6zM618.1 251.8h6.6v2.1h-6.6z"/>
<path fill="#f9c6ac" d="M576.1 176.8h3.6v2.1h-3.6zM598.6 176.8h3.6v2.1h-3.6zM576.1 178.2h3.6v2.1h-3.6zM598.6 178.2h3.6v2.1h-3.6zM576.1 179.8h3.6v2.1h-3.6zM598.6 179.8h3.6v2.1h-3.6zM576.1 181.2h3.6v2.1h-3.6zM598.6 181.2h3.6v2.1h-3.6zM576.1 182.8h3.6v2.1h-3.6zM600.1 182.8h2.1v2.1h-2.1zM576.1 184.2h3.6v2.1h-3.6zM600.1 184.2h3.6v2.1h-3.6zM576.1 185.8h2.1v2.1h-2.1zM601.6 185.8h2.1v2.1h-2.1zM576.1 187.2h2.1v2.1h-2.1zM601.6 187.2h2.1v2.1h-2.1zM576.1 188.8h2.1v2.1h-2.1zM603.1 188.8h2.1v2.1h-2.1zM576.1 190.2h2.1v2.1h-2.1zM603.1 190.2h2.1v2.1h-2.1zM576.1 191.8h2.1v2.1h-2.1zM604.6 193.2h2.1v2.1h-2.1zM604.6 194.8h2.1v2.1h-2.1zM604.6 196.2h2.1v2.1h-2.1zM574.6 208.2h2.1v2.1h-2.1zM606.1 208.2h2.1v2.1h-2.1zM525.1 209.8h6.6v2.1h-6.6zM574.6 209.8h2.1v2.1h-2.1zM606.1 209.8h2.1v2.1h-2.1zM525.1 211.2h2.1v2.1h-2.1zM529.6 211.2h5.1v2.1h-5.1zM574.6 211.2h2.1v2.1h-2.1zM606.1 211.2h2.1v2.1h-2.1zM532.6 212.8h3.6v2.1h-3.6zM606.1 212.8h2.1v2.1h-2.1zM534.1 214.2h2.1v2.1h-2.1zM535.6 215.8h2.1v2.1h-2.1zM573.1 215.8h2.1v2.1h-2.1zM535.6 217.2h2.1v2.1h-2.1zM537.1 218.8h2.1v2.1h-2.1zM537.1 220.2h2.1v2.1h-2.1zM571.6 220.2h2.1v2.1h-2.1zM607.6 220.2h2.1v2.1h-2.1zM607.6 221.8h2.1v2.1h-2.1zM538.6 223.2h2.1v2.1h-2.1zM570.1 223.2h2.1v2.1h-2.1zM540.1 226.2h2.1v2.1h-2.1zM568.6 226.2h2.1v2.1h-2.1zM540.1 227.8h2.1v2.1h-2.1zM609.1 227.8h2.1v2.1h-2.1zM567.1 229.2h2.1v2.1h-2.1zM609.1 229.2h2.1v2.1h-2.1zM541.6 230.8h2.1v2.1h-2.1zM565.6 230.8h2.1v2.1h-2.1zM543.1 233.8h2.1v2.1h-2.1zM610.6 235.2h2.1v2.1h-2.1zM544.6 236.8h2.1v2.1h-2.1zM559.6 236.8h2.1v2.1h-2.1zM610.6 236.8h2.1v2.1h-2.1zM546.1 238.2h2.1v2.1h-2.1zM558.1 238.2h2.1v2.1h-2.1zM639.1 238.2h6.6v2.1h-6.6zM547.6 239.8h2.1v2.1h-2.1zM556.6 239.8h2.1v2.1h-2.1zM634.6 239.8h11.1v2.1h-11.1zM549.1 241.2h6.6v2.1h-6.6zM612.1 241.2h2.1v2.1h-2.1zM631.6 241.2h8.1v2.1h-8.1zM630.1 242.8h5.1v2.1h-5.1zM613.6 244.2h2.1v2.1h-2.1zM628.6 244.2h5.1v2.1h-5.1zM613.6 245.8h2.1v2.1h-2.1zM627.1 245.8h5.1v2.1h-5.1zM615.1 247.2h2.1v2.1h-2.1zM625.6 247.2h3.6v2.1h-3.6zM616.6 248.8h11.1v2.1h-11.1zM619.6 250.2h3.6v2.1h-3.6z"/>
<path fill="#f8bb9e" d="M573.1 176.8h3.6v2.1h-3.6zM601.6 176.8h2.1v2.1h-2.1zM571.6 178.2h5.1v2.1h-5.1zM601.6 178.2h2.1v2.1h-2.1zM571.6 179.8h5.1v2.1h-5.1zM601.6 179.8h2.1v2.1h-2.1zM573.1 181.2h3.6v2.1h-3.6zM601.6 181.2h2.1v2.1h-2.1zM573.1 182.8h3.6v2.1h-3.6zM601.6 182.8h2.1v2.1h-2.1zM573.1 184.2h3.6v2.1h-3.6zM603.1 184.2h2.1v2.1h-2.1zM573.1 185.8h3.6v2.1h-3.6zM603.1 185.8h2.1v2.1h-2.1zM574.6 187.2h2.1v2.1h-2.1zM603.1 187.2h2.1v2.1h-2.1zM574.6 188.8h2.1v2.1h-2.1zM604.6 188.8h2.1v2.1h-2.1zM574.6 190.2h2.1v2.1h-2.1zM604.6 190.2h2.1v2.1h-2.1zM574.6 191.8h2.1v2.1h-2.1zM604.6 191.8h2.1v2.1h-2.1zM574.6 193.2h2.1v2.1h-2.1zM574.6 194.8h2.1v2.1h-2.1zM574.6 196.2h2.1v2.1h-2.1zM574.6 197.8h2.1v2.1h-2.1zM574.6 199.2h2.1v2.1h-2.1zM606.1 199.2h2.1v2.1h-2.1zM574.6 200.8h2.1v2.1h-2.1zM606.1 200.8h2.1v2.1h-2.1zM574.6 202.2h2.1v2.1h-2.1zM606.1 202.2h2.1v2.1h-2.1zM574.6 203.8h2.1v2.1h-2.1zM606.1 203.8h2.1v2.1h-2.1zM574.6 205.2h2.1v2.1h-2.1zM606.1 205.2h2.1v2.1h-2.1zM574.6 206.8h2.1v2.1h-2.1zM606.1 206.8h2.1v2.1h-2.1zM525.1 208.2h8.1v2.1h-8.1zM531.1 209.8h3.6v2.1h-3.6zM534.1 211.2h2.1v2.1h-2.1zM573.1 212.8h2.1v2.1h-2.1zM535.6 214.2h2.1v2.1h-2.1zM573.1 214.2h2.1v2.1h-2.1zM537.1 217.2h2.1v2.1h-2.1zM607.6 217.2h2.1v2.1h-2.1zM571.6 218.8h2.1v2.1h-2.1zM607.6 218.8h2.1v2.1h-2.1zM538.6 220.2h2.1v2.1h-2.1zM538.6 221.8h2.1v2.1h-2.1zM570.1 221.8h2.1v2.1h-2.1zM540.1 224.8h2.1v2.1h-2.1zM609.1 226.2h2.1v2.1h-2.1zM567.1 227.8h2.1v2.1h-2.1zM541.6 229.2h2.1v2.1h-2.1zM543.1 232.2h2.1v2.1h-2.1zM564.1 232.2h2.1v2.1h-2.1zM610.6 232.2h2.1v2.1h-2.1zM562.6 233.8h2.1v2.1h-2.1zM610.6 233.8h2.1v2.1h-2.1zM544.6 235.2h2.1v2.1h-2.1zM561.1 235.2h2.1v2.1h-2.1zM546.1 236.8h2.1v2.1h-2.1zM634.6 236.8h11.1v2.1h-11.1zM547.6 238.2h2.1v2.1h-2.1zM556.6 238.2h2.1v2.1h-2.1zM612.1 238.2h2.1v2.1h-2.1zM631.6 238.2h8.1v2.1h-8.1zM549.1 239.8h8.1v2.1h-8.1zM612.1 239.8h2.1v2.1h-2.1zM630.1 239.8h5.1v2.1h-5.1zM628.6 241.2h3.6v2.1h-3.6zM613.6 242.8h2.1v2.1h-2.1zM627.1 242.8h3.6v2.1h-3.6zM625.6 244.2h3.6v2.1h-3.6zM615.1 245.8h2.1v2.1h-2.1zM624.1 245.8h3.6v2.1h-3.6zM616.6 247.2h9.6v2.1h-9.6z"/>
<path fill="#f6af8e" d="M567.1 176.8h6.6v2.1h-6.6zM603.1 176.8h3.6v2.1h-3.6zM567.1 178.2h5.1v2.1h-5.1zM603.1 178.2h3.6v2.1h-3.6zM567.1 179.8h5.1v2.1h-5.1zM603.1 179.8h3.6v2.1h-3.6zM567.1 181.2h6.6v2.1h-6.6zM603.1 181.2h3.6v2.1h-3.6zM568.6 182.8h5.1v2.1h-5.1zM603.1 182.8h3.6v2.1h-3.6zM570.1 184.2h3.6v2.1h-3.6zM604.6 184.2h2.1v2.1h-2.1zM571.6 185.8h2.1v2.1h-2.1zM604.6 185.8h2.1v2.1h-2.1zM571.6 187.2h3.6v2.1h-3.6zM604.6 187.2h2.1v2.1h-2.1zM573.1 188.8h2.1v2.1h-2.1zM573.1 190.2h2.1v2.1h-2.1zM606.1 190.2h2.1v2.1h-2.1zM573.1 191.8h2.1v2.1h-2.1zM606.1 191.8h2.1v2.1h-2.1zM606.1 193.2h2.1v2.1h-2.1zM606.1 194.8h2.1v2.1h-2.1zM606.1 196.2h2.1v2.1h-2.1zM606.1 197.8h2.1v2.1h-2.1zM525.1 205.2h8.1v2.1h-8.1zM525.1 206.8h9.6v2.1h-9.6zM532.6 208.2h3.6v2.1h-3.6zM534.1 209.8h2.1v2.1h-2.1zM573.1 209.8h2.1v2.1h-2.1zM535.6 211.2h2.1v2.1h-2.1zM573.1 211.2h2.1v2.1h-2.1zM535.6 212.8h2.1v2.1h-2.1zM537.1 214.2h2.1v2.1h-2.1zM607.6 214.2h2.1v2.1h-2.1zM537.1 215.8h2.1v2.1h-2.1zM571.6 215.8h2.1v2.1h-2.1zM607.6 215.8h2.1v2.1h-2.1zM571.6 217.2h2.1v2.1h-2.1zM538.6 218.8h2.1v2.1h-2.1zM570.1 220.2h2.1v2.1h-2.1zM540.1 223.2h2.1v2.1h-2.1zM609.1 223.2h2.1v2.1h-2.1zM568.6 224.8h2.1v2.1h-2.1zM609.1 224.8h2.1v2.1h-2.1zM541.6 226.2h2.1v2.1h-2.1zM541.6 227.8h2.1v2.1h-2.1zM565.6 229.2h2.1v2.1h-2.1zM610.6 229.2h2.1v2.1h-2.1zM543.1 230.8h2.1v2.1h-2.1zM564.1 230.8h2.1v2.1h-2.1zM610.6 230.8h2.1v2.1h-2.1zM562.6 232.2h2.1v2.1h-2.1zM544.6 233.8h2.1v2.1h-2.1zM561.1 233.8h2.1v2.1h-2.1zM639.1 233.8h6.6v2.1h-6.6zM546.1 235.2h2.1v2.1h-2.1zM559.6 235.2h2.1v2.1h-2.1zM612.1 235.2h2.1v2.1h-2.1zM633.1 235.2h12.6v2.1h-12.6zM547.6 236.8h2.1v2.1h-2.1zM558.1 236.8h2.1v2.1h-2.1zM612.1 236.8h2.1v2.1h-2.1zM630.1 236.8h5.1v2.1h-5.1zM549.1 238.2h8.1v2.1h-8.1zM628.6 238.2h3.6v2.1h-3.6zM613.6 239.8h2.1v2.1h-2.1zM627.1 239.8h3.6v2.1h-3.6zM613.6 241.2h2.1v2.1h-2.1zM625.6 241.2h3.6v2.1h-3.6zM615.1 242.8h2.1v2.1h-2.1zM625.6 242.8h2.1v2.1h-2.1zM615.1 244.2h3.6v2.1h-3.6zM622.6 244.2h3.6v2.1h-3.6zM616.6 245.8h8.1v2.1h-8.1z"/>
<path fill="#f3a481" d="M555.1 176.8h12.6v2.1h-12.6zM606.1 176.8h2.1v2.1h-2.1zM555.1 178.2h12.6v2.1h-12.6zM606.1 178.2h2.1v2.1h-2.1zM555.1 179.8h12.6v2.1h-12.6zM606.1 179.8h2.1v2.1h-2.1zM555.1 181.2h12.6v2.1h-12.6zM606.1 181.2h2.1v2.1h-2.1zM558.1 182.8h11.1v2.1h-11.1zM606.1 182.8h2.1v2.1h-2.1zM565.6 184.2h5.1v2.1h-5.1zM606.1 184.2h2.1v2.1h-2.1zM568.6 185.8h3.6v2.1h-3.6zM606.1 185.8h2.1v2.1h-2.1zM570.1 187.2h2.1v2.1h-2.1zM606.1 187.2h2.1v2.1h-2.1zM571.6 188.8h2.1v2.1h-2.1zM606.1 188.8h2.1v2.1h-2.1zM571.6 190.2h2.1v2.1h-2.1zM573.1 193.2h2.1v2.1h-2.1zM573.1 194.8h2.1v2.1h-2.1zM573.1 196.2h2.1v2.1h-2.1zM573.1 197.8h2.1v2.1h-2.1zM573.1 199.2h2.1v2.1h-2.1zM573.1 200.8h2.1v2.1h-2.1zM525.1 202.2h8.1v2.1h-8.1zM573.1 202.2h2.1v2.1h-2.1zM525.1 203.8h9.6v2.1h-9.6zM573.1 203.8h2.1v2.1h-2.1zM532.6 205.2h3.6v2.1h-3.6zM573.1 205.2h2.1v2.1h-2.1zM534.1 206.8h3.6v2.1h-3.6zM573.1 206.8h2.1v2.1h-2.1zM535.6 208.2h2.1v2.1h-2.1zM573.1 208.2h2.1v2.1h-2.1zM607.6 208.2h2.1v2.1h-2.1zM535.6 209.8h2.1v2.1h-2.1zM607.6 209.8h2.1v2.1h-2.1zM537.1 211.2h2.1v2.1h-2.1zM607.6 211.2h2.1v2.1h-2.1zM537.1 212.8h2.1v2.1h-2.1zM607.6 212.8h2.1v2.1h-2.1zM571.6 214.2h2.1v2.1h-2.1zM538.6 215.8h2.1v2.1h-2.1zM538.6 217.2h2.1v2.1h-2.1zM570.1 218.8h2.1v2.1h-2.1zM540.1 220.2h2.1v2.1h-2.1zM609.1 220.2h2.1v2.1h-2.1zM540.1 221.8h2.1v2.1h-2.1zM609.1 221.8h2.1v2.1h-2.1zM568.6 223.2h2.1v2.1h-2.1zM541.6 224.8h2.1v2.1h-2.1zM567.1 226.2h2.1v2.1h-2.1zM543.1 227.8h2.1v2.1h-2.1zM565.6 227.8h2.1v2.1h-2.1zM610.6 227.8h2.1v2.1h-2.1zM543.1 229.2h2.1v2.1h-2.1zM544.6 230.8h2.1v2.1h-2.1zM544.6 232.2h2.1v2.1h-2.1zM633.1 232.2h12.6v2.1h-12.6zM546.1 233.8h2.1v2.1h-2.1zM559.6 233.8h2.1v2.1h-2.1zM612.1 233.8h2.1v2.1h-2.1zM630.1 233.8h9.6v2.1h-9.6zM547.6 235.2h2.1v2.1h-2.1zM558.1 235.2h2.1v2.1h-2.1zM628.6 235.2h5.1v2.1h-5.1zM549.1 236.8h3.6v2.1h-3.6zM555.1 236.8h3.6v2.1h-3.6zM627.1 236.8h3.6v2.1h-3.6zM613.6 238.2h2.1v2.1h-2.1zM625.6 238.2h3.6v2.1h-3.6zM625.6 239.8h2.1v2.1h-2.1zM615.1 241.2h2.1v2.1h-2.1zM624.1 241.2h2.1v2.1h-2.1zM616.6 242.8h2.1v2.1h-2.1zM621.1 242.8h5.1v2.1h-5.1zM618.1 244.2h5.1v2.1h-5.1z"/>
<path fill="#ec9374" d="M549.1 176.8h6.6v2.1h-6.6zM607.6 176.8h2.1v2.1h-2.1zM549.1 178.2h6.6v2.1h-6.6zM607.6 178.2h2.1v2.1h-2.1zM549.1 179.8h6.6v2.1h-6.6zM607.6 179.8h2.1v2.1h-2.1zM549.1 181.2h6.6v2.1h-6.6zM607.6 181.2h2.1v2.1h-2.1zM550.6 182.8h8.1v2.1h-8.1zM607.6 182.8h2.1v2.1h-2.1zM552.1 184.2h14.1v2.1h-14.1zM607.6 184.2h2.1v2.1h-2.1zM556.6 185.8h12.6v2.1h-12.6zM607.6 185.8h2.1v2.1h-2.1zM567.1 187.2h3.6v2.1h-3.6zM607.6 187.2h2.1v2.1h-2.1zM568.6 188.8h3.6v2.1h-3.6zM607.6 188.8h2.1v2.1h-2.1zM570.1 190.2h2.1v2.1h-2.1zM607.6 190.2h2.1v2.1h-2.1zM571.6 191.8h2.1v2.1h-2.1zM607.6 191.8h2.1v2.1h-2.1zM571.6 193.2h2.1v2.1h-2.1zM607.6 193.2h2.1v2.1h-2.1zM571.6 194.8h2.1v2.1h-2.1zM607.6 194.8h2.1v2.1h-2.1zM607.6 196.2h2.1v2.1h-2.1zM525.1 197.8h8.1v2.1h-8.1zM607.6 197.8h2.1v2.1h-2.1zM525.1 199.2h11.1v2.1h-11.1zM607.6 199.2h2.1v2.1h-2.1zM525.1 200.8h11.1v2.1h-11.1zM607.6 200.8h2.1v2.1h-2.1zM532.6 202.2h5.1v2.1h-5.1zM607.6 202.2h2.1v2.1h-2.1zM534.1 203.8h3.6v2.1h-3.6zM607.6 203.8h2.1v2.1h-2.1zM535.6 205.2h2.1v2.1h-2.1zM607.6 205.2h2.1v2.1h-2.1zM537.1 206.8h2.1v2.1h-2.1zM607.6 206.8h2.1v2.1h-2.1zM537.1 208.2h2.1v2.1h-2.1zM537.1 209.8h2.1v2.1h-2.1zM571.6 209.8h2.1v2.1h-2.1zM538.6 211.2h2.1v2.1h-2.1zM571.6 211.2h2.1v2.1h-2.1zM538.6 212.8h2.1v2.1h-2.1zM571.6 212.8h2.1v2.1h-2.1zM538.6 214.2h2.1v2.1h-2.1zM609.1 215.8h2.1v2.1h-2.1zM540.1 217.2h2.1v2.1h-2.1zM570.1 217.2h2.1v2.1h-2.1zM609.1 217.2h2.1v2.1h-2.1zM540.1 218.8h2.1v2.1h-2.1zM609.1 218.8h2.1v2.1h-2.1zM568.6 220.2h2.1v2.1h-2.1zM541.6 221.8h2.1v2.1h-2.1zM568.6 221.8h2.1v2.1h-2.1zM541.6 223.2h2.1v2.1h-2.1zM567.1 224.8h2.1v2.1h-2.1zM610.6 224.8h2.1v2.1h-2.1zM543.1 226.2h2.1v2.1h-2.1zM565.6 226.2h2.1v2.1h-2.1zM610.6 226.2h2.1v2.1h-2.1zM544.6 229.2h2.1v2.1h-2.1zM564.1 229.2h2.1v2.1h-2.1zM636.1 229.2h9.6v2.1h-9.6zM562.6 230.8h2.1v2.1h-2.1zM612.1 230.8h2.1v2.1h-2.1zM630.1 230.8h15.6v2.1h-15.6zM546.1 232.2h2.1v2.1h-2.1zM561.1 232.2h2.1v2.1h-2.1zM612.1 232.2h2.1v2.1h-2.1zM628.6 232.2h5.1v2.1h-5.1zM547.6 233.8h2.1v2.1h-2.1zM558.1 233.8h2.1v2.1h-2.1zM627.1 233.8h3.6v2.1h-3.6zM549.1 235.2h3.6v2.1h-3.6zM555.1 235.2h3.6v2.1h-3.6zM613.6 235.2h2.1v2.1h-2.1zM625.6 235.2h3.6v2.1h-3.6zM552.1 236.8h3.6v2.1h-3.6zM613.6 236.8h2.1v2.1h-2.1zM625.6 236.8h2.1v2.1h-2.1zM615.1 238.2h2.1v2.1h-2.1zM624.1 238.2h2.1v2.1h-2.1zM615.1 239.8h2.1v2.1h-2.1zM622.6 239.8h3.6v2.1h-3.6zM616.6 241.2h8.1v2.1h-8.1zM618.1 242.8h3.6v2.1h-3.6z"/>
<path fill="#e6866a" d="M525.1 176.8h24.6v2.1h-24.6zM609.1 176.8h2.1v2.1h-2.1zM525.1 178.2h24.6v2.1h-24.6zM609.1 178.2h2.1v2.1h-2.1zM525.1 179.8h24.6v2.1h-24.6zM609.1 179.8h2.1v2.1h-2.1zM525.1 181.2h24.6v2.1h-24.6zM609.1 181.2h2.1v2.1h-2.1zM525.1 182.8h26.1v2.1h-26.1zM609.1 182.8h2.1v2.1h-2.1zM525.1 184.2h27.6v2.1h-27.6zM609.1 184.2h2.1v2.1h-2.1zM525.1 185.8h32.1v2.1h-32.1zM609.1 185.8h2.1v2.1h-2.1zM525.1 187.2h42.6v2.1h-42.6zM609.1 187.2h2.1v2.1h-2.1zM525.1 188.8h21.6v2.1h-21.6zM567.1 188.8h2.1v2.1h-2.1zM609.1 188.8h2.1v2.1h-2.1zM525.1 190.2h20.1v2.1h-20.1zM568.6 190.2h2.1v2.1h-2.1zM609.1 190.2h2.1v2.1h-2.1zM525.1 191.8h18.6v2.1h-18.6zM570.1 191.8h2.1v2.1h-2.1zM525.1 193.2h18.6v2.1h-18.6zM570.1 193.2h2.1v2.1h-2.1zM525.1 194.8h17.1v2.1h-17.1zM525.1 196.2h17.1v2.1h-17.1zM571.6 196.2h2.1v2.1h-2.1zM532.6 197.8h8.1v2.1h-8.1zM571.6 197.8h2.1v2.1h-2.1zM535.6 199.2h5.1v2.1h-5.1zM571.6 199.2h2.1v2.1h-2.1zM535.6 200.8h5.1v2.1h-5.1zM571.6 200.8h2.1v2.1h-2.1zM537.1 202.2h3.6v2.1h-3.6zM571.6 202.2h2.1v2.1h-2.1zM537.1 203.8h3.6v2.1h-3.6zM571.6 203.8h2.1v2.1h-2.1zM537.1 205.2h3.6v2.1h-3.6zM571.6 205.2h2.1v2.1h-2.1zM538.6 206.8h2.1v2.1h-2.1zM571.6 206.8h2.1v2.1h-2.1zM538.6 208.2h2.1v2.1h-2.1zM571.6 208.2h2.1v2.1h-2.1zM538.6 209.8h2.1v2.1h-2.1zM540.1 212.8h2.1v2.1h-2.1zM609.1 212.8h2.1v2.1h-2.1zM540.1 214.2h2.1v2.1h-2.1zM570.1 214.2h2.1v2.1h-2.1zM609.1 214.2h2.1v2.1h-2.1zM540.1 215.8h2.1v2.1h-2.1zM570.1 215.8h2.1v2.1h-2.1zM541.6 218.8h2.1v2.1h-2.1zM568.6 218.8h2.1v2.1h-2.1zM541.6 220.2h2.1v2.1h-2.1zM567.1 221.8h2.1v2.1h-2.1zM610.6 221.8h2.1v2.1h-2.1zM543.1 223.2h2.1v2.1h-2.1zM567.1 223.2h2.1v2.1h-2.1zM610.6 223.2h2.1v2.1h-2.1zM543.1 224.8h2.1v2.1h-2.1zM565.6 224.8h2.1v2.1h-2.1zM544.6 227.8h2.1v2.1h-2.1zM564.1 227.8h2.1v2.1h-2.1zM612.1 227.8h2.1v2.1h-2.1zM631.6 227.8h14.1v2.1h-14.1zM562.6 229.2h2.1v2.1h-2.1zM612.1 229.2h2.1v2.1h-2.1zM628.6 229.2h8.1v2.1h-8.1zM546.1 230.8h2.1v2.1h-2.1zM561.1 230.8h2.1v2.1h-2.1zM627.1 230.8h3.6v2.1h-3.6zM547.6 232.2h2.1v2.1h-2.1zM559.6 232.2h2.1v2.1h-2.1zM613.6 232.2h2.1v2.1h-2.1zM625.6 232.2h3.6v2.1h-3.6zM549.1 233.8h3.6v2.1h-3.6zM556.6 233.8h2.1v2.1h-2.1zM613.6 233.8h2.1v2.1h-2.1zM624.1 233.8h3.6v2.1h-3.6zM552.1 235.2h3.6v2.1h-3.6zM624.1 235.2h2.1v2.1h-2.1zM615.1 236.8h2.1v2.1h-2.1zM622.6 236.8h3.6v2.1h-3.6zM616.6 238.2h2.1v2.1h-2.1zM621.1 238.2h3.6v2.1h-3.6zM616.6 239.8h6.6v2.1h-6.6z"/>
<path fill="#df765e" d="M610.6 176.8h3.6v2.1h-3.6zM610.6 178.2h3.6v2.1h-3.6zM610.6 179.8h3.6v2.1h-3.6zM610.6 181.2h3.6v2.1h-3.6zM610.6 182.8h2.1v2.1h-2.1zM610.6 184.2h2.1v2.1h-2.1zM610.6 185.8h2.1v2.1h-2.1zM610.6 187.2h2.1v2.1h-2.1zM546.1 188.8h21.6v2.1h-21.6zM544.6 190.2h9.6v2.1h-9.6zM565.6 190.2h3.6v2.1h-3.6zM543.1 191.8h6.6v2.1h-6.6zM568.6 191.8h2.1v2.1h-2.1zM609.1 191.8h2.1v2.1h-2.1zM543.1 193.2h5.1v2.1h-5.1zM609.1 193.2h2.1v2.1h-2.1zM541.6 194.8h5.1v2.1h-5.1zM570.1 194.8h2.1v2.1h-2.1zM609.1 194.8h2.1v2.1h-2.1zM541.6 196.2h3.6v2.1h-3.6zM570.1 196.2h2.1v2.1h-2.1zM609.1 196.2h2.1v2.1h-2.1zM540.1 197.8h5.1v2.1h-5.1zM609.1 197.8h2.1v2.1h-2.1zM540.1 199.2h3.6v2.1h-3.6zM609.1 199.2h2.1v2.1h-2.1zM540.1 200.8h3.6v2.1h-3.6zM609.1 200.8h2.1v2.1h-2.1zM540.1 202.2h2.1v2.1h-2.1zM540.1 203.8h2.1v2.1h-2.1zM540.1 205.2h2.1v2.1h-2.1zM609.1 205.2h2.1v2.1h-2.1zM540.1 206.8h2.1v2.1h-2.1zM609.1 206.8h2.1v2.1h-2.1zM540.1 208.2h2.1v2.1h-2.1zM609.1 208.2h2.1v2.1h-2.1zM540.1 209.8h2.1v2.1h-2.1zM570.1 209.8h2.1v2.1h-2.1zM609.1 209.8h2.1v2.1h-2.1zM540.1 211.2h2.1v2.1h-2.1zM570.1 211.2h2.1v2.1h-2.1zM609.1 211.2h2.1v2.1h-2.1zM570.1 212.8h2.1v2.1h-2.1zM541.6 214.2h2.1v2.1h-2.1zM541.6 215.8h2.1v2.1h-2.1zM541.6 217.2h2.1v2.1h-2.1zM568.6 217.2h2.1v2.1h-2.1zM610.6 218.8h2.1v2.1h-2.1zM543.1 220.2h2.1v2.1h-2.1zM567.1 220.2h2.1v2.1h-2.1zM610.6 220.2h2.1v2.1h-2.1zM543.1 221.8h2.1v2.1h-2.1zM565.6 223.2h2.1v2.1h-2.1zM640.6 223.2h5.1v2.1h-5.1zM544.6 224.8h2.1v2.1h-2.1zM612.1 224.8h2.1v2.1h-2.1zM633.1 224.8h12.6v2.1h-12.6zM544.6 226.2h2.1v2.1h-2.1zM564.1 226.2h2.1v2.1h-2.1zM612.1 226.2h2.1v2.1h-2.1zM630.1 226.2h15.6v2.1h-15.6zM546.1 227.8h2.1v2.1h-2.1zM562.6 227.8h2.1v2.1h-2.1zM627.1 227.8h5.1v2.1h-5.1zM546.1 229.2h2.1v2.1h-2.1zM561.1 229.2h2.1v2.1h-2.1zM613.6 229.2h2.1v2.1h-2.1zM625.6 229.2h3.6v2.1h-3.6zM547.6 230.8h2.1v2.1h-2.1zM559.6 230.8h2.1v2.1h-2.1zM613.6 230.8h2.1v2.1h-2.1zM624.1 230.8h3.6v2.1h-3.6zM549.1 232.2h3.6v2.1h-3.6zM556.6 232.2h3.6v2.1h-3.6zM624.1 232.2h2.1v2.1h-2.1zM552.1 233.8h5.1v2.1h-5.1zM615.1 233.8h2.1v2.1h-2.1zM622.6 233.8h2.1v2.1h-2.1zM615.1 235.2h3.6v2.1h-3.6zM621.1 235.2h3.6v2.1h-3.6zM616.6 236.8h6.6v2.1h-6.6zM618.1 238.2h3.6v2.1h-3.6z"/>
<path fill="#da6853" d="M613.6 176.8h2.1v2.1h-2.1zM613.6 178.2h2.1v2.1h-2.1zM613.6 179.8h2.1v2.1h-2.1zM613.6 181.2h2.1v2.1h-2.1zM612.1 182.8h3.6v2.1h-3.6zM612.1 184.2h3.6v2.1h-3.6zM612.1 185.8h2.1v2.1h-2.1zM612.1 187.2h2.1v2.1h-2.1zM610.6 188.8h2.1v2.1h-2.1zM553.6 190.2h12.6v2.1h-12.6zM610.6 190.2h2.1v2.1h-2.1zM549.1 191.8h6.6v2.1h-6.6zM565.6 191.8h3.6v2.1h-3.6zM610.6 191.8h2.1v2.1h-2.1zM547.6 193.2h5.1v2.1h-5.1zM568.6 193.2h2.1v2.1h-2.1zM610.6 193.2h2.1v2.1h-2.1zM546.1 194.8h3.6v2.1h-3.6zM568.6 194.8h2.1v2.1h-2.1zM544.6 196.2h3.6v2.1h-3.6zM544.6 197.8h3.6v2.1h-3.6zM570.1 197.8h2.1v2.1h-2.1zM543.1 199.2h3.6v2.1h-3.6zM570.1 199.2h2.1v2.1h-2.1zM543.1 200.8h2.1v2.1h-2.1zM570.1 200.8h2.1v2.1h-2.1zM541.6 202.2h3.6v2.1h-3.6zM570.1 202.2h2.1v2.1h-2.1zM609.1 202.2h2.1v2.1h-2.1zM541.6 203.8h2.1v2.1h-2.1zM570.1 203.8h2.1v2.1h-2.1zM609.1 203.8h2.1v2.1h-2.1zM541.6 205.2h2.1v2.1h-2.1zM570.1 205.2h2.1v2.1h-2.1zM541.6 206.8h2.1v2.1h-2.1zM570.1 206.8h2.1v2.1h-2.1zM541.6 208.2h2.1v2.1h-2.1zM570.1 208.2h2.1v2.1h-2.1zM541.6 209.8h2.1v2.1h-2.1zM541.6 211.2h2.1v2.1h-2.1zM541.6 212.8h2.1v2.1h-2.1zM568.6 214.2h2.1v2.1h-2.1zM610.6 214.2h2.1v2.1h-2.1zM568.6 215.8h2.1v2.1h-2.1zM610.6 215.8h2.1v2.1h-2.1zM543.1 217.2h2.1v2.1h-2.1zM610.6 217.2h2.1v2.1h-2.1zM543.1 218.8h2.1v2.1h-2.1zM567.1 218.8h2.1v2.1h-2.1zM636.1 220.2h9.6v2.1h-9.6zM544.6 221.8h2.1v2.1h-2.1zM565.6 221.8h2.1v2.1h-2.1zM612.1 221.8h2.1v2.1h-2.1zM633.1 221.8h12.6v2.1h-12.6zM544.6 223.2h2.1v2.1h-2.1zM612.1 223.2h2.1v2.1h-2.1zM630.1 223.2h11.1v2.1h-11.1zM546.1 224.8h2.1v2.1h-2.1zM564.1 224.8h2.1v2.1h-2.1zM628.6 224.8h5.1v2.1h-5.1zM546.1 226.2h2.1v2.1h-2.1zM562.6 226.2h2.1v2.1h-2.1zM613.6 226.2h2.1v2.1h-2.1zM627.1 226.2h3.6v2.1h-3.6zM547.6 227.8h2.1v2.1h-2.1zM561.1 227.8h2.1v2.1h-2.1zM613.6 227.8h2.1v2.1h-2.1zM625.6 227.8h2.1v2.1h-2.1zM547.6 229.2h3.6v2.1h-3.6zM559.6 229.2h2.1v2.1h-2.1zM624.1 229.2h2.1v2.1h-2.1zM549.1 230.8h3.6v2.1h-3.6zM556.6 230.8h3.6v2.1h-3.6zM615.1 230.8h2.1v2.1h-2.1zM622.6 230.8h2.1v2.1h-2.1zM552.1 232.2h5.1v2.1h-5.1zM615.1 232.2h3.6v2.1h-3.6zM621.1 232.2h3.6v2.1h-3.6zM616.6 233.8h6.6v2.1h-6.6zM618.1 235.2h3.6v2.1h-3.6z"/>
<path fill="#d35a4a" d="M615.1 176.8h3.6v2.1h-3.6zM615.1 178.2h3.6v2.1h-3.6zM615.1 179.8h3.6v2.1h-3.6zM615.1 181.2h3.6v2.1h-3.6zM615.1 182.8h3.6v2.1h-3.6zM615.1 184.2h2.1v2.1h-2.1zM613.6 185.8h3.6v2.1h-3.6zM613.6 187.2h2.1v2.1h-2.1zM612.1 188.8h2.1v2.1h-2.1zM612.1 190.2h2.1v2.1h-2.1zM555.1 191.8h11.1v2.1h-11.1zM612.1 191.8h2.1v2.1h-2.1zM552.1 193.2h5.1v2.1h-5.1zM565.6 193.2h3.6v2.1h-3.6zM549.1 194.8h5.1v2.1h-5.1zM567.1 194.8h2.1v2.1h-2.1zM610.6 194.8h2.1v2.1h-2.1zM547.6 196.2h3.6v2.1h-3.6zM568.6 196.2h2.1v2.1h-2.1zM610.6 196.2h2.1v2.1h-2.1zM547.6 197.8h2.1v2.1h-2.1zM568.6 197.8h2.1v2.1h-2.1zM610.6 197.8h2.1v2.1h-2.1zM546.1 199.2h3.6v2.1h-3.6zM568.6 199.2h2.1v2.1h-2.1zM544.6 200.8h3.6v2.1h-3.6zM544.6 202.2h2.1v2.1h-2.1zM543.1 203.8h3.6v2.1h-3.6zM543.1 205.2h2.1v2.1h-2.1zM543.1 206.8h2.1v2.1h-2.1zM543.1 208.2h2.1v2.1h-2.1zM543.1 209.8h2.1v2.1h-2.1zM568.6 209.8h2.1v2.1h-2.1zM610.6 209.8h2.1v2.1h-2.1zM543.1 211.2h2.1v2.1h-2.1zM568.6 211.2h2.1v2.1h-2.1zM610.6 211.2h2.1v2.1h-2.1zM642.1 211.2h3.6v2.1h-3.6zM543.1 212.8h2.1v2.1h-2.1zM568.6 212.8h2.1v2.1h-2.1zM610.6 212.8h2.1v2.1h-2.1zM637.6 212.8h8.1v2.1h-8.1zM543.1 214.2h2.1v2.1h-2.1zM636.1 214.2h9.6v2.1h-9.6zM543.1 215.8h2.1v2.1h-2.1zM567.1 215.8h2.1v2.1h-2.1zM634.6 215.8h11.1v2.1h-11.1zM544.6 217.2h2.1v2.1h-2.1zM567.1 217.2h2.1v2.1h-2.1zM633.1 217.2h12.6v2.1h-12.6zM544.6 218.8h2.1v2.1h-2.1zM565.6 218.8h2.1v2.1h-2.1zM612.1 218.8h2.1v2.1h-2.1zM631.6 218.8h14.1v2.1h-14.1zM544.6 220.2h2.1v2.1h-2.1zM565.6 220.2h2.1v2.1h-2.1zM612.1 220.2h2.1v2.1h-2.1zM630.1 220.2h6.6v2.1h-6.6zM546.1 221.8h2.1v2.1h-2.1zM564.1 221.8h2.1v2.1h-2.1zM628.6 221.8h5.1v2.1h-5.1zM546.1 223.2h2.1v2.1h-2.1zM564.1 223.2h2.1v2.1h-2.1zM613.6 223.2h2.1v2.1h-2.1zM627.1 223.2h3.6v2.1h-3.6zM547.6 224.8h2.1v2.1h-2.1zM562.6 224.8h2.1v2.1h-2.1zM613.6 224.8h2.1v2.1h-2.1zM625.6 224.8h3.6v2.1h-3.6zM547.6 226.2h2.1v2.1h-2.1zM561.1 226.2h2.1v2.1h-2.1zM624.1 226.2h3.6v2.1h-3.6zM549.1 227.8h2.1v2.1h-2.1zM558.1 227.8h3.6v2.1h-3.6zM615.1 227.8h2.1v2.1h-2.1zM622.6 227.8h3.6v2.1h-3.6zM550.6 229.2h9.6v2.1h-9.6zM615.1 229.2h3.6v2.1h-3.6zM621.1 229.2h3.6v2.1h-3.6zM552.1 230.8h5.1v2.1h-5.1zM616.6 230.8h6.6v2.1h-6.6zM618.1 232.2h3.6v2.1h-3.6z"/>
<path fill="#cb4942" d="M618.1 176.8h5.1v2.1h-5.1zM618.1 178.2h6.6v2.1h-6.6zM618.1 179.8h6.6v2.1h-6.6zM618.1 181.2h5.1v2.1h-5.1zM618.1 182.8h5.1v2.1h-5.1zM616.6 184.2h5.1v2.1h-5.1zM616.6 185.8h3.6v2.1h-3.6zM615.1 187.2h3.6v2.1h-3.6zM613.6 188.8h3.6v2.1h-3.6zM613.6 190.2h2.1v2.1h-2.1zM556.6 193.2h9.6v2.1h-9.6zM612.1 193.2h2.1v2.1h-2.1zM553.6 194.8h3.6v2.1h-3.6zM565.6 194.8h2.1v2.1h-2.1zM612.1 194.8h2.1v2.1h-2.1zM550.6 196.2h3.6v2.1h-3.6zM567.1 196.2h2.1v2.1h-2.1zM549.1 197.8h3.6v2.1h-3.6zM567.1 197.8h2.1v2.1h-2.1zM549.1 199.2h2.1v2.1h-2.1zM610.6 199.2h2.1v2.1h-2.1zM547.6 200.8h2.1v2.1h-2.1zM568.6 200.8h2.1v2.1h-2.1zM610.6 200.8h2.1v2.1h-2.1zM546.1 202.2h3.6v2.1h-3.6zM568.6 202.2h2.1v2.1h-2.1zM610.6 202.2h2.1v2.1h-2.1zM546.1 203.8h2.1v2.1h-2.1zM568.6 203.8h2.1v2.1h-2.1zM610.6 203.8h2.1v2.1h-2.1zM639.1 203.8h6.6v2.1h-6.6zM544.6 205.2h3.6v2.1h-3.6zM568.6 205.2h2.1v2.1h-2.1zM610.6 205.2h2.1v2.1h-2.1zM634.6 205.2h11.1v2.1h-11.1zM544.6 206.8h2.1v2.1h-2.1zM568.6 206.8h2.1v2.1h-2.1zM610.6 206.8h2.1v2.1h-2.1zM633.1 206.8h12.6v2.1h-12.6zM544.6 208.2h2.1v2.1h-2.1zM568.6 208.2h2.1v2.1h-2.1zM610.6 208.2h2.1v2.1h-2.1zM633.1 208.2h12.6v2.1h-12.6zM544.6 209.8h2.1v2.1h-2.1zM631.6 209.8h14.1v2.1h-14.1zM544.6 211.2h2.1v2.1h-2.1zM567.1 211.2h2.1v2.1h-2.1zM631.6 211.2h11.1v2.1h-11.1zM544.6 212.8h2.1v2.1h-2.1zM567.1 212.8h2.1v2.1h-2.1zM631.6 212.8h6.6v2.1h-6.6zM544.6 214.2h2.1v2.1h-2.1zM567.1 214.2h2.1v2.1h-2.1zM630.1 214.2h6.6v2.1h-6.6zM544.6 215.8h2.1v2.1h-2.1zM565.6 215.8h2.1v2.1h-2.1zM612.1 215.8h2.1v2.1h-2.1zM630.1 215.8h5.1v2.1h-5.1zM546.1 217.2h2.1v2.1h-2.1zM565.6 217.2h2.1v2.1h-2.1zM612.1 217.2h2.1v2.1h-2.1zM628.6 217.2h5.1v2.1h-5.1zM546.1 218.8h2.1v2.1h-2.1zM564.1 218.8h2.1v2.1h-2.1zM628.6 218.8h3.6v2.1h-3.6zM546.1 220.2h2.1v2.1h-2.1zM564.1 220.2h2.1v2.1h-2.1zM613.6 220.2h2.1v2.1h-2.1zM627.1 220.2h3.6v2.1h-3.6zM547.6 221.8h2.1v2.1h-2.1zM562.6 221.8h2.1v2.1h-2.1zM613.6 221.8h2.1v2.1h-2.1zM625.6 221.8h3.6v2.1h-3.6zM547.6 223.2h2.1v2.1h-2.1zM561.1 223.2h3.6v2.1h-3.6zM624.1 223.2h3.6v2.1h-3.6zM549.1 224.8h2.1v2.1h-2.1zM559.6 224.8h3.6v2.1h-3.6zM615.1 224.8h2.1v2.1h-2.1zM622.6 224.8h3.6v2.1h-3.6zM549.1 226.2h5.1v2.1h-5.1zM556.6 226.2h5.1v2.1h-5.1zM615.1 226.2h3.6v2.1h-3.6zM621.1 226.2h3.6v2.1h-3.6zM550.6 227.8h8.1v2.1h-8.1zM616.6 227.8h6.6v2.1h-6.6zM618.1 229.2h3.6v2.1h-3.6z"/>
<path fill="#c43b3c" d="M622.6 176.8h23.1v2.1h-23.1zM624.1 178.2h21.6v2.1h-21.6zM624.1 179.8h21.6v2.1h-21.6zM622.6 181.2h23.1v2.1h-23.1zM622.6 182.8h23.1v2.1h-23.1zM621.1 184.2h24.6v2.1h-24.6zM619.6 185.8h26.1v2.1h-26.1zM618.1 187.2h27.6v2.1h-27.6zM616.6 188.8h5.1v2.1h-5.1zM627.1 188.8h18.6v2.1h-18.6zM615.1 190.2h3.6v2.1h-3.6zM630.1 190.2h15.6v2.1h-15.6zM613.6 191.8h3.6v2.1h-3.6zM633.1 191.8h12.6v2.1h-12.6zM613.6 193.2h2.1v2.1h-2.1zM633.1 193.2h12.6v2.1h-12.6zM556.6 194.8h9.6v2.1h-9.6zM634.6 194.8h11.1v2.1h-11.1zM553.6 196.2h5.1v2.1h-5.1zM564.1 196.2h3.6v2.1h-3.6zM612.1 196.2h2.1v2.1h-2.1zM633.1 196.2h12.6v2.1h-12.6zM552.1 197.8h3.6v2.1h-3.6zM565.6 197.8h2.1v2.1h-2.1zM612.1 197.8h2.1v2.1h-2.1zM631.6 197.8h14.1v2.1h-14.1zM550.6 199.2h3.6v2.1h-3.6zM567.1 199.2h2.1v2.1h-2.1zM612.1 199.2h2.1v2.1h-2.1zM631.6 199.2h14.1v2.1h-14.1zM549.1 200.8h3.6v2.1h-3.6zM567.1 200.8h2.1v2.1h-2.1zM630.1 200.8h15.6v2.1h-15.6zM549.1 202.2h2.1v2.1h-2.1zM567.1 202.2h2.1v2.1h-2.1zM630.1 202.2h15.6v2.1h-15.6zM547.6 203.8h2.1v2.1h-2.1zM567.1 203.8h2.1v2.1h-2.1zM630.1 203.8h9.6v2.1h-9.6zM547.6 205.2h2.1v2.1h-2.1zM567.1 205.2h2.1v2.1h-2.1zM628.6 205.2h6.6v2.1h-6.6zM546.1 206.8h3.6v2.1h-3.6zM567.1 206.8h2.1v2.1h-2.1zM628.6 206.8h5.1v2.1h-5.1zM546.1 208.2h2.1v2.1h-2.1zM567.1 208.2h2.1v2.1h-2.1zM628.6 208.2h5.1v2.1h-5.1zM546.1 209.8h2.1v2.1h-2.1zM567.1 209.8h2.1v2.1h-2.1zM628.6 209.8h3.6v2.1h-3.6zM546.1 211.2h2.1v2.1h-2.1zM612.1 211.2h2.1v2.1h-2.1zM628.6 211.2h3.6v2.1h-3.6zM546.1 212.8h2.1v2.1h-2.1zM565.6 212.8h2.1v2.1h-2.1zM612.1 212.8h2.1v2.1h-2.1zM628.6 212.8h3.6v2.1h-3.6zM546.1 214.2h2.1v2.1h-2.1zM565.6 214.2h2.1v2.1h-2.1zM612.1 214.2h2.1v2.1h-2.1zM627.1 214.2h3.6v2.1h-3.6zM546.1 215.8h3.6v2.1h-3.6zM564.1 215.8h2.1v2.1h-2.1zM627.1 215.8h3.6v2.1h-3.6zM547.6 217.2h2.1v2.1h-2.1zM564.1 217.2h2.1v2.1h-2.1zM613.6 217.2h2.1v2.1h-2.1zM625.6 217.2h3.6v2.1h-3.6zM547.6 218.8h2.1v2.1h-2.1zM562.6 218.8h2.1v2.1h-2.1zM613.6 218.8h2.1v2.1h-2.1zM625.6 218.8h3.6v2.1h-3.6zM547.6 220.2h3.6v2.1h-3.6zM561.1 220.2h3.6v2.1h-3.6zM624.1 220.2h3.6v2.1h-3.6zM549.1 221.8h3.6v2.1h-3.6zM559.6 221.8h3.6v2.1h-3.6zM615.1 221.8h2.1v2.1h-2.1zM622.6 221.8h3.6v2.1h-3.6zM549.1 223.2h12.6v2.1h-12.6zM615.1 223.2h3.6v2.1h-3.6zM621.1 223.2h3.6v2.1h-3.6zM550.6 224.8h9.6v2.1h-9.6zM616.6 224.8h6.6v2.1h-6.6zM553.6 226.2h3.6v2.1h-3.6zM618.1 226.2h3.6v2.1h-3.6z"/>
<path fill="#bb2a34" d="M621.1 188.8h6.6v2.1h-6.6zM618.1 190.2h12.6v2.1h-12.6zM616.6 191.8h17.1v2.1h-17.1zM615.1 193.2h2.1v2.1h-2.1zM624.1 193.2h9.6v2.1h-9.6zM613.6 194.8h2.1v2.1h-2.1zM625.6 194.8h9.6v2.1h-9.6zM558.1 196.2h6.6v2.1h-6.6zM613.6 196.2h2.1v2.1h-2.1zM625.6 196.2h8.1v2.1h-8.1zM555.1 197.8h5.1v2.1h-5.1zM562.6 197.8h3.6v2.1h-3.6zM613.6 197.8h2.1v2.1h-2.1zM627.1 197.8h5.1v2.1h-5.1zM553.6 199.2h3.6v2.1h-3.6zM564.1 199.2h3.6v2.1h-3.6zM627.1 199.2h5.1v2.1h-5.1zM552.1 200.8h3.6v2.1h-3.6zM565.6 200.8h2.1v2.1h-2.1zM612.1 200.8h2.1v2.1h-2.1zM627.1 200.8h3.6v2.1h-3.6zM550.6 202.2h3.6v2.1h-3.6zM565.6 202.2h2.1v2.1h-2.1zM612.1 202.2h2.1v2.1h-2.1zM627.1 202.2h3.6v2.1h-3.6zM549.1 203.8h3.6v2.1h-3.6zM565.6 203.8h2.1v2.1h-2.1zM612.1 203.8h2.1v2.1h-2.1zM627.1 203.8h3.6v2.1h-3.6zM549.1 205.2h2.1v2.1h-2.1zM565.6 205.2h2.1v2.1h-2.1zM612.1 205.2h2.1v2.1h-2.1zM627.1 205.2h2.1v2.1h-2.1zM549.1 206.8h2.1v2.1h-2.1zM565.6 206.8h2.1v2.1h-2.1zM612.1 206.8h2.1v2.1h-2.1zM627.1 206.8h2.1v2.1h-2.1zM547.6 208.2h3.6v2.1h-3.6zM565.6 208.2h2.1v2.1h-2.1zM612.1 208.2h2.1v2.1h-2.1zM625.6 208.2h3.6v2.1h-3.6zM547.6 209.8h3.6v2.1h-3.6zM565.6 209.8h2.1v2.1h-2.1zM612.1 209.8h2.1v2.1h-2.1zM625.6 209.8h3.6v2.1h-3.6zM547.6 211.2h3.6v2.1h-3.6zM565.6 211.2h2.1v2.1h-2.1zM625.6 211.2h3.6v2.1h-3.6zM547.6 212.8h3.6v2.1h-3.6zM564.1 212.8h2.1v2.1h-2.1zM625.6 212.8h3.6v2.1h-3.6zM547.6 214.2h3.6v2.1h-3.6zM564.1 214.2h2.1v2.1h-2.1zM613.6 214.2h2.1v2.1h-2.1zM625.6 214.2h2.1v2.1h-2.1zM549.1 215.8h3.6v2.1h-3.6zM562.6 215.8h2.1v2.1h-2.1zM613.6 215.8h2.1v2.1h-2.1zM624.1 215.8h3.6v2.1h-3.6zM549.1 217.2h5.1v2.1h-5.1zM561.1 217.2h3.6v2.1h-3.6zM624.1 217.2h2.1v2.1h-2.1zM549.1 218.8h14.1v2.1h-14.1zM615.1 218.8h2.1v2.1h-2.1zM622.6 218.8h3.6v2.1h-3.6zM550.6 220.2h11.1v2.1h-11.1zM615.1 220.2h3.6v2.1h-3.6zM621.1 220.2h3.6v2.1h-3.6zM552.1 221.8h8.1v2.1h-8.1zM616.6 221.8h6.6v2.1h-6.6zM618.1 223.2h3.6v2.1h-3.6z"/>
<path fill="#b41c2d" d="M616.6 193.2h8.1v2.1h-8.1zM615.1 194.8h11.1v2.1h-11.1zM615.1 196.2h2.1v2.1h-2.1zM622.6 196.2h3.6v2.1h-3.6zM559.6 197.8h3.6v2.1h-3.6zM615.1 197.8h2.1v2.1h-2.1zM624.1 197.8h3.6v2.1h-3.6zM556.6 199.2h8.1v2.1h-8.1zM613.6 199.2h2.1v2.1h-2.1zM624.1 199.2h3.6v2.1h-3.6zM555.1 200.8h3.6v2.1h-3.6zM562.6 200.8h3.6v2.1h-3.6zM613.6 200.8h2.1v2.1h-2.1zM624.1 200.8h3.6v2.1h-3.6zM553.6 202.2h3.6v2.1h-3.6zM564.1 202.2h2.1v2.1h-2.1zM613.6 202.2h2.1v2.1h-2.1zM624.1 202.2h3.6v2.1h-3.6zM552.1 203.8h3.6v2.1h-3.6zM564.1 203.8h2.1v2.1h-2.1zM624.1 203.8h3.6v2.1h-3.6zM550.6 205.2h3.6v2.1h-3.6zM564.1 205.2h2.1v2.1h-2.1zM624.1 205.2h3.6v2.1h-3.6zM550.6 206.8h3.6v2.1h-3.6zM564.1 206.8h2.1v2.1h-2.1zM624.1 206.8h3.6v2.1h-3.6zM550.6 208.2h3.6v2.1h-3.6zM564.1 208.2h2.1v2.1h-2.1zM624.1 208.2h2.1v2.1h-2.1zM550.6 209.8h3.6v2.1h-3.6zM564.1 209.8h2.1v2.1h-2.1zM613.6 209.8h2.1v2.1h-2.1zM624.1 209.8h2.1v2.1h-2.1zM550.6 211.2h3.6v2.1h-3.6zM562.6 211.2h3.6v2.1h-3.6zM613.6 211.2h2.1v2.1h-2.1zM624.1 211.2h2.1v2.1h-2.1zM550.6 212.8h5.1v2.1h-5.1zM561.1 212.8h3.6v2.1h-3.6zM613.6 212.8h2.1v2.1h-2.1zM624.1 212.8h2.1v2.1h-2.1zM550.6 214.2h14.1v2.1h-14.1zM615.1 214.2h2.1v2.1h-2.1zM622.6 214.2h3.6v2.1h-3.6zM552.1 215.8h11.1v2.1h-11.1zM615.1 215.8h2.1v2.1h-2.1zM622.6 215.8h2.1v2.1h-2.1zM553.6 217.2h8.1v2.1h-8.1zM615.1 217.2h3.6v2.1h-3.6zM619.6 217.2h5.1v2.1h-5.1zM616.6 218.8h6.6v2.1h-6.6zM618.1 220.2h3.6v2.1h-3.6z"/>
<path fill="#a51429" d="M616.6 196.2h6.6v2.1h-6.6zM616.6 197.8h8.1v2.1h-8.1zM615.1 199.2h3.6v2.1h-3.6zM621.1 199.2h3.6v2.1h-3.6zM558.1 200.8h5.1v2.1h-5.1zM615.1 200.8h2.1v2.1h-2.1zM621.1 200.8h3.6v2.1h-3.6zM556.6 202.2h8.1v2.1h-8.1zM615.1 202.2h2.1v2.1h-2.1zM622.6 202.2h2.1v2.1h-2.1zM555.1 203.8h9.6v2.1h-9.6zM613.6 203.8h2.1v2.1h-2.1zM622.6 203.8h2.1v2.1h-2.1zM553.6 205.2h11.1v2.1h-11.1zM613.6 205.2h2.1v2.1h-2.1zM622.6 205.2h2.1v2.1h-2.1zM553.6 206.8h11.1v2.1h-11.1zM613.6 206.8h2.1v2.1h-2.1zM622.6 206.8h2.1v2.1h-2.1zM553.6 208.2h11.1v2.1h-11.1zM613.6 208.2h2.1v2.1h-2.1zM622.6 208.2h2.1v2.1h-2.1zM553.6 209.8h11.1v2.1h-11.1zM615.1 209.8h2.1v2.1h-2.1zM622.6 209.8h2.1v2.1h-2.1zM553.6 211.2h9.6v2.1h-9.6zM615.1 211.2h2.1v2.1h-2.1zM621.1 211.2h3.6v2.1h-3.6zM555.1 212.8h6.6v2.1h-6.6zM615.1 212.8h3.6v2.1h-3.6zM621.1 212.8h3.6v2.1h-3.6zM616.6 214.2h6.6v2.1h-6.6zM616.6 215.8h6.6v2.1h-6.6zM618.1 217.2h2.1v2.1h-2.1z"/>
<path fill="#960f27" d="M618.1 199.2h3.6v2.1h-3.6zM616.6 200.8h5.1v2.1h-5.1zM616.6 202.2h6.6v2.1h-6.6zM615.1 203.8h8.1v2.1h-8.1zM615.1 205.2h8.1v2.1h-8.1zM615.1 206.8h8.1v2.1h-8.1zM615.1 208.2h8.1v2.1h-8.1zM616.6 209.8h6.6v2.1h-6.6zM616.6 211.2h5.1v2.1h-5.1zM618.1 212.8h3.6v2.1h-3.6z"/>
</g>
<g fill="none" stroke="#1a1a1a" stroke-width="0.55" stroke-opacity="0.85">
<path d="M582.9,249.5 L585.4,248.0 L586.6,246.5 L587.4,245.0 L588.3,242.0 L588.8,239.3 L588.9,237.5 L588.6,236.0 L585.8,235.4 L584.3,236.9 L582.8,238.9 L582.0,240.5 L581.1,242.0 L579.8,245.0 L579.5,246.5 L579.8,248.8 L581.3,249.6 L582.9,249.5"/>
<path d="M582.9,267.5 L585.8,266.8 L587.8,266.0 L590.3,264.6 L591.8,263.4 L593.3,261.8 L594.6,260.0 L595.6,258.5 L596.5,257.0 L597.8,254.3 L598.4,252.5 L599.2,249.5 L599.5,248.0 L599.8,245.0 L599.7,242.0 L599.5,239.0 L599.3,237.5 L598.8,234.5 L598.2,231.5 L597.8,229.6 L597.2,227.0 L596.4,224.0 L596.0,222.5 L595.1,219.5 L594.6,218.0 L593.3,215.0 L591.8,213.8 L589.6,215.0 L588.5,216.5 L587.3,218.3 L585.8,220.8 L584.8,222.5 L583.9,224.0 L582.8,225.7 L581.3,228.1 L580.2,230.0 L579.3,231.5 L578.3,233.3 L576.8,235.9 L575.9,237.5 L574.9,239.0 L573.8,240.7 L572.3,242.8 L570.8,244.8 L569.6,246.5 L568.7,248.0 L567.8,249.5 L566.4,252.5 L565.9,254.0 L565.1,257.0 L564.8,258.5 L564.4,261.5 L564.6,264.5 L565.3,266.0 L566.8,267.5 L569.3,268.5 L572.3,268.9 L575.3,268.7 L578.3,268.3 L581.3,267.8 L582.9,267.5"/>
<path d="M592.4,296.0 L592.4,293.0 L593.2,290.0 L594.0,288.5 L595.2,287.0 L596.6,285.5 L598.1,284.0 L599.5,282.5 L600.8,280.6 L601.6,278.0 L601.5,275.0 L601.3,272.0 L601.4,269.0 L601.9,266.0 L602.3,264.4 L603.1,261.5 L603.8,259.0 L604.2,257.0 L604.7,254.0 L604.9,251.0 L604.9,248.0 L604.8,245.0 L604.5,242.0 L604.1,239.0 L603.8,237.1 L603.3,234.5 L602.7,231.5 L602.3,229.7 L601.7,227.0 L601.1,224.0 L600.8,222.5 L600.2,219.5 L599.8,216.5 L599.3,213.5 L599.0,212.0 L598.4,209.0 L597.8,206.9 L596.7,204.5 L595.8,203.0 L594.1,201.5 L591.8,200.7 L589.1,201.5 L587.6,203.0 L586.7,204.5 L585.8,206.4 L584.9,209.0 L584.3,210.9 L583.5,213.5 L582.8,215.6 L581.9,218.0 L581.2,219.5 L579.8,222.5 L579.1,224.0 L578.3,225.5 L576.8,228.4 L576.0,230.0 L575.2,231.5 L573.8,233.9 L572.5,236.0 L571.4,237.5 L570.3,239.0 L569.1,240.5 L567.8,242.1 L566.3,244.0 L564.8,246.2 L563.7,248.0 L562.9,249.5 L561.8,251.9 L560.8,254.0 L560.0,255.5 L558.8,257.7 L557.3,259.8 L555.8,261.4 L554.3,262.7 L552.8,264.0 L551.3,265.4 L549.8,267.1 L548.5,269.0 L547.6,270.5 L546.8,272.2 L545.3,274.9 L544.3,276.5 L543.4,278.0 L542.3,280.3 L541.5,282.5 L540.8,285.4 L540.5,287.0 L540.2,290.0 L540.1,293.0 L540.1,296.0"/>
<path d="M644.3,282.6 L641.3,282.5 L639.8,282.2 L637.2,281.0 L635.3,279.6 L633.8,278.2 L632.3,276.8 L630.8,275.5 L629.3,274.2 L627.8,273.0 L626.3,271.8 L624.6,270.5 L622.6,269.0 L620.4,267.5 L618.8,266.4 L617.3,265.4 L615.8,264.2 L614.3,262.8 L612.8,260.9 L611.7,258.5 L611.1,257.0 L610.3,254.0 L609.8,251.7 L609.4,249.5 L608.9,246.5 L608.4,243.5 L608.2,242.0 L607.6,239.0 L607.1,236.0 L606.8,234.5 L606.1,231.5 L605.5,228.5 L605.2,227.0 L604.7,224.0 L604.1,221.0 L603.8,218.9 L603.4,216.5 L603.1,213.5 L602.7,210.5 L602.3,207.5 L602.1,206.0 L601.5,203.0 L600.8,200.3 L600.1,198.5 L599.3,197.0 L597.8,195.2 L596.3,194.0 L593.3,192.7 L591.8,192.4 L589.5,192.5 L587.3,193.1 L585.8,194.0 L584.2,195.5 L582.8,198.0 L582.1,200.0 L581.5,203.0 L581.2,204.5 L580.7,207.5 L580.1,210.5 L579.7,212.0 L578.9,215.0 L578.3,216.9 L577.3,219.5 L576.7,221.0 L575.4,224.0 L574.7,225.5 L573.8,227.3 L572.4,230.0 L571.6,231.5 L570.6,233.0 L569.3,234.9 L567.8,236.8 L566.3,238.5 L564.8,240.2 L563.3,241.9 L562.0,243.5 L560.9,245.0 L559.8,246.5 L558.8,248.0 L557.3,250.1 L555.8,251.7 L554.3,252.7 L551.3,253.4 L548.5,252.5 L546.8,251.4 L545.3,250.1 L543.8,248.6 L542.3,246.9 L541.0,245.0 L540.1,243.5 L539.3,241.8 L538.2,239.0 L537.7,237.5 L536.8,234.5 L536.3,233.0 L535.1,230.0 L534.4,228.5 L533.3,226.7 L531.8,225.1 L529.4,224.0 L527.3,224.0 L525.8,224.2"/>
<path d="M582.5,177.5 L582.8,180.5 L581.8,183.5 L580.8,185.0 L579.8,186.6 L578.5,189.5 L578.1,191.0 L577.5,194.0 L577.2,197.0 L577.1,200.0 L576.9,203.0 L576.8,204.9 L576.5,207.5 L576.1,210.5 L575.4,213.5 L575.0,215.0 L574.1,218.0 L573.6,219.5 L572.4,222.5 L571.7,224.0 L570.8,226.0 L569.5,228.5 L568.6,230.0 L567.6,231.5 L566.3,233.1 L564.8,234.8 L563.3,236.3 L561.8,237.7 L560.3,239.1 L558.8,240.5 L556.9,242.0 L554.3,243.5 L552.8,243.8 L550.9,243.5 L548.3,242.2 L546.8,241.0 L545.3,239.3 L544.0,237.5 L543.2,236.0 L542.3,234.3 L541.2,231.5 L540.6,230.0 L539.5,227.0 L538.9,225.5 L537.8,222.8 L537.0,221.0 L536.3,219.5 L534.8,217.0 L533.3,215.2 L531.8,214.1 L530.3,213.5 L527.3,213.3"/>
<path d="M644.3,244.3 L641.3,244.4 L638.3,245.0 L636.8,245.7 L635.3,246.6 L633.1,248.0 L630.8,249.3 L629.3,250.1 L627.2,251.0 L624.8,251.9 L622.3,252.5 L620.3,252.6 L618.8,252.3 L616.5,251.0 L615.1,249.5 L614.2,248.0 L612.9,245.0 L612.4,243.5 L611.6,240.5 L611.2,239.0 L610.5,236.0 L609.8,233.0 L609.5,231.5 L608.9,228.5 L608.3,225.6 L608.0,224.0 L607.5,221.0 L607.0,218.0 L606.8,216.5 L606.4,213.5 L606.0,210.5 L605.8,207.5 L605.5,204.5 L605.3,201.7 L605.1,200.0 L604.7,197.0 L604.0,194.0 L603.5,192.5 L602.3,190.0 L601.0,188.0 L599.7,186.5 L598.4,185.0 L597.2,183.5 L596.3,181.7 L596.1,179.0 L596.4,177.5"/>
<path d="M544.2,177.5 L544.1,180.5 L544.3,183.5 L545.3,186.3 L546.8,187.3 L549.8,188.0 L551.3,188.1 L554.3,188.1 L557.3,188.1 L560.3,188.0 L563.3,188.2 L566.3,189.0 L567.8,189.9 L569.3,191.2 L570.8,193.7 L571.4,195.5 L572.0,198.5 L572.3,201.4 L572.3,203.0 L572.3,205.2 L572.1,207.5 L571.7,210.5 L571.1,213.5 L570.8,215.0 L569.8,218.0 L569.3,219.5 L568.0,222.5 L567.2,224.0 L566.3,225.6 L564.8,227.8 L563.3,229.7 L561.8,231.2 L560.3,232.4 L558.8,233.5 L556.9,234.5 L554.3,235.2 L551.3,234.7 L549.8,233.9 L548.3,232.5 L546.8,230.6 L545.6,228.5 L544.9,227.0 L543.8,224.3 L543.2,222.5 L542.3,219.8 L541.8,218.0 L541.0,215.0 L540.6,213.5 L540.0,210.5 L539.5,207.5 L539.3,206.0 L539.1,203.0 L539.1,200.0 L539.3,198.1 L539.7,195.5 L539.8,192.5 L539.3,191.0 L537.5,189.5 L534.8,188.0 L533.4,186.5 L532.8,185.0 L532.6,182.0 L532.5,179.0"/>
<path d="M644.3,227.8 L641.3,227.8 L638.3,227.9 L635.3,228.2 L633.8,228.5 L630.8,229.6 L629.3,230.4 L627.8,231.6 L626.3,233.2 L624.8,235.3 L623.3,237.4 L621.8,239.0 L620.3,239.9 L617.3,239.1 L616.1,237.5 L615.3,236.0 L614.3,233.6 L613.7,231.5 L612.8,228.5 L612.5,227.0 L611.8,224.0 L611.3,221.9 L610.8,219.5 L610.3,216.5 L609.8,213.7 L609.6,212.0 L609.3,209.0 L609.1,206.0 L609.1,203.0 L609.1,200.0 L609.2,197.0 L609.4,194.0 L609.6,191.0 L609.8,189.0 L610.1,186.5 L610.4,183.5 L610.6,180.5 L610.5,177.5"/>
<path d="M620.3,220.5 L617.3,219.6 L616.2,218.0 L615.5,216.5 L614.4,213.5 L614.1,212.0 L613.6,209.0 L613.5,206.0 L613.7,203.0 L614.2,200.0 L614.7,198.5 L615.8,196.2 L617.3,194.6 L618.8,193.8 L621.8,193.7 L623.3,194.5 L624.8,196.3 L625.7,198.5 L626.0,201.5 L626.0,204.5 L625.8,207.5 L625.5,210.5 L624.9,213.5 L624.4,215.0 L623.3,217.5 L621.8,219.4 L620.3,220.5"/>
<path d="M560.3,217.1 L557.3,217.9 L554.3,217.3 L552.8,216.3 L551.3,213.9 L550.9,212.0 L551.0,209.0 L551.4,207.5 L552.8,204.6 L553.9,203.0 L555.3,201.5 L557.2,200.0 L558.8,199.2 L561.8,198.9 L563.9,200.0 L564.9,201.5 L565.6,204.5 L565.5,207.5 L564.9,210.5 L564.4,212.0 L563.3,214.1 L561.8,216.0 L560.3,217.1"/>
</g></g>
<g fill="none" stroke="#222" stroke-width="0.9">
<circle cx="585.6" cy="237.3" r="45.2"/>
<path d="M576.14,193.10 L585.60,185.32 L595.06,193.10 M540.67,232.28 L539.50,230.29 L538.77,230.22 L537.70,230.56 L536.61,232.28 L536.78,237.80 L536.15,245.73 L537.51,249.17 L539.50,249.81 L541.39,248.14 M630.53,232.28 L631.70,230.29 L632.43,230.22 L633.50,230.56 L634.59,232.28 L634.42,237.80 L635.05,245.73 L633.69,249.17 L631.70,249.81 L629.81,248.14"/>
</g>
<path fill="none" stroke="#1a1f2a" stroke-width="1.35" stroke-linecap="round" d="M573.7 199.2h.01M580.6 198.4h.01M588.6 198.6h.01M594.9 198.6h.01M563.8 204.4h.01M570.2 204.6h.01M577.5 204.0h.01M584.3 204.8h.01M592.9 205.9h.01M598.5 204.3h.01M607.5 203.4h.01M558.7 210.5h.01M566.3 211.1h.01M574.6 211.9h.01M581.1 211.9h.01M588.2 212.3h.01M595.9 211.9h.01M602.3 211.7h.01M609.3 209.8h.01M617.9 210.7h.01M548.0 218.2h.01M555.1 217.7h.01M563.2 218.3h.01M569.2 217.8h.01M577.4 217.0h.01M585.0 217.2h.01M593.0 218.0h.01M599.7 217.4h.01M606.9 216.3h.01M613.5 218.1h.01M620.1 218.5h.01M552.5 225.4h.01M558.8 224.1h.01M566.2 223.5h.01M574.6 223.9h.01M581.1 223.7h.01M588.0 223.3h.01M596.9 224.2h.01M604.1 224.3h.01M610.1 224.0h.01M617.7 224.3h.01M625.2 224.1h.01M549.1 230.2h.01M554.4 231.0h.01M563.7 229.6h.01M569.8 230.2h.01M576.0 231.3h.01M584.8 230.8h.01M591.6 231.1h.01M599.2 230.6h.01M606.1 229.8h.01M615.5 230.3h.01M622.0 230.7h.01M544.0 237.2h.01M552.4 237.7h.01M559.2 236.7h.01M565.2 237.9h.01M574.5 237.1h.01M581.5 237.8h.01M589.2 237.9h.01M595.5 238.4h.01M602.3 237.9h.01M611.1 237.9h.01M619.6 238.4h.01M624.6 235.8h.01M547.8 244.3h.01M553.9 241.9h.01M562.8 243.6h.01M569.8 243.6h.01M576.7 242.4h.01M584.7 242.8h.01M590.9 244.0h.01M599.6 243.9h.01M606.2 243.1h.01M613.6 242.9h.01M622.0 243.0h.01M551.5 248.9h.01M558.5 250.6h.01M566.2 250.1h.01M573.5 251.0h.01M581.1 248.3h.01M587.9 248.5h.01M593.3 249.6h.01M604.4 250.1h.01M609.8 249.3h.01M619.0 250.2h.01M625.5 250.0h.01M548.2 256.7h.01M554.4 256.9h.01M562.1 257.4h.01M569.0 256.4h.01M577.4 255.4h.01M586.2 257.6h.01M591.8 257.1h.01M599.9 254.4h.01M607.2 256.4h.01M614.5 255.6h.01M621.6 256.3h.01M559.7 263.7h.01M566.8 263.0h.01M573.9 262.7h.01M580.9 263.0h.01M589.7 263.4h.01M595.9 262.5h.01M602.8 264.2h.01M611.1 263.0h.01M617.8 262.0h.01M561.9 270.1h.01M569.4 269.8h.01M578.6 269.1h.01M584.3 269.5h.01M592.2 268.6h.01M600.0 271.0h.01M606.8 269.2h.01M574.5 275.0h.01M580.4 275.4h.01M588.7 275.6h.01M596.1 276.0h.01"/>
<defs>
<linearGradient id="cbg" x1="0" y1="0" x2="0" y2="1"><stop offset="0.000" stop-color="#67001f"/><stop offset="0.050" stop-color="#8a0b25"/><stop offset="0.100" stop-color="#b1182b"/><stop offset="0.150" stop-color="#c43b3c"/><stop offset="0.200" stop-color="#d6604d"/><stop offset="0.250" stop-color="#e48066"/><stop offset="0.300" stop-color="#f3a481"/><stop offset="0.350" stop-color="#f8bfa4"/><stop offset="0.400" stop-color="#fddbc7"/><stop offset="0.450" stop-color="#fae9df"/><stop offset="0.500" stop-color="#f7f6f6"/><stop offset="0.550" stop-color="#e4eef4"/><stop offset="0.600" stop-color="#d1e5f0"/><stop offset="0.650" stop-color="#b1d5e7"/><stop offset="0.700" stop-color="#90c4dd"/><stop offset="0.750" stop-color="#6bacd1"/><stop offset="0.800" stop-color="#4393c3"/><stop offset="0.850" stop-color="#327cb7"/><stop offset="0.900" stop-color="#2065ab"/><stop offset="0.950" stop-color="#124984"/><stop offset="1.000" stop-color="#053061"/></linearGradient>
</defs>
<rect x="493.2" y="52" width="5.8" height="88.6" fill="url(#cbg)"/>
<line x1="499.0" y1="59.4" x2="501.8" y2="59.4" stroke="#333" stroke-width="0.8"/>
<text x="504.4" y="62.8" font-size="8.3" fill="#262626">60</text>
<line x1="499.0" y1="83.4" x2="501.8" y2="83.4" stroke="#333" stroke-width="0.8"/>
<text x="504.4" y="86.8" font-size="8.3" fill="#262626">40</text>
<line x1="499.0" y1="107.3" x2="501.8" y2="107.3" stroke="#333" stroke-width="0.8"/>
<text x="504.4" y="110.7" font-size="8.3" fill="#262626">20</text>
<line x1="499.0" y1="131.2" x2="501.8" y2="131.2" stroke="#333" stroke-width="0.8"/>
<text x="504.4" y="134.6" font-size="8.3" fill="#262626">0</text>
<rect x="651.0" y="51.7" width="5.8" height="89.0" fill="url(#cbg)"/>
<line x1="656.8" y1="74" x2="659.6" y2="74" stroke="#333" stroke-width="0.8"/>
<text x="662.2" y="77.4" font-size="8.3" fill="#262626">60</text>
<line x1="656.8" y1="99" x2="659.6" y2="99" stroke="#333" stroke-width="0.8"/>
<text x="662.2" y="102.4" font-size="8.3" fill="#262626">40</text>
<line x1="656.8" y1="123.3" x2="659.6" y2="123.3" stroke="#333" stroke-width="0.8"/>
<text x="662.2" y="126.7" font-size="8.3" fill="#262626">20</text>
<text x="681.2" y="96.5" font-size="8.6" text-anchor="middle" fill="#262626" transform="rotate(-90 681.2 96.5)">Percentage of EOG in signal</text>
<rect x="493.2" y="193" width="5.8" height="88.6" fill="url(#cbg)"/>
<line x1="499.0" y1="200.4" x2="501.8" y2="200.4" stroke="#333" stroke-width="0.8"/>
<text x="504.4" y="203.8" font-size="8.3" fill="#262626">60</text>
<line x1="499.0" y1="224.4" x2="501.8" y2="224.4" stroke="#333" stroke-width="0.8"/>
<text x="504.4" y="227.8" font-size="8.3" fill="#262626">40</text>
<line x1="499.0" y1="248.3" x2="501.8" y2="248.3" stroke="#333" stroke-width="0.8"/>
<text x="504.4" y="251.7" font-size="8.3" fill="#262626">20</text>
<line x1="499.0" y1="272.2" x2="501.8" y2="272.2" stroke="#333" stroke-width="0.8"/>
<text x="504.4" y="275.6" font-size="8.3" fill="#262626">0</text>
<rect x="651.0" y="192.7" width="5.8" height="89.0" fill="url(#cbg)"/>
<line x1="656.8" y1="215" x2="659.6" y2="215" stroke="#333" stroke-width="0.8"/>
<text x="662.2" y="218.4" font-size="8.3" fill="#262626">60</text>
<line x1="656.8" y1="240" x2="659.6" y2="240" stroke="#333" stroke-width="0.8"/>
<text x="662.2" y="243.4" font-size="8.3" fill="#262626">40</text>
<line x1="656.8" y1="264.3" x2="659.6" y2="264.3" stroke="#333" stroke-width="0.8"/>
<text x="662.2" y="267.7" font-size="8.3" fill="#262626">20</text>
<text x="681.2" y="237.5" font-size="8.6" text-anchor="middle" fill="#262626" transform="rotate(-90 681.2 237.5)">Percentage of EOG in signal</text>
<text x="428" y="32.9" font-size="10" text-anchor="middle" font-weight="normal" fill="#262626">Pre-RT</text>
<text x="585.8" y="32.9" font-size="10" text-anchor="middle" font-weight="normal" fill="#262626">Post-RT</text>
<text x="362.2" y="96.6" font-size="10" text-anchor="middle" font-weight="normal" fill="#262626" transform="rotate(-90 362.2 96.6)">Model</text>
<text x="362.2" y="237.6" font-size="10" text-anchor="middle" font-weight="normal" fill="#262626" transform="rotate(-90 362.2 237.6)">ICA</text>
</svg>
</body></html>
